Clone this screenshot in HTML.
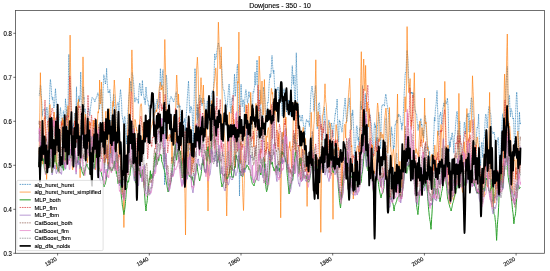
<!DOCTYPE html>
<html><head><meta charset="utf-8"><style>
html,body{margin:0;padding:0;background:#fff;}
svg{display:block;will-change:transform;}
text{font-family:"Liberation Sans", sans-serif;stroke:#000;stroke-width:0.12px;paint-order:stroke;}
</style></head><body>
<svg width="550" height="271" viewBox="0 0 550 271">
<rect x="0" y="0" width="550" height="271" fill="#fff"/>
<defs><clipPath id="ax"><rect x="15.5" y="10.5" width="529.0" height="242.8"/></clipPath></defs>
<g clip-path="url(#ax)"><polyline fill="none" stroke="#1f77b4" stroke-width="0.65" stroke-linejoin="round" stroke-dasharray="1.1,0.55" points="39.0,95.4 39.2,95.5 39.4,94.1 39.6,92.2 39.8,90.7 40.0,89.3 40.2,87.6 40.4,85.1 40.6,85.2 40.8,86.6 41.0,88.7 41.2,92.3 41.4,96.8 41.6,100.0 41.8,102.1 42.0,106.4 42.2,112.0 42.4,116.3 42.6,113.1 42.8,111.3 43.0,110.7 43.2,109.9 43.4,109.6 43.6,109.2 43.8,109.1 44.0,109.4 44.2,109.2 44.4,109.6 44.6,109.6 44.8,108.7 45.0,109.4 45.2,110.9 45.4,112.4 45.6,114.8 45.8,119.0 46.0,115.2 46.2,111.9 46.4,110.0 46.6,108.6 46.8,107.3 47.0,107.2 47.2,109.2 47.4,110.3 47.6,111.6 47.8,115.9 48.0,122.7 48.2,127.1 48.4,124.7 48.6,121.7 48.8,119.0 49.0,114.0 49.2,109.7 49.4,104.4 49.6,97.3 49.8,90.6 50.0,85.0 50.2,81.6 50.4,79.4 50.6,81.1 50.8,83.2 51.0,85.2 51.2,87.0 51.4,90.5 51.6,94.1 51.8,96.5 52.0,98.1 52.2,99.0 52.4,99.7 52.6,99.3 52.8,97.0 53.0,99.6 53.3,102.2 53.5,105.4 53.7,107.4 53.9,108.1 54.1,107.1 54.3,106.7 54.5,105.8 54.7,102.0 54.9,97.5 55.1,94.0 55.3,91.6 55.5,88.6 55.7,92.3 55.9,94.8 56.1,97.5 56.3,101.7 56.5,105.8 56.7,109.5 56.9,114.6 57.1,119.4 57.3,124.6 57.5,132.7 57.7,138.2 57.9,138.9 58.1,133.3 58.3,125.8 58.5,122.5 58.7,122.6 58.9,122.4 59.1,120.1 59.3,118.1 59.5,115.6 59.7,113.8 59.9,113.1 60.1,111.5 60.3,108.6 60.5,107.5 60.7,109.8 60.9,112.3 61.1,116.2 61.3,122.5 61.5,129.1 61.7,133.8 61.9,137.0 62.1,133.8 62.3,132.4 62.5,131.4 62.7,128.6 62.9,121.8 63.1,115.2 63.3,111.6 63.5,110.7 63.7,111.0 63.9,115.2 64.1,122.8 64.3,129.0 64.5,127.3 64.7,126.7 64.9,124.3 65.1,114.1 65.3,105.2 65.5,98.7 65.7,102.4 65.9,103.4 66.1,104.5 66.3,106.9 66.5,106.9 66.7,108.0 66.9,110.1 67.1,113.4 67.3,116.4 67.5,116.4 67.7,115.6 67.9,113.5 68.1,106.5 68.3,87.8 68.5,72.1 68.7,61.4 68.9,54.3 69.1,60.5 69.3,67.5 69.5,74.1 69.7,79.5 69.9,82.5 70.1,86.5 70.3,93.9 70.5,98.9 70.7,101.9 70.9,104.2 71.1,110.0 71.3,120.1 71.5,129.6 71.7,133.6 71.9,132.4 72.1,128.8 72.3,126.1 72.5,128.2 72.7,129.0 72.9,128.3 73.1,126.8 73.3,123.6 73.5,124.2 73.7,126.2 73.9,125.7 74.1,123.7 74.3,118.2 74.5,113.1 74.7,115.9 74.9,124.4 75.1,128.9 75.3,127.7 75.5,121.2 75.7,115.1 75.9,111.3 76.1,107.4 76.3,98.6 76.5,86.8 76.7,97.8 76.9,105.4 77.1,111.5 77.3,114.0 77.5,113.4 77.7,116.6 77.9,120.0 78.1,117.6 78.3,112.5 78.5,106.2 78.7,99.6 78.9,95.9 79.1,101.0 79.3,102.0 79.5,99.5 79.7,98.9 79.9,99.7 80.1,97.7 80.3,90.5 80.5,81.2 80.7,72.0 80.9,81.1 81.1,93.0 81.3,105.0 81.6,112.9 81.8,115.4 82.0,114.3 82.2,113.2 82.4,116.2 82.6,112.5 82.8,101.1 83.0,90.5 83.2,86.7 83.4,87.2 83.6,93.4 83.8,99.2 84.0,97.2 84.2,99.9 84.4,110.3 84.6,111.9 84.8,109.0 85.0,108.5 85.2,109.0 85.4,112.1 85.6,118.4 85.8,123.7 86.0,129.7 86.2,137.0 86.4,145.3 86.6,143.1 86.8,130.4 87.0,122.2 87.2,120.2 87.4,115.9 87.6,112.0 87.8,111.1 88.0,111.6 88.2,110.8 88.4,109.3 88.6,107.9 88.8,109.0 89.0,110.6 89.2,112.7 89.4,113.4 89.6,114.0 89.8,115.7 90.0,114.5 90.2,111.2 90.4,108.9 90.6,107.4 90.8,105.9 91.0,104.9 91.2,103.3 91.4,101.4 91.6,99.9 91.8,98.5 92.0,97.5 92.2,97.3 92.4,97.4 92.6,97.7 92.8,98.1 93.0,98.3 93.2,98.5 93.4,98.8 93.6,98.9 93.8,98.9 94.0,99.6 94.2,100.4 94.4,100.8 94.6,101.8 94.8,101.7 95.0,101.8 95.2,101.2 95.4,99.8 95.6,99.0 95.8,98.9 96.0,98.5 96.2,97.8 96.4,97.1 96.6,96.9 96.8,97.0 97.0,97.2 97.2,95.7 97.4,94.2 97.6,93.5 97.8,92.9 98.0,92.8 98.2,94.2 98.4,94.7 98.6,94.5 98.8,95.4 99.0,98.3 99.2,104.2 99.4,108.9 99.6,109.4 99.8,106.1 100.0,104.0 100.2,101.7 100.4,98.7 100.6,95.0 100.8,91.3 101.0,89.4 101.2,89.1 101.4,91.6 101.6,96.2 101.8,100.0 102.0,107.1 102.2,121.4 102.4,131.4 102.6,115.9 102.8,103.6 103.0,93.8 103.2,86.7 103.4,81.9 103.6,77.7 103.8,74.8 104.0,76.1 104.2,76.5 104.4,77.1 104.6,78.5 104.8,80.1 105.0,81.3 105.2,82.8 105.4,84.1 105.6,83.0 105.8,80.2 106.0,78.4 106.2,77.4 106.4,73.7 106.6,68.3 106.8,73.1 107.0,78.1 107.2,81.9 107.4,84.6 107.6,87.2 107.8,89.3 108.0,91.8 108.2,92.7 108.4,91.5 108.6,91.3 108.8,91.8 109.0,92.2 109.2,93.0 109.4,92.0 109.6,90.9 109.9,89.5 110.1,92.4 110.3,95.5 110.5,97.6 110.7,100.9 110.9,110.8 111.1,126.5 111.3,139.9 111.5,146.0 111.7,143.9 111.9,137.1 112.1,123.4 112.3,115.9 112.5,116.6 112.7,115.4 112.9,110.7 113.1,103.8 113.3,98.1 113.5,94.7 113.7,94.0 113.9,94.8 114.1,96.2 114.3,103.7 114.5,113.2 114.7,112.9 114.9,110.3 115.1,116.7 115.3,127.3 115.5,133.9 115.7,137.6 115.9,136.1 116.1,130.4 116.3,125.9 116.5,116.1 116.7,107.5 116.9,105.2 117.1,105.1 117.3,103.8 117.5,103.2 117.7,102.4 117.9,102.6 118.1,102.8 118.3,102.8 118.5,104.0 118.7,107.3 118.9,111.4 119.1,109.7 119.3,102.7 119.5,99.4 119.7,98.4 119.9,96.8 120.1,94.2 120.3,91.8 120.5,89.5 120.7,91.6 120.9,93.4 121.1,95.7 121.3,98.4 121.5,101.7 121.7,106.2 121.9,112.2 122.1,115.6 122.3,116.1 122.5,118.0 122.7,119.7 122.9,119.7 123.1,120.2 123.3,122.5 123.5,123.3 123.7,123.6 123.9,122.7 124.1,119.6 124.3,117.9 124.5,117.2 124.7,116.4 124.9,116.9 125.1,119.6 125.3,122.3 125.5,125.6 125.7,128.3 125.9,132.7 126.1,134.9 126.3,135.4 126.5,142.0 126.7,144.2 126.9,137.4 127.1,126.7 127.3,122.6 127.5,123.3 127.7,118.9 127.9,113.2 128.1,109.6 128.3,107.0 128.5,103.7 128.7,99.6 128.9,96.3 129.1,94.6 129.3,93.3 129.5,91.6 129.7,91.3 129.9,91.1 130.1,88.7 130.3,85.8 130.5,82.9 130.7,81.1 130.9,82.5 131.1,86.4 131.3,90.3 131.5,91.8 131.7,83.0 131.9,74.7 132.1,72.5 132.3,73.7 132.5,74.8 132.7,75.4 132.9,75.9 133.1,78.2 133.3,80.7 133.5,82.1 133.7,84.0 133.9,87.0 134.1,90.4 134.3,94.1 134.5,97.5 134.7,100.7 134.9,102.1 135.1,101.1 135.3,99.1 135.5,98.4 135.7,98.2 135.9,97.8 136.1,97.7 136.3,98.1 136.5,98.6 136.7,99.3 136.9,100.2 137.1,100.0 137.3,99.6 137.5,100.0 137.7,100.2 137.9,100.4 138.2,102.0 138.4,103.6 138.6,98.7 138.8,92.0 139.0,88.8 139.2,86.8 139.4,85.1 139.6,83.9 139.8,83.0 140.0,84.3 140.2,86.3 140.4,88.9 140.6,91.3 140.8,92.7 141.0,93.6 141.2,94.9 141.4,95.9 141.6,93.0 141.8,90.1 142.0,87.5 142.2,84.1 142.4,80.4 142.6,83.8 142.8,88.3 143.0,91.5 143.2,93.2 143.4,94.1 143.6,94.4 143.8,96.0 144.0,99.1 144.2,99.5 144.4,98.2 144.6,98.0 144.8,100.1 145.0,104.0 145.2,104.5 145.4,102.2 145.6,98.3 145.8,92.9 146.0,87.0 146.2,90.9 146.4,92.8 146.6,94.6 146.8,96.1 147.0,97.8 147.2,99.1 147.4,99.9 147.6,100.6 147.8,100.3 148.0,100.8 148.2,102.7 148.4,105.6 148.6,105.2 148.8,105.1 149.0,108.9 149.2,112.7 149.4,112.7 149.6,113.6 149.8,117.6 150.0,121.3 150.2,118.5 150.4,113.0 150.6,109.6 150.8,107.0 151.0,103.5 151.2,100.6 151.4,98.8 151.6,97.3 151.8,96.3 152.0,95.8 152.2,95.6 152.4,95.7 152.6,96.4 152.8,97.2 153.0,97.5 153.2,98.6 153.4,100.4 153.6,101.7 153.8,102.6 154.0,103.9 154.2,104.1 154.4,103.8 154.6,104.2 154.8,108.5 155.0,112.7 155.2,110.6 155.4,108.3 155.6,107.5 155.8,105.5 156.0,103.7 156.2,103.4 156.4,103.7 156.6,102.8 156.8,100.6 157.0,99.2 157.2,99.1 157.4,100.1 157.6,100.8 157.8,102.5 158.0,106.9 158.2,108.7 158.4,106.5 158.6,105.2 158.8,105.9 159.0,105.0 159.2,100.0 159.4,95.7 159.6,91.8 159.8,86.5 160.0,82.2 160.2,75.0 160.4,68.5 160.6,73.0 160.8,76.3 161.0,78.2 161.2,80.7 161.4,84.2 161.6,86.8 161.8,85.6 162.0,82.8 162.2,78.5 162.4,75.3 162.6,72.9 162.8,71.2 163.0,69.6 163.2,75.1 163.4,88.3 163.6,103.1 163.8,118.8 164.0,134.6 164.2,150.9 164.4,167.7 164.6,185.0 164.8,167.2 165.0,150.0 165.2,134.5 165.4,118.7 165.6,102.8 165.8,89.7 166.0,80.5 166.2,75.0 166.4,76.0 166.7,78.6 166.9,82.1 167.1,85.4 167.3,89.2 167.5,93.8 167.7,98.7 167.9,102.6 168.1,105.9 168.3,107.1 168.5,109.0 168.7,112.4 168.9,113.1 169.1,107.7 169.3,104.7 169.5,104.3 169.7,102.1 169.9,99.8 170.1,99.3 170.3,98.6 170.5,98.0 170.7,97.1 170.9,96.5 171.1,96.3 171.3,96.4 171.5,97.3 171.7,98.1 171.9,98.0 172.1,98.3 172.3,99.4 172.5,99.9 172.7,100.0 172.9,100.1 173.1,100.1 173.3,101.1 173.5,102.0 173.7,101.9 173.9,101.5 174.1,100.6 174.3,99.0 174.5,98.5 174.7,98.4 174.9,98.2 175.1,97.3 175.3,95.5 175.5,94.3 175.7,93.5 175.9,93.5 176.1,92.6 176.3,91.8 176.5,93.5 176.7,98.0 176.9,103.5 177.1,105.4 177.3,106.6 177.5,108.0 177.7,107.7 177.9,107.3 178.1,106.9 178.3,107.1 178.5,106.9 178.7,105.1 178.9,103.9 179.1,103.8 179.3,105.3 179.5,107.5 179.7,107.5 179.9,105.6 180.1,107.2 180.3,112.1 180.5,118.0 180.7,120.2 180.9,123.3 181.1,130.6 181.3,140.1 181.5,142.9 181.7,136.9 181.9,129.8 182.1,127.4 182.3,128.7 182.5,129.3 182.7,131.5 182.9,132.8 183.1,127.0 183.3,122.1 183.5,122.6 183.7,121.1 183.9,121.3 184.1,121.8 184.3,121.3 184.5,119.9 184.7,118.4 184.9,120.7 185.1,124.5 185.3,129.5 185.5,130.9 185.7,124.6 185.9,120.3 186.1,117.6 186.3,115.1 186.5,111.8 186.7,109.3 186.9,106.2 187.1,101.8 187.3,98.5 187.5,95.8 187.7,92.4 187.9,89.2 188.1,86.9 188.3,84.3 188.5,81.0 188.7,85.1 188.9,90.2 189.1,95.7 189.3,101.8 189.5,107.6 189.7,111.4 189.9,113.2 190.1,113.0 190.3,109.3 190.5,107.3 190.7,107.0 190.9,106.1 191.1,106.4 191.3,108.2 191.5,108.9 191.7,108.1 191.9,110.0 192.1,112.3 192.3,115.4 192.5,121.0 192.7,127.3 192.9,135.3 193.1,142.6 193.3,146.1 193.5,133.6 193.7,117.0 193.9,106.0 194.1,101.6 194.3,94.5 194.5,83.3 194.7,74.2 195.0,68.5 195.2,71.8 195.4,74.9 195.6,79.2 195.8,85.6 196.0,95.3 196.2,99.6 196.4,100.9 196.6,109.4 196.8,114.8 197.0,113.5 197.2,117.5 197.4,119.9 197.6,111.1 197.8,107.9 198.0,112.1 198.2,111.4 198.4,104.7 198.6,100.4 198.8,98.3 199.0,98.5 199.2,99.8 199.4,98.2 199.6,95.1 199.8,94.8 200.0,96.7 200.2,97.5 200.4,99.3 200.6,102.3 200.8,102.7 201.0,101.3 201.2,99.1 201.4,98.4 201.6,99.8 201.8,104.6 202.0,105.9 202.2,103.6 202.4,103.0 202.6,103.2 202.8,103.8 203.0,103.3 203.2,101.2 203.4,98.6 203.6,97.9 203.8,98.5 204.0,98.9 204.2,99.3 204.4,100.7 204.6,102.8 204.8,104.2 205.0,107.2 205.2,112.8 205.4,116.1 205.6,115.2 205.8,114.4 206.0,117.3 206.2,115.7 206.4,110.8 206.6,106.5 206.8,104.8 207.0,102.6 207.2,101.0 207.4,101.1 207.6,102.1 207.8,103.0 208.0,104.0 208.2,106.1 208.4,108.3 208.6,110.3 208.8,111.9 209.0,112.4 209.2,110.5 209.4,107.5 209.6,105.5 209.8,105.4 210.0,106.0 210.2,105.9 210.4,105.1 210.6,106.0 210.8,105.3 211.0,100.1 211.2,97.1 211.4,95.5 211.6,94.5 211.8,93.7 212.0,92.8 212.2,91.7 212.4,90.6 212.6,91.8 212.8,92.2 213.0,92.3 213.2,93.3 213.4,90.6 213.6,85.3 213.8,81.6 214.0,78.7 214.2,71.2 214.4,63.3 214.6,57.8 214.8,53.7 215.0,56.7 215.2,58.3 215.4,59.0 215.6,59.5 215.8,59.3 216.0,58.3 216.2,57.6 216.4,56.6 216.6,53.9 216.8,51.7 217.0,50.5 217.2,49.2 217.4,47.9 217.6,47.0 217.8,45.9 218.0,44.6 218.2,43.5 218.4,42.7 218.6,43.7 218.8,44.7 219.0,46.1 219.2,48.1 219.4,49.8 219.6,51.5 219.8,53.2 220.0,54.7 220.2,55.5 220.4,56.1 220.6,56.3 220.8,56.7 221.0,57.4 221.2,58.6 221.4,61.5 221.6,65.3 221.8,69.0 222.0,73.3 222.2,76.9 222.4,79.5 222.6,82.7 222.8,86.8 223.0,89.1 223.3,89.4 223.5,89.7 223.7,89.8 223.9,90.0 224.1,90.8 224.3,92.3 224.5,94.2 224.7,95.3 224.9,96.8 225.1,98.6 225.3,99.6 225.5,100.9 225.7,102.9 225.9,106.0 226.1,111.6 226.3,115.7 226.5,112.6 226.7,110.6 226.9,107.7 227.1,106.1 227.3,105.6 227.5,103.3 227.7,100.1 227.9,97.2 228.1,94.5 228.3,91.7 228.5,89.2 228.7,87.4 228.9,86.0 229.1,84.0 229.3,86.6 229.5,89.2 229.7,92.9 229.9,97.9 230.1,104.0 230.3,107.7 230.5,107.7 230.7,109.7 230.9,112.2 231.1,113.5 231.3,109.5 231.5,105.7 231.7,102.6 231.9,99.7 232.1,97.9 232.3,97.5 232.5,98.9 232.7,99.6 232.9,100.9 233.1,99.4 233.3,94.2 233.5,91.2 233.7,90.1 233.9,86.9 234.1,82.6 234.3,79.0 234.5,74.0 234.7,80.3 234.9,87.5 235.1,96.5 235.3,95.8 235.5,93.6 235.7,92.0 235.9,88.9 236.1,84.0 236.3,79.1 236.5,76.6 236.7,74.4 236.9,71.9 237.1,68.0 237.3,64.7 237.5,64.5 237.7,68.9 237.9,70.7 238.1,81.0 238.3,98.1 238.5,112.4 238.7,123.8 238.9,139.6 239.1,160.3 239.3,178.2 239.5,196.0 239.7,176.6 239.9,157.4 240.1,139.6 240.3,124.0 240.5,110.8 240.7,98.9 240.9,88.4 241.1,84.2 241.3,90.0 241.5,93.8 241.7,97.3 241.9,102.4 242.1,106.1 242.3,106.6 242.5,105.5 242.7,103.5 242.9,100.9 243.1,99.6 243.3,100.9 243.5,101.8 243.7,101.6 243.9,103.2 244.1,107.2 244.3,112.1 244.5,109.6 244.7,102.9 244.9,98.9 245.1,95.8 245.3,93.6 245.5,91.9 245.7,91.0 245.9,89.7 246.1,91.1 246.3,92.0 246.5,93.6 246.7,96.2 246.9,97.7 247.1,99.5 247.3,102.3 247.5,103.3 247.7,102.5 247.9,100.6 248.1,99.0 248.3,98.6 248.5,96.5 248.7,93.5 248.9,91.5 249.1,93.1 249.3,94.8 249.5,96.9 249.7,97.2 249.9,96.2 250.1,96.2 250.3,96.8 250.5,97.0 250.7,99.7 250.9,102.7 251.1,104.1 251.3,105.3 251.6,107.0 251.8,112.1 252.0,124.6 252.2,128.9 252.4,120.8 252.6,108.4 252.8,98.6 253.0,93.7 253.2,91.2 253.4,91.6 253.6,91.8 253.8,92.4 254.0,90.7 254.2,88.3 254.4,87.5 254.6,84.7 254.8,79.2 255.0,72.0 255.2,79.5 255.4,84.6 255.6,85.2 255.8,84.7 256.0,83.5 256.2,78.7 256.4,72.7 256.6,68.7 256.8,64.5 257.0,60.0 257.2,64.4 257.4,70.6 257.6,81.0 257.8,93.6 258.0,100.5 258.2,107.5 258.4,124.7 258.6,136.2 258.8,135.5 259.0,131.2 259.2,127.2 259.4,119.0 259.6,108.2 259.8,98.2 260.0,89.9 260.2,91.7 260.4,97.5 260.6,102.7 260.8,107.7 261.0,111.3 261.2,115.5 261.4,117.5 261.6,119.5 261.8,129.1 262.0,140.4 262.2,146.1 262.4,150.0 262.6,147.7 262.8,131.7 263.0,113.4 263.2,98.6 263.4,89.8 263.6,87.2 263.8,89.6 264.0,90.6 264.2,90.5 264.4,92.6 264.6,95.7 264.8,97.5 265.0,99.4 265.2,105.2 265.4,112.1 265.6,113.6 265.8,113.3 266.0,115.6 266.2,118.2 266.4,115.1 266.6,112.4 266.8,111.3 267.0,112.1 267.2,109.3 267.4,105.2 267.6,102.6 267.8,102.0 268.0,102.9 268.2,101.7 268.4,99.1 268.6,94.8 268.8,90.5 269.0,86.5 269.2,83.4 269.4,80.8 269.6,78.4 269.8,76.0 270.0,74.0 270.2,76.0 270.4,77.6 270.6,77.2 270.8,75.7 271.0,73.1 271.2,70.0 271.4,66.5 271.6,62.8 271.8,59.2 272.0,55.5 272.2,59.1 272.4,62.7 272.6,65.5 272.8,68.1 273.0,70.0 273.2,72.2 273.4,73.4 273.6,72.7 273.8,70.0 274.0,73.8 274.2,78.0 274.4,82.1 274.6,86.5 274.8,91.2 275.0,95.0 275.2,96.4 275.4,97.4 275.6,96.3 275.8,92.1 276.0,88.7 276.2,91.4 276.4,93.0 276.6,91.7 276.8,90.3 277.0,90.0 277.2,90.2 277.4,90.0 277.6,89.5 277.8,88.0 278.0,86.9 278.2,89.1 278.4,92.1 278.6,95.1 278.8,99.4 279.0,105.5 279.2,100.0 279.4,94.2 279.6,92.4 279.9,90.5 280.1,88.6 280.3,87.1 280.5,86.3 280.7,87.8 280.9,89.0 281.1,90.0 281.3,92.9 281.5,97.2 281.7,102.0 281.9,107.9 282.1,114.5 282.3,116.0 282.5,108.8 282.7,102.4 282.9,98.4 283.1,95.5 283.3,93.5 283.5,92.2 283.7,90.5 283.9,89.2 284.1,88.8 284.3,90.0 284.5,91.5 284.7,92.2 284.9,92.4 285.1,93.8 285.3,95.7 285.5,97.6 285.7,100.8 285.9,104.8 286.1,109.2 286.3,112.3 286.5,111.5 286.7,108.8 286.9,107.5 287.1,106.7 287.3,104.4 287.5,103.3 287.7,104.3 287.9,104.2 288.1,103.0 288.3,101.5 288.5,99.8 288.7,99.8 288.9,103.2 289.1,105.9 289.3,107.5 289.5,108.2 289.7,107.7 289.9,110.9 290.1,115.6 290.3,115.0 290.5,112.4 290.7,111.5 290.9,111.0 291.1,105.6 291.3,94.5 291.5,85.2 291.7,79.4 291.9,74.2 292.1,69.6 292.3,65.7 292.5,70.0 292.7,73.7 292.9,76.9 293.1,81.2 293.3,84.6 293.5,84.0 293.7,80.6 293.9,75.0 294.1,82.5 294.3,88.6 294.5,93.8 294.7,101.2 294.9,105.7 295.1,107.0 295.3,105.9 295.5,97.7 295.7,87.0 295.9,74.9 296.1,63.1 296.3,52.8 296.5,62.1 296.7,72.3 296.9,80.3 297.1,83.9 297.3,89.2 297.5,98.7 297.7,105.0 297.9,104.3 298.1,103.4 298.3,108.0 298.5,112.4 298.7,113.8 298.9,115.6 299.1,115.7 299.3,115.2 299.5,117.3 299.7,116.4 299.9,115.4 300.1,118.1 300.3,120.0 300.5,120.5 300.7,120.8 300.9,120.5 301.1,121.2 301.3,120.4 301.5,118.4 301.7,117.3 301.9,116.2 302.1,115.1 302.3,115.0 302.5,116.5 302.7,118.8 302.9,121.2 303.1,122.4 303.3,123.0 303.5,124.5 303.7,126.0 303.9,126.0 304.1,126.5 304.3,129.0 304.5,131.9 304.7,133.7 304.9,135.0 305.1,132.5 305.3,129.9 305.5,127.7 305.7,124.0 305.9,122.5 306.1,121.9 306.3,120.5 306.5,119.3 306.7,119.9 306.9,120.8 307.1,121.2 307.3,121.9 307.5,121.9 307.7,121.4 307.9,120.9 308.2,120.5 308.4,121.6 308.6,122.6 308.8,122.5 309.0,123.0 309.2,124.1 309.4,126.4 309.6,121.5 309.8,117.5 310.0,114.8 310.2,111.5 310.4,106.0 310.6,99.7 310.8,95.7 311.0,92.7 311.2,91.4 311.4,90.2 311.6,88.8 311.8,87.4 312.0,86.0 312.2,87.3 312.4,88.8 312.6,90.6 312.8,92.5 313.0,95.0 313.2,97.5 313.4,98.8 313.6,100.4 313.8,106.9 314.0,111.3 314.2,105.7 314.4,97.6 314.6,93.6 314.8,93.3 315.0,92.9 315.2,90.0 315.4,85.7 315.6,85.5 315.8,92.2 316.0,99.7 316.2,106.7 316.4,114.5 316.6,124.1 316.8,124.6 317.0,125.4 317.2,128.9 317.4,127.2 317.6,124.1 317.8,122.7 318.0,115.9 318.2,109.0 318.4,105.3 318.6,103.7 318.8,103.1 319.0,102.8 319.2,102.6 319.4,102.6 319.6,105.1 319.8,109.3 320.0,115.2 320.2,118.4 320.4,118.6 320.6,118.9 320.8,122.7 321.0,130.9 321.2,135.2 321.4,134.6 321.6,137.7 321.8,143.8 322.0,146.9 322.2,151.0 322.4,151.1 322.6,148.3 322.8,142.9 323.0,137.8 323.2,131.3 323.4,126.7 323.6,126.4 323.8,123.4 324.0,115.8 324.2,109.0 324.4,107.1 324.6,109.4 324.8,114.7 325.0,117.1 325.2,118.1 325.4,120.6 325.6,124.6 325.8,133.6 326.0,142.5 326.2,143.9 326.4,141.0 326.6,136.5 326.8,135.8 327.0,140.0 327.2,141.7 327.4,144.3 327.6,144.0 327.8,135.1 328.0,126.5 328.2,125.0 328.4,124.5 328.6,121.8 328.8,120.0 329.0,120.0 329.2,123.3 329.4,127.5 329.6,126.3 329.8,129.6 330.0,141.4 330.2,146.2 330.4,137.7 330.6,130.3 330.8,128.4 331.0,127.0 331.2,124.7 331.4,123.3 331.6,122.8 331.8,125.4 332.0,125.5 332.2,125.9 332.4,131.0 332.6,137.1 332.8,136.9 333.0,135.8 333.2,136.0 333.4,136.1 333.6,133.6 333.8,127.5 334.0,123.7 334.2,122.4 334.4,122.1 334.6,119.9 334.8,117.6 335.0,115.7 335.2,113.7 335.4,114.4 335.6,112.4 335.8,109.8 336.0,108.1 336.2,108.0 336.5,108.5 336.7,107.5 336.9,104.5 337.1,99.0 337.3,106.3 337.5,114.5 337.7,123.4 337.9,128.5 338.1,132.6 338.3,136.5 338.5,141.6 338.7,142.0 338.9,134.0 339.1,125.5 339.3,120.3 339.5,119.9 339.7,122.3 339.9,122.0 340.1,121.5 340.3,122.1 340.5,123.1 340.7,125.3 340.9,126.7 341.1,127.2 341.3,128.8 341.5,129.4 341.7,129.6 341.9,132.2 342.1,131.4 342.3,128.1 342.5,126.7 342.7,124.7 342.9,121.6 343.1,119.7 343.3,118.3 343.5,115.1 343.7,111.7 343.9,109.2 344.1,108.1 344.3,106.6 344.5,104.4 344.7,102.8 344.9,100.6 345.1,98.0 345.3,100.3 345.5,103.2 345.7,107.4 345.9,112.6 346.1,116.9 346.3,117.6 346.5,119.0 346.7,121.9 346.9,120.9 347.1,117.8 347.3,116.7 347.5,115.2 347.7,113.2 347.9,110.3 348.1,107.7 348.3,106.8 348.5,105.2 348.7,102.6 348.9,99.6 349.1,97.9 349.3,98.8 349.5,102.5 349.7,105.1 349.9,107.9 350.1,111.6 350.3,114.8 350.5,118.3 350.7,123.1 350.9,125.2 351.1,128.8 351.3,130.0 351.5,126.1 351.7,118.9 351.9,113.3 352.1,114.0 352.3,115.6 352.5,112.5 352.7,109.9 352.9,111.3 353.1,117.0 353.3,123.1 353.5,126.4 353.7,129.7 353.9,135.8 354.1,142.2 354.3,149.4 354.5,156.0 354.7,164.2 354.9,165.5 355.1,157.6 355.3,151.4 355.5,145.5 355.7,141.9 355.9,139.8 356.1,135.2 356.3,129.8 356.5,126.3 356.7,125.8 356.9,125.7 357.1,126.0 357.3,127.9 357.5,131.8 357.7,135.5 357.9,138.7 358.1,140.6 358.3,138.1 358.5,137.2 358.7,145.5 358.9,153.7 359.1,149.7 359.3,140.4 359.5,130.8 359.7,127.8 359.9,130.8 360.1,127.2 360.3,113.7 360.5,103.5 360.7,101.2 360.9,104.6 361.1,108.8 361.3,106.2 361.5,105.6 361.7,109.8 361.9,106.1 362.1,97.1 362.3,91.7 362.5,85.5 362.7,95.7 362.9,107.9 363.1,120.6 363.3,130.3 363.5,135.0 363.7,135.1 363.9,131.4 364.1,126.3 364.3,115.1 364.5,105.4 364.8,101.8 365.0,100.1 365.2,95.8 365.4,93.6 365.6,98.9 365.8,107.3 366.0,111.7 366.2,117.1 366.4,124.0 366.6,127.1 366.8,126.4 367.0,126.9 367.2,127.2 367.4,129.2 367.6,129.3 367.8,127.1 368.0,127.5 368.2,127.1 368.4,123.6 368.6,120.8 368.8,119.6 369.0,119.4 369.2,121.1 369.4,118.1 369.6,113.8 369.8,114.1 370.0,114.9 370.2,115.2 370.4,116.7 370.6,119.1 370.8,121.2 371.0,123.3 371.2,123.4 371.4,124.9 371.6,128.1 371.8,131.6 372.0,133.9 372.2,134.9 372.4,138.7 372.6,143.3 372.8,146.3 373.0,149.2 373.2,153.3 373.4,157.0 373.6,151.6 373.8,143.7 374.0,134.8 374.2,127.6 374.4,123.7 374.6,122.7 374.8,123.7 375.0,124.9 375.2,127.6 375.4,127.8 375.6,125.5 375.8,128.0 376.0,137.7 376.2,141.5 376.4,137.4 376.6,139.3 376.8,146.0 377.0,149.7 377.2,139.5 377.4,128.3 377.6,123.9 377.8,122.7 378.0,121.0 378.2,119.8 378.4,117.4 378.6,114.5 378.8,112.4 379.0,113.6 379.2,115.1 379.4,118.4 379.6,123.3 379.8,123.8 380.0,127.1 380.2,139.8 380.4,148.9 380.6,147.0 380.8,142.0 381.0,131.4 381.2,121.0 381.4,114.4 381.6,109.2 381.8,106.6 382.0,105.4 382.2,105.9 382.4,105.7 382.6,105.0 382.8,104.5 383.0,104.3 383.2,104.5 383.4,105.0 383.6,105.1 383.8,104.9 384.0,104.8 384.2,105.1 384.4,106.1 384.6,105.2 384.8,101.7 385.0,99.4 385.2,98.1 385.4,96.7 385.6,95.3 385.8,94.0 386.0,95.3 386.2,96.6 386.4,97.9 386.6,99.6 386.8,101.9 387.0,103.9 387.2,105.0 387.4,106.0 387.6,107.3 387.8,109.3 388.0,110.3 388.2,111.4 388.4,112.7 388.6,114.3 388.8,117.5 389.0,121.8 389.2,123.3 389.4,124.3 389.6,126.9 389.8,131.9 390.0,138.4 390.2,143.9 390.4,146.6 390.6,142.9 390.8,138.8 391.0,135.1 391.2,131.7 391.4,127.8 391.6,126.8 391.8,130.1 392.0,134.4 392.2,135.0 392.4,133.9 392.6,134.5 392.8,138.6 393.1,145.0 393.3,150.0 393.5,150.3 393.7,145.8 393.9,146.1 394.1,147.4 394.3,144.8 394.5,139.2 394.7,132.4 394.9,127.7 395.1,124.8 395.3,124.1 395.5,124.6 395.7,124.2 395.9,123.1 396.1,121.6 396.3,121.0 396.5,121.2 396.7,119.9 396.9,120.5 397.1,123.3 397.3,122.7 397.5,119.5 397.7,116.4 397.9,114.5 398.1,115.7 398.3,117.0 398.5,115.5 398.7,114.1 398.9,114.0 399.1,114.8 399.3,115.2 399.5,115.3 399.7,115.6 399.9,115.6 400.1,116.0 400.3,118.4 400.5,120.6 400.7,121.5 400.9,122.8 401.1,123.7 401.3,123.1 401.5,124.6 401.7,129.2 401.9,130.2 402.1,124.7 402.3,123.6 402.5,124.9 402.7,125.3 402.9,124.2 403.1,120.2 403.3,113.9 403.5,109.1 403.7,104.6 403.9,99.6 404.1,95.6 404.3,91.3 404.5,87.2 404.7,84.1 404.9,79.9 405.1,75.7 405.3,73.2 405.5,72.3 405.7,72.8 405.9,72.8 406.1,71.6 406.3,64.8 406.5,59.3 406.7,54.8 406.9,51.0 407.1,50.4 407.3,52.0 407.5,53.9 407.7,56.6 407.9,59.8 408.1,64.2 408.3,69.8 408.5,74.6 408.7,79.1 408.9,82.9 409.1,83.1 409.3,83.4 409.5,83.9 409.7,86.0 409.9,88.8 410.1,91.4 410.3,93.4 410.5,94.0 410.7,93.0 410.9,92.6 411.1,93.4 411.3,92.9 411.5,92.1 411.7,92.8 411.9,93.5 412.1,92.8 412.3,92.1 412.5,92.5 412.7,94.9 412.9,97.6 413.1,96.6 413.3,94.9 413.5,93.6 413.7,92.4 413.9,93.3 414.1,97.6 414.3,104.1 414.5,106.0 414.7,106.1 414.9,109.3 415.1,111.0 415.3,110.5 415.5,110.9 415.7,112.2 415.9,113.7 416.1,114.2 416.3,114.3 416.5,114.3 416.7,114.7 416.9,117.9 417.1,120.6 417.3,122.5 417.5,124.5 417.7,125.2 417.9,127.6 418.1,130.5 418.3,128.6 418.5,126.4 418.7,125.0 418.9,124.2 419.1,124.5 419.3,125.8 419.5,127.4 419.7,127.6 419.9,126.3 420.1,124.3 420.3,122.0 420.5,119.7 420.7,118.8 420.9,118.5 421.1,120.2 421.3,123.4 421.6,125.3 421.8,124.1 422.0,125.3 422.2,131.8 422.4,135.6 422.6,135.0 422.8,134.1 423.0,130.2 423.2,130.2 423.4,133.4 423.6,138.0 423.8,137.5 424.0,132.6 424.2,129.3 424.4,123.3 424.6,117.5 424.8,115.8 425.0,115.4 425.2,116.1 425.4,117.7 425.6,118.4 425.8,119.9 426.0,123.6 426.2,128.5 426.4,133.1 426.6,136.6 426.8,139.1 427.0,141.5 427.2,146.5 427.4,150.3 427.6,150.9 427.8,148.1 428.0,145.9 428.2,148.1 428.4,153.4 428.6,153.9 428.8,152.5 429.0,154.8 429.2,154.6 429.4,151.2 429.6,152.5 429.8,157.2 430.0,159.3 430.2,163.1 430.4,168.9 430.6,172.9 430.8,174.0 431.0,176.2 431.2,176.1 431.4,173.2 431.6,174.7 431.8,175.3 432.0,173.7 432.2,170.2 432.4,167.1 432.6,164.7 432.8,162.0 433.0,162.1 433.2,159.0 433.4,147.2 433.6,137.7 433.8,134.9 434.0,131.4 434.2,123.2 434.4,117.4 434.6,117.9 434.8,121.4 435.0,120.2 435.2,113.8 435.4,108.8 435.6,107.8 435.8,107.0 436.0,105.1 436.2,102.9 436.4,100.2 436.6,97.1 436.8,94.4 437.0,90.6 437.2,95.9 437.4,101.9 437.6,107.4 437.8,113.4 438.0,123.0 438.2,135.5 438.4,135.6 438.6,134.8 438.8,129.9 439.0,125.1 439.2,119.8 439.4,116.6 439.6,115.1 439.8,114.9 440.0,115.4 440.2,115.4 440.4,114.1 440.6,112.0 440.8,113.6 441.0,115.0 441.2,117.4 441.4,121.3 441.6,124.0 441.8,124.6 442.0,122.4 442.2,118.1 442.4,113.7 442.6,110.5 442.8,108.4 443.0,107.5 443.2,107.1 443.4,106.1 443.6,104.6 443.8,103.2 444.0,102.8 444.2,104.0 444.4,106.2 444.6,106.7 444.8,102.6 445.0,100.4 445.2,100.5 445.4,101.2 445.6,101.7 445.8,102.9 446.0,104.0 446.2,104.0 446.4,103.1 446.6,102.0 446.8,101.7 447.0,101.4 447.2,100.3 447.4,98.0 447.6,100.5 447.8,103.0 448.0,105.9 448.2,111.0 448.4,119.6 448.6,128.5 448.8,135.3 449.0,144.5 449.2,151.7 449.4,150.8 449.6,143.4 449.9,141.5 450.1,145.8 450.3,147.1 450.5,143.1 450.7,138.9 450.9,137.6 451.1,138.5 451.3,139.7 451.5,138.4 451.7,135.1 451.9,133.2 452.1,132.7 452.3,132.8 452.5,133.8 452.7,136.0 452.9,138.4 453.1,140.1 453.3,142.5 453.5,145.3 453.7,148.9 453.9,153.2 454.1,146.0 454.3,138.7 454.5,136.0 454.7,135.1 454.9,134.8 455.1,133.1 455.3,129.6 455.5,125.9 455.7,123.2 455.9,121.4 456.1,119.2 456.3,116.6 456.5,114.6 456.7,112.9 456.9,111.9 457.1,111.3 457.3,113.1 457.5,117.8 457.7,124.2 457.9,128.0 458.1,131.5 458.3,142.9 458.5,157.0 458.7,166.3 458.9,158.0 459.1,150.5 459.3,141.4 459.5,130.6 459.7,121.0 459.9,123.1 460.1,129.6 460.3,136.6 460.5,141.4 460.7,145.9 460.9,149.7 461.1,153.7 461.3,158.2 461.5,162.7 461.7,168.1 461.9,173.3 462.1,171.0 462.3,167.1 462.5,162.2 462.7,159.4 462.9,154.7 463.1,149.2 463.3,144.2 463.5,140.7 463.7,137.7 463.9,131.1 464.1,125.0 464.3,122.1 464.5,122.5 464.7,124.3 464.9,126.4 465.1,127.6 465.3,128.9 465.5,130.9 465.7,134.1 465.9,129.2 466.1,122.1 466.3,118.5 466.5,116.7 466.7,115.4 466.9,114.5 467.1,114.3 467.3,115.6 467.5,117.3 467.7,116.5 467.9,114.1 468.1,113.2 468.3,114.5 468.5,119.3 468.7,124.7 468.9,128.7 469.1,132.2 469.3,126.7 469.5,121.4 469.7,116.2 469.9,113.9 470.1,112.4 470.3,110.1 470.5,107.7 470.7,104.8 470.9,101.8 471.1,99.5 471.3,97.8 471.5,97.7 471.7,99.3 471.9,99.7 472.1,101.3 472.3,105.1 472.5,106.3 472.7,109.3 472.9,115.9 473.1,118.8 473.3,121.3 473.5,127.4 473.7,131.7 473.9,133.4 474.1,135.2 474.3,140.2 474.5,144.5 474.7,143.9 474.9,142.9 475.1,143.9 475.3,144.4 475.5,144.0 475.7,145.4 475.9,145.1 476.1,142.3 476.3,139.8 476.5,136.1 476.7,132.9 476.9,130.0 477.1,127.3 477.3,127.6 477.5,128.0 477.7,126.9 477.9,125.6 478.2,123.0 478.4,119.2 478.6,114.0 478.8,121.0 479.0,127.9 479.2,135.1 479.4,143.6 479.6,155.0 479.8,161.2 480.0,161.4 480.2,160.4 480.4,163.3 480.6,165.9 480.8,159.1 481.0,149.8 481.2,146.4 481.4,146.8 481.6,145.2 481.8,142.1 482.0,143.1 482.2,145.5 482.4,150.8 482.6,156.9 482.8,157.7 483.0,154.3 483.2,149.5 483.4,146.3 483.6,143.9 483.8,139.8 484.0,137.8 484.2,137.9 484.4,136.9 484.6,132.6 484.8,126.9 485.0,122.5 485.2,119.4 485.4,116.9 485.6,115.2 485.8,114.0 486.0,115.1 486.2,116.2 486.4,117.1 486.6,118.7 486.8,121.8 487.0,126.4 487.2,128.0 487.4,126.5 487.6,122.1 487.8,118.6 488.0,116.0 488.2,113.5 488.4,110.9 488.6,108.9 488.8,108.0 489.0,106.8 489.2,106.0 489.4,106.1 489.6,107.4 489.8,109.9 490.0,112.4 490.2,113.1 490.4,113.0 490.6,113.6 490.8,114.9 491.0,117.4 491.2,121.2 491.4,125.7 491.6,128.4 491.8,130.3 492.0,131.4 492.2,132.5 492.4,133.2 492.6,133.5 492.8,133.2 493.0,132.8 493.2,132.4 493.4,133.2 493.6,133.5 493.8,132.8 494.0,132.2 494.2,132.3 494.4,133.7 494.6,135.4 494.8,138.1 495.0,141.2 495.2,143.1 495.4,146.3 495.6,151.2 495.8,152.0 496.0,149.5 496.2,148.5 496.4,147.4 496.6,146.0 496.8,145.7 497.0,144.8 497.2,142.4 497.4,141.2 497.6,139.9 497.8,138.6 498.0,137.8 498.2,137.3 498.4,138.6 498.6,142.4 498.8,146.5 499.0,151.2 499.2,157.0 499.4,163.7 499.6,167.6 499.8,166.1 500.0,161.1 500.2,156.8 500.4,154.3 500.6,155.4 500.8,153.8 501.0,146.3 501.2,137.3 501.4,132.3 501.6,130.5 501.8,128.0 502.0,123.9 502.2,120.2 502.4,116.4 502.6,114.2 502.8,113.6 503.0,115.7 503.2,121.5 503.4,125.4 503.6,127.3 503.8,129.4 504.0,125.1 504.2,115.5 504.4,108.8 504.6,107.4 504.8,106.0 505.0,103.4 505.2,100.5 505.4,98.0 505.6,94.7 505.8,90.0 506.0,85.6 506.2,81.9 506.5,77.1 506.7,74.5 506.9,73.7 507.1,69.9 507.3,66.5 507.5,72.3 507.7,83.8 507.9,91.7 508.1,97.6 508.3,105.9 508.5,107.1 508.7,103.0 508.9,97.5 509.1,95.5 509.3,95.2 509.5,95.3 509.7,101.9 509.9,108.0 510.1,110.9 510.3,113.5 510.5,116.6 510.7,113.5 510.9,110.3 511.1,108.5 511.3,109.7 511.5,110.3 511.7,110.5 511.9,110.9 512.1,112.3 512.3,114.0 512.5,115.2 512.7,117.1 512.9,119.1 513.1,119.2 513.3,118.6 513.5,117.8 513.7,120.4 513.9,128.5 514.1,135.2 514.3,139.2 514.5,144.0 514.7,144.9 514.9,143.6 515.1,142.9 515.3,131.0 515.5,118.5 515.7,111.5 515.9,107.1 516.1,102.9 516.3,98.5 516.5,94.6 516.7,92.0 516.9,94.5 517.1,98.5 517.3,103.6 517.5,110.5 517.7,121.0 517.9,132.1 518.1,139.7 518.3,147.1 518.5,147.2 518.7,139.3 518.9,130.2 519.1,124.5 519.3,119.0 519.5,112.0 519.7,117.2 519.9,120.2 520.1,122.6 520.3,124.2 520.5,122.8"/>
<polyline fill="none" stroke="#ff7f0e" stroke-width="0.65" stroke-linejoin="round" points="39.0,154.3 39.2,150.6 39.4,139.1 39.6,125.6 39.8,112.7 40.0,99.4 40.2,85.5 40.4,72.7 40.6,83.2 40.8,92.3 41.0,96.4 41.2,96.3 41.4,99.1 41.6,105.0 41.8,120.6 42.0,134.8 42.2,137.4 42.4,142.1 42.6,154.7 42.8,164.2 43.0,159.4 43.2,146.8 43.4,137.7 43.6,134.3 43.8,130.1 44.0,125.5 44.2,120.8 44.4,118.0 44.6,118.4 44.8,118.0 45.0,116.3 45.2,122.4 45.4,133.9 45.6,143.1 45.8,149.3 46.0,155.4 46.2,162.7 46.4,171.6 46.6,179.5 46.8,173.6 47.0,166.2 47.2,158.7 47.4,155.7 47.6,151.5 47.8,145.7 48.0,148.4 48.2,146.1 48.4,137.1 48.6,125.7 48.8,121.4 49.0,121.5 49.2,117.2 49.4,110.4 49.6,107.0 49.8,104.8 50.0,104.5 50.2,106.2 50.4,111.9 50.6,118.4 50.8,124.0 51.0,133.5 51.2,140.6 51.4,139.2 51.6,130.2 51.8,129.9 52.0,136.7 52.2,140.5 52.4,138.0 52.6,129.6 52.8,124.9 53.0,123.2 53.3,122.7 53.5,122.3 53.7,119.8 53.9,116.4 54.1,112.0 54.3,112.2 54.5,116.2 54.7,128.5 54.9,141.4 55.1,145.1 55.3,143.2 55.5,142.6 55.7,148.6 55.9,157.6 56.1,162.8 56.3,166.6 56.5,169.3 56.7,167.5 56.9,159.6 57.1,147.4 57.3,136.9 57.5,127.5 57.7,118.7 57.9,116.8 58.1,119.6 58.3,121.4 58.5,122.8 58.7,124.4 58.9,126.1 59.1,135.4 59.3,148.2 59.5,151.6 59.7,149.3 59.9,149.1 60.1,153.0 60.3,150.4 60.5,143.9 60.7,143.0 60.9,141.9 61.1,136.7 61.3,130.2 61.5,123.5 61.7,123.2 61.9,125.8 62.1,121.5 62.3,117.8 62.5,119.6 62.7,124.4 62.9,124.9 63.1,119.9 63.3,122.9 63.5,127.1 63.7,135.9 63.9,146.6 64.1,151.6 64.3,154.2 64.5,159.0 64.7,160.0 64.9,161.8 65.1,161.0 65.3,159.4 65.5,157.4 65.7,152.4 65.9,144.0 66.1,135.0 66.3,125.2 66.5,118.2 66.7,119.9 66.9,119.8 67.1,115.0 67.3,113.5 67.5,115.2 67.7,111.1 67.9,105.7 68.1,107.2 68.3,115.6 68.5,131.8 68.7,139.1 68.9,132.4 69.1,119.2 69.3,104.1 69.5,89.3 69.7,71.9 69.9,52.2 70.1,35.1 70.3,48.3 70.5,62.7 70.7,76.8 70.9,88.5 71.1,101.2 71.3,119.8 71.5,136.2 71.7,149.1 71.9,151.3 72.1,157.8 72.3,166.7 72.5,169.7 72.7,169.9 72.9,168.8 73.1,163.1 73.3,157.0 73.5,151.6 73.7,147.2 73.9,143.3 74.1,139.8 74.3,132.8 74.5,125.7 74.7,121.3 74.9,119.4 75.1,117.1 75.3,113.0 75.5,114.0 75.7,114.5 75.9,113.0 76.1,114.0 76.3,116.3 76.5,116.9 76.7,121.9 76.9,129.8 77.1,127.9 77.3,116.8 77.5,107.1 77.7,103.0 77.9,102.6 78.1,103.2 78.3,101.3 78.5,99.3 78.7,104.2 78.9,111.8 79.1,123.8 79.3,138.9 79.5,147.8 79.7,155.6 79.9,166.6 80.1,177.7 80.3,169.0 80.5,162.0 80.7,157.4 80.9,156.5 81.1,152.9 81.3,138.6 81.6,123.4 81.8,116.3 82.0,111.3 82.2,103.9 82.4,93.8 82.6,79.8 82.8,66.8 83.0,56.9 83.2,64.4 83.4,74.1 83.6,87.0 83.8,102.9 84.0,120.8 84.2,135.9 84.4,140.9 84.6,138.2 84.8,126.8 85.0,119.8 85.2,118.8 85.4,116.8 85.6,114.3 85.8,116.6 86.0,120.4 86.2,126.1 86.4,135.4 86.6,145.3 86.8,148.2 87.0,149.8 87.2,154.8 87.4,159.9 87.6,162.7 87.8,158.6 88.0,151.0 88.2,144.2 88.4,143.7 88.6,144.3 88.8,141.3 89.0,139.7 89.2,135.6 89.4,126.5 89.6,121.4 89.8,123.0 90.0,125.3 90.2,124.2 90.4,122.9 90.6,123.2 90.8,123.2 91.0,129.8 91.2,141.2 91.4,144.3 91.6,141.2 91.8,140.8 92.0,145.8 92.2,153.9 92.4,155.4 92.6,145.7 92.8,135.1 93.0,125.7 93.2,120.2 93.4,122.4 93.6,126.6 93.8,124.6 94.0,120.2 94.2,122.3 94.4,134.7 94.6,137.1 94.8,135.8 95.0,139.6 95.2,154.7 95.4,167.0 95.6,169.8 95.8,167.1 96.0,161.2 96.2,150.6 96.4,143.6 96.6,145.7 96.8,145.5 97.0,139.9 97.2,131.3 97.4,124.6 97.6,120.0 97.8,114.8 98.0,111.6 98.2,111.8 98.4,113.1 98.6,110.3 98.8,107.3 99.0,104.8 99.2,102.4 99.4,93.5 99.6,80.0 99.8,92.1 100.0,99.5 100.2,101.9 100.4,103.1 100.6,103.8 100.8,100.5 101.0,94.1 101.2,88.3 101.4,82.0 101.6,88.1 101.8,92.7 102.0,98.2 102.2,104.7 102.4,110.3 102.6,115.6 102.8,119.0 103.0,123.2 103.2,130.1 103.4,137.8 103.6,145.3 103.8,155.9 104.0,161.7 104.2,163.1 104.4,160.8 104.6,149.8 104.8,136.8 105.0,133.2 105.2,131.8 105.4,123.8 105.6,115.7 105.8,111.2 106.0,111.4 106.2,118.8 106.4,127.3 106.6,140.6 106.8,155.2 107.0,158.7 107.2,152.6 107.4,148.3 107.6,155.8 107.8,164.0 108.0,159.5 108.2,155.1 108.4,150.7 108.6,139.8 108.8,126.1 109.0,112.8 109.2,108.7 109.4,117.0 109.6,125.3 109.9,132.7 110.1,142.7 110.3,148.8 110.5,153.8 110.7,152.9 110.9,148.4 111.1,148.6 111.3,142.8 111.5,132.6 111.7,122.5 111.9,121.2 112.1,121.3 112.3,115.2 112.5,108.1 112.7,104.7 112.9,101.3 113.1,102.9 113.3,106.5 113.5,102.1 113.7,92.0 113.9,87.4 114.1,84.5 114.3,80.0 114.5,83.8 114.7,85.9 114.9,89.5 115.1,93.6 115.3,95.8 115.5,98.6 115.7,106.0 115.9,116.7 116.1,127.2 116.3,136.6 116.5,147.4 116.7,158.0 116.9,162.1 117.1,161.9 117.3,163.4 117.5,165.6 117.7,168.4 117.9,167.7 118.1,158.8 118.3,148.9 118.5,141.4 118.7,135.2 118.9,134.7 119.1,137.6 119.3,138.1 119.5,138.1 119.7,140.2 119.9,147.0 120.1,151.5 120.3,156.8 120.5,159.9 120.7,160.1 120.9,163.0 121.1,170.0 121.3,177.1 121.5,185.3 121.7,190.6 121.9,192.4 122.1,195.0 122.3,194.6 122.5,192.4 122.7,188.2 122.9,185.5 123.1,187.9 123.3,195.3 123.5,205.2 123.7,215.7 123.9,227.5 124.1,215.0 124.3,202.9 124.5,192.4 124.7,182.7 124.9,175.1 125.1,167.9 125.3,161.2 125.5,159.5 125.7,167.7 125.9,178.7 126.1,179.7 126.3,169.3 126.5,159.9 126.7,157.8 126.9,161.5 127.1,161.7 127.3,150.3 127.5,136.2 127.7,130.6 127.9,128.5 128.1,122.5 128.3,118.4 128.5,112.5 128.7,103.3 128.9,97.3 129.1,91.3 129.3,84.8 129.5,78.0 129.7,86.6 129.9,96.6 130.1,108.8 130.3,118.8 130.5,120.1 130.7,110.7 130.9,95.0 131.1,83.7 131.3,75.6 131.5,66.9 131.7,57.3 131.9,49.9 132.1,56.4 132.3,62.5 132.5,69.4 132.7,81.2 132.9,93.3 133.1,107.8 133.3,129.3 133.5,148.5 133.7,151.9 133.9,151.7 134.1,145.5 134.3,142.3 134.5,136.1 134.7,125.0 134.9,119.4 135.1,119.7 135.3,120.9 135.5,120.9 135.7,122.4 135.9,126.6 136.1,127.5 136.3,127.2 136.5,129.0 136.7,130.7 136.9,129.9 137.1,133.4 137.3,140.2 137.5,140.9 137.7,140.0 137.9,146.6 138.2,154.4 138.4,156.8 138.6,158.9 138.8,164.0 139.0,158.2 139.2,143.9 139.4,127.5 139.6,120.6 139.8,118.7 140.0,113.7 140.2,107.9 140.4,105.5 140.6,105.7 140.8,105.3 141.0,104.1 141.2,103.7 141.4,104.7 141.6,106.6 141.8,111.3 142.0,122.4 142.2,136.4 142.4,141.8 142.6,138.8 142.8,138.5 143.0,137.7 143.2,133.6 143.4,127.2 143.6,123.3 143.8,122.6 144.0,123.0 144.2,125.1 144.4,127.3 144.6,125.3 144.8,123.3 145.0,123.9 145.2,125.0 145.4,125.8 145.6,127.2 145.8,128.0 146.0,128.5 146.2,131.0 146.4,131.2 146.6,128.0 146.8,126.2 147.0,126.1 147.2,126.3 147.4,126.7 147.6,127.4 147.8,128.3 148.0,129.2 148.2,129.5 148.4,129.8 148.6,130.1 148.8,130.4 149.0,130.9 149.2,131.8 149.4,132.7 149.6,133.6 149.8,133.9 150.0,134.4 150.2,133.5 150.4,132.5 150.6,130.5 150.8,129.0 151.0,127.9 151.2,127.0 151.4,126.3 151.6,125.7 151.8,125.4 152.0,125.3 152.2,125.0 152.4,123.2 152.6,121.7 152.8,120.5 153.0,119.6 153.2,118.9 153.4,118.2 153.6,117.4 153.8,116.7 154.0,116.1 154.2,115.6 154.4,115.1 154.6,114.5 154.8,113.8 155.0,113.1 155.2,112.5 155.4,112.1 155.6,111.9 155.8,111.4 156.0,110.5 156.2,109.8 156.4,110.0 156.6,111.8 156.8,110.6 157.0,108.8 157.2,107.3 157.4,105.5 157.6,103.8 157.8,102.6 158.0,101.6 158.2,99.9 158.4,97.9 158.6,95.1 158.8,92.7 159.0,91.0 159.2,89.3 159.4,87.1 159.6,85.9 159.8,85.4 160.0,84.2 160.2,82.6 160.4,82.2 160.6,84.4 160.8,87.3 161.0,90.2 161.2,90.0 161.4,88.1 161.6,88.4 161.8,89.3 162.0,87.0 162.2,85.4 162.4,86.5 162.6,87.8 162.8,89.8 163.0,95.1 163.2,102.8 163.4,105.6 163.6,102.6 163.8,92.9 164.0,80.8 164.2,70.1 164.4,60.0 164.6,49.3 164.8,39.5 165.0,47.1 165.2,54.5 165.4,62.9 165.6,72.7 165.8,83.4 166.0,94.1 166.2,105.5 166.4,116.9 166.7,120.4 166.9,121.2 167.1,125.1 167.3,131.2 167.5,137.2 167.7,141.2 167.9,140.4 168.1,137.9 168.3,137.8 168.5,138.2 168.7,137.6 168.9,136.3 169.1,135.4 169.3,134.9 169.5,134.9 169.7,135.2 169.9,134.8 170.1,134.3 170.3,134.9 170.5,136.0 170.7,138.0 170.9,138.0 171.1,137.5 171.3,141.7 171.5,150.4 171.7,157.6 171.9,162.4 172.1,163.6 172.3,160.8 172.5,152.2 172.7,144.4 172.9,136.3 173.1,129.5 173.3,124.6 173.5,120.2 173.7,116.7 173.9,116.3 174.1,119.7 174.3,125.1 174.5,128.7 174.7,130.7 174.9,136.5 175.1,144.1 175.3,136.3 175.5,122.6 175.7,111.1 175.9,100.3 176.1,90.6 176.3,84.2 176.5,79.0 176.7,75.0 176.9,78.3 177.1,82.3 177.3,86.8 177.5,92.7 177.7,99.5 177.9,104.1 178.1,105.0 178.3,101.7 178.5,94.0 178.7,100.4 178.9,103.7 179.1,107.4 179.3,113.9 179.5,122.0 179.7,126.8 179.9,126.9 180.1,126.8 180.3,127.7 180.5,128.8 180.7,126.7 180.9,126.5 181.1,129.2 181.3,131.9 181.5,135.9 181.7,142.8 181.9,149.4 182.1,155.5 182.3,160.4 182.5,159.9 182.7,158.1 182.9,162.0 183.1,168.5 183.3,173.9 183.5,178.6 183.7,180.1 183.9,176.8 184.1,173.3 184.3,172.8 184.5,178.3 184.7,186.3 184.9,193.6 185.1,204.6 185.3,219.4 185.5,235.0 185.7,219.1 185.9,201.9 186.1,184.3 186.3,168.6 186.5,158.6 186.7,153.4 186.9,147.6 187.1,143.7 187.3,152.8 187.5,169.2 187.7,174.7 187.9,171.1 188.1,166.6 188.3,160.9 188.5,150.0 188.7,140.2 188.9,139.3 189.1,144.7 189.3,143.9 189.5,137.1 189.7,130.6 189.9,126.4 190.1,127.6 190.3,136.9 190.5,144.2 190.7,151.4 190.9,162.9 191.1,172.4 191.3,174.6 191.5,171.1 191.7,167.0 191.9,162.6 192.1,156.5 192.3,153.5 192.5,152.7 192.7,153.9 192.9,156.5 193.1,161.2 193.3,163.2 193.5,161.9 193.7,156.5 193.9,149.1 194.1,147.3 194.3,152.5 194.5,150.6 194.7,139.7 195.0,131.1 195.2,122.7 195.4,120.7 195.6,116.3 195.8,103.6 196.0,92.7 196.2,85.0 196.4,76.8 196.6,69.9 196.8,65.7 197.0,63.2 197.2,60.6 197.4,57.2 197.6,61.7 197.8,65.9 198.0,69.3 198.2,75.5 198.4,85.1 198.6,94.0 198.8,105.1 199.0,118.1 199.2,127.3 199.4,124.7 199.6,111.8 199.8,103.9 200.0,99.4 200.2,96.1 200.4,92.2 200.6,86.1 200.8,81.3 201.0,77.7 201.2,81.3 201.4,84.6 201.6,87.1 201.8,90.7 202.0,96.1 202.2,102.3 202.4,103.3 202.6,100.5 202.8,97.4 203.0,94.2 203.2,90.2 203.4,85.0 203.6,92.9 203.8,103.2 204.0,109.9 204.2,110.3 204.4,113.3 204.6,117.3 204.8,118.8 205.0,119.6 205.2,122.0 205.4,125.3 205.6,124.5 205.8,122.3 206.0,121.7 206.2,125.1 206.4,127.0 206.6,129.9 206.8,138.2 207.0,150.4 207.2,163.2 207.4,175.5 207.6,188.3 207.8,200.6 208.0,211.0 208.2,202.4 208.4,192.3 208.6,179.6 208.8,170.4 209.0,166.2 209.2,157.9 209.4,142.4 209.6,130.2 209.8,125.5 210.0,118.1 210.2,114.1 210.4,113.4 210.6,111.6 210.8,109.2 211.0,107.5 211.2,105.5 211.4,103.0 211.6,100.9 211.8,100.5 212.0,101.7 212.2,105.9 212.4,111.7 212.6,113.5 212.8,108.3 213.0,105.8 213.2,99.2 213.4,91.7 213.6,88.8 213.8,88.2 214.0,86.0 214.2,83.1 214.4,81.7 214.6,81.3 214.8,78.2 215.0,76.3 215.2,74.7 215.4,71.2 215.6,68.4 215.8,67.9 216.0,70.4 216.2,75.9 216.4,81.5 216.6,86.0 216.8,91.3 217.0,96.3 217.2,94.0 217.4,85.3 217.6,68.3 217.8,52.7 218.0,39.1 218.2,29.5 218.4,22.2 218.6,28.8 218.8,35.2 219.0,41.4 219.2,48.4 219.4,54.9 219.6,60.7 219.8,65.3 220.0,68.6 220.2,69.0 220.4,66.9 220.6,64.6 220.8,60.6 221.0,54.3 221.2,46.9 221.4,55.6 221.6,66.0 221.8,77.0 222.0,87.2 222.2,100.7 222.4,116.0 222.6,123.7 222.8,127.5 223.0,127.4 223.3,127.3 223.5,127.9 223.7,127.5 223.9,128.7 224.1,131.2 224.3,133.8 224.5,135.7 224.7,137.0 224.9,140.1 225.1,142.4 225.3,147.7 225.5,155.1 225.7,165.2 225.9,176.8 226.1,187.2 226.3,196.8 226.5,206.1 226.7,216.0 226.9,206.1 227.1,197.6 227.3,187.4 227.5,175.5 227.7,162.1 227.9,148.8 228.1,135.8 228.3,126.6 228.5,127.8 228.7,127.4 228.9,119.9 229.1,114.1 229.3,112.1 229.5,112.2 229.7,114.5 229.9,122.7 230.1,136.8 230.3,149.8 230.5,159.6 230.7,164.4 230.9,157.2 231.1,147.9 231.3,133.7 231.5,122.5 231.7,117.2 231.9,111.9 232.1,107.1 232.3,105.6 232.5,106.4 232.7,108.4 232.9,109.8 233.1,112.2 233.3,119.2 233.5,124.1 233.7,122.5 233.9,119.3 234.1,121.5 234.3,134.6 234.5,154.7 234.7,166.1 234.9,167.4 235.1,164.7 235.3,160.8 235.5,156.0 235.7,150.6 235.9,141.8 236.1,133.3 236.3,129.5 236.5,130.1 236.7,135.8 236.9,134.4 237.1,120.3 237.3,106.4 237.5,90.0 237.7,81.3 237.9,82.1 238.1,83.3 238.3,76.8 238.5,65.3 238.7,49.8 238.9,32.1 239.1,51.1 239.3,72.2 239.5,91.8 239.7,107.3 239.9,122.4 240.1,143.4 240.3,160.6 240.5,163.5 240.7,147.4 240.9,142.4 241.1,146.1 241.3,149.1 241.5,150.2 241.7,151.8 241.9,154.1 242.1,163.4 242.3,172.8 242.5,183.3 242.7,191.7 242.9,197.7 243.1,202.1 243.3,206.0 243.5,210.5 243.7,205.0 243.9,197.2 244.1,188.7 244.3,180.6 244.5,169.9 244.7,155.5 244.9,137.3 245.1,124.0 245.3,120.6 245.5,113.7 245.7,107.6 245.9,104.7 246.1,105.6 246.3,106.9 246.5,108.2 246.7,113.8 246.9,123.1 247.1,127.7 247.3,130.0 247.5,121.6 247.7,114.7 247.9,113.6 248.1,109.1 248.3,103.3 248.5,103.3 248.7,111.3 248.9,119.1 249.1,122.1 249.3,126.0 249.5,131.5 249.7,132.8 249.9,126.6 250.1,118.5 250.3,108.5 250.5,99.1 250.7,92.4 250.9,98.2 251.1,102.4 251.3,106.3 251.6,111.7 251.8,114.8 252.0,114.0 252.2,115.5 252.4,118.5 252.6,122.8 252.8,128.0 253.0,131.9 253.2,134.2 253.4,138.1 253.6,143.6 253.8,147.0 254.0,145.2 254.2,141.5 254.4,140.0 254.6,137.0 254.8,132.4 255.0,124.3 255.2,116.9 255.4,111.4 255.6,107.6 255.8,105.1 256.0,103.4 256.2,104.6 256.4,107.7 256.6,109.0 256.8,112.5 257.0,116.8 257.2,116.0 257.4,114.2 257.6,117.9 257.8,124.6 258.0,131.0 258.2,120.9 258.4,105.4 258.6,86.4 258.8,74.1 259.0,65.9 259.2,56.1 259.4,65.4 259.6,70.3 259.8,73.9 260.0,79.0 260.2,84.3 260.4,92.0 260.6,100.3 260.8,104.4 261.0,103.6 261.2,102.9 261.4,99.7 261.6,94.9 261.8,89.8 262.0,81.0 262.2,91.2 262.4,100.4 262.6,108.4 262.8,113.3 263.0,115.2 263.2,114.5 263.4,112.7 263.6,110.0 263.8,102.7 264.0,94.3 264.2,86.7 264.4,79.5 264.6,86.6 264.8,94.0 265.0,104.7 265.2,117.7 265.4,128.5 265.6,136.3 265.8,145.2 266.0,151.6 266.2,151.2 266.4,144.5 266.6,137.6 266.8,136.1 267.0,137.4 267.2,136.2 267.4,133.0 267.6,130.2 267.8,129.7 268.0,129.1 268.2,128.0 268.4,127.6 268.6,129.3 268.8,131.3 269.0,134.9 269.2,146.4 269.4,153.3 269.6,155.1 269.8,153.0 270.0,134.2 270.2,120.8 270.4,109.3 270.6,101.8 270.8,96.9 271.0,93.3 271.2,90.8 271.4,88.4 271.6,88.5 271.8,90.6 272.0,92.7 272.2,94.2 272.4,92.6 272.6,92.3 272.8,97.8 273.0,110.9 273.2,117.4 273.4,112.5 273.6,101.0 273.8,101.9 274.0,108.6 274.2,114.3 274.4,113.1 274.6,107.2 274.8,105.8 275.0,106.4 275.2,107.3 275.4,109.5 275.6,112.4 275.8,115.3 276.0,117.4 276.2,119.0 276.4,122.6 276.6,127.0 276.8,129.3 277.0,130.6 277.2,130.9 277.4,130.4 277.6,130.8 277.8,139.0 278.0,147.0 278.2,142.1 278.4,137.5 278.6,139.4 278.8,135.7 279.0,133.5 279.2,134.0 279.4,137.9 279.6,144.8 279.9,155.9 280.1,170.1 280.3,186.5 280.5,202.6 280.7,217.8 280.9,202.6 281.1,188.1 281.3,177.3 281.5,167.7 281.7,156.9 281.9,155.8 282.1,152.2 282.3,148.1 282.5,143.2 282.7,135.4 282.9,132.0 283.1,133.4 283.3,136.6 283.5,134.3 283.7,122.9 283.9,111.6 284.1,107.6 284.3,106.1 284.5,104.2 284.7,107.6 284.9,110.3 285.1,110.3 285.3,118.5 285.5,124.5 285.7,121.6 285.9,117.1 286.1,119.7 286.3,128.0 286.5,135.6 286.7,141.8 286.9,145.5 287.1,149.6 287.3,157.4 287.5,164.8 287.7,165.2 287.9,162.1 288.1,157.5 288.3,154.0 288.5,151.6 288.7,149.6 288.9,148.3 289.1,146.7 289.3,147.5 289.5,146.1 289.7,142.1 289.9,141.6 290.1,146.1 290.3,149.5 290.5,150.6 290.7,149.7 290.9,152.3 291.1,158.4 291.3,164.1 291.5,167.4 291.7,161.6 291.9,151.5 292.1,146.9 292.3,146.0 292.5,147.3 292.7,147.3 292.9,138.8 293.1,125.1 293.3,116.7 293.5,112.3 293.7,109.2 293.9,106.8 294.1,104.4 294.3,102.8 294.5,102.1 294.7,104.4 294.9,110.7 295.1,115.8 295.3,118.7 295.5,133.5 295.7,149.5 295.9,154.6 296.1,149.9 296.3,139.4 296.5,117.7 296.7,105.4 296.9,105.4 297.1,104.8 297.3,102.5 297.5,103.3 297.7,105.5 297.9,107.6 298.1,110.4 298.3,114.5 298.5,119.1 298.7,123.4 298.9,128.8 299.1,134.9 299.3,137.9 299.5,140.4 299.7,146.9 299.9,155.6 300.1,161.4 300.3,165.8 300.5,165.1 300.7,161.7 300.9,159.7 301.1,161.5 301.3,158.1 301.5,149.2 301.7,145.5 301.9,144.7 302.1,140.4 302.3,135.4 302.5,133.0 302.7,131.1 302.9,129.0 303.1,127.6 303.3,127.3 303.5,128.3 303.7,131.1 303.9,139.4 304.1,151.6 304.3,154.6 304.5,148.6 304.7,146.4 304.9,144.6 305.1,141.9 305.3,139.9 305.5,138.5 305.7,143.5 305.9,149.9 306.1,156.0 306.3,164.4 306.5,173.8 306.7,184.0 306.9,195.1 307.1,206.4 307.3,195.7 307.5,186.5 307.7,178.6 307.9,171.9 308.2,167.5 308.4,166.9 308.6,170.6 308.8,172.9 309.0,167.8 309.2,160.8 309.4,161.8 309.6,161.8 309.8,158.0 310.0,152.5 310.2,145.5 310.4,139.0 310.6,131.9 310.8,123.1 311.0,117.1 311.2,112.3 311.4,114.4 311.6,123.1 311.8,128.4 312.0,128.8 312.2,134.8 312.4,149.1 312.6,161.7 312.8,164.8 313.0,158.5 313.2,152.7 313.4,145.1 313.6,131.6 313.8,124.6 314.0,123.5 314.2,120.7 314.4,111.5 314.6,103.5 314.8,97.1 315.0,94.0 315.2,89.1 315.4,79.9 315.6,70.4 315.8,59.8 316.0,73.6 316.2,84.6 316.4,94.5 316.6,106.8 316.8,116.0 317.0,121.1 317.2,125.5 317.4,126.5 317.6,119.2 317.8,113.9 318.0,112.1 318.2,111.6 318.4,112.3 318.6,115.6 318.8,123.6 319.0,126.1 319.2,125.5 319.4,135.1 319.6,150.1 319.8,165.4 320.0,178.6 320.2,193.3 320.4,208.1 320.6,219.7 320.8,232.3 321.0,217.9 321.2,202.9 321.4,188.5 321.6,173.7 321.8,155.1 322.0,137.7 322.2,124.4 322.4,115.3 322.6,115.0 322.8,115.1 323.0,115.2 323.2,112.7 323.4,111.1 323.6,108.7 323.8,107.1 324.0,106.1 324.2,104.8 324.4,99.5 324.6,93.7 324.8,89.3 325.0,83.8 325.2,89.4 325.4,94.4 325.6,98.5 325.8,102.3 326.0,102.7 326.2,104.3 326.4,107.1 326.6,111.6 326.8,115.1 327.0,118.4 327.2,123.6 327.4,130.3 327.6,139.7 327.8,150.1 328.0,143.7 328.2,135.6 328.4,133.2 328.6,131.5 328.8,128.6 329.0,127.5 329.2,125.6 329.4,123.8 329.6,122.5 329.8,122.6 330.0,122.9 330.2,123.4 330.4,124.0 330.6,126.5 330.8,133.9 331.0,142.0 331.2,145.5 331.4,149.8 331.6,156.1 331.8,164.7 332.0,168.1 332.2,170.1 332.4,178.0 332.6,190.9 332.8,204.8 333.0,219.3 333.2,203.6 333.4,187.1 333.6,170.8 333.8,157.2 334.0,148.9 334.2,150.4 334.4,152.5 334.6,150.1 334.8,151.7 335.0,155.1 335.2,151.2 335.4,142.9 335.6,136.9 335.8,130.4 336.0,125.1 336.2,124.6 336.5,127.1 336.7,128.9 336.9,131.1 337.1,131.4 337.3,134.4 337.5,137.3 337.7,139.2 337.9,146.3 338.1,150.3 338.3,147.8 338.5,147.6 338.7,147.6 338.9,148.5 339.1,153.5 339.3,158.8 339.5,160.4 339.7,159.5 339.9,158.1 340.1,158.1 340.3,159.4 340.5,157.7 340.7,154.7 340.9,155.0 341.1,159.1 341.3,160.9 341.5,163.4 341.7,176.0 341.9,186.3 342.1,180.7 342.3,170.8 342.5,169.8 342.7,166.9 342.9,161.7 343.1,158.3 343.3,155.3 343.5,149.4 343.7,140.0 343.9,132.4 344.1,128.0 344.3,125.5 344.5,124.4 344.7,124.6 344.9,124.6 345.1,124.4 345.3,127.5 345.5,135.0 345.7,138.1 345.9,128.1 346.1,121.9 346.3,123.1 346.5,122.3 346.7,119.2 346.9,116.8 347.1,113.3 347.3,111.2 347.5,109.0 347.7,106.0 347.9,103.2 348.1,100.7 348.3,97.8 348.5,94.9 348.7,92.3 348.9,89.6 349.1,87.1 349.3,84.7 349.5,81.9 349.7,78.3 349.9,83.1 350.1,88.9 350.3,96.1 350.5,105.6 350.7,116.0 350.9,125.1 351.1,136.3 351.3,145.9 351.5,147.0 351.7,145.3 351.9,149.3 352.1,154.8 352.3,161.6 352.5,169.3 352.7,176.4 352.9,183.5 353.1,191.1 353.3,199.0 353.5,191.5 353.7,184.5 353.9,178.2 354.1,172.3 354.3,167.1 354.5,164.3 354.7,164.6 354.9,165.7 355.1,165.8 355.3,164.1 355.5,161.2 355.7,157.4 355.9,157.0 356.1,157.1 356.3,155.4 356.5,153.2 356.7,150.9 356.9,148.8 357.1,147.2 357.3,146.8 357.5,146.8 357.7,146.3 357.9,145.7 358.1,146.2 358.3,148.1 358.5,150.7 358.7,151.5 358.9,149.9 359.1,149.4 359.3,155.9 359.5,164.2 359.7,161.2 359.9,148.1 360.1,129.8 360.3,112.2 360.5,96.8 360.7,83.5 360.9,71.7 361.1,61.4 361.3,51.7 361.5,62.0 361.7,75.5 361.9,90.0 362.1,105.7 362.3,119.2 362.5,127.0 362.7,120.0 362.9,100.2 363.1,82.9 363.3,71.0 363.5,63.7 363.7,59.0 363.9,64.4 364.1,71.2 364.3,77.5 364.5,84.6 364.8,90.9 365.0,90.5 365.2,86.3 365.4,78.4 365.6,65.4 365.8,75.7 366.0,82.8 366.2,86.3 366.4,93.5 366.6,104.4 366.8,111.3 367.0,107.0 367.2,102.0 367.4,104.5 367.6,109.3 367.8,113.0 368.0,117.5 368.2,125.3 368.4,126.9 368.6,123.0 368.8,115.2 369.0,109.9 369.2,108.4 369.4,109.7 369.6,112.9 369.8,122.9 370.0,141.7 370.2,153.3 370.4,152.1 370.6,149.2 370.8,149.1 371.0,149.9 371.2,147.5 371.4,144.0 371.6,144.2 371.8,146.6 372.0,148.8 372.2,147.6 372.4,145.2 372.6,147.2 372.8,152.2 373.0,153.6 373.2,155.3 373.4,157.5 373.6,158.5 373.8,160.7 374.0,168.4 374.2,173.8 374.4,173.5 374.6,171.7 374.8,172.0 375.0,168.3 375.2,156.4 375.4,145.2 375.6,139.8 375.8,137.4 376.0,136.6 376.2,133.6 376.4,129.5 376.6,124.1 376.8,117.8 377.0,112.9 377.2,108.8 377.4,105.5 377.6,103.0 377.8,104.6 378.0,105.7 378.2,108.8 378.4,112.9 378.6,115.9 378.8,121.1 379.0,132.9 379.2,141.8 379.4,140.5 379.6,140.8 379.8,138.7 380.0,140.0 380.2,138.7 380.4,135.2 380.6,133.8 380.8,132.3 381.0,132.0 381.2,133.5 381.4,134.6 381.6,135.1 381.8,136.3 382.0,138.1 382.2,136.4 382.4,134.8 382.6,134.4 382.8,134.6 383.0,134.5 383.2,136.3 383.4,144.1 383.6,145.4 383.8,137.3 384.0,131.3 384.2,126.2 384.4,122.6 384.6,120.5 384.8,117.9 385.0,116.0 385.2,115.2 385.4,112.8 385.6,110.5 385.8,109.2 386.0,108.1 386.2,110.4 386.4,113.2 386.6,117.5 386.8,122.2 387.0,128.0 387.2,137.6 387.4,145.5 387.6,151.2 387.8,153.3 388.0,150.2 388.2,148.9 388.4,144.2 388.6,137.5 388.8,131.3 389.0,123.7 389.2,116.0 389.4,107.5 389.6,115.1 389.8,121.6 390.0,127.5 390.2,132.6 390.4,137.6 390.6,142.9 390.8,147.7 391.0,151.4 391.2,152.2 391.4,156.4 391.6,167.5 391.8,174.9 392.0,171.2 392.2,161.2 392.4,156.8 392.6,156.0 392.8,153.5 393.1,151.0 393.3,149.9 393.5,149.1 393.7,150.7 393.9,152.9 394.1,155.0 394.3,157.5 394.5,164.0 394.7,169.3 394.9,175.4 395.1,179.4 395.3,181.5 395.5,177.1 395.7,169.6 395.9,156.6 396.1,148.4 396.3,142.9 396.5,138.1 396.7,129.2 396.9,120.7 397.1,113.9 397.3,104.9 397.5,94.0 397.7,107.0 397.9,122.5 398.1,138.7 398.3,148.4 398.5,155.8 398.7,165.2 398.9,170.9 399.1,171.8 399.3,168.9 399.5,165.7 399.7,163.0 399.9,161.3 400.1,167.3 400.3,172.0 400.5,172.9 400.7,175.6 400.9,177.3 401.1,177.4 401.3,180.0 401.5,184.9 401.7,187.1 401.9,187.3 402.1,188.2 402.3,188.0 402.5,185.4 402.7,181.6 402.9,172.3 403.1,168.6 403.3,172.0 403.5,168.7 403.7,159.9 403.9,154.9 404.1,153.2 404.3,150.5 404.5,131.0 404.7,109.3 404.9,98.9 405.1,96.7 405.3,98.6 405.5,105.0 405.7,108.8 405.9,112.0 406.1,105.6 406.3,94.9 406.5,80.1 406.7,61.1 406.9,42.6 407.1,26.6 407.3,40.5 407.5,52.9 407.7,61.2 407.9,68.5 408.1,77.6 408.3,82.3 408.5,87.1 408.7,92.7 408.9,92.4 409.1,91.3 409.3,89.5 409.5,86.6 409.7,84.5 409.9,82.9 410.1,78.6 410.3,86.8 410.5,95.2 410.7,100.4 410.9,106.8 411.1,114.8 411.3,123.7 411.5,129.5 411.7,125.6 411.9,122.7 412.1,118.9 412.3,115.8 412.5,115.1 412.7,113.3 412.9,109.9 413.1,106.2 413.3,101.6 413.5,97.1 413.7,92.2 413.9,86.9 414.1,80.5 414.3,72.7 414.5,82.1 414.7,92.5 414.9,103.3 415.1,115.3 415.3,128.4 415.5,138.5 415.7,147.8 415.9,153.4 416.1,149.9 416.3,148.7 416.5,149.3 416.7,150.1 416.9,151.0 417.1,151.7 417.3,153.0 417.5,154.2 417.7,153.8 417.9,153.8 418.1,155.3 418.3,157.6 418.5,155.8 418.7,150.6 418.9,145.4 419.1,140.6 419.3,137.1 419.5,133.2 419.7,127.5 419.9,121.0 420.1,127.8 420.3,134.3 420.5,140.0 420.7,144.6 420.9,146.8 421.1,145.6 421.3,140.6 421.6,134.2 421.8,130.3 422.0,127.5 422.2,128.8 422.4,133.3 422.6,135.3 422.8,136.5 423.0,138.1 423.2,140.4 423.4,142.4 423.6,138.7 423.8,132.5 424.0,128.7 424.2,122.5 424.4,111.8 424.6,98.0 424.8,110.0 425.0,117.0 425.2,119.5 425.4,121.5 425.6,124.0 425.8,123.8 426.0,122.0 426.2,124.7 426.4,126.7 426.6,129.5 426.8,133.6 427.0,136.6 427.2,140.3 427.4,147.3 427.6,149.2 427.8,147.4 428.0,148.0 428.2,149.4 428.4,152.4 428.6,157.6 428.8,159.9 429.0,160.6 429.2,163.0 429.4,166.7 429.6,169.8 429.8,169.1 430.0,166.8 430.2,162.7 430.4,160.1 430.6,159.1 430.8,157.7 431.0,156.3 431.2,155.8 431.4,156.1 431.6,156.1 431.8,154.5 432.0,154.2 432.2,157.7 432.4,163.1 432.6,165.3 432.8,164.1 433.0,165.4 433.2,170.7 433.4,169.7 433.6,161.0 433.8,155.7 434.0,156.8 434.2,155.0 434.4,149.5 434.6,147.5 434.8,145.1 435.0,146.4 435.2,151.3 435.4,153.3 435.6,158.6 435.8,171.8 436.0,177.5 436.2,177.6 436.4,172.1 436.6,160.9 436.8,152.7 437.0,146.2 437.2,142.6 437.4,139.3 437.6,132.0 437.8,130.8 438.0,134.5 438.2,138.5 438.4,144.1 438.6,153.6 438.8,160.5 439.0,161.6 439.2,162.7 439.4,163.3 439.6,163.4 439.8,165.4 440.0,163.1 440.2,158.6 440.4,148.7 440.6,136.5 440.8,128.4 441.0,124.5 441.2,126.2 441.4,128.2 441.6,131.3 441.8,137.4 442.0,144.2 442.2,150.2 442.4,164.4 442.6,175.4 442.8,172.5 443.0,160.4 443.2,150.8 443.4,145.8 443.6,136.8 443.8,125.5 444.0,117.3 444.2,110.5 444.4,100.3 444.6,90.2 444.8,81.4 445.0,88.6 445.2,96.7 445.4,107.9 445.6,120.0 445.8,132.2 446.0,144.2 446.2,153.7 446.4,163.0 446.6,171.4 446.8,176.4 447.0,177.5 447.2,169.4 447.4,160.0 447.6,153.0 447.8,147.7 448.0,145.1 448.2,148.9 448.4,156.6 448.6,165.9 448.8,176.4 449.0,188.4 449.2,197.2 449.4,201.4 449.6,202.9 449.9,202.7 450.1,203.7 450.3,204.1 450.5,203.9 450.7,202.0 450.9,199.6 451.1,197.6 451.3,193.6 451.5,189.5 451.7,189.4 451.9,190.9 452.1,193.5 452.3,195.8 452.5,197.2 452.7,198.5 452.9,199.1 453.1,199.4 453.3,199.9 453.5,200.3 453.7,199.9 453.9,199.1 454.1,198.4 454.3,197.5 454.5,196.5 454.7,195.1 454.9,194.0 455.1,192.3 455.3,187.8 455.5,184.5 455.7,184.4 455.9,183.5 456.1,183.9 456.3,183.5 456.5,180.5 456.7,182.0 456.9,182.5 457.1,182.5 457.3,185.1 457.5,182.1 457.7,173.9 457.9,161.9 458.1,148.4 458.3,134.9 458.5,122.0 458.7,108.0 458.9,93.4 459.1,104.9 459.3,116.3 459.5,128.3 459.7,138.8 459.9,152.1 460.1,164.8 460.3,172.8 460.5,175.9 460.7,172.2 460.9,172.8 461.1,178.6 461.3,182.2 461.5,183.6 461.7,185.8 461.9,188.2 462.1,189.5 462.3,190.4 462.5,192.2 462.7,192.5 462.9,189.3 463.1,181.1 463.3,172.7 463.5,166.5 463.7,159.4 463.9,153.5 464.1,143.3 464.3,141.8 464.5,149.3 464.7,152.4 464.9,153.4 465.1,159.1 465.3,168.1 465.5,169.4 465.7,163.0 465.9,153.9 466.1,148.4 466.3,142.5 466.5,132.5 466.7,120.7 466.9,108.5 467.1,120.6 467.3,131.5 467.5,140.2 467.7,148.2 467.9,157.2 468.1,163.5 468.3,163.8 468.5,160.0 468.7,156.8 468.9,153.7 469.1,147.8 469.3,141.5 469.5,130.7 469.7,125.6 469.9,123.7 470.1,120.3 470.3,124.0 470.5,132.3 470.7,130.7 470.9,128.6 471.1,127.2 471.3,123.1 471.5,118.1 471.7,110.6 471.9,102.7 472.1,94.3 472.3,84.5 472.5,75.8 472.7,81.9 472.9,86.7 473.1,91.4 473.3,95.4 473.5,99.9 473.7,105.4 473.9,112.1 474.1,116.7 474.3,118.0 474.5,121.3 474.7,128.0 474.9,136.2 475.1,143.2 475.3,148.1 475.5,150.6 475.7,153.3 475.9,150.8 476.1,148.9 476.3,148.8 476.5,146.2 476.7,141.8 476.9,139.1 477.1,137.6 477.3,136.9 477.5,137.6 477.7,140.2 477.9,143.0 478.2,144.1 478.4,146.9 478.6,150.2 478.8,151.6 479.0,153.7 479.2,158.3 479.4,165.0 479.6,172.8 479.8,179.9 480.0,184.3 480.2,186.2 480.4,185.2 480.6,179.0 480.8,175.4 481.0,174.5 481.2,174.4 481.4,175.1 481.6,179.5 481.8,182.0 482.0,185.0 482.2,185.4 482.4,184.1 482.6,183.2 482.8,182.6 483.0,186.2 483.2,190.6 483.4,190.3 483.6,190.9 483.8,194.5 484.0,196.8 484.2,195.1 484.4,191.7 484.6,189.2 484.8,183.4 485.0,174.3 485.2,171.1 485.4,168.2 485.6,159.3 485.8,167.2 486.0,175.7 486.2,179.7 486.4,181.2 486.6,181.7 486.8,184.5 487.0,185.7 487.2,185.0 487.4,185.4 487.6,187.2 487.8,186.3 488.0,181.1 488.2,172.7 488.4,167.8 488.6,159.7 488.8,145.5 489.0,130.3 489.2,119.4 489.4,106.7 489.6,92.4 489.8,106.0 490.0,118.6 490.2,131.9 490.4,149.4 490.6,166.0 490.8,181.1 491.0,193.8 491.2,201.4 491.4,203.0 491.6,204.6 491.8,205.6 492.0,207.0 492.2,206.8 492.4,204.3 492.6,202.0 492.8,197.3 493.0,189.2 493.2,180.7 493.4,186.5 493.6,190.3 493.8,192.1 494.0,193.6 494.2,194.1 494.4,197.2 494.6,201.8 494.8,203.1 495.0,198.3 495.2,197.2 495.4,196.6 495.6,191.0 495.8,182.8 496.0,178.5 496.2,177.7 496.4,176.1 496.6,179.8 496.8,184.6 497.0,187.5 497.2,191.1 497.4,193.3 497.6,193.5 497.8,193.0 498.0,188.5 498.2,183.1 498.4,184.6 498.6,187.6 498.8,189.6 499.0,188.2 499.2,185.4 499.4,185.0 499.6,184.4 499.8,184.0 500.0,183.5 500.2,178.1 500.4,171.5 500.6,168.2 500.8,164.8 501.0,161.7 501.2,160.7 501.4,160.7 501.6,161.1 501.8,165.4 502.0,171.2 502.2,175.8 502.4,179.6 502.6,181.7 502.8,183.8 503.0,180.3 503.2,170.8 503.4,157.0 503.6,135.1 503.8,112.7 504.0,99.5 504.2,89.7 504.4,81.1 504.6,74.0 504.8,80.7 505.0,88.9 505.2,101.4 505.4,115.9 505.6,132.7 505.8,125.4 506.0,106.2 506.2,83.5 506.5,66.9 506.7,55.7 506.9,47.7 507.1,42.6 507.3,34.0 507.5,46.4 507.7,61.5 507.9,83.1 508.1,102.8 508.3,112.9 508.5,118.9 508.7,122.8 508.9,124.0 509.1,123.4 509.3,127.5 509.5,127.4 509.7,126.2 509.9,128.0 510.1,131.3 510.3,133.9 510.5,136.4 510.7,140.3 510.9,145.5 511.1,154.5 511.3,164.3 511.5,173.6 511.7,186.0 511.9,193.1 512.1,191.0 512.3,185.0 512.5,170.9 512.7,160.8 512.9,158.7 513.1,160.7 513.3,158.3 513.5,152.9 513.7,151.3 513.9,153.8 514.1,159.7 514.3,160.5 514.5,160.5 514.7,160.2 514.9,160.1 515.1,162.8 515.3,171.3 515.5,177.2 515.7,179.1 515.9,174.2 516.1,166.5 516.3,158.5 516.5,153.1 516.7,150.0 516.9,146.0 517.1,140.1 517.3,135.6 517.5,133.7 517.7,131.9 517.9,131.0 518.1,132.8 518.3,137.1 518.5,141.1 518.7,146.4 518.9,155.1 519.1,161.2 519.3,166.3 519.5,171.9 519.7,165.0 519.9,156.8 520.1,155.4 520.3,154.3 520.5,148.5"/>
<polyline fill="none" stroke="#2ca02c" stroke-width="1.0" stroke-linejoin="round" points="39.0,162.3 39.2,164.0 39.4,165.7 39.6,166.1 39.8,166.5 40.0,167.2 40.2,166.6 40.4,166.5 40.6,167.1 40.8,166.0 41.0,163.8 41.2,161.4 41.4,160.9 41.6,160.5 41.8,159.4 42.0,158.4 42.2,158.4 42.4,158.3 42.6,157.7 42.8,159.0 43.0,160.7 43.2,160.2 43.4,158.7 43.6,159.7 43.8,162.6 44.0,164.8 44.2,166.9 44.4,168.5 44.6,169.1 44.8,169.8 45.0,170.5 45.2,171.0 45.4,172.1 45.6,173.0 45.8,173.6 46.0,174.1 46.2,173.5 46.4,172.7 46.6,171.3 46.8,169.5 47.0,169.5 47.2,170.1 47.4,169.5 47.6,168.4 47.8,167.6 48.0,166.9 48.2,166.1 48.4,164.8 48.6,164.2 48.8,164.5 49.0,164.9 49.2,165.6 49.4,165.3 49.6,162.7 49.8,158.7 50.0,158.0 50.2,158.4 50.4,160.5 50.6,164.6 50.8,166.3 51.0,166.0 51.2,165.9 51.4,167.8 51.6,170.6 51.8,172.3 52.0,173.0 52.2,172.8 52.4,171.8 52.6,169.5 52.8,165.7 53.0,164.3 53.3,166.0 53.5,166.4 53.7,164.6 53.9,162.9 54.1,162.4 54.3,162.1 54.5,161.0 54.7,154.6 54.9,144.7 55.1,141.7 55.3,148.6 55.5,155.0 55.7,157.8 55.9,159.7 56.1,162.2 56.3,164.1 56.5,164.0 56.7,163.5 56.9,164.5 57.1,166.2 57.3,167.2 57.5,167.4 57.7,168.4 57.9,170.2 58.1,171.5 58.3,171.0 58.5,169.3 58.7,167.8 58.9,167.5 59.1,166.7 59.3,163.1 59.5,159.5 59.7,161.6 59.9,164.7 60.1,164.5 60.3,161.5 60.5,159.5 60.7,160.6 60.9,161.9 61.1,164.7 61.3,166.8 61.5,167.0 61.7,167.0 61.9,167.5 62.1,168.0 62.3,168.2 62.5,167.8 62.7,166.0 62.9,164.4 63.1,166.0 63.3,168.8 63.5,170.4 63.7,170.2 63.9,168.3 64.1,165.8 64.3,164.4 64.5,163.8 64.7,162.7 64.9,162.7 65.1,163.1 65.3,162.3 65.5,160.6 65.7,157.5 65.9,154.0 66.1,151.2 66.3,148.3 66.5,145.4 66.7,143.5 66.9,142.2 67.1,141.8 67.3,143.0 67.5,147.4 67.7,151.3 67.9,149.2 68.1,143.9 68.3,141.0 68.5,142.5 68.7,146.1 68.9,148.6 69.1,150.1 69.3,149.8 69.5,149.5 69.7,151.9 69.9,154.5 70.1,156.3 70.3,157.8 70.5,157.5 70.7,157.5 70.9,158.2 71.1,156.9 71.3,156.1 71.5,154.5 71.7,153.0 71.9,152.6 72.1,151.8 72.3,150.5 72.5,148.1 72.7,144.3 72.9,141.8 73.1,141.9 73.3,145.4 73.5,149.4 73.7,150.2 73.9,148.7 74.1,147.1 74.3,149.1 74.5,152.5 74.7,154.0 74.9,153.6 75.1,153.9 75.3,155.8 75.5,158.5 75.7,162.4 75.9,164.0 76.1,163.5 76.3,163.0 76.5,162.0 76.7,161.6 76.9,161.8 77.1,160.9 77.3,160.5 77.5,162.7 77.7,162.9 77.9,161.0 78.1,160.2 78.3,158.9 78.5,157.1 78.7,156.8 78.9,156.4 79.1,156.2 79.3,156.4 79.5,158.6 79.7,161.9 79.9,163.2 80.1,164.8 80.3,166.9 80.5,167.3 80.7,166.6 80.9,166.5 81.1,166.8 81.3,167.3 81.6,168.6 81.8,170.5 82.0,171.5 82.2,172.2 82.4,172.3 82.6,172.1 82.8,173.1 83.0,174.2 83.2,174.3 83.4,174.6 83.6,175.4 83.8,175.3 84.0,173.8 84.2,172.1 84.4,171.3 84.6,170.7 84.8,170.4 85.0,170.0 85.2,168.6 85.4,167.2 85.6,166.2 85.8,166.0 86.0,166.2 86.2,166.2 86.4,165.8 86.6,164.8 86.8,163.8 87.0,163.9 87.2,165.8 87.4,166.6 87.6,166.9 87.8,167.1 88.0,167.5 88.2,168.1 88.4,168.5 88.6,169.0 88.8,169.3 89.0,169.5 89.2,169.6 89.4,169.7 89.6,170.0 89.8,169.5 90.0,168.9 90.2,168.4 90.4,167.9 90.6,167.3 90.8,166.4 91.0,165.3 91.2,164.3 91.4,163.4 91.6,162.0 91.8,161.1 92.0,159.4 92.2,158.0 92.4,158.5 92.6,160.9 92.8,163.7 93.0,164.6 93.2,164.0 93.4,164.6 93.6,166.6 93.8,168.4 94.0,168.7 94.2,167.1 94.4,165.5 94.6,164.9 94.8,163.6 95.0,161.1 95.2,158.3 95.4,154.5 95.6,150.8 95.8,149.1 96.0,150.6 96.2,153.8 96.4,155.3 96.6,155.1 96.8,155.4 97.0,154.1 97.2,154.6 97.4,156.6 97.6,156.2 97.8,157.1 98.0,159.3 98.2,159.7 98.4,160.0 98.6,161.3 98.8,163.4 99.0,165.9 99.2,166.9 99.4,167.7 99.6,169.6 99.8,170.6 100.0,171.0 100.2,171.6 100.4,171.5 100.6,171.3 100.8,172.0 101.0,172.2 101.2,172.1 101.4,172.8 101.6,174.6 101.8,175.7 102.0,176.2 102.2,176.9 102.4,176.8 102.6,176.8 102.8,178.2 103.0,180.7 103.2,182.4 103.4,183.8 103.6,185.2 103.8,186.2 104.0,187.0 104.2,186.2 104.4,185.7 104.6,185.4 104.8,184.9 105.0,184.5 105.2,184.0 105.4,183.1 105.6,182.5 105.8,181.6 106.0,180.6 106.2,179.9 106.4,178.9 106.6,177.0 106.8,175.0 107.0,173.7 107.2,172.1 107.4,171.2 107.6,171.1 107.8,170.5 108.0,168.1 108.2,164.8 108.4,163.5 108.6,162.5 108.8,164.4 109.0,167.1 109.2,167.5 109.4,166.7 109.6,168.0 109.9,169.5 110.1,169.1 110.3,167.4 110.5,166.9 110.7,167.7 110.9,169.3 111.1,170.8 111.3,171.4 111.5,170.7 111.7,169.3 111.9,169.9 112.1,170.7 112.3,170.2 112.5,169.2 112.7,168.2 112.9,167.2 113.1,167.3 113.3,167.4 113.5,167.6 113.7,167.6 113.9,165.5 114.1,162.5 114.3,160.9 114.5,161.8 114.7,164.2 114.9,166.8 115.1,168.1 115.3,168.1 115.5,167.5 115.7,167.9 115.9,169.2 116.1,171.6 116.3,173.5 116.5,172.7 116.7,171.5 116.9,174.3 117.1,176.6 117.3,175.9 117.5,175.8 117.7,179.0 117.9,182.5 118.1,183.7 118.3,182.6 118.5,180.6 118.7,180.6 118.9,181.3 119.1,182.0 119.3,182.3 119.5,182.8 119.7,183.0 119.9,181.0 120.1,179.7 120.3,181.0 120.5,183.1 120.7,184.7 120.9,188.5 121.1,192.8 121.3,196.0 121.5,198.1 121.7,199.1 121.9,200.2 122.1,202.5 122.3,204.8 122.5,206.5 122.7,207.5 122.9,208.6 123.1,209.8 123.3,210.8 123.5,212.1 123.7,213.5 123.9,214.6 124.1,213.6 124.3,212.4 124.5,211.0 124.7,209.6 124.9,208.0 125.1,206.0 125.3,203.8 125.5,201.5 125.7,199.5 125.9,197.4 126.1,194.2 126.3,190.0 126.5,188.0 126.7,188.5 126.9,188.0 127.1,185.8 127.3,183.5 127.5,181.8 127.7,181.0 127.9,180.7 128.1,181.4 128.3,182.2 128.5,182.2 128.7,181.0 128.9,179.2 129.1,177.5 129.3,176.9 129.5,176.2 129.7,175.9 129.9,175.6 130.1,173.7 130.3,171.0 130.5,169.2 130.7,167.8 130.9,166.5 131.1,165.8 131.3,164.0 131.5,161.8 131.7,160.6 131.9,160.8 132.1,162.0 132.3,162.9 132.5,163.3 132.7,164.4 132.9,166.2 133.1,167.9 133.3,168.2 133.5,168.0 133.7,168.7 133.9,169.9 134.1,171.1 134.3,173.6 134.5,176.4 134.7,178.1 134.9,179.6 135.1,180.4 135.3,181.5 135.5,182.7 135.7,183.0 135.9,183.1 136.1,181.4 136.3,179.4 136.5,177.2 136.7,175.1 136.9,173.8 137.1,173.0 137.3,170.4 137.5,166.8 137.7,166.1 137.9,166.2 138.2,167.6 138.4,170.6 138.6,171.0 138.8,169.7 139.0,168.9 139.2,168.3 139.4,168.3 139.6,169.9 139.8,171.0 140.0,170.6 140.2,171.7 140.4,174.1 140.6,176.2 140.8,177.2 141.0,177.8 141.2,177.4 141.4,174.9 141.6,174.4 141.8,176.0 142.0,174.7 142.2,171.5 142.4,169.7 142.6,171.7 142.8,174.7 143.0,176.7 143.2,177.5 143.4,177.8 143.6,180.0 143.8,182.8 144.0,185.3 144.2,188.0 144.4,191.0 144.6,194.0 144.8,197.0 145.0,200.2 145.2,203.2 145.4,205.4 145.6,207.3 145.8,209.1 146.0,211.0 146.2,208.7 146.4,206.2 146.6,204.2 146.8,203.4 147.0,202.2 147.2,200.4 147.4,198.2 147.6,195.4 147.8,193.4 148.0,191.7 148.2,188.8 148.4,185.8 148.6,183.4 148.8,182.7 149.0,182.1 149.2,179.7 149.4,178.2 149.6,179.8 149.8,180.0 150.0,176.7 150.2,171.7 150.4,170.7 150.6,173.0 150.8,176.4 151.0,178.8 151.2,176.7 151.4,174.3 151.6,175.1 151.8,176.6 152.0,176.5 152.2,176.5 152.4,177.8 152.6,178.3 152.8,176.5 153.0,174.7 153.2,172.5 153.4,171.2 153.6,170.6 153.8,168.7 154.0,166.0 154.2,163.9 154.4,161.7 154.6,159.2 154.8,156.8 155.0,156.8 155.2,155.4 155.4,153.1 155.6,155.7 155.8,159.1 156.0,159.1 156.2,160.1 156.4,162.6 156.6,163.3 156.8,163.8 157.0,164.6 157.2,164.4 157.4,163.7 157.6,162.4 157.8,161.7 158.0,160.3 158.2,156.8 158.4,156.9 158.6,160.0 158.8,160.6 159.0,158.0 159.2,155.1 159.4,154.4 159.6,154.5 159.8,155.0 160.0,155.5 160.2,155.4 160.4,154.8 160.6,154.2 160.8,154.6 161.0,155.2 161.2,155.1 161.4,156.6 161.6,159.5 161.8,161.7 162.0,162.1 162.2,162.2 162.4,163.1 162.6,163.6 162.8,164.1 163.0,164.9 163.2,165.8 163.4,167.3 163.6,168.4 163.8,168.8 164.0,168.9 164.2,169.4 164.4,170.4 164.6,171.6 164.8,172.4 165.0,172.9 165.2,174.1 165.4,175.7 165.6,177.5 165.8,179.0 166.0,180.5 166.2,181.9 166.4,183.1 166.7,184.1 166.9,185.3 167.1,186.7 167.3,187.9 167.5,188.9 167.7,189.9 167.9,190.9 168.1,192.0 168.3,191.1 168.5,190.3 168.7,189.3 168.9,188.0 169.1,187.2 169.3,186.8 169.5,186.5 169.7,185.5 169.9,184.3 170.1,183.8 170.3,183.6 170.5,183.0 170.7,182.3 170.9,181.4 171.1,180.9 171.3,179.4 171.5,177.7 171.7,175.6 171.9,173.2 172.1,170.1 172.3,167.4 172.5,166.3 172.7,165.2 172.9,164.0 173.1,163.1 173.3,160.6 173.5,158.2 173.7,157.4 173.9,156.8 174.1,156.0 174.3,155.3 174.5,153.6 174.7,152.2 174.9,149.6 175.1,145.9 175.3,144.6 175.5,146.5 175.7,150.4 175.9,153.7 176.1,156.0 176.3,158.5 176.5,160.2 176.7,159.7 176.9,157.4 177.1,155.4 177.3,154.0 177.5,152.8 177.7,150.4 177.9,149.0 178.1,151.1 178.3,152.2 178.5,149.4 178.7,147.7 178.9,148.7 179.1,150.4 179.3,150.0 179.5,149.5 179.7,150.5 179.9,150.9 180.1,152.9 180.3,154.7 180.5,151.5 180.7,151.0 180.9,155.8 181.1,159.0 181.3,160.9 181.5,162.9 181.7,166.7 181.9,171.9 182.1,174.5 182.3,175.2 182.5,175.3 182.7,176.6 182.9,178.1 183.1,177.1 183.3,174.5 183.5,173.2 183.7,172.2 183.9,170.9 184.1,168.9 184.3,166.5 184.5,164.9 184.7,162.8 184.9,161.7 185.1,161.6 185.3,158.9 185.5,153.7 185.7,152.5 185.9,154.7 186.1,159.4 186.3,163.9 186.5,165.4 186.7,165.7 186.9,166.9 187.1,168.9 187.3,168.9 187.5,169.1 187.7,171.6 187.9,173.5 188.1,173.5 188.3,172.3 188.5,171.9 188.7,173.2 188.9,174.8 189.1,175.8 189.3,176.5 189.5,176.5 189.7,176.2 189.9,175.4 190.1,175.3 190.3,176.0 190.5,176.9 190.7,177.6 190.9,177.4 191.1,176.8 191.3,177.3 191.5,179.0 191.7,179.8 191.9,177.6 192.1,176.5 192.3,178.7 192.5,178.8 192.7,177.2 192.9,180.4 193.1,181.2 193.3,180.8 193.5,183.1 193.7,185.4 193.9,185.3 194.1,183.4 194.3,182.0 194.5,180.7 194.7,179.1 195.0,176.9 195.2,174.7 195.4,172.7 195.6,171.7 195.8,171.6 196.0,170.7 196.2,168.5 196.4,165.6 196.6,163.7 196.8,163.6 197.0,163.8 197.2,164.8 197.4,167.2 197.6,169.8 197.8,171.4 198.0,172.5 198.2,173.1 198.4,174.1 198.6,175.4 198.8,176.6 199.0,177.7 199.2,178.9 199.4,180.0 199.6,181.0 199.8,180.1 200.0,179.2 200.2,178.3 200.4,177.5 200.6,176.7 200.8,175.8 201.0,174.9 201.2,173.7 201.4,171.7 201.6,169.5 201.8,166.8 202.0,163.7 202.2,163.3 202.4,164.7 202.6,164.8 202.8,162.0 203.0,159.4 203.2,160.3 203.4,162.9 203.6,164.9 203.8,166.4 204.0,166.9 204.2,168.2 204.4,170.3 204.6,171.5 204.8,170.8 205.0,170.8 205.2,172.1 205.4,172.7 205.6,173.1 205.8,173.1 206.0,172.4 206.2,171.0 206.4,168.9 206.6,167.0 206.8,163.0 207.0,155.0 207.2,149.6 207.4,150.8 207.6,150.1 207.8,146.9 208.0,146.6 208.2,146.7 208.4,148.4 208.6,151.1 208.8,154.5 209.0,156.5 209.2,155.3 209.4,156.6 209.6,159.7 209.8,160.2 210.0,160.3 210.2,162.1 210.4,162.6 210.6,162.1 210.8,158.4 211.0,152.3 211.2,148.1 211.4,145.7 211.6,142.7 211.8,140.7 212.0,139.9 212.2,139.2 212.4,137.2 212.6,134.7 212.8,134.6 213.0,135.7 213.2,132.7 213.4,128.3 213.6,125.5 213.8,124.4 214.0,124.8 214.2,128.6 214.4,131.8 214.6,135.9 214.8,140.4 215.0,142.4 215.2,139.7 215.4,139.8 215.6,142.8 215.8,145.6 216.0,148.6 216.2,150.2 216.4,151.6 216.6,154.0 216.8,155.4 217.0,157.0 217.2,160.2 217.4,162.1 217.6,162.8 217.8,162.0 218.0,160.4 218.2,159.2 218.4,159.0 218.6,158.5 218.8,156.5 219.0,155.1 219.2,157.4 219.4,161.8 219.6,165.0 219.8,167.2 220.0,169.7 220.2,173.0 220.4,175.4 220.6,176.8 220.8,178.6 221.0,180.2 221.2,181.5 221.4,182.9 221.6,184.5 221.8,185.9 222.0,187.0 222.2,186.1 222.4,185.4 222.6,184.7 222.8,184.2 223.0,184.2 223.3,183.7 223.5,183.0 223.7,182.3 223.9,181.4 224.1,180.5 224.3,178.6 224.5,175.1 224.7,173.9 224.9,174.6 225.1,175.7 225.3,175.6 225.5,174.8 225.7,173.8 225.9,173.8 226.1,175.7 226.3,178.9 226.5,179.6 226.7,178.9 226.9,177.7 227.1,177.4 227.3,178.3 227.5,178.3 227.7,178.6 227.9,177.9 228.1,176.5 228.3,175.7 228.5,174.8 228.7,174.3 228.9,174.9 229.1,174.7 229.3,172.7 229.5,170.0 229.7,168.3 229.9,167.9 230.1,167.6 230.3,167.0 230.5,164.4 230.7,162.5 230.9,164.3 231.1,167.2 231.3,172.0 231.5,175.3 231.7,176.1 231.9,177.0 232.1,177.5 232.3,177.6 232.5,177.1 232.7,177.0 232.9,176.5 233.1,176.5 233.3,177.4 233.5,176.9 233.7,175.0 233.9,173.3 234.1,172.4 234.3,171.3 234.5,169.2 234.7,167.0 234.9,166.2 235.1,167.4 235.3,167.0 235.5,163.5 235.7,158.4 235.9,155.1 236.1,154.9 236.3,156.0 236.5,156.9 236.7,158.7 236.9,159.5 237.1,159.3 237.3,160.1 237.5,160.1 237.7,159.7 237.9,160.9 238.1,162.4 238.3,163.6 238.5,165.0 238.7,167.2 238.9,168.5 239.1,168.7 239.3,168.8 239.5,170.2 239.7,171.5 239.9,172.1 240.1,171.7 240.3,170.9 240.5,171.6 240.7,172.8 240.9,173.6 241.1,174.8 241.3,175.9 241.5,176.1 241.7,176.0 241.9,175.8 242.1,175.8 242.3,176.0 242.5,176.3 242.7,176.5 242.9,175.8 243.1,173.8 243.3,172.0 243.5,170.6 243.7,168.7 243.9,168.0 244.1,168.0 244.3,169.5 244.5,170.6 244.7,170.2 244.9,169.2 245.1,169.1 245.3,169.1 245.5,168.8 245.7,168.1 245.9,167.5 246.1,167.7 246.3,167.6 246.5,166.8 246.7,165.6 246.9,164.8 247.1,165.3 247.3,166.0 247.5,166.0 247.7,166.1 247.9,166.6 248.1,166.7 248.3,166.6 248.5,167.3 248.7,168.7 248.9,169.5 249.1,169.4 249.3,168.9 249.5,168.8 249.7,169.1 249.9,169.8 250.1,170.5 250.3,171.6 250.5,173.6 250.7,175.2 250.9,176.5 251.1,178.0 251.3,179.4 251.6,180.4 251.8,181.5 252.0,182.5 252.2,183.1 252.4,183.5 252.6,184.0 252.8,184.4 253.0,184.7 253.2,184.7 253.4,184.8 253.6,184.9 253.8,185.3 254.0,186.0 254.2,185.1 254.4,184.3 254.6,183.4 254.8,182.7 255.0,182.3 255.2,181.6 255.4,180.8 255.6,180.6 255.8,180.3 256.0,180.1 256.2,179.6 256.4,178.7 256.6,178.6 256.8,178.7 257.0,178.4 257.2,177.9 257.4,177.1 257.6,175.9 257.8,173.9 258.0,172.2 258.2,171.9 258.4,171.3 258.6,170.7 258.8,169.5 259.0,167.3 259.2,164.7 259.4,165.0 259.6,165.7 259.8,167.2 260.0,169.8 260.2,171.3 260.4,172.4 260.6,174.0 260.8,175.0 261.0,174.4 261.2,171.8 261.4,169.0 261.6,168.6 261.8,168.7 262.0,167.7 262.2,166.6 262.4,165.4 262.6,166.1 262.8,166.5 263.0,163.3 263.2,160.6 263.4,158.6 263.6,157.3 263.8,158.4 264.0,159.6 264.2,159.4 264.4,163.1 264.6,168.3 264.8,173.6 265.0,176.4 265.2,179.5 265.4,182.7 265.6,184.4 265.8,186.3 266.0,188.0 266.2,189.2 266.4,190.5 266.6,191.7 266.8,190.8 267.0,190.4 267.2,189.9 267.4,188.9 267.6,187.5 267.8,186.0 268.0,184.3 268.2,182.6 268.4,181.1 268.6,179.1 268.8,177.4 269.0,175.2 269.2,172.7 269.4,170.3 269.6,167.0 269.8,163.3 270.0,160.2 270.2,158.5 270.4,158.8 270.6,162.1 270.8,164.6 271.0,164.4 271.2,164.0 271.4,162.9 271.6,163.0 271.8,164.0 272.0,163.0 272.2,161.9 272.4,162.5 272.6,164.1 272.8,166.0 273.0,167.0 273.2,167.5 273.4,167.1 273.6,168.1 273.8,169.9 274.0,170.7 274.2,171.0 274.4,171.0 274.6,170.1 274.8,168.7 275.0,168.5 275.2,170.6 275.4,171.4 275.6,168.9 275.8,167.0 276.0,167.7 276.2,168.8 276.4,167.8 276.6,165.7 276.8,166.9 277.0,169.8 277.2,171.1 277.4,169.3 277.6,166.9 277.8,167.4 278.0,168.3 278.2,168.7 278.4,169.0 278.6,169.5 278.8,170.4 279.0,170.1 279.2,168.6 279.4,168.1 279.6,170.2 279.9,171.9 280.1,169.6 280.3,164.1 280.5,162.1 280.7,162.4 280.9,163.4 281.1,161.1 281.3,156.2 281.5,152.7 281.7,151.9 281.9,151.0 282.1,151.2 282.3,153.4 282.5,154.3 282.7,153.2 282.9,152.6 283.1,152.9 283.3,152.6 283.5,153.1 283.7,154.9 283.9,156.3 284.1,157.1 284.3,156.8 284.5,155.8 284.7,155.9 284.9,157.2 285.1,157.9 285.3,159.1 285.5,160.9 285.7,161.5 285.9,160.6 286.1,160.7 286.3,163.5 286.5,165.9 286.7,168.2 286.9,170.9 287.1,173.2 287.3,175.7 287.5,177.4 287.7,179.0 287.9,181.4 288.1,183.7 288.3,185.8 288.5,187.9 288.7,190.0 288.9,192.0 289.1,194.0 289.3,192.1 289.5,190.2 289.7,188.8 289.9,188.1 290.1,187.6 290.3,186.5 290.5,185.4 290.7,184.6 290.9,184.1 291.1,183.4 291.3,182.8 291.5,182.1 291.7,180.8 291.9,180.4 292.1,179.9 292.3,179.4 292.5,180.0 292.7,180.3 292.9,179.3 293.1,177.4 293.3,175.0 293.5,173.4 293.7,172.4 293.9,171.4 294.1,170.4 294.3,168.0 294.5,162.8 294.7,158.5 294.9,156.8 295.1,155.2 295.3,152.4 295.5,151.9 295.7,154.1 295.9,155.4 296.1,156.1 296.3,157.4 296.5,158.7 296.7,158.7 296.9,158.5 297.1,159.1 297.3,160.3 297.5,161.2 297.7,162.5 297.9,163.9 298.1,166.5 298.3,170.5 298.5,172.5 298.7,173.7 298.9,174.1 299.1,171.5 299.3,166.3 299.5,160.4 299.7,158.2 299.9,162.3 300.1,164.0 300.3,161.6 300.5,161.5 300.7,159.9 300.9,158.0 301.1,158.8 301.3,163.0 301.5,167.2 301.7,168.6 301.9,168.5 302.1,167.8 302.3,167.8 302.5,169.6 302.7,171.2 302.9,171.1 303.1,171.3 303.3,172.3 303.5,173.6 303.7,175.0 303.9,176.3 304.1,177.5 304.3,177.7 304.5,177.4 304.7,177.2 304.9,176.7 305.1,175.7 305.3,175.5 305.5,176.0 305.7,176.8 305.9,177.6 306.1,178.4 306.3,179.0 306.5,178.6 306.7,176.1 306.9,173.7 307.1,176.3 307.3,178.6 307.5,179.2 307.7,179.7 307.9,181.3 308.2,182.3 308.4,182.1 308.6,181.8 308.8,181.5 309.0,180.9 309.2,180.9 309.4,180.7 309.6,179.9 309.8,178.5 310.0,176.8 310.2,175.6 310.4,175.0 310.6,173.7 310.8,171.8 311.0,170.5 311.2,168.8 311.4,166.7 311.6,164.2 311.8,161.6 312.0,160.1 312.2,160.2 312.4,161.7 312.6,162.8 312.8,164.2 313.0,166.4 313.2,167.6 313.4,167.8 313.6,168.6 313.8,169.3 314.0,170.1 314.2,170.7 314.4,169.7 314.6,168.7 314.8,165.8 315.0,162.1 315.2,161.3 315.4,162.0 315.6,160.8 315.8,157.8 316.0,156.1 316.2,154.9 316.4,156.7 316.6,159.4 316.8,161.8 317.0,161.8 317.2,159.3 317.4,157.7 317.6,161.4 317.8,167.1 318.0,168.5 318.2,166.3 318.4,164.9 318.6,166.9 318.8,169.9 319.0,171.6 319.2,172.5 319.4,172.5 319.6,172.4 319.8,172.2 320.0,170.7 320.2,169.4 320.4,167.8 320.6,165.2 320.8,163.5 321.0,163.0 321.2,162.3 321.4,160.5 321.6,157.0 321.8,153.4 322.0,150.8 322.2,150.3 322.4,148.3 322.6,147.7 322.8,149.1 323.0,148.9 323.2,148.5 323.4,149.5 323.6,148.3 323.8,148.5 324.0,150.8 324.2,151.9 324.4,151.0 324.6,150.1 324.8,148.5 325.0,147.4 325.2,149.6 325.4,150.8 325.6,149.6 325.8,150.9 326.0,154.4 326.2,153.7 326.4,151.4 326.6,152.5 326.8,153.5 327.0,153.2 327.2,153.2 327.4,154.3 327.6,155.0 327.8,155.8 328.0,156.9 328.2,156.3 328.4,157.8 328.6,160.5 328.8,162.8 329.0,164.4 329.2,162.3 329.4,158.7 329.6,158.1 329.8,158.8 330.0,157.9 330.2,156.3 330.4,155.7 330.6,158.3 330.8,162.6 331.0,165.7 331.2,167.4 331.4,167.5 331.6,167.0 331.8,166.7 332.0,165.7 332.2,165.9 332.4,168.2 332.6,170.7 332.8,171.8 333.0,171.9 333.2,172.4 333.4,172.7 333.6,171.9 333.8,170.4 334.0,170.0 334.2,170.2 334.4,169.7 334.6,168.7 334.8,165.1 335.0,161.2 335.2,162.6 335.4,164.6 335.6,164.3 335.8,165.1 336.0,164.4 336.2,163.2 336.5,163.7 336.7,166.5 336.9,169.9 337.1,172.7 337.3,173.8 337.5,175.3 337.7,177.4 337.9,179.2 338.1,182.8 338.3,187.3 338.5,189.9 338.7,191.4 338.9,193.3 339.1,195.8 339.3,198.6 339.5,200.8 339.7,202.3 339.9,203.9 340.1,205.3 340.3,206.6 340.5,208.0 340.7,206.3 340.9,204.3 341.1,202.1 341.3,199.7 341.5,197.2 341.7,194.3 341.9,191.6 342.1,188.6 342.3,186.5 342.5,185.3 342.7,182.2 342.9,179.7 343.1,178.8 343.3,176.1 343.5,175.2 343.7,175.7 343.9,174.7 344.1,172.3 344.3,170.8 344.5,170.3 344.7,169.3 344.9,168.2 345.1,168.3 345.3,169.5 345.5,170.6 345.7,170.8 345.9,169.1 346.1,167.1 346.3,165.4 346.5,161.7 346.7,157.8 346.9,158.2 347.1,159.3 347.3,156.4 347.5,152.5 347.7,152.3 347.9,153.4 348.1,156.5 348.3,159.3 348.5,159.9 348.7,160.3 348.9,161.7 349.1,163.6 349.3,165.8 349.5,168.6 349.7,170.0 349.9,170.3 350.1,170.5 350.3,171.6 350.5,174.0 350.7,175.8 350.9,176.2 351.1,176.3 351.3,176.0 351.5,176.8 351.7,177.6 351.9,177.2 352.1,176.7 352.3,177.2 352.5,178.6 352.7,179.0 352.9,178.8 353.1,179.0 353.3,181.2 353.5,184.1 353.7,185.7 353.9,186.5 354.1,187.4 354.3,187.5 354.5,186.7 354.7,186.5 354.9,188.6 355.1,190.7 355.3,191.8 355.5,191.9 355.7,191.8 355.9,192.0 356.1,190.8 356.3,189.3 356.5,188.1 356.7,186.6 356.9,185.8 357.1,183.5 357.3,179.4 357.5,178.3 357.7,179.9 357.9,180.5 358.1,181.3 358.3,182.3 358.5,182.6 358.7,183.7 358.9,183.3 359.1,181.3 359.3,181.0 359.5,182.2 359.7,183.5 359.9,185.0 360.1,184.5 360.3,182.7 360.5,182.3 360.7,182.7 360.9,182.9 361.1,182.6 361.3,181.3 361.5,178.7 361.7,176.0 361.9,174.4 362.1,173.5 362.3,172.9 362.5,171.4 362.7,169.1 362.9,167.5 363.1,166.5 363.3,164.2 363.5,161.3 363.7,158.7 363.9,156.1 364.1,155.8 364.3,154.4 364.5,152.2 364.8,150.1 365.0,147.7 365.2,146.4 365.4,147.0 365.6,150.2 365.8,154.5 366.0,158.2 366.2,159.9 366.4,161.7 366.6,163.5 366.8,165.6 367.0,167.0 367.2,167.9 367.4,168.9 367.6,169.2 367.8,169.9 368.0,170.9 368.2,170.4 368.4,169.8 368.6,169.9 368.8,170.3 369.0,170.0 369.2,169.3 369.4,169.4 369.6,168.9 369.8,167.0 370.0,163.8 370.2,162.3 370.4,163.6 370.6,165.2 370.8,166.9 371.0,167.2 371.2,168.4 371.4,171.8 371.6,174.3 371.8,175.0 372.0,175.9 372.2,178.6 372.4,181.7 372.6,184.0 372.8,185.7 373.0,186.8 373.2,188.7 373.4,191.5 373.6,194.0 373.8,195.0 374.0,195.0 374.2,192.2 374.4,189.5 374.6,188.2 374.8,187.0 375.0,185.5 375.2,184.8 375.4,184.2 375.6,182.7 375.8,181.2 376.0,180.4 376.2,179.5 376.4,180.3 376.6,180.6 376.8,179.8 377.0,179.3 377.2,179.5 377.4,179.3 377.6,179.3 377.8,179.4 378.0,179.2 378.2,180.9 378.4,182.9 378.6,184.5 378.8,186.3 379.0,187.7 379.2,188.8 379.4,190.0 379.6,191.0 379.8,192.0 380.0,193.1 380.2,194.2 380.4,195.2 380.6,196.2 380.8,197.1 381.0,198.0 381.2,197.1 381.4,196.1 381.6,194.9 381.8,193.8 382.0,193.8 382.2,194.0 382.4,193.7 382.6,193.1 382.8,192.7 383.0,192.2 383.2,191.5 383.4,190.4 383.6,189.2 383.8,188.2 384.0,186.5 384.2,184.3 384.4,182.3 384.6,180.5 384.8,178.0 385.0,176.3 385.2,175.3 385.4,172.1 385.6,168.1 385.8,165.6 386.0,161.3 386.2,156.4 386.4,158.5 386.6,162.8 386.8,166.9 387.0,173.3 387.2,177.8 387.4,178.6 387.6,179.6 387.8,182.5 388.0,186.4 388.2,189.4 388.4,189.8 388.6,189.7 388.8,191.7 389.0,193.7 389.2,194.4 389.4,195.8 389.6,197.1 389.8,197.2 390.0,197.3 390.2,198.5 390.4,199.2 390.6,199.7 390.8,198.7 391.0,197.8 391.2,197.8 391.4,198.2 391.6,199.5 391.8,199.8 392.0,200.3 392.2,201.7 392.4,202.4 392.6,202.6 392.8,203.1 393.1,204.2 393.3,205.1 393.5,206.3 393.7,208.0 393.9,209.5 394.1,211.0 394.3,209.3 394.5,207.6 394.7,206.3 394.9,205.2 395.1,204.9 395.3,204.7 395.5,204.3 395.7,203.8 395.9,203.1 396.1,202.3 396.3,202.0 396.5,201.3 396.7,200.8 396.9,199.8 397.1,198.6 397.3,197.9 397.5,198.0 397.7,198.1 397.9,197.7 398.1,196.8 398.3,196.5 398.5,196.4 398.7,195.9 398.9,195.6 399.1,195.7 399.3,194.7 399.5,193.6 399.7,193.9 399.9,194.8 400.1,195.0 400.3,194.3 400.5,195.9 400.7,198.2 400.9,198.5 401.1,197.4 401.3,196.7 401.5,196.9 401.7,196.9 401.9,196.6 402.1,195.7 402.3,193.6 402.5,191.2 402.7,189.0 402.9,186.8 403.1,184.6 403.3,182.7 403.5,181.3 403.7,180.3 403.9,178.9 404.1,176.0 404.3,170.2 404.5,163.0 404.7,159.7 404.9,163.8 405.1,165.9 405.3,166.7 405.5,167.1 405.7,167.5 405.9,168.3 406.1,169.8 406.3,171.3 406.5,172.5 406.7,173.4 406.9,172.8 407.1,171.5 407.3,170.6 407.5,170.3 407.7,169.5 407.9,167.8 408.1,165.4 408.3,163.1 408.5,162.2 408.7,164.7 408.9,166.7 409.1,165.6 409.3,164.7 409.5,164.6 409.7,164.3 409.9,166.3 410.1,169.0 410.3,170.7 410.5,171.0 410.7,170.9 410.9,170.9 411.1,170.8 411.3,170.5 411.5,170.9 411.7,171.4 411.9,172.2 412.1,173.1 412.3,173.2 412.5,171.8 412.7,168.9 412.9,168.1 413.1,169.4 413.3,169.3 413.5,167.8 413.7,165.8 413.9,167.4 414.1,168.9 414.3,168.6 414.5,170.6 414.7,174.3 414.9,177.3 415.1,179.0 415.3,181.3 415.5,185.9 415.7,190.1 415.9,193.4 416.1,196.8 416.3,200.8 416.5,204.2 416.7,206.0 416.9,207.5 417.1,209.2 417.3,210.3 417.5,211.5 417.7,212.8 417.9,214.6 418.1,212.6 418.3,210.3 418.5,208.0 418.7,205.5 418.9,202.2 419.1,198.9 419.3,196.5 419.5,193.4 419.7,190.5 419.9,190.1 420.1,190.7 420.3,189.5 420.5,189.0 420.7,189.8 420.9,190.2 421.1,190.6 421.3,190.0 421.6,188.3 421.8,185.7 422.0,183.2 422.2,183.8 422.4,186.4 422.6,188.0 422.8,188.0 423.0,187.7 423.2,187.7 423.4,187.4 423.6,187.1 423.8,187.0 424.0,186.0 424.2,184.5 424.4,184.7 424.6,185.8 424.8,186.1 425.0,185.5 425.2,184.2 425.4,182.9 425.6,183.4 425.8,184.1 426.0,182.7 426.2,181.4 426.4,182.3 426.6,184.3 426.8,186.9 427.0,189.5 427.2,191.3 427.4,193.3 427.6,196.2 427.8,198.8 428.0,201.2 428.2,204.0 428.4,206.6 428.6,209.1 428.8,210.9 429.0,212.7 429.2,215.1 429.4,216.5 429.6,217.8 429.8,219.6 430.0,220.9 430.2,221.4 430.4,223.0 430.6,225.1 430.8,227.1 431.0,229.3 431.2,226.4 431.4,223.0 431.6,219.3 431.8,216.1 432.0,213.1 432.2,209.1 432.4,205.1 432.6,201.9 432.8,198.0 433.0,195.1 433.2,194.3 433.4,194.1 433.6,191.2 433.8,187.7 434.0,186.1 434.2,183.7 434.4,180.1 434.6,178.8 434.8,181.2 435.0,187.3 435.2,190.8 435.4,190.8 435.6,192.3 435.8,194.2 436.0,193.1 436.2,190.4 436.4,189.2 436.6,189.4 436.8,189.2 437.0,189.2 437.2,188.6 437.4,188.3 437.6,188.8 437.8,188.5 438.0,189.4 438.2,191.0 438.4,191.8 438.6,192.3 438.8,193.1 439.0,194.0 439.2,195.1 439.4,196.3 439.6,197.7 439.8,199.8 440.0,201.7 440.2,200.1 440.4,199.0 440.6,198.0 440.8,197.2 441.0,196.3 441.2,195.2 441.4,193.6 441.6,192.1 441.8,191.4 442.0,190.6 442.2,190.0 442.4,188.4 442.6,186.4 442.8,184.6 443.0,182.9 443.2,181.2 443.4,178.5 443.6,176.0 443.8,174.6 444.0,174.5 444.2,176.8 444.4,177.6 444.6,177.7 444.8,178.7 445.0,177.3 445.2,174.6 445.4,174.5 445.6,176.9 445.8,178.3 446.0,181.1 446.2,183.8 446.4,184.6 446.6,185.9 446.8,188.4 447.0,191.5 447.2,194.0 447.4,196.1 447.6,198.0 447.8,199.2 448.0,199.6 448.2,200.3 448.4,201.4 448.6,202.5 448.8,203.2 449.0,203.9 449.2,204.5 449.4,205.1 449.6,206.1 449.9,207.3 450.1,207.8 450.3,208.2 450.5,208.8 450.7,209.4 450.9,210.1 451.1,211.0 451.3,210.0 451.5,209.1 451.7,208.3 451.9,207.6 452.1,206.7 452.3,205.6 452.5,204.2 452.7,203.2 452.9,202.8 453.1,202.4 453.3,201.7 453.5,200.7 453.7,199.6 453.9,198.6 454.1,197.7 454.3,197.0 454.5,196.8 454.7,196.1 454.9,194.9 455.1,194.0 455.3,194.1 455.5,193.9 455.7,193.3 455.9,192.2 456.1,190.3 456.3,188.8 456.5,188.3 456.7,188.5 456.9,188.5 457.1,187.0 457.3,185.2 457.5,184.0 457.7,182.3 457.9,180.7 458.1,179.7 458.3,179.6 458.5,179.8 458.7,179.4 458.9,179.6 459.1,180.4 459.3,180.9 459.5,182.5 459.7,184.2 459.9,184.9 460.1,184.4 460.3,184.0 460.5,184.9 460.7,185.8 460.9,186.8 461.1,185.9 461.3,184.3 461.5,184.2 461.7,184.0 461.9,183.0 462.1,179.7 462.3,173.8 462.5,171.9 462.7,173.0 462.9,173.1 463.1,172.5 463.3,172.9 463.5,174.9 463.7,178.5 463.9,181.1 464.1,183.0 464.3,184.9 464.5,185.4 464.7,184.4 464.9,183.2 465.1,181.2 465.3,179.5 465.5,178.6 465.7,177.7 465.9,176.3 466.1,174.1 466.3,171.5 466.5,170.6 466.7,172.4 466.9,173.8 467.1,173.5 467.3,173.6 467.5,174.2 467.7,174.1 467.9,173.2 468.1,173.1 468.3,174.1 468.5,174.2 468.7,175.4 468.9,177.1 469.1,178.3 469.3,179.8 469.5,180.1 469.7,178.7 469.9,178.6 470.1,180.8 470.3,182.6 470.5,183.4 470.7,183.3 470.9,182.9 471.1,182.2 471.3,180.8 471.5,180.8 471.7,181.6 471.9,182.0 472.1,182.6 472.3,183.2 472.5,182.9 472.7,182.5 472.9,183.3 473.1,184.2 473.3,183.4 473.5,180.3 473.7,178.7 473.9,180.5 474.1,182.5 474.3,183.6 474.5,185.0 474.7,186.0 474.9,186.2 475.1,186.6 475.3,186.8 475.5,187.1 475.7,188.1 475.9,189.3 476.1,190.3 476.3,191.0 476.5,191.3 476.7,192.0 476.9,193.0 477.1,193.2 477.3,192.9 477.5,192.0 477.7,191.9 477.9,193.0 478.2,193.7 478.4,193.4 478.6,193.2 478.8,193.6 479.0,193.5 479.2,192.5 479.4,191.9 479.6,191.2 479.8,190.8 480.0,191.0 480.2,189.4 480.4,188.9 480.6,189.6 480.8,189.7 481.0,187.8 481.2,184.3 481.4,184.0 481.6,185.0 481.8,186.0 482.0,187.0 482.2,187.4 482.4,187.5 482.6,187.8 482.8,188.4 483.0,189.5 483.2,189.4 483.4,188.8 483.6,188.8 483.8,188.7 484.0,187.9 484.2,188.6 484.4,190.3 484.6,191.2 484.8,190.6 485.0,188.4 485.2,186.4 485.4,185.2 485.6,183.5 485.8,180.9 486.0,178.4 486.2,178.0 486.4,179.4 486.6,179.9 486.8,179.2 487.0,178.0 487.2,178.4 487.4,178.9 487.6,180.1 487.8,182.4 488.0,184.3 488.2,184.5 488.4,185.3 488.6,187.9 488.8,189.9 489.0,191.1 489.2,191.0 489.4,190.9 489.6,191.5 489.8,192.5 490.0,193.1 490.2,193.0 490.4,192.5 490.6,191.4 490.8,189.3 491.0,188.1 491.2,188.4 491.4,188.0 491.6,186.1 491.8,182.4 492.0,179.5 492.2,179.2 492.4,179.4 492.6,177.2 492.8,183.0 493.0,190.3 493.2,195.9 493.4,202.7 493.6,208.2 493.8,211.6 494.0,213.5 494.2,214.4 494.4,214.6 494.6,214.9 494.8,215.7 495.0,217.7 495.2,219.7 495.4,221.2 495.6,222.6 495.8,224.9 496.0,228.3 496.2,232.1 496.4,236.2 496.6,240.4 496.8,236.5 497.0,232.7 497.2,228.5 497.4,224.8 497.6,221.9 497.8,219.6 498.0,217.6 498.2,215.0 498.4,211.0 498.6,207.3 498.8,203.3 499.0,197.0 499.2,190.3 499.4,186.6 499.6,182.6 499.8,176.6 500.0,172.4 500.2,169.8 500.4,166.4 500.6,161.9 500.8,161.2 501.0,165.3 501.2,169.0 501.4,171.8 501.6,173.2 501.8,176.9 502.0,182.9 502.2,185.9 502.4,186.5 502.6,188.1 502.8,187.8 503.0,184.9 503.2,181.8 503.4,180.5 503.6,178.4 503.8,175.2 504.0,172.5 504.2,171.5 504.4,170.3 504.6,167.6 504.8,164.6 505.0,162.2 505.2,160.9 505.4,161.0 505.6,162.5 505.8,162.4 506.0,159.8 506.2,157.4 506.5,156.9 506.7,156.3 506.9,155.9 507.1,156.3 507.3,158.0 507.5,161.6 507.7,166.5 507.9,172.7 508.1,176.2 508.3,177.5 508.5,179.0 508.7,180.9 508.9,182.2 509.1,183.1 509.3,184.1 509.5,185.1 509.7,186.1 509.9,187.4 510.1,189.2 510.3,191.1 510.5,192.8 510.7,193.8 510.9,194.2 511.1,195.0 511.3,197.5 511.5,199.9 511.7,201.2 511.9,202.9 512.1,205.1 512.3,207.1 512.5,209.3 512.7,211.1 512.9,212.3 513.1,213.5 513.3,216.2 513.5,219.3 513.7,221.8 513.9,223.8 514.1,222.1 514.3,220.3 514.5,218.4 514.7,217.2 514.9,216.6 515.1,216.0 515.3,215.2 515.5,213.8 515.7,211.7 515.9,209.1 516.1,205.8 516.3,202.9 516.5,201.0 516.7,198.9 516.9,196.9 517.1,195.2 517.3,193.4 517.5,191.7 517.7,190.3 517.9,188.9 518.1,187.7 518.3,186.5 518.5,185.4 518.7,185.2 518.9,186.5 519.1,187.4 519.3,188.1 519.5,188.7 519.7,188.2 519.9,187.9 520.1,187.7 520.3,187.3 520.5,187.0"/>
<polyline fill="none" stroke="#d62728" stroke-width="0.65" stroke-linejoin="round" stroke-dasharray="1.1,0.55" points="39.0,133.7 39.2,131.5 39.4,132.3 39.6,133.8 39.8,133.1 40.0,125.9 40.2,121.0 40.4,126.4 40.6,134.7 40.8,139.8 41.0,142.0 41.2,147.5 41.4,155.4 41.6,159.1 41.8,158.7 42.0,158.6 42.2,156.4 42.4,153.5 42.6,151.8 42.8,147.6 43.0,142.0 43.2,142.5 43.4,145.3 43.6,138.8 43.8,127.7 44.0,121.2 44.2,120.1 44.4,118.0 44.6,112.6 44.8,106.5 45.0,100.0 45.2,107.6 45.4,116.5 45.6,126.0 45.8,133.4 46.0,139.3 46.2,141.7 46.4,140.3 46.6,137.6 46.8,133.4 47.0,130.2 47.2,127.4 47.4,124.0 47.6,121.8 47.8,121.0 48.0,120.9 48.2,121.3 48.4,121.8 48.6,121.9 48.8,122.0 49.0,120.6 49.2,118.1 49.4,116.8 49.6,115.8 49.8,115.4 50.0,115.0 50.2,114.6 50.4,117.1 50.6,121.4 50.8,118.8 51.0,115.9 51.2,115.2 51.4,113.6 51.6,111.1 51.8,109.0 52.0,108.1 52.2,108.3 52.4,108.1 52.6,108.6 52.8,109.7 53.0,111.5 53.3,114.0 53.5,115.3 53.7,117.0 53.9,121.6 54.1,128.9 54.3,134.0 54.5,136.3 54.7,132.6 54.9,132.9 55.1,130.0 55.3,125.3 55.5,123.2 55.7,119.8 55.9,117.9 56.1,119.3 56.3,119.9 56.5,117.3 56.7,115.7 56.9,117.2 57.1,119.3 57.3,117.1 57.5,116.9 57.7,119.4 57.9,123.5 58.1,125.6 58.3,123.6 58.5,123.0 58.7,126.9 58.9,133.0 59.1,138.5 59.3,141.3 59.5,141.7 59.7,146.0 59.9,152.8 60.1,147.3 60.3,140.0 60.5,134.6 60.7,129.9 60.9,125.4 61.1,121.9 61.3,121.1 61.5,122.4 61.7,123.8 61.9,124.9 62.1,124.2 62.3,123.5 62.5,125.0 62.7,128.5 62.9,135.5 63.1,141.2 63.3,142.6 63.5,145.6 63.7,149.9 63.9,145.5 64.1,137.4 64.3,131.5 64.5,129.3 64.7,126.7 64.9,123.9 65.1,122.5 65.3,119.9 65.5,117.6 65.7,118.0 65.9,116.8 66.1,117.2 66.3,120.0 66.5,118.3 66.7,115.5 66.9,119.0 67.1,124.2 67.3,126.0 67.5,124.3 67.7,120.8 67.9,116.3 68.1,115.3 68.3,115.6 68.5,117.3 68.7,114.9 68.9,110.8 69.1,101.7 69.3,90.8 69.5,82.2 69.7,77.9 69.9,76.1 70.1,78.2 70.3,84.1 70.5,87.5 70.7,90.3 70.9,98.0 71.1,107.8 71.3,113.9 71.5,119.1 71.7,126.6 71.9,132.8 72.1,139.2 72.3,142.1 72.5,142.1 72.7,136.9 72.9,130.3 73.1,128.5 73.3,130.2 73.5,135.6 73.7,139.0 73.9,134.5 74.1,127.6 74.3,123.8 74.5,121.0 74.7,120.8 74.9,124.7 75.1,129.3 75.3,132.1 75.5,133.0 75.7,134.2 75.9,136.7 76.1,138.2 76.3,140.1 76.5,141.0 76.7,142.7 76.9,140.9 77.1,138.3 77.3,136.0 77.5,129.2 77.7,122.0 77.9,117.8 78.1,114.8 78.3,112.1 78.5,108.5 78.7,105.9 78.9,105.4 79.1,105.8 79.3,106.5 79.5,107.0 79.7,108.0 79.9,107.6 80.1,106.5 80.3,107.4 80.5,110.1 80.7,113.2 80.9,117.5 81.1,121.3 81.3,122.0 81.6,122.3 81.8,120.9 82.0,118.1 82.2,115.0 82.4,112.7 82.6,110.4 82.8,108.3 83.0,108.1 83.2,111.8 83.4,115.3 83.6,120.9 83.8,129.2 84.0,137.1 84.2,138.9 84.4,137.0 84.6,132.1 84.8,127.9 85.0,123.9 85.2,118.7 85.4,117.3 85.6,119.1 85.8,125.2 86.0,134.0 86.2,140.2 86.4,146.2 86.6,146.3 86.8,142.9 87.0,137.1 87.2,126.1 87.4,116.7 87.6,109.2 87.8,102.1 88.0,95.0 88.2,99.9 88.4,105.2 88.6,110.8 88.8,115.5 89.0,121.0 89.2,126.9 89.4,133.7 89.6,136.8 89.8,135.3 90.0,134.1 90.2,132.3 90.4,129.4 90.6,125.2 90.8,123.0 91.0,121.7 91.2,118.8 91.4,115.1 91.6,115.2 91.8,118.2 92.0,123.9 92.2,128.2 92.4,129.7 92.6,130.3 92.8,133.4 93.0,137.6 93.2,137.1 93.4,129.9 93.6,127.6 93.8,129.4 94.0,127.9 94.2,124.3 94.4,123.6 94.6,124.3 94.8,121.3 95.0,117.8 95.2,117.8 95.4,122.9 95.6,128.2 95.8,126.7 96.0,124.7 96.2,125.8 96.4,126.6 96.6,128.7 96.8,135.5 97.0,140.7 97.2,141.0 97.4,141.0 97.6,139.7 97.8,138.3 98.0,136.6 98.2,136.8 98.4,137.2 98.6,134.3 98.8,128.4 99.0,126.7 99.2,130.0 99.4,133.0 99.6,134.4 99.8,136.1 100.0,139.2 100.2,142.9 100.4,148.7 100.6,151.7 100.8,153.3 101.0,157.2 101.2,159.2 101.4,159.0 101.6,158.1 101.8,156.9 102.0,151.6 102.2,147.8 102.4,147.1 102.6,143.9 102.8,142.6 103.0,142.6 103.2,140.4 103.4,135.4 103.6,131.4 103.8,129.1 104.0,123.4 104.2,121.8 104.4,123.4 104.6,132.0 104.8,147.6 105.0,160.3 105.2,162.2 105.4,157.6 105.6,153.4 105.8,150.9 106.0,149.5 106.2,152.0 106.4,156.4 106.6,158.0 106.8,154.3 107.0,147.9 107.2,144.6 107.4,144.9 107.6,147.0 107.8,151.3 108.0,153.0 108.2,154.4 108.4,155.9 108.6,158.4 108.8,160.8 109.0,161.7 109.2,164.6 109.4,164.8 109.6,159.2 109.9,152.5 110.1,147.9 110.3,145.2 110.5,141.2 110.7,137.1 110.9,134.1 111.1,140.8 111.3,147.9 111.5,151.2 111.7,152.8 111.9,155.8 112.1,162.0 112.3,163.8 112.5,161.0 112.7,155.8 112.9,153.3 113.1,148.9 113.3,141.9 113.5,137.6 113.7,134.7 113.9,128.6 114.1,122.5 114.3,122.2 114.5,126.3 114.7,130.3 114.9,136.1 115.1,142.1 115.3,144.4 115.5,148.4 115.7,154.2 115.9,157.7 116.1,160.9 116.3,164.9 116.5,168.0 116.7,169.0 116.9,169.2 117.1,170.7 117.3,170.7 117.5,168.4 117.7,165.3 117.9,162.5 118.1,160.5 118.3,158.2 118.5,155.5 118.7,155.6 118.9,157.0 119.1,157.2 119.3,154.3 119.5,150.4 119.7,152.7 119.9,157.8 120.1,160.0 120.3,160.4 120.5,163.3 120.7,168.8 120.9,172.9 121.1,177.5 121.3,181.2 121.5,183.2 121.7,183.2 121.9,180.0 122.1,178.0 122.3,176.9 122.5,173.6 122.7,169.8 122.9,170.2 123.1,171.5 123.3,170.9 123.5,169.0 123.7,164.9 123.9,159.8 124.1,156.5 124.3,159.2 124.5,164.8 124.7,167.4 124.9,168.4 125.1,169.4 125.3,172.0 125.5,175.8 125.7,178.1 125.9,177.8 126.1,176.0 126.3,171.8 126.5,166.2 126.7,164.1 126.9,160.5 127.1,156.0 127.3,154.0 127.5,153.4 127.7,149.5 127.9,142.7 128.1,136.6 128.3,131.2 128.5,129.4 128.7,131.2 128.9,130.7 129.1,126.8 129.3,122.3 129.5,120.0 129.7,123.2 129.9,130.5 130.1,135.7 130.3,130.8 130.5,118.4 130.7,108.7 130.9,103.8 131.1,97.9 131.3,91.5 131.5,91.8 131.7,92.5 131.9,93.8 132.1,100.4 132.3,110.9 132.5,119.1 132.7,126.9 132.9,138.5 133.1,144.4 133.3,138.8 133.5,136.7 133.7,135.8 133.9,131.0 134.1,128.3 134.3,133.0 134.5,140.8 134.7,150.4 134.9,158.4 135.1,158.8 135.3,158.2 135.5,160.7 135.7,165.1 135.9,166.0 136.1,159.9 136.3,150.9 136.5,144.5 136.7,140.6 136.9,138.1 137.1,138.9 137.3,138.8 137.5,139.8 137.7,144.2 137.9,149.1 138.2,151.5 138.4,149.6 138.6,147.9 138.8,149.9 139.0,154.7 139.2,161.1 139.4,165.7 139.6,165.4 139.8,150.7 140.0,133.0 140.2,122.4 140.4,118.9 140.6,117.6 140.8,116.1 141.0,116.6 141.2,117.3 141.4,118.3 141.6,120.1 141.8,123.8 142.0,126.5 142.2,126.5 142.4,127.2 142.6,128.4 142.8,130.7 143.0,131.4 143.2,131.4 143.4,132.5 143.6,131.9 143.8,130.1 144.0,130.3 144.2,130.5 144.4,130.2 144.6,130.3 144.8,131.2 145.0,131.8 145.2,130.1 145.4,128.3 145.6,128.0 145.8,128.1 146.0,128.6 146.2,130.7 146.4,134.7 146.6,138.7 146.8,141.6 147.0,143.9 147.2,147.0 147.4,152.6 147.6,158.8 147.8,158.8 148.0,155.7 148.2,151.9 148.4,147.1 148.6,144.3 148.8,144.0 149.0,141.9 149.2,138.9 149.4,138.8 149.6,139.5 149.8,139.3 150.0,139.7 150.2,140.3 150.4,142.2 150.6,143.0 150.8,141.4 151.0,142.2 151.2,144.7 151.4,145.9 151.6,147.1 151.8,146.7 152.0,144.2 152.2,140.0 152.4,138.0 152.6,137.1 152.8,137.6 153.0,138.0 153.2,137.8 153.4,135.3 153.6,130.0 153.8,126.4 154.0,125.3 154.2,124.1 154.4,121.5 154.6,121.9 154.8,125.5 155.0,128.8 155.2,133.8 155.4,142.3 155.6,147.5 155.8,149.2 156.0,143.3 156.2,134.7 156.4,127.6 156.6,126.4 156.8,127.5 157.0,124.5 157.2,119.3 157.4,115.5 157.6,112.9 157.8,114.4 158.0,116.8 158.2,120.1 158.4,125.7 158.6,127.7 158.8,127.1 159.0,126.2 159.2,121.9 159.4,113.0 159.6,103.6 159.8,97.2 160.0,92.0 160.2,96.8 160.4,102.3 160.6,104.2 160.8,105.2 161.0,107.2 161.2,108.6 161.4,110.6 161.6,108.0 161.8,103.7 162.0,105.2 162.2,109.1 162.4,109.0 162.6,107.2 162.8,107.8 163.0,110.2 163.2,112.0 163.4,114.2 163.6,114.2 163.8,110.8 164.0,106.7 164.2,103.7 164.4,104.2 164.6,102.1 164.8,96.0 165.0,94.3 165.2,95.5 165.4,96.4 165.6,98.5 165.8,103.3 166.0,110.8 166.2,117.0 166.4,122.4 166.7,125.5 166.9,128.3 167.1,135.8 167.3,143.8 167.5,149.2 167.7,152.9 167.9,151.4 168.1,148.4 168.3,147.1 168.5,146.0 168.7,144.1 168.9,142.2 169.1,141.6 169.3,140.7 169.5,139.0 169.7,137.6 169.9,137.0 170.1,136.3 170.3,135.9 170.5,136.1 170.7,137.1 170.9,136.6 171.1,136.0 171.3,136.4 171.5,135.3 171.7,133.6 171.9,132.6 172.1,132.4 172.3,132.7 172.5,132.7 172.7,132.4 172.9,132.4 173.1,134.2 173.3,133.7 173.5,130.3 173.7,128.5 173.9,128.1 174.1,125.2 174.3,121.6 174.5,120.0 174.7,118.8 174.9,117.0 175.1,114.6 175.3,110.0 175.5,108.1 175.7,109.1 175.9,112.3 176.1,113.6 176.3,113.7 176.5,114.9 176.7,118.2 176.9,122.9 177.1,133.0 177.3,138.8 177.5,136.4 177.7,133.1 177.9,131.7 178.1,130.8 178.3,127.0 178.5,121.6 178.7,119.2 178.9,118.6 179.1,117.7 179.3,117.0 179.5,119.0 179.7,123.4 179.9,129.3 180.1,131.7 180.3,132.5 180.5,135.5 180.7,140.1 180.9,143.5 181.1,144.1 181.3,145.4 181.5,148.7 181.7,151.4 181.9,156.0 182.1,161.2 182.3,163.4 182.5,163.4 182.7,162.8 182.9,161.5 183.1,157.8 183.3,151.8 183.5,149.1 183.7,147.9 183.9,146.5 184.1,145.1 184.3,141.2 184.5,136.0 184.7,132.3 184.9,132.0 185.1,131.4 185.3,130.9 185.5,132.2 185.7,138.1 185.9,149.1 186.1,157.1 186.3,159.5 186.5,154.7 186.7,147.5 186.9,143.2 187.1,142.4 187.3,141.4 187.5,134.9 187.7,126.3 187.9,122.6 188.1,125.6 188.3,131.1 188.5,135.8 188.7,139.1 188.9,140.0 189.1,141.4 189.3,143.0 189.5,141.2 189.7,141.0 189.9,147.3 190.1,149.2 190.3,149.0 190.5,149.1 190.7,148.8 190.9,149.1 191.1,151.4 191.3,153.3 191.5,153.5 191.7,153.5 191.9,153.0 192.1,152.9 192.3,157.0 192.5,163.9 192.7,168.5 192.9,171.3 193.1,172.5 193.3,172.1 193.5,171.4 193.7,172.0 193.9,170.9 194.1,167.8 194.3,160.6 194.5,154.4 194.7,149.4 195.0,148.0 195.2,146.8 195.4,139.4 195.6,132.3 195.8,127.8 196.0,124.4 196.2,124.0 196.4,126.8 196.6,131.3 196.8,136.2 197.0,137.4 197.2,134.0 197.4,128.7 197.6,128.1 197.8,133.4 198.0,138.8 198.2,139.2 198.4,137.3 198.6,135.5 198.8,128.0 199.0,114.1 199.2,107.8 199.4,108.3 199.6,105.1 199.8,100.8 200.0,100.4 200.2,103.8 200.4,109.3 200.6,112.9 200.8,117.5 201.0,123.5 201.2,126.7 201.4,124.2 201.6,125.5 201.8,124.1 202.0,120.6 202.2,118.2 202.4,115.3 202.6,113.0 202.8,112.8 203.0,113.9 203.2,115.0 203.4,115.3 203.6,116.1 203.8,118.4 204.0,122.0 204.2,123.2 204.4,124.2 204.6,126.0 204.8,128.2 205.0,130.3 205.2,130.7 205.4,130.6 205.6,131.8 205.8,136.7 206.0,144.8 206.2,150.1 206.4,149.5 206.6,146.9 206.8,144.7 207.0,142.7 207.2,141.7 207.4,141.9 207.6,140.9 207.8,138.7 208.0,136.6 208.2,137.9 208.4,141.0 208.6,142.3 208.8,143.9 209.0,147.2 209.2,151.1 209.4,153.9 209.6,155.1 209.8,156.6 210.0,153.2 210.2,146.9 210.4,139.1 210.6,136.8 210.8,138.2 211.0,134.0 211.2,126.1 211.4,121.4 211.6,118.4 211.8,117.6 212.0,116.1 212.2,111.7 212.4,107.9 212.6,106.7 212.8,106.3 213.0,105.9 213.2,108.1 213.4,112.4 213.6,114.2 213.8,115.5 214.0,124.6 214.2,139.1 214.4,146.5 214.6,149.4 214.8,147.1 215.0,140.2 215.2,134.2 215.4,129.8 215.6,125.3 215.8,115.5 216.0,106.3 216.2,106.9 216.4,110.2 216.6,105.2 216.8,97.5 217.0,98.4 217.2,108.0 217.4,121.4 217.6,131.5 217.8,137.4 218.0,143.1 218.2,144.6 218.4,141.2 218.6,135.9 218.8,131.9 219.0,128.9 219.2,119.3 219.4,110.7 219.6,107.9 219.8,107.4 220.0,105.4 220.2,99.4 220.4,103.7 220.6,111.2 220.8,123.8 221.0,138.5 221.2,147.2 221.4,148.2 221.6,143.8 221.8,142.6 222.0,148.3 222.2,153.8 222.4,156.2 222.6,152.4 222.8,148.8 223.0,146.8 223.3,145.9 223.5,145.7 223.7,143.8 223.9,147.0 224.1,153.2 224.3,158.8 224.5,161.9 224.7,162.7 224.9,163.2 225.1,166.3 225.3,172.3 225.5,174.9 225.7,171.9 225.9,174.2 226.1,179.5 226.3,180.7 226.5,173.1 226.7,162.4 226.9,153.4 227.1,146.7 227.3,142.5 227.5,140.5 227.7,143.1 227.9,144.0 228.1,146.8 228.3,151.5 228.5,154.6 228.7,160.7 228.9,165.9 229.1,165.8 229.3,165.3 229.5,168.7 229.7,172.3 229.9,173.5 230.1,171.8 230.3,168.9 230.5,165.8 230.7,163.9 230.9,162.7 231.1,161.1 231.3,158.0 231.5,154.2 231.7,145.4 231.9,136.0 232.1,129.8 232.3,123.5 232.5,115.4 232.7,109.2 232.9,103.3 233.1,95.0 233.3,104.7 233.5,115.3 233.7,125.6 233.9,134.4 234.1,141.5 234.3,145.7 234.5,147.6 234.7,147.4 234.9,144.8 235.1,143.4 235.3,141.2 235.5,136.5 235.7,128.7 235.9,123.4 236.1,120.0 236.3,117.1 236.5,123.0 236.7,132.3 236.9,134.9 237.1,139.4 237.3,147.3 237.5,151.6 237.7,144.4 237.9,137.8 238.1,136.6 238.3,133.6 238.5,128.6 238.7,124.2 238.9,120.5 239.1,114.5 239.3,110.0 239.5,109.5 239.7,106.8 239.9,105.1 240.1,108.2 240.3,113.1 240.5,119.7 240.7,125.6 240.9,126.6 241.1,127.2 241.3,131.2 241.5,138.1 241.7,144.3 241.9,148.0 242.1,149.7 242.3,147.2 242.5,144.4 242.7,145.2 242.9,147.6 243.1,146.0 243.3,140.1 243.5,134.9 243.7,131.9 243.9,132.7 244.1,133.9 244.3,132.9 244.5,130.8 244.7,131.3 244.9,133.2 245.1,133.5 245.3,134.9 245.5,135.7 245.7,133.6 245.9,132.9 246.1,127.5 246.3,119.4 246.5,111.2 246.7,106.8 246.9,105.1 247.1,107.6 247.3,114.8 247.5,120.5 247.7,125.1 247.9,132.9 248.1,141.8 248.3,145.7 248.5,145.8 248.7,141.0 248.9,134.8 249.1,133.0 249.3,131.4 249.5,129.6 249.7,130.6 249.9,129.1 250.1,126.3 250.3,123.6 250.5,125.5 250.7,130.6 250.9,137.2 251.1,141.1 251.3,141.1 251.6,141.2 251.8,139.5 252.0,137.8 252.2,136.6 252.4,138.1 252.6,138.5 252.8,135.6 253.0,132.9 253.2,132.5 253.4,131.0 253.6,132.9 253.8,139.1 254.0,145.9 254.2,148.8 254.4,151.4 254.6,157.1 254.8,155.6 255.0,153.7 255.2,152.3 255.4,152.0 255.6,152.5 255.8,149.3 256.0,145.5 256.2,147.3 256.4,147.9 256.6,137.3 256.8,124.2 257.0,117.9 257.2,114.3 257.4,110.3 257.6,103.6 257.8,95.3 258.0,85.0 258.2,96.6 258.4,107.1 258.6,111.2 258.8,110.9 259.0,108.2 259.2,103.0 259.4,99.7 259.6,103.6 259.8,112.2 260.0,125.8 260.2,143.7 260.4,156.9 260.6,158.7 260.8,150.3 261.0,149.0 261.2,153.3 261.4,149.3 261.6,141.6 261.8,140.1 262.0,141.3 262.2,136.1 262.4,128.9 262.6,122.1 262.8,118.0 263.0,118.6 263.2,120.4 263.4,122.9 263.6,125.1 263.8,131.4 264.0,137.7 264.2,138.5 264.4,144.0 264.6,154.7 264.8,161.7 265.0,157.4 265.2,152.1 265.4,149.8 265.6,149.9 265.8,152.6 266.0,154.8 266.2,153.9 266.4,151.7 266.6,148.5 266.8,147.2 267.0,148.9 267.2,147.8 267.4,143.8 267.6,142.4 267.8,142.1 268.0,143.6 268.2,147.0 268.4,149.8 268.6,151.4 268.8,152.1 269.0,152.2 269.2,152.9 269.4,155.2 269.6,159.1 269.8,160.4 270.0,159.0 270.2,159.2 270.4,154.0 270.6,148.1 270.8,138.7 271.0,126.2 271.2,114.3 271.4,105.1 271.6,104.5 271.8,108.9 272.0,119.9 272.2,134.8 272.4,138.8 272.6,133.2 272.8,121.1 273.0,112.1 273.2,107.5 273.4,105.5 273.6,103.8 273.8,102.4 274.0,107.6 274.2,113.1 274.4,118.5 274.6,128.0 274.8,137.4 275.0,143.3 275.2,149.1 275.4,146.8 275.6,145.6 275.8,144.6 276.0,142.3 276.2,137.4 276.4,132.2 276.6,130.1 276.8,132.6 277.0,137.1 277.2,138.6 277.4,138.8 277.6,139.8 277.8,143.2 278.0,149.1 278.2,150.2 278.4,142.7 278.6,134.0 278.8,132.2 279.0,132.7 279.2,129.1 279.4,124.1 279.6,125.0 279.9,127.0 280.1,127.3 280.3,129.6 280.5,132.2 280.7,132.4 280.9,133.3 281.1,140.0 281.3,147.7 281.5,150.7 281.7,156.9 281.9,161.9 282.1,160.4 282.3,156.6 282.5,152.9 282.7,147.5 282.9,143.2 283.1,139.6 283.3,136.0 283.5,134.2 283.7,134.2 283.9,132.8 284.1,128.5 284.3,123.8 284.5,123.1 284.7,124.7 284.9,121.9 285.1,119.0 285.3,121.3 285.5,125.1 285.7,126.6 285.9,129.0 286.1,131.6 286.3,134.8 286.5,142.6 286.7,151.6 286.9,157.3 287.1,159.4 287.3,160.9 287.5,163.1 287.7,165.3 287.9,167.8 288.1,168.2 288.3,168.1 288.5,169.3 288.7,168.9 288.9,167.0 289.1,167.0 289.3,167.7 289.5,168.9 289.7,169.3 289.9,169.1 290.1,170.8 290.3,171.0 290.5,172.6 290.7,173.4 290.9,173.2 291.1,170.1 291.3,167.2 291.5,167.6 291.7,167.2 291.9,166.4 292.1,167.3 292.3,168.7 292.5,165.3 292.7,158.3 292.9,149.4 293.1,139.8 293.3,134.5 293.5,131.8 293.7,130.1 293.9,132.4 294.1,133.6 294.3,135.9 294.5,141.2 294.7,146.0 294.9,150.1 295.1,146.1 295.3,142.1 295.5,132.7 295.7,121.6 295.9,115.7 296.1,112.6 296.3,108.8 296.5,104.8 296.7,106.6 296.9,114.2 297.1,121.8 297.3,129.6 297.5,138.1 297.7,146.7 297.9,146.9 298.1,146.4 298.3,146.2 298.5,144.8 298.7,145.7 298.9,148.9 299.1,150.1 299.3,150.3 299.5,152.2 299.7,155.7 299.9,157.3 300.1,162.1 300.3,169.5 300.5,173.9 300.7,175.6 300.9,176.8 301.1,178.8 301.3,177.3 301.5,174.1 301.7,170.5 301.9,165.0 302.1,158.3 302.3,154.0 302.5,151.4 302.7,148.9 302.9,151.1 303.1,153.6 303.3,155.6 303.5,156.3 303.7,157.0 303.9,160.3 304.1,163.3 304.3,165.1 304.5,166.7 304.7,164.8 304.9,165.4 305.1,168.7 305.3,171.5 305.5,171.5 305.7,169.3 305.9,168.9 306.1,170.0 306.3,169.3 306.5,168.5 306.7,166.9 306.9,163.9 307.1,164.4 307.3,168.6 307.5,174.2 307.7,176.7 307.9,177.0 308.2,177.7 308.4,179.3 308.6,180.2 308.8,177.8 309.0,174.4 309.2,171.2 309.4,165.6 309.6,158.8 309.8,157.6 310.0,157.1 310.2,153.6 310.4,148.5 310.6,142.8 310.8,140.6 311.0,143.5 311.2,146.0 311.4,148.7 311.6,150.1 311.8,150.6 312.0,154.6 312.2,157.6 312.4,155.2 312.6,151.7 312.8,154.4 313.0,158.2 313.2,158.2 313.4,157.2 313.6,154.9 313.8,156.2 314.0,159.6 314.2,159.7 314.4,156.0 314.6,153.0 314.8,150.3 315.0,149.4 315.2,149.0 315.4,146.3 315.6,143.9 315.8,144.4 316.0,145.8 316.2,149.4 316.4,155.1 316.6,159.9 316.8,160.8 317.0,158.7 317.2,157.4 317.4,161.2 317.6,166.4 317.8,163.3 318.0,156.3 318.2,149.6 318.4,141.3 318.6,131.9 318.8,127.2 319.0,122.5 319.2,117.9 319.4,115.4 319.6,115.7 319.8,115.3 320.0,116.9 320.2,120.9 320.4,124.7 320.6,127.5 320.8,129.5 321.0,128.1 321.2,124.1 321.4,124.2 321.6,132.2 321.8,139.4 322.0,140.3 322.2,138.2 322.4,135.7 322.6,133.6 322.8,130.9 323.0,127.8 323.2,128.7 323.4,132.1 323.6,132.7 323.8,128.2 324.0,124.5 324.2,122.8 324.4,122.1 324.6,120.9 324.8,121.0 325.0,122.9 325.2,129.4 325.4,137.0 325.6,141.6 325.8,142.4 326.0,146.3 326.2,151.8 326.4,152.9 326.6,152.8 326.8,151.7 327.0,149.8 327.2,147.1 327.4,143.4 327.6,141.8 327.8,142.5 328.0,139.5 328.2,134.5 328.4,139.4 328.6,149.4 328.8,158.3 329.0,165.0 329.2,170.8 329.4,172.9 329.6,170.2 329.8,167.1 330.0,163.0 330.2,162.0 330.4,163.5 330.6,162.9 330.8,159.4 331.0,152.9 331.2,144.1 331.4,139.9 331.6,139.7 331.8,137.3 332.0,132.7 332.2,129.7 332.4,130.9 332.6,133.7 332.8,136.4 333.0,139.1 333.2,139.7 333.4,139.6 333.6,139.1 333.8,140.2 334.0,142.8 334.2,144.1 334.4,145.3 334.6,146.4 334.8,142.8 335.0,140.9 335.2,143.1 335.4,144.1 335.6,141.4 335.8,139.6 336.0,141.6 336.2,144.4 336.5,143.3 336.7,141.7 336.9,140.7 337.1,139.7 337.3,139.6 337.5,140.6 337.7,142.3 337.9,144.4 338.1,145.9 338.3,150.8 338.5,158.0 338.7,164.5 338.9,168.6 339.1,168.2 339.3,165.1 339.5,163.7 339.7,162.4 339.9,162.9 340.1,168.6 340.3,174.3 340.5,178.9 340.7,183.4 340.9,189.4 341.1,193.6 341.3,194.8 341.5,193.8 341.7,190.9 341.9,183.7 342.1,177.2 342.3,174.4 342.5,171.7 342.7,169.7 342.9,168.3 343.1,164.4 343.3,157.4 343.5,152.3 343.7,154.9 343.9,156.7 344.1,157.0 344.3,160.1 344.5,163.2 344.7,163.8 344.9,164.6 345.1,168.1 345.3,169.7 345.5,164.7 345.7,158.4 345.9,152.6 346.1,149.3 346.3,146.3 346.5,138.0 346.7,138.2 346.9,142.2 347.1,146.3 347.3,149.5 347.5,154.0 347.7,157.6 347.9,159.9 348.1,161.9 348.3,163.1 348.5,160.0 348.7,156.5 348.9,152.8 349.1,148.2 349.3,144.3 349.5,142.4 349.7,137.8 349.9,133.8 350.1,131.4 350.3,129.6 350.5,135.0 350.7,142.3 350.9,149.7 351.1,154.8 351.3,157.2 351.5,158.8 351.7,159.7 351.9,160.3 352.1,160.3 352.3,161.7 352.5,163.0 352.7,160.4 352.9,156.1 353.1,154.7 353.3,156.5 353.5,157.5 353.7,156.1 353.9,156.2 354.1,156.7 354.3,157.8 354.5,160.1 354.7,161.4 354.9,161.3 355.1,161.7 355.3,163.6 355.5,165.5 355.7,166.4 355.9,168.0 356.1,168.2 356.3,167.4 356.5,169.0 356.7,171.4 356.9,170.9 357.1,170.7 357.3,172.6 357.5,172.0 357.7,167.6 357.9,162.8 358.1,157.4 358.3,154.4 358.5,153.7 358.7,152.4 358.9,150.4 359.1,148.1 359.3,145.0 359.5,143.3 359.7,141.9 359.9,143.6 360.1,146.7 360.3,148.3 360.5,149.8 360.7,152.0 360.9,147.4 361.1,142.4 361.3,137.6 361.5,132.7 361.7,126.7 361.9,121.0 362.1,117.7 362.3,115.8 362.5,110.7 362.7,105.5 362.9,102.2 363.1,99.4 363.3,95.2 363.5,89.4 363.7,88.7 363.9,94.9 364.1,101.7 364.3,110.1 364.5,121.4 364.8,134.8 365.0,143.5 365.2,136.5 365.4,125.7 365.6,118.5 365.8,115.0 366.0,110.8 366.2,106.9 366.4,102.5 366.6,98.1 366.8,95.8 367.0,95.5 367.2,94.1 367.4,91.6 367.6,88.6 367.8,85.0 368.0,90.1 368.2,94.6 368.4,99.7 368.6,106.3 368.8,112.2 369.0,114.6 369.2,117.0 369.4,117.8 369.6,115.4 369.8,115.5 370.0,116.6 370.2,118.2 370.4,120.6 370.6,124.1 370.8,128.3 371.0,132.4 371.2,135.4 371.4,138.4 371.6,141.8 371.8,145.9 372.0,151.1 372.2,152.9 372.4,153.9 372.6,154.9 372.8,154.6 373.0,154.4 373.2,154.6 373.4,154.0 373.6,154.6 373.8,155.7 374.0,155.7 374.2,154.0 374.4,151.5 374.6,149.6 374.8,147.8 375.0,146.1 375.2,146.1 375.4,146.4 375.6,144.9 375.8,142.6 376.0,141.2 376.2,143.1 376.4,148.9 376.6,152.0 376.8,149.1 377.0,146.9 377.2,151.1 377.4,149.3 377.6,145.6 377.8,144.7 378.0,143.3 378.2,141.0 378.4,139.1 378.6,143.6 378.8,146.8 379.0,149.3 379.2,149.9 379.4,150.5 379.6,155.7 379.8,165.2 380.0,172.3 380.2,175.4 380.4,178.9 380.6,182.9 380.8,185.3 381.0,186.4 381.2,187.8 381.4,186.8 381.6,184.8 381.8,182.5 382.0,179.8 382.2,174.3 382.4,169.5 382.6,167.1 382.8,166.6 383.0,169.1 383.2,170.1 383.4,171.3 383.6,173.5 383.8,175.8 384.0,174.9 384.2,173.0 384.4,174.9 384.6,175.6 384.8,173.6 385.0,173.0 385.2,170.7 385.4,167.7 385.6,167.7 385.8,167.3 386.0,164.7 386.2,161.7 386.4,157.9 386.6,155.3 386.8,156.2 387.0,159.5 387.2,163.1 387.4,167.5 387.6,175.7 387.8,182.9 388.0,182.2 388.2,179.5 388.4,176.4 388.6,176.4 388.8,176.4 389.0,177.1 389.2,177.9 389.4,182.5 389.6,187.2 389.8,190.3 390.0,194.3 390.2,198.2 390.4,197.6 390.6,195.6 390.8,192.2 391.0,189.1 391.2,188.9 391.4,187.7 391.6,187.2 391.8,190.2 392.0,191.5 392.2,186.9 392.4,181.6 392.6,182.9 392.8,183.9 393.1,182.5 393.3,182.6 393.5,183.4 393.7,184.8 393.9,186.0 394.1,186.6 394.3,188.1 394.5,189.6 394.7,188.6 394.9,187.2 395.1,185.7 395.3,185.4 395.5,183.8 395.7,180.5 395.9,176.7 396.1,171.3 396.3,167.1 396.5,166.7 396.7,166.3 396.9,167.0 397.1,169.2 397.3,176.3 397.5,184.0 397.7,188.7 397.9,190.5 398.1,192.7 398.3,193.0 398.5,192.2 398.7,191.6 398.9,191.9 399.1,191.4 399.3,189.1 399.5,187.6 399.7,187.3 399.9,186.0 400.1,181.9 400.3,185.9 400.5,191.8 400.7,195.7 400.9,197.6 401.1,198.4 401.3,198.5 401.5,197.8 401.7,196.6 401.9,194.9 402.1,192.7 402.3,189.6 402.5,184.6 402.7,178.6 402.9,176.0 403.1,174.3 403.3,169.3 403.5,166.2 403.7,165.5 403.9,160.8 404.1,158.1 404.3,161.5 404.5,162.2 404.7,157.2 404.9,153.3 405.1,155.5 405.3,158.4 405.5,158.0 405.7,158.8 405.9,156.4 406.1,148.4 406.3,142.6 406.5,142.1 406.7,142.2 406.9,139.6 407.1,134.5 407.3,127.7 407.5,117.0 407.7,113.4 407.9,120.7 408.1,126.3 408.3,126.4 408.5,123.4 408.7,120.7 408.9,115.9 409.1,113.5 409.3,111.2 409.5,104.6 409.7,96.3 409.9,88.0 410.1,98.2 410.3,110.4 410.5,119.1 410.7,124.8 410.9,126.8 411.1,126.1 411.3,124.6 411.5,120.0 411.7,121.9 411.9,120.7 412.1,118.3 412.3,115.6 412.5,111.4 412.7,104.5 412.9,95.0 413.1,106.5 413.3,119.3 413.5,131.4 413.7,140.8 413.9,149.7 414.1,154.8 414.3,157.0 414.5,162.6 414.7,162.5 414.9,158.4 415.1,157.9 415.3,159.2 415.5,158.1 415.7,155.6 415.9,154.9 416.1,157.4 416.3,161.5 416.5,164.2 416.7,168.3 416.9,174.6 417.1,178.9 417.3,181.7 417.5,183.6 417.7,186.6 417.9,185.4 418.1,181.3 418.3,177.6 418.5,175.6 418.7,174.4 418.9,170.9 419.1,165.9 419.3,164.9 419.5,162.2 419.7,156.4 419.9,151.8 420.1,147.3 420.3,143.5 420.5,142.2 420.7,142.3 420.9,141.6 421.1,139.9 421.3,139.7 421.6,140.8 421.8,140.5 422.0,140.6 422.2,144.5 422.4,146.9 422.6,148.3 422.8,150.2 423.0,151.9 423.2,153.4 423.4,152.3 423.6,154.7 423.8,159.0 424.0,158.2 424.2,151.9 424.4,148.3 424.6,148.9 424.8,147.8 425.0,144.4 425.2,143.3 425.4,143.7 425.6,141.5 425.8,142.2 426.0,145.4 426.2,152.8 426.4,159.0 426.6,160.3 426.8,161.3 427.0,165.1 427.2,171.1 427.4,178.6 427.6,186.3 427.8,189.4 428.0,189.1 428.2,190.7 428.4,190.5 428.6,188.9 428.8,188.5 429.0,187.6 429.2,184.7 429.4,183.4 429.6,182.1 429.8,181.0 430.0,181.1 430.2,178.3 430.4,174.5 430.6,173.4 430.8,172.1 431.0,169.5 431.2,171.1 431.4,176.0 431.6,181.1 431.8,187.3 432.0,192.5 432.2,194.3 432.4,190.4 432.6,187.3 432.8,185.5 433.0,179.7 433.2,172.2 433.4,169.0 433.6,169.2 433.8,167.8 434.0,161.7 434.2,157.1 434.4,156.1 434.6,159.7 434.8,163.3 435.0,169.1 435.2,172.3 435.4,173.2 435.6,169.9 435.8,169.7 436.0,165.7 436.2,160.0 436.4,158.7 436.6,157.9 436.8,157.7 437.0,159.9 437.2,158.9 437.4,156.9 437.6,153.8 437.8,152.2 438.0,154.9 438.2,158.3 438.4,160.1 438.6,161.8 438.8,163.1 439.0,160.0 439.2,147.6 439.4,143.1 439.6,141.3 439.8,137.1 440.0,131.6 440.2,130.1 440.4,131.3 440.6,132.2 440.8,132.3 441.0,131.4 441.2,130.9 441.4,131.9 441.6,131.7 441.8,130.3 442.0,131.0 442.2,130.5 442.4,129.1 442.6,126.6 442.8,122.9 443.0,120.5 443.2,118.0 443.4,115.3 443.6,114.9 443.8,115.0 444.0,114.0 444.2,113.3 444.4,111.3 444.6,109.6 444.8,110.0 445.0,114.2 445.2,118.4 445.4,122.3 445.6,128.3 445.8,136.7 446.0,145.4 446.2,152.6 446.4,155.9 446.6,158.9 446.8,163.7 447.0,170.2 447.2,175.3 447.4,171.8 447.6,167.5 447.8,160.6 448.0,154.8 448.2,152.3 448.4,153.4 448.6,159.5 448.8,163.2 449.0,166.9 449.2,172.9 449.4,179.7 449.6,184.1 449.9,184.1 450.1,184.9 450.3,186.5 450.5,185.3 450.7,183.9 450.9,180.4 451.1,176.4 451.3,174.2 451.5,173.4 451.7,171.1 451.9,169.3 452.1,169.7 452.3,167.6 452.5,161.7 452.7,160.4 452.9,161.1 453.1,160.2 453.3,161.6 453.5,164.5 453.7,164.5 453.9,164.4 454.1,165.1 454.3,165.6 454.5,167.3 454.7,164.4 454.9,159.7 455.1,155.3 455.3,150.4 455.5,146.4 455.7,144.8 455.9,142.8 456.1,143.0 456.3,143.6 456.5,142.6 456.7,142.0 456.9,142.3 457.1,140.5 457.3,136.3 457.5,135.6 457.7,142.2 457.9,148.4 458.1,146.4 458.3,143.5 458.5,140.8 458.7,141.4 458.9,141.1 459.1,140.2 459.3,141.8 459.5,142.8 459.7,139.6 459.9,135.7 460.1,135.0 460.3,138.5 460.5,140.4 460.7,141.2 460.9,144.2 461.1,144.1 461.3,143.3 461.5,144.2 461.7,146.8 461.9,153.2 462.1,156.0 462.3,155.4 462.5,152.3 462.7,149.0 462.9,148.2 463.1,148.3 463.3,146.6 463.5,143.3 463.7,140.1 463.9,138.3 464.1,138.0 464.3,136.9 464.5,134.7 464.7,132.6 464.9,131.0 465.1,132.6 465.3,134.4 465.5,135.7 465.7,137.1 465.9,138.6 466.1,140.0 466.3,142.4 466.5,146.0 466.7,146.9 466.9,149.6 467.1,156.6 467.3,159.3 467.5,155.2 467.7,148.1 467.9,144.2 468.1,144.9 468.3,142.7 468.5,138.7 468.7,139.3 468.9,142.1 469.1,140.9 469.3,137.8 469.5,138.2 469.7,138.5 469.9,135.0 470.1,134.7 470.3,136.2 470.5,137.7 470.7,145.5 470.9,157.3 471.1,165.5 471.3,167.6 471.5,160.9 471.7,154.1 471.9,145.2 472.1,138.1 472.3,131.9 472.5,125.4 472.7,122.6 472.9,119.7 473.1,125.1 473.3,134.2 473.5,141.2 473.7,144.2 473.9,150.7 474.1,161.4 474.3,162.0 474.5,159.9 474.7,158.1 474.9,155.6 475.1,152.7 475.3,149.6 475.5,147.3 475.7,146.3 475.9,145.5 476.1,145.1 476.3,146.9 476.5,152.7 476.7,157.1 476.9,160.6 477.1,163.8 477.3,166.6 477.5,171.1 477.7,169.4 477.9,168.2 478.2,168.7 478.4,170.4 478.6,171.2 478.8,168.1 479.0,166.3 479.2,168.1 479.4,168.3 479.6,166.6 479.8,166.9 480.0,165.4 480.2,166.4 480.4,169.6 480.6,174.2 480.8,178.7 481.0,182.5 481.2,186.3 481.4,191.5 481.6,197.8 481.8,201.1 482.0,202.6 482.2,199.6 482.4,195.3 482.6,188.5 482.8,180.8 483.0,174.0 483.2,169.4 483.4,172.0 483.6,176.7 483.8,179.2 484.0,180.2 484.2,180.4 484.4,182.9 484.6,183.0 484.8,181.3 485.0,174.1 485.2,166.2 485.4,164.3 485.6,166.3 485.8,167.4 486.0,165.1 486.2,161.2 486.4,159.1 486.6,157.2 486.8,153.6 487.0,150.3 487.2,150.3 487.4,150.1 487.6,150.8 487.8,152.2 488.0,156.1 488.2,159.6 488.4,162.5 488.6,167.8 488.8,173.2 489.0,178.1 489.2,179.2 489.4,173.3 489.6,163.2 489.8,154.1 490.0,151.8 490.2,152.9 490.4,152.8 490.6,152.6 490.8,153.7 491.0,159.8 491.2,164.8 491.4,166.3 491.6,166.1 491.8,169.1 492.0,176.1 492.2,181.4 492.4,184.0 492.6,184.0 492.8,185.4 493.0,185.3 493.2,182.3 493.4,179.9 493.6,177.8 493.8,176.4 494.0,175.4 494.2,173.7 494.4,171.7 494.6,172.6 494.8,174.0 495.0,175.4 495.2,178.4 495.4,183.4 495.6,188.4 495.8,189.4 496.0,187.6 496.2,187.8 496.4,186.4 496.6,182.4 496.8,178.4 497.0,175.2 497.2,173.4 497.4,171.3 497.6,170.0 497.8,170.5 498.0,170.9 498.2,172.5 498.4,173.0 498.6,176.3 498.8,178.7 499.0,180.1 499.2,183.4 499.4,184.2 499.6,183.4 499.8,184.5 500.0,182.7 500.2,180.1 500.4,178.5 500.6,177.1 500.8,174.0 501.0,167.7 501.2,161.1 501.4,158.7 501.6,161.5 501.8,163.3 502.0,164.3 502.2,165.3 502.4,166.9 502.6,169.8 502.8,177.2 503.0,183.1 503.2,179.2 503.4,174.8 503.6,162.2 503.8,146.4 504.0,134.4 504.2,123.6 504.4,114.5 504.6,107.8 504.8,103.9 505.0,100.0 505.2,104.2 505.4,108.1 505.6,112.7 505.8,117.1 506.0,121.6 506.2,128.8 506.5,135.1 506.7,133.2 506.9,126.9 507.1,128.3 507.3,131.9 507.5,133.0 507.7,136.3 507.9,142.4 508.1,142.1 508.3,133.7 508.5,130.4 508.7,129.1 508.9,129.0 509.1,132.5 509.3,134.4 509.5,134.1 509.7,137.6 509.9,146.5 510.1,154.1 510.3,159.4 510.5,166.2 510.7,173.6 510.9,178.9 511.1,177.5 511.3,174.4 511.5,172.4 511.7,171.7 511.9,171.7 512.1,170.1 512.3,167.9 512.5,165.6 512.7,161.7 512.9,159.1 513.1,159.6 513.3,163.5 513.5,169.6 513.7,177.0 513.9,184.2 514.1,191.3 514.3,194.8 514.5,194.1 514.7,193.5 514.9,190.4 515.1,183.1 515.3,176.3 515.5,173.2 515.7,171.6 515.9,168.1 516.1,167.4 516.3,171.7 516.5,174.1 516.7,172.4 516.9,174.9 517.1,181.3 517.3,179.5 517.5,172.8 517.7,166.9 517.9,163.3 518.1,160.2 518.3,155.7 518.5,150.0 518.7,153.0 518.9,157.2 519.1,160.0 519.3,164.5 519.5,171.3 519.7,173.5 519.9,169.2 520.1,166.3 520.3,165.2 520.5,164.4"/>
<polyline fill="none" stroke="#9467bd" stroke-width="0.65" stroke-linejoin="round" points="39.0,141.6 39.2,136.0 39.4,130.3 39.6,131.3 39.8,136.6 40.0,139.9 40.2,142.6 40.4,146.1 40.6,147.3 40.8,143.4 41.0,142.3 41.2,146.6 41.4,150.9 41.6,154.0 41.8,157.1 42.0,157.2 42.2,154.2 42.4,150.8 42.6,147.3 42.8,144.7 43.0,143.0 43.2,141.3 43.4,139.2 43.6,138.2 43.8,140.2 44.0,142.6 44.2,141.9 44.4,143.5 44.6,147.3 44.8,149.8 45.0,151.5 45.2,154.6 45.4,159.2 45.6,161.0 45.8,162.1 46.0,163.8 46.2,163.4 46.4,162.1 46.6,162.1 46.8,160.5 47.0,156.1 47.2,148.4 47.4,143.3 47.6,142.2 47.8,142.4 48.0,140.9 48.2,137.7 48.4,133.4 48.6,132.2 48.8,133.4 49.0,133.2 49.2,131.9 49.4,134.6 49.6,140.0 49.8,142.0 50.0,142.1 50.2,145.5 50.4,151.2 50.6,157.1 50.8,162.6 51.0,165.8 51.2,166.7 51.4,166.3 51.6,167.6 51.8,171.5 52.0,174.5 52.2,175.0 52.4,174.2 52.6,173.1 52.8,171.2 53.0,170.2 53.3,169.1 53.5,167.2 53.7,166.3 53.9,167.4 54.1,168.8 54.3,169.0 54.5,168.1 54.7,166.3 54.9,165.1 55.1,164.9 55.3,168.1 55.5,169.0 55.7,169.6 55.9,171.3 56.1,172.6 56.3,173.2 56.5,173.7 56.7,173.2 56.9,172.5 57.1,171.9 57.3,171.6 57.5,171.0 57.7,169.3 57.9,168.1 58.1,167.6 58.3,166.1 58.5,164.3 58.7,162.7 58.9,161.8 59.1,163.8 59.3,162.6 59.5,161.7 59.7,166.6 59.9,171.5 60.1,172.7 60.3,172.2 60.5,172.4 60.7,173.5 60.9,173.6 61.1,173.8 61.3,174.3 61.5,174.3 61.7,173.0 61.9,169.6 62.1,165.3 62.3,163.9 62.5,164.4 62.7,162.8 62.9,157.6 63.1,153.0 63.3,150.2 63.5,152.4 63.7,155.3 63.9,159.7 64.1,163.8 64.3,164.0 64.5,163.4 64.7,165.1 64.9,167.0 65.1,167.4 65.3,167.9 65.5,169.3 65.7,168.9 65.9,168.0 66.1,166.2 66.3,164.7 66.5,162.7 66.7,160.2 66.9,160.3 67.1,159.3 67.3,153.6 67.5,147.3 67.7,146.3 67.9,147.2 68.1,149.7 68.3,153.7 68.5,155.5 68.7,155.6 68.9,157.1 69.1,159.6 69.3,160.7 69.5,157.8 69.7,155.1 69.9,154.1 70.1,153.3 70.3,150.6 70.5,148.9 70.7,151.0 70.9,153.6 71.1,153.5 71.3,152.0 71.5,152.6 71.7,154.5 71.9,154.7 72.1,157.5 72.3,163.5 72.5,165.7 72.7,165.5 72.9,165.4 73.1,166.2 73.3,166.0 73.5,164.1 73.7,162.9 73.9,162.8 74.1,161.3 74.3,158.3 74.5,156.0 74.7,153.7 74.9,151.6 75.1,151.4 75.3,156.5 75.5,162.6 75.7,168.8 75.9,172.6 76.1,174.2 76.3,172.5 76.5,169.4 76.7,163.8 76.9,158.8 77.1,156.9 77.3,159.9 77.5,160.4 77.7,161.7 77.9,164.4 78.1,164.8 78.3,163.0 78.5,161.2 78.7,160.5 78.9,162.8 79.1,164.6 79.3,163.2 79.5,162.9 79.7,165.9 79.9,168.8 80.1,168.9 80.3,168.0 80.5,165.6 80.7,162.4 80.9,161.5 81.1,157.7 81.3,147.8 81.6,139.3 81.8,137.8 82.0,138.6 82.2,138.7 82.4,139.8 82.6,136.3 82.8,128.9 83.0,124.7 83.2,128.8 83.4,132.7 83.6,133.7 83.8,134.2 84.0,136.4 84.2,140.2 84.4,142.7 84.6,144.5 84.8,145.6 85.0,146.1 85.2,150.1 85.4,155.0 85.6,154.8 85.8,153.7 86.0,153.2 86.2,152.7 86.4,152.9 86.6,150.6 86.8,144.4 87.0,138.1 87.2,134.3 87.4,132.2 87.6,131.4 87.8,128.5 88.0,123.6 88.2,123.7 88.4,128.3 88.6,131.9 88.8,136.2 89.0,143.0 89.2,150.9 89.4,156.5 89.6,153.8 89.8,152.6 90.0,152.5 90.2,149.1 90.4,144.6 90.6,144.2 90.8,145.7 91.0,148.7 91.2,149.9 91.4,146.2 91.6,142.2 91.8,142.0 92.0,139.5 92.2,136.2 92.4,144.8 92.6,153.4 92.8,156.5 93.0,158.6 93.2,160.3 93.4,163.4 93.6,166.3 93.8,168.0 94.0,168.8 94.2,169.6 94.4,168.9 94.6,168.2 94.8,168.1 95.0,167.8 95.2,167.6 95.4,167.7 95.6,166.7 95.8,165.0 96.0,162.4 96.2,160.4 96.4,159.2 96.6,156.8 96.8,162.5 97.0,168.6 97.2,172.3 97.4,174.2 97.6,175.7 97.8,175.4 98.0,174.4 98.2,174.0 98.4,173.8 98.6,171.7 98.8,170.1 99.0,172.0 99.2,174.1 99.4,175.4 99.6,176.8 99.8,177.9 100.0,179.6 100.2,180.5 100.4,180.9 100.6,182.1 100.8,183.0 101.0,183.2 101.2,183.4 101.4,183.6 101.6,183.8 101.8,183.6 102.0,182.6 102.2,181.3 102.4,180.6 102.6,179.3 102.8,177.3 103.0,175.6 103.2,173.9 103.4,171.8 103.6,170.6 103.8,170.4 104.0,167.0 104.2,163.8 104.4,167.7 104.6,172.2 104.8,172.7 105.0,171.8 105.2,173.0 105.4,176.0 105.6,179.0 105.8,179.1 106.0,178.8 106.2,177.1 106.4,175.0 106.6,172.9 106.8,170.0 107.0,169.0 107.2,170.7 107.4,170.9 107.6,170.4 107.8,169.0 108.0,166.5 108.2,165.2 108.4,167.0 108.6,168.5 108.8,168.1 109.0,166.7 109.2,162.8 109.4,156.7 109.6,148.8 109.9,142.0 110.1,139.5 110.3,139.3 110.5,137.6 110.7,133.6 110.9,133.8 111.1,134.3 111.3,134.3 111.5,139.9 111.7,151.4 111.9,159.5 112.1,162.9 112.3,159.6 112.5,156.5 112.7,153.0 112.9,146.5 113.1,137.2 113.3,130.9 113.5,135.6 113.7,138.0 113.9,136.5 114.1,133.7 114.3,134.2 114.5,141.6 114.7,150.7 114.9,155.5 115.1,161.2 115.3,166.9 115.5,167.5 115.7,164.1 115.9,158.6 116.1,155.8 116.3,154.0 116.5,151.6 116.7,151.9 116.9,153.7 117.1,155.6 117.3,156.4 117.5,156.2 117.7,156.8 117.9,158.8 118.1,162.5 118.3,167.2 118.5,169.7 118.7,171.1 118.9,171.6 119.1,173.5 119.3,178.2 119.5,183.8 119.7,186.0 119.9,184.7 120.1,183.8 120.3,183.8 120.5,184.7 120.7,184.9 120.9,182.5 121.1,181.1 121.3,181.9 121.5,182.6 121.7,181.6 121.9,181.0 122.1,181.6 122.3,182.3 122.5,184.0 122.7,186.6 122.9,188.4 123.1,189.9 123.3,192.0 123.5,194.9 123.7,197.5 123.9,199.1 124.1,197.5 124.3,196.1 124.5,195.1 124.7,193.2 124.9,190.6 125.1,185.6 125.3,179.5 125.5,174.3 125.7,170.3 125.9,166.8 126.1,166.4 126.3,167.3 126.5,167.0 126.7,164.7 126.9,162.9 127.1,164.8 127.3,168.4 127.5,169.0 127.7,167.3 127.9,168.4 128.1,169.7 128.3,163.7 128.5,160.3 128.7,163.6 128.9,163.8 129.1,160.2 129.3,157.9 129.5,153.2 129.7,145.6 129.9,136.9 130.1,132.8 130.3,134.0 130.5,132.5 130.7,127.8 130.9,124.5 131.1,125.1 131.3,129.6 131.5,133.9 131.7,138.2 131.9,142.5 132.1,147.5 132.3,154.3 132.5,160.3 132.7,165.1 132.9,168.5 133.1,171.3 133.3,173.8 133.5,175.8 133.7,178.6 133.9,179.4 134.1,179.8 134.3,180.8 134.5,180.9 134.7,180.5 134.9,181.0 135.1,179.1 135.3,173.7 135.5,171.7 135.7,173.4 135.9,174.2 136.1,175.4 136.3,176.5 136.5,176.8 136.7,175.6 136.9,176.4 137.1,179.3 137.3,181.2 137.5,182.7 137.7,184.2 137.9,184.7 138.2,185.2 138.4,185.7 138.6,185.3 138.8,182.2 139.0,180.0 139.2,178.9 139.4,176.3 139.6,173.9 139.8,171.3 140.0,170.7 140.2,168.4 140.4,163.3 140.6,159.4 140.8,158.0 141.0,165.5 141.2,172.4 141.4,175.8 141.6,178.3 141.8,179.6 142.0,181.9 142.2,181.0 142.4,178.4 142.6,178.5 142.8,178.3 143.0,177.9 143.2,178.2 143.4,178.1 143.6,174.9 143.8,172.1 144.0,172.4 144.2,169.9 144.4,165.6 144.6,164.7 144.8,169.0 145.0,176.1 145.2,184.0 145.4,188.4 145.6,190.3 145.8,192.6 146.0,194.0 146.2,193.9 146.4,194.0 146.6,194.0 146.8,193.6 147.0,192.6 147.2,192.0 147.4,191.0 147.6,189.9 147.8,189.5 148.0,187.8 148.2,186.2 148.4,187.4 148.6,188.8 148.8,189.9 149.0,191.5 149.2,193.1 149.4,193.6 149.6,193.7 149.8,194.1 150.0,194.4 150.2,194.0 150.4,193.7 150.6,193.3 150.8,192.0 151.0,189.8 151.2,187.6 151.4,186.2 151.6,185.0 151.8,183.0 152.0,181.6 152.2,180.8 152.4,180.4 152.6,178.4 152.8,175.1 153.0,173.5 153.2,175.7 153.4,177.3 153.6,175.5 153.8,172.2 154.0,170.2 154.2,169.7 154.4,170.5 154.6,171.1 154.8,172.1 155.0,171.6 155.2,169.1 155.4,166.9 155.6,166.8 155.8,165.5 156.0,162.5 156.2,159.9 156.4,158.6 156.6,153.8 156.8,147.8 157.0,143.1 157.2,138.9 157.4,136.6 157.6,134.0 157.8,134.0 158.0,133.5 158.2,131.8 158.4,130.3 158.6,131.3 158.8,135.9 159.0,139.3 159.2,140.6 159.4,141.2 159.6,142.5 159.8,142.5 160.0,140.8 160.2,139.5 160.4,137.0 160.6,134.0 160.8,133.7 161.0,136.1 161.2,137.1 161.4,132.2 161.6,123.3 161.8,118.4 162.0,118.7 162.2,119.6 162.4,119.6 162.6,119.4 162.8,118.7 163.0,123.5 163.2,129.5 163.4,141.1 163.6,154.9 163.8,161.5 164.0,163.2 164.2,166.5 164.4,167.7 164.6,165.7 164.8,161.3 165.0,157.0 165.2,156.3 165.4,155.9 165.6,156.4 165.8,156.8 166.0,155.4 166.2,153.5 166.4,157.2 166.7,164.6 166.9,172.6 167.1,176.3 167.3,178.6 167.5,180.9 167.7,183.1 167.9,185.2 168.1,186.4 168.3,187.6 168.5,189.0 168.7,190.2 168.9,191.3 169.1,191.4 169.3,190.3 169.5,189.7 169.7,189.4 169.9,188.5 170.1,187.1 170.3,186.0 170.5,185.0 170.7,184.2 170.9,182.8 171.1,180.7 171.3,178.5 171.5,176.0 171.7,172.8 171.9,170.7 172.1,172.3 172.3,175.0 172.5,176.7 172.7,176.6 172.9,175.8 173.1,175.4 173.3,175.6 173.5,175.0 173.7,173.8 173.9,172.6 174.1,171.2 174.3,169.1 174.5,166.8 174.7,164.7 174.9,162.8 175.1,159.9 175.3,156.6 175.5,154.3 175.7,151.6 175.9,149.3 176.1,146.7 176.3,142.1 176.5,143.1 176.7,146.7 176.9,149.2 177.1,151.4 177.3,151.8 177.5,151.0 177.7,151.1 177.9,150.1 178.1,149.9 178.3,153.6 178.5,157.5 178.7,159.3 178.9,158.1 179.1,156.4 179.3,157.6 179.5,161.0 179.7,162.0 179.9,160.1 180.1,159.1 180.3,161.4 180.5,164.2 180.7,169.9 180.9,174.7 181.1,178.4 181.3,181.0 181.5,183.4 181.7,184.8 181.9,185.6 182.1,185.6 182.3,185.0 182.5,183.7 182.7,181.4 182.9,179.6 183.1,180.5 183.3,182.4 183.5,182.4 183.7,182.5 183.9,183.4 184.1,184.1 184.3,183.0 184.5,180.8 184.7,178.0 184.9,176.4 185.1,174.5 185.3,170.5 185.5,171.0 185.7,173.3 185.9,176.2 186.1,177.0 186.3,176.7 186.5,176.0 186.7,174.7 186.9,176.7 187.1,179.4 187.3,179.0 187.5,176.3 187.7,172.4 187.9,169.7 188.1,169.4 188.3,167.6 188.5,163.6 188.7,160.4 188.9,159.7 189.1,157.7 189.3,155.7 189.5,153.7 189.7,154.3 189.9,157.8 190.1,159.2 190.3,157.5 190.5,157.5 190.7,162.8 190.9,169.4 191.1,173.5 191.3,177.3 191.5,181.8 191.7,185.5 191.9,187.9 192.1,188.7 192.3,189.7 192.5,190.8 192.7,191.9 192.9,192.9 193.1,192.5 193.3,191.0 193.5,188.6 193.7,186.7 193.9,185.8 194.1,182.9 194.3,179.4 194.5,176.6 194.7,174.3 195.0,174.2 195.2,174.8 195.4,175.1 195.6,175.5 195.8,175.3 196.0,174.0 196.2,171.4 196.4,169.6 196.6,168.2 196.8,166.0 197.0,163.9 197.2,163.0 197.4,161.5 197.6,160.1 197.8,159.4 198.0,159.8 198.2,159.7 198.4,158.9 198.6,160.7 198.8,163.9 199.0,165.5 199.2,165.5 199.4,164.6 199.6,164.4 199.8,165.6 200.0,166.8 200.2,167.3 200.4,168.2 200.6,169.1 200.8,169.5 201.0,170.0 201.2,169.7 201.4,168.3 201.6,166.2 201.8,164.8 202.0,164.6 202.2,164.1 202.4,160.8 202.6,158.1 202.8,158.3 203.0,156.5 203.2,154.8 203.4,159.9 203.6,163.3 203.8,163.5 204.0,162.8 204.2,166.0 204.4,170.1 204.6,172.0 204.8,172.3 205.0,170.6 205.2,169.2 205.4,169.3 205.6,171.5 205.8,173.1 206.0,171.9 206.2,170.8 206.4,169.4 206.6,166.8 206.8,165.3 207.0,164.9 207.2,164.9 207.4,165.7 207.6,164.7 207.8,165.2 208.0,166.2 208.2,167.5 208.4,169.5 208.6,171.4 208.8,172.6 209.0,173.2 209.2,174.3 209.4,175.4 209.6,175.6 209.8,175.2 210.0,174.7 210.2,174.0 210.4,172.0 210.6,170.3 210.8,168.7 211.0,165.5 211.2,161.0 211.4,155.1 211.6,149.7 211.8,149.8 212.0,153.7 212.2,154.2 212.4,153.2 212.6,151.9 212.8,151.8 213.0,154.3 213.2,157.1 213.4,158.9 213.6,159.7 213.8,159.0 214.0,157.9 214.2,158.1 214.4,161.8 214.6,161.8 214.8,158.1 215.0,155.1 215.2,155.9 215.4,156.7 215.6,155.9 215.8,153.8 216.0,150.7 216.2,154.7 216.4,160.0 216.6,163.8 216.8,165.4 217.0,166.7 217.2,165.8 217.4,162.8 217.6,160.9 217.8,161.0 218.0,160.1 218.2,157.4 218.4,155.3 218.6,152.4 218.8,145.0 219.0,144.9 219.2,146.2 219.4,149.8 219.6,157.9 219.8,164.0 220.0,167.3 220.2,170.3 220.4,172.8 220.6,173.9 220.8,173.9 221.0,173.6 221.2,173.6 221.4,173.4 221.6,171.6 221.8,168.5 222.0,166.5 222.2,169.6 222.4,172.6 222.6,176.3 222.8,179.7 223.0,182.2 223.3,183.8 223.5,184.9 223.7,186.3 223.9,187.9 224.1,188.6 224.3,189.4 224.5,190.2 224.7,190.0 224.9,190.0 225.1,190.8 225.3,190.3 225.5,188.6 225.7,186.3 225.9,183.7 226.1,181.7 226.3,180.0 226.5,179.6 226.7,179.0 226.9,179.1 227.1,181.4 227.3,182.5 227.5,182.2 227.7,183.0 227.9,184.1 228.1,185.0 228.3,185.1 228.5,184.2 228.7,183.8 228.9,183.2 229.1,182.1 229.3,180.4 229.5,179.5 229.7,178.6 229.9,177.4 230.1,176.4 230.3,176.0 230.5,176.2 230.7,177.4 230.9,178.6 231.1,179.2 231.3,179.5 231.5,179.7 231.7,179.3 231.9,179.0 232.1,179.4 232.3,180.0 232.5,179.8 232.7,178.8 232.9,177.5 233.1,176.2 233.3,174.5 233.5,173.3 233.7,171.8 233.9,169.1 234.1,170.0 234.3,171.2 234.5,170.8 234.7,169.7 234.9,170.3 235.1,172.2 235.3,173.7 235.5,174.2 235.7,175.2 235.9,175.8 236.1,175.0 236.3,173.4 236.5,172.8 236.7,173.0 236.9,172.9 237.1,172.2 237.3,169.9 237.5,166.7 237.7,162.4 237.9,157.6 238.1,156.0 238.3,156.8 238.5,155.9 238.7,155.4 238.9,155.8 239.1,155.8 239.3,157.7 239.5,161.2 239.7,164.8 239.9,167.9 240.1,170.7 240.3,173.3 240.5,174.6 240.7,175.8 240.9,175.0 241.1,173.7 241.3,173.2 241.5,172.8 241.7,170.6 241.9,168.8 242.1,169.1 242.3,169.0 242.5,168.6 242.7,169.0 242.9,170.9 243.1,172.3 243.3,171.4 243.5,168.9 243.7,168.7 243.9,171.7 244.1,172.8 244.3,171.2 244.5,170.2 244.7,171.1 244.9,172.2 245.1,171.6 245.3,168.9 245.5,165.3 245.7,164.1 245.9,161.4 246.1,157.2 246.3,153.8 246.5,150.1 246.7,144.3 246.9,136.0 247.1,130.0 247.3,125.8 247.5,136.7 247.7,146.3 247.9,152.4 248.1,157.5 248.3,162.3 248.5,164.9 248.7,164.1 248.9,164.3 249.1,164.5 249.3,163.9 249.5,162.8 249.7,161.8 249.9,160.6 250.1,159.8 250.3,157.5 250.5,155.0 250.7,158.7 250.9,164.4 251.1,166.6 251.3,167.7 251.6,168.1 251.8,168.6 252.0,171.2 252.2,174.4 252.4,176.9 252.6,178.9 252.8,179.9 253.0,179.4 253.2,180.1 253.4,182.4 253.6,183.1 253.8,182.1 254.0,180.7 254.2,179.8 254.4,179.7 254.6,179.7 254.8,179.4 255.0,177.9 255.2,177.1 255.4,176.9 255.6,175.8 255.8,174.5 256.0,173.7 256.2,172.3 256.4,171.6 256.6,171.0 256.8,172.5 257.0,175.5 257.2,177.7 257.4,179.3 257.6,180.0 257.8,180.1 258.0,180.3 258.2,180.7 258.4,181.0 258.6,181.0 258.8,180.6 259.0,179.1 259.2,176.6 259.4,174.1 259.6,173.3 259.8,171.6 260.0,168.8 260.2,167.0 260.4,165.3 260.6,165.2 260.8,168.2 261.0,170.3 261.2,170.4 261.4,169.5 261.6,168.0 261.8,167.3 262.0,168.1 262.2,170.4 262.4,173.9 262.6,176.4 262.8,177.5 263.0,177.5 263.2,176.2 263.4,175.2 263.6,174.1 263.8,173.7 264.0,172.2 264.2,169.9 264.4,169.5 264.6,169.7 264.8,170.4 265.0,171.2 265.2,170.8 265.4,167.9 265.6,163.7 265.8,164.2 266.0,167.8 266.2,171.2 266.4,173.8 266.6,176.4 266.8,180.3 267.0,183.3 267.2,181.6 267.4,178.1 267.6,173.3 267.8,169.4 268.0,167.1 268.2,163.4 268.4,158.4 268.6,155.2 268.8,152.2 269.0,151.0 269.2,151.8 269.4,155.0 269.6,156.6 269.8,156.1 270.0,155.8 270.2,154.8 270.4,154.9 270.6,157.5 270.8,158.9 271.0,158.2 271.2,154.6 271.4,151.5 271.6,150.8 271.8,148.7 272.0,142.8 272.2,135.0 272.4,130.6 272.6,128.7 272.8,123.2 273.0,117.2 273.2,113.9 273.4,113.7 273.6,114.9 273.8,119.1 274.0,123.2 274.2,128.7 274.4,137.0 274.6,145.4 274.8,147.7 275.0,149.3 275.2,154.3 275.4,158.4 275.6,161.8 275.8,165.3 276.0,170.5 276.2,175.2 276.4,178.7 276.6,180.0 276.8,181.0 277.0,181.6 277.2,177.7 277.4,170.8 277.6,166.7 277.8,165.7 278.0,163.8 278.2,164.9 278.4,167.9 278.6,171.4 278.8,174.1 279.0,175.5 279.2,175.6 279.4,175.8 279.6,176.8 279.9,178.0 280.1,177.6 280.3,174.8 280.5,172.6 280.7,173.0 280.9,173.6 281.1,172.2 281.3,170.2 281.5,166.2 281.7,160.4 281.9,157.5 282.1,158.2 282.3,161.0 282.5,163.9 282.7,162.5 282.9,159.9 283.1,160.2 283.3,161.6 283.5,161.0 283.7,160.8 283.9,162.4 284.1,160.8 284.3,156.5 284.5,149.6 284.7,143.0 284.9,138.8 285.1,136.5 285.3,135.0 285.5,137.1 285.7,142.1 285.9,151.4 286.1,156.9 286.3,159.4 286.5,163.4 286.7,166.5 286.9,167.2 287.1,167.8 287.3,169.2 287.5,169.7 287.7,168.1 287.9,165.6 288.1,164.2 288.3,167.5 288.5,172.7 288.7,177.5 288.9,181.0 289.1,183.4 289.3,185.3 289.5,187.4 289.7,190.0 289.9,191.7 290.1,192.2 290.3,191.6 290.5,190.9 290.7,190.2 290.9,189.5 291.1,188.2 291.3,186.6 291.5,185.2 291.7,184.3 291.9,183.1 292.1,181.5 292.3,179.9 292.5,178.3 292.7,175.7 292.9,172.2 293.1,168.6 293.3,165.1 293.5,164.9 293.7,167.2 293.9,171.1 294.1,172.3 294.3,172.7 294.5,174.0 294.7,173.7 294.9,173.1 295.1,173.2 295.3,171.3 295.5,168.0 295.7,164.4 295.9,161.5 296.1,158.9 296.3,157.6 296.5,156.8 296.7,156.2 296.9,161.9 297.1,167.1 297.3,170.9 297.5,173.5 297.7,176.0 297.9,178.6 298.1,180.2 298.3,181.5 298.5,182.9 298.7,184.1 298.9,183.9 299.1,183.6 299.3,184.5 299.5,186.2 299.7,186.5 299.9,184.7 300.1,182.0 300.3,179.1 300.5,177.9 300.7,178.6 300.9,178.0 301.1,177.4 301.3,179.6 301.5,181.5 301.7,181.0 301.9,180.0 302.1,180.6 302.3,180.5 302.5,179.3 302.7,176.7 302.9,173.4 303.1,172.3 303.3,172.8 303.5,172.1 303.7,171.1 303.9,171.2 304.1,172.0 304.3,173.6 304.5,174.5 304.7,175.3 304.9,176.4 305.1,177.9 305.3,179.4 305.5,180.9 305.7,181.0 305.9,180.7 306.1,181.0 306.3,181.7 306.5,181.5 306.7,180.1 306.9,179.3 307.1,179.0 307.3,179.3 307.5,179.2 307.7,177.0 307.9,175.5 308.2,175.1 308.4,177.8 308.6,179.6 308.8,179.1 309.0,178.4 309.2,178.0 309.4,176.8 309.6,176.3 309.8,177.2 310.0,177.2 310.2,175.6 310.4,174.1 310.6,174.2 310.8,172.7 311.0,169.0 311.2,164.3 311.4,160.6 311.6,157.7 311.8,153.6 312.0,149.4 312.2,151.3 312.4,153.1 312.6,153.2 312.8,153.5 313.0,155.2 313.2,158.0 313.4,160.6 313.6,163.4 313.8,166.7 314.0,168.1 314.2,168.3 314.4,170.1 314.6,171.4 314.8,171.5 315.0,172.1 315.2,173.5 315.4,173.9 315.6,173.5 315.8,174.0 316.0,175.4 316.2,175.3 316.4,174.4 316.6,174.2 316.8,174.5 317.0,174.5 317.2,173.6 317.4,174.2 317.6,175.3 317.8,176.2 318.0,178.0 318.2,178.5 318.4,177.4 318.6,176.5 318.8,177.1 319.0,176.6 319.2,175.4 319.4,174.1 319.6,172.9 319.8,171.5 320.0,171.3 320.2,171.4 320.4,170.6 320.6,169.5 320.8,169.0 321.0,168.2 321.2,167.9 321.4,167.9 321.6,166.7 321.8,165.7 322.0,165.2 322.2,164.7 322.4,161.9 322.6,158.1 322.8,155.6 323.0,152.8 323.2,148.1 323.4,151.0 323.6,155.9 323.8,160.9 324.0,165.1 324.2,168.8 324.4,171.1 324.6,172.2 324.8,173.5 325.0,175.1 325.2,174.6 325.4,173.2 325.6,172.2 325.8,171.8 326.0,170.4 326.2,164.3 326.4,161.2 326.6,165.0 326.8,168.7 327.0,170.6 327.2,172.8 327.4,175.1 327.6,176.6 327.8,177.2 328.0,177.8 328.2,178.0 328.4,178.4 328.6,179.5 328.8,180.7 329.0,181.5 329.2,180.5 329.4,179.2 329.6,178.6 329.8,178.2 330.0,176.9 330.2,175.6 330.4,174.7 330.6,173.4 330.8,170.2 331.0,167.4 331.2,165.7 331.4,165.0 331.6,164.0 331.8,159.7 332.0,154.0 332.2,153.5 332.4,153.8 332.6,156.0 332.8,158.5 333.0,161.7 333.2,164.5 333.4,165.9 333.6,165.7 333.8,165.9 334.0,168.5 334.2,170.5 334.4,170.0 334.6,171.1 334.8,174.2 335.0,174.9 335.2,174.6 335.4,174.2 335.6,172.8 335.8,169.9 336.0,167.9 336.2,168.2 336.5,167.6 336.7,166.1 336.9,166.7 337.1,167.8 337.3,166.7 337.5,166.7 337.7,170.1 337.9,174.8 338.1,178.1 338.3,180.7 338.5,183.1 338.7,185.5 338.9,188.1 339.1,189.7 339.3,191.0 339.5,192.4 339.7,193.0 339.9,192.4 340.1,192.3 340.3,191.8 340.5,194.2 340.7,196.8 340.9,198.9 341.1,199.8 341.3,198.8 341.5,197.9 341.7,197.3 341.9,197.0 342.1,196.2 342.3,195.4 342.5,195.1 342.7,194.4 342.9,192.3 343.1,188.3 343.3,184.2 343.5,182.6 343.7,181.0 343.9,178.2 344.1,176.5 344.3,173.5 344.5,166.2 344.7,157.5 344.9,158.3 345.1,162.1 345.3,165.2 345.5,166.9 345.7,168.4 345.9,166.4 346.1,168.0 346.3,170.1 346.5,168.5 346.7,165.9 346.9,163.2 347.1,158.4 347.3,154.7 347.5,151.7 347.7,151.0 347.9,155.9 348.1,158.7 348.3,160.3 348.5,164.7 348.7,167.6 348.9,168.4 349.1,169.8 349.3,172.5 349.5,174.3 349.7,175.3 349.9,177.1 350.1,178.6 350.3,179.2 350.5,179.9 350.7,181.3 350.9,182.8 351.1,183.9 351.3,185.0 351.5,186.2 351.7,188.7 351.9,191.7 352.1,193.4 352.3,193.9 352.5,194.2 352.7,194.4 352.9,194.5 353.1,194.5 353.3,194.6 353.5,194.9 353.7,195.3 353.9,195.4 354.1,195.1 354.3,194.9 354.5,195.1 354.7,194.8 354.9,193.7 355.1,192.3 355.3,191.6 355.5,191.4 355.7,190.6 355.9,190.0 356.1,189.5 356.3,190.6 356.5,192.3 356.7,193.5 356.9,194.2 357.1,194.9 357.3,194.8 357.5,194.1 357.7,193.2 357.9,192.2 358.1,191.1 358.3,190.2 358.5,188.7 358.7,186.5 358.9,184.5 359.1,183.7 359.3,184.2 359.5,183.9 359.7,182.7 359.9,182.7 360.1,182.8 360.3,181.4 360.5,179.1 360.7,176.9 360.9,174.2 361.1,172.9 361.3,173.3 361.5,173.5 361.7,173.0 361.9,172.2 362.1,171.2 362.3,170.2 362.5,166.6 362.7,161.6 362.9,159.5 363.1,158.9 363.3,153.8 363.5,147.4 363.7,144.5 363.9,145.6 364.1,148.5 364.3,150.3 364.5,149.6 364.8,148.2 365.0,149.4 365.2,150.2 365.4,151.9 365.6,156.3 365.8,160.5 366.0,163.3 366.2,166.1 366.4,166.6 366.6,164.1 366.8,160.4 367.0,160.3 367.2,160.9 367.4,159.1 367.6,156.2 367.8,153.5 368.0,151.2 368.2,148.3 368.4,144.4 368.6,143.5 368.8,149.9 369.0,153.3 369.2,153.7 369.4,154.7 369.6,158.8 369.8,163.1 370.0,164.4 370.2,162.9 370.4,163.1 370.6,165.9 370.8,168.5 371.0,169.6 371.2,171.4 371.4,172.5 371.6,171.7 371.8,171.8 372.0,172.9 372.2,175.2 372.4,180.0 372.6,183.3 372.8,185.2 373.0,187.2 373.2,189.1 373.4,189.4 373.6,190.3 373.8,191.9 374.0,194.2 374.2,194.6 374.4,193.6 374.6,192.2 374.8,191.0 375.0,190.0 375.2,188.4 375.4,185.1 375.6,182.2 375.8,179.8 376.0,176.0 376.2,169.0 376.4,163.3 376.6,162.1 376.8,160.1 377.0,159.4 377.2,160.1 377.4,162.0 377.6,161.6 377.8,161.3 378.0,162.3 378.2,161.5 378.4,161.0 378.6,160.2 378.8,157.2 379.0,154.2 379.2,154.5 379.4,158.1 379.6,163.5 379.8,169.6 380.0,174.9 380.2,180.2 380.4,184.2 380.6,186.0 380.8,184.4 381.0,182.1 381.2,180.7 381.4,179.5 381.6,179.1 381.8,179.5 382.0,179.6 382.2,178.7 382.4,178.1 382.6,177.2 382.8,177.6 383.0,179.5 383.2,182.6 383.4,185.8 383.6,183.3 383.8,180.0 384.0,176.0 384.2,173.9 384.4,174.1 384.6,171.9 384.8,169.8 385.0,168.3 385.2,168.9 385.4,170.5 385.6,171.6 385.8,172.2 386.0,173.4 386.2,176.8 386.4,182.7 386.6,188.7 386.8,191.7 387.0,193.1 387.2,193.3 387.4,193.9 387.6,195.2 387.8,196.2 388.0,196.1 388.2,195.8 388.4,196.4 388.6,201.5 388.8,205.2 389.0,206.8 389.2,206.6 389.4,206.8 389.6,207.4 389.8,207.4 390.0,207.0 390.2,206.3 390.4,204.6 390.6,202.6 390.8,201.6 391.0,200.8 391.2,198.9 391.4,196.9 391.6,197.2 391.8,196.7 392.0,198.4 392.2,200.6 392.4,201.7 392.6,200.8 392.8,199.7 393.1,199.2 393.3,199.0 393.5,198.2 393.7,196.4 393.9,194.9 394.1,193.4 394.3,190.5 394.5,186.2 394.7,184.9 394.9,187.2 395.1,188.2 395.3,185.8 395.5,183.4 395.7,184.5 395.9,184.1 396.1,182.2 396.3,181.2 396.5,181.9 396.7,183.5 396.9,185.0 397.1,186.1 397.3,187.3 397.5,185.2 397.7,182.9 397.9,183.5 398.1,184.8 398.3,184.5 398.5,184.5 398.7,184.5 398.9,184.2 399.1,186.4 399.3,189.4 399.5,193.0 399.7,196.9 399.9,198.9 400.1,199.4 400.3,200.0 400.5,201.5 400.7,202.9 400.9,202.3 401.1,200.7 401.3,199.6 401.5,198.5 401.7,196.2 401.9,194.6 402.1,194.6 402.3,193.3 402.5,190.8 402.7,189.1 402.9,188.9 403.1,188.4 403.3,186.1 403.5,184.0 403.7,183.8 403.9,182.2 404.1,179.4 404.3,176.5 404.5,171.9 404.7,165.6 404.9,158.4 405.1,151.3 405.3,140.8 405.5,134.3 405.7,136.1 405.9,142.7 406.1,145.5 406.3,145.9 406.5,150.4 406.7,155.6 406.9,159.4 407.1,162.4 407.3,164.8 407.5,165.9 407.7,165.5 407.9,163.8 408.1,164.2 408.3,164.9 408.5,162.8 408.7,158.0 408.9,153.9 409.1,154.4 409.3,158.5 409.5,159.1 409.7,155.6 409.9,151.9 410.1,149.5 410.3,150.7 410.5,156.2 410.7,161.4 410.9,164.6 411.1,165.5 411.3,165.8 411.5,170.0 411.7,174.1 411.9,176.0 412.1,177.1 412.3,178.4 412.5,179.3 412.7,180.1 412.9,179.7 413.1,178.4 413.3,176.6 413.5,173.2 413.7,175.3 413.9,177.5 414.1,179.9 414.3,182.3 414.5,185.0 414.7,188.4 414.9,191.8 415.1,193.9 415.3,195.0 415.5,195.8 415.7,197.2 415.9,199.6 416.1,202.0 416.3,203.1 416.5,203.1 416.7,203.4 416.9,204.6 417.1,204.6 417.3,203.5 417.5,201.9 417.7,200.0 417.9,198.6 418.1,197.4 418.3,195.6 418.5,194.4 418.7,193.4 418.9,194.9 419.1,194.8 419.3,194.3 419.5,194.4 419.7,194.5 419.9,193.1 420.1,190.7 420.3,189.8 420.5,188.0 420.7,184.4 420.9,179.9 421.1,175.1 421.3,170.9 421.6,167.0 421.8,168.2 422.0,168.4 422.2,170.3 422.4,175.9 422.6,180.4 422.8,181.7 423.0,182.0 423.2,181.9 423.4,181.7 423.6,182.6 423.8,184.7 424.0,186.7 424.2,189.3 424.4,190.9 424.6,190.8 424.8,190.0 425.0,189.0 425.2,187.6 425.4,185.6 425.6,181.2 425.8,175.9 426.0,173.2 426.2,173.6 426.4,174.9 426.6,177.2 426.8,180.8 427.0,182.6 427.2,184.6 427.4,188.1 427.6,191.4 427.8,195.3 428.0,198.8 428.2,199.9 428.4,200.4 428.6,201.0 428.8,201.5 429.0,201.5 429.2,202.0 429.4,203.3 429.6,205.1 429.8,206.0 430.0,206.1 430.2,204.5 430.4,203.4 430.6,203.9 430.8,204.2 431.0,203.7 431.2,203.1 431.4,204.0 431.6,204.9 431.8,205.2 432.0,205.3 432.2,205.2 432.4,203.3 432.6,202.1 432.8,201.5 433.0,199.6 433.2,196.3 433.4,192.4 433.6,189.2 433.8,188.1 434.0,188.4 434.2,188.2 434.4,191.7 434.6,196.4 434.8,198.4 435.0,199.5 435.2,199.9 435.4,199.4 435.6,199.3 435.8,199.9 436.0,200.5 436.2,200.9 436.4,201.0 436.6,200.4 436.8,198.9 437.0,196.2 437.2,194.8 437.4,194.9 437.6,193.4 437.8,189.5 438.0,182.6 438.2,176.2 438.4,179.3 438.6,183.0 438.8,183.3 439.0,183.2 439.2,183.4 439.4,183.3 439.6,184.2 439.8,184.9 440.0,183.0 440.2,180.2 440.4,179.7 440.6,181.7 440.8,183.6 441.0,184.0 441.2,180.0 441.4,174.1 441.6,170.8 441.8,171.9 442.0,171.7 442.2,168.0 442.4,163.0 442.6,159.8 442.8,152.2 443.0,143.3 443.2,139.8 443.4,138.6 443.6,138.9 443.8,150.1 444.0,159.2 444.2,162.4 444.4,166.6 444.6,173.8 444.8,178.6 445.0,178.1 445.2,176.5 445.4,173.0 445.6,166.0 445.8,163.3 446.0,166.4 446.2,167.9 446.4,166.1 446.6,167.7 446.8,172.9 447.0,177.2 447.2,177.4 447.4,179.0 447.6,184.8 447.8,189.6 448.0,192.5 448.2,192.9 448.4,193.1 448.6,192.9 448.8,193.0 449.0,191.5 449.2,189.0 449.4,189.6 449.6,194.1 449.9,197.5 450.1,200.6 450.3,202.0 450.5,202.8 450.7,202.6 450.9,200.7 451.1,199.3 451.3,199.4 451.5,199.1 451.7,197.1 451.9,193.1 452.1,188.9 452.3,186.5 452.5,186.4 452.7,186.4 452.9,185.9 453.1,186.1 453.3,185.2 453.5,182.9 453.7,179.9 453.9,179.4 454.1,182.3 454.3,184.3 454.5,185.2 454.7,187.5 454.9,188.6 455.1,189.0 455.3,188.0 455.5,187.7 455.7,187.3 455.9,185.7 456.1,181.3 456.3,174.1 456.5,170.0 456.7,170.2 456.9,168.3 457.1,163.4 457.3,159.1 457.5,158.5 457.7,159.3 457.9,164.5 458.1,169.9 458.3,173.3 458.5,176.9 458.7,178.7 458.9,178.8 459.1,178.4 459.3,178.5 459.5,180.3 459.7,182.0 459.9,182.6 460.1,182.4 460.3,181.9 460.5,179.0 460.7,172.3 460.9,164.0 461.1,170.1 461.3,178.4 461.5,180.3 461.7,180.6 461.9,182.3 462.1,182.8 462.3,183.9 462.5,186.4 462.7,185.6 462.9,182.3 463.1,178.8 463.3,177.4 463.5,174.4 463.7,169.1 463.9,166.7 464.1,166.6 464.3,164.6 464.5,162.2 464.7,161.8 464.9,162.7 465.1,165.1 465.3,165.8 465.5,168.4 465.7,172.4 465.9,174.2 466.1,174.3 466.3,174.7 466.5,177.8 466.7,181.5 466.9,182.9 467.1,183.3 467.3,182.2 467.5,181.0 467.7,177.2 467.9,169.0 468.1,161.1 468.3,159.5 468.5,163.1 468.7,162.5 468.9,154.9 469.1,147.4 469.3,144.5 469.5,143.2 469.7,149.7 469.9,158.0 470.1,161.6 470.3,162.1 470.5,164.6 470.7,167.0 470.9,170.9 471.1,174.9 471.3,177.4 471.5,180.7 471.7,182.7 471.9,184.2 472.1,186.2 472.3,186.6 472.5,186.5 472.7,185.5 472.9,184.9 473.1,185.6 473.3,185.8 473.5,184.8 473.7,183.3 473.9,181.8 474.1,180.0 474.3,179.2 474.5,179.2 474.7,179.3 474.9,180.2 475.1,183.8 475.3,186.4 475.5,187.2 475.7,187.3 475.9,188.0 476.1,189.4 476.3,191.4 476.5,192.8 476.7,193.3 476.9,192.5 477.1,192.0 477.3,191.9 477.5,191.1 477.7,189.8 477.9,189.0 478.2,188.7 478.4,190.5 478.6,192.5 478.8,193.8 479.0,196.0 479.2,198.4 479.4,199.4 479.6,200.1 479.8,200.8 480.0,201.4 480.2,201.9 480.4,202.3 480.6,201.7 480.8,201.2 481.0,201.2 481.2,201.6 481.4,200.8 481.6,199.2 481.8,198.8 482.0,201.4 482.2,201.2 482.4,199.6 482.6,198.4 482.8,196.2 483.0,194.2 483.2,194.0 483.4,193.4 483.6,192.0 483.8,190.1 484.0,189.7 484.2,190.8 484.4,190.0 484.6,189.1 484.8,187.1 485.0,183.5 485.2,179.0 485.4,176.5 485.6,175.1 485.8,171.8 486.0,167.7 486.2,163.8 486.4,161.3 486.6,162.2 486.8,167.4 487.0,169.9 487.2,171.3 487.4,172.9 487.6,175.9 487.8,178.2 488.0,180.3 488.2,183.9 488.4,186.8 488.6,188.1 488.8,189.3 489.0,190.7 489.2,192.2 489.4,193.4 489.6,195.4 489.8,196.4 490.0,196.4 490.2,196.2 490.4,197.4 490.6,199.6 490.8,201.0 491.0,201.8 491.2,202.8 491.4,204.3 491.6,205.5 491.8,206.5 492.0,207.8 492.2,209.5 492.4,211.0 492.6,212.2 492.8,213.3 493.0,213.8 493.2,213.4 493.4,213.1 493.6,212.4 493.8,210.8 494.0,209.1 494.2,208.4 494.4,207.6 494.6,207.2 494.8,207.6 495.0,208.3 495.2,208.4 495.4,208.5 495.6,208.1 495.8,206.6 496.0,205.2 496.2,205.0 496.4,204.6 496.6,203.2 496.8,201.7 497.0,200.2 497.2,197.5 497.4,192.4 497.6,190.1 497.8,190.8 498.0,192.9 498.2,194.2 498.4,195.3 498.6,196.3 498.8,196.1 499.0,195.7 499.2,195.2 499.4,194.9 499.6,195.9 499.8,196.5 500.0,196.6 500.2,194.7 500.4,191.8 500.6,188.2 500.8,184.2 501.0,180.6 501.2,182.3 501.4,185.3 501.6,187.3 501.8,187.2 502.0,187.0 502.2,187.8 502.4,189.5 502.6,189.5 502.8,188.9 503.0,189.1 503.2,188.7 503.4,187.0 503.6,183.5 503.8,179.3 504.0,175.4 504.2,173.5 504.4,172.7 504.6,169.7 504.8,163.1 505.0,157.2 505.2,152.7 505.4,153.8 505.6,157.0 505.8,156.3 506.0,154.7 506.2,157.2 506.5,160.5 506.7,162.0 506.9,163.0 507.1,163.4 507.3,165.2 507.5,165.1 507.7,164.7 507.9,160.6 508.1,157.6 508.3,160.0 508.5,159.1 508.7,157.4 508.9,164.8 509.1,168.1 509.3,168.9 509.5,172.1 509.7,179.5 509.9,184.9 510.1,185.7 510.3,186.6 510.5,188.3 510.7,189.0 510.9,189.9 511.1,191.9 511.3,193.7 511.5,193.4 511.7,191.8 511.9,190.2 512.1,191.2 512.3,192.5 512.5,194.1 512.7,196.0 512.9,197.3 513.1,197.2 513.3,196.8 513.5,197.4 513.7,198.8 513.9,200.0 514.1,201.6 514.3,203.7 514.5,204.8 514.7,204.1 514.9,203.0 515.1,201.5 515.3,199.5 515.5,198.3 515.7,197.5 515.9,195.3 516.1,192.4 516.3,190.8 516.5,189.0 516.7,185.4 516.9,183.3 517.1,182.2 517.3,182.3 517.5,183.3 517.7,185.7 517.9,187.6 518.1,188.6 518.3,187.6 518.5,185.5 518.7,179.1 518.9,171.0 519.1,166.5 519.3,163.4 519.5,157.3 519.7,153.4 519.9,153.0 520.1,148.7 520.3,146.8 520.5,151.7"/>
<polyline fill="none" stroke="#8c564b" stroke-width="0.65" stroke-linejoin="round" stroke-dasharray="1.1,0.55" points="39.0,124.2 39.2,120.8 39.4,123.6 39.6,130.9 39.8,134.4 40.0,136.2 40.2,139.8 40.4,142.2 40.6,145.6 40.8,150.9 41.0,155.9 41.2,159.0 41.4,160.6 41.6,161.1 41.8,159.2 42.0,156.6 42.2,153.2 42.4,149.8 42.6,151.1 42.8,154.8 43.0,154.1 43.2,148.8 43.4,145.5 43.6,147.4 43.8,149.0 44.0,151.1 44.2,152.2 44.4,154.3 44.6,157.3 44.8,161.7 45.0,166.3 45.2,169.5 45.4,167.1 45.6,162.9 45.8,159.2 46.0,153.7 46.2,143.9 46.4,138.3 46.6,141.0 46.8,142.6 47.0,143.3 47.2,146.9 47.4,153.6 47.6,160.4 47.8,164.2 48.0,165.1 48.2,167.1 48.4,168.7 48.6,165.3 48.8,159.8 49.0,153.3 49.2,146.5 49.4,139.3 49.6,132.5 49.8,129.6 50.0,137.2 50.2,146.1 50.4,148.6 50.6,147.4 50.8,151.2 51.0,159.2 51.2,165.4 51.4,168.4 51.6,170.7 51.8,172.2 52.0,171.5 52.2,165.8 52.4,158.8 52.6,152.8 52.8,147.7 53.0,140.7 53.3,141.8 53.5,142.6 53.7,144.4 53.9,147.6 54.1,151.4 54.3,154.6 54.5,158.4 54.7,160.9 54.9,161.2 55.1,161.6 55.3,162.1 55.5,161.0 55.7,160.9 55.9,158.1 56.1,155.6 56.3,153.1 56.5,152.8 56.7,152.2 56.9,150.4 57.1,149.7 57.3,145.9 57.5,142.6 57.7,148.6 57.9,151.9 58.1,154.6 58.3,160.1 58.5,165.0 58.7,168.0 58.9,170.9 59.1,173.3 59.3,172.6 59.5,171.1 59.7,169.7 59.9,168.3 60.1,166.4 60.3,162.6 60.5,158.5 60.7,158.2 60.9,158.8 61.1,153.4 61.3,146.9 61.5,147.7 61.7,151.1 61.9,150.7 62.1,152.8 62.3,155.3 62.5,154.2 62.7,152.7 62.9,155.4 63.1,158.6 63.3,159.3 63.5,159.5 63.7,159.4 63.9,158.3 64.1,159.2 64.3,160.7 64.5,159.5 64.7,157.1 64.9,150.2 65.1,138.8 65.3,130.7 65.5,126.9 65.7,124.7 65.9,124.5 66.1,124.7 66.3,129.5 66.5,135.3 66.7,135.6 66.9,134.3 67.1,137.8 67.3,141.5 67.5,142.3 67.7,142.9 67.9,141.2 68.1,141.7 68.3,144.3 68.5,144.3 68.7,141.5 68.9,138.7 69.1,137.2 69.3,137.6 69.5,137.5 69.7,136.1 69.9,135.3 70.1,134.4 70.3,134.4 70.5,134.3 70.7,137.5 70.9,144.4 71.1,149.9 71.3,151.3 71.5,152.1 71.7,154.4 71.9,157.0 72.1,161.2 72.3,160.6 72.5,157.8 72.7,151.1 72.9,141.3 73.1,134.8 73.3,131.7 73.5,132.0 73.7,135.4 73.9,139.5 74.1,144.2 74.3,146.9 74.5,146.0 74.7,146.1 74.9,149.7 75.1,154.3 75.3,151.3 75.5,148.1 75.7,143.2 75.9,137.5 76.1,134.1 76.3,132.6 76.5,131.0 76.7,132.7 76.9,130.6 77.1,128.2 77.3,129.0 77.5,128.6 77.7,130.2 77.9,135.4 78.1,142.0 78.3,147.9 78.5,150.4 78.7,152.3 78.9,152.7 79.1,146.5 79.3,139.7 79.5,135.1 79.7,131.7 79.9,129.0 80.1,127.6 80.3,128.9 80.5,128.2 80.7,122.6 80.9,120.4 81.1,123.0 81.3,130.1 81.6,135.5 81.8,138.2 82.0,139.9 82.2,143.6 82.4,147.4 82.6,149.2 82.8,152.4 83.0,156.2 83.2,157.4 83.4,154.6 83.6,154.2 83.8,158.1 84.0,159.2 84.2,152.9 84.4,146.0 84.6,143.1 84.8,140.3 85.0,138.3 85.2,134.4 85.4,128.3 85.6,124.8 85.8,126.3 86.0,132.3 86.2,135.0 86.4,137.0 86.6,137.9 86.8,140.0 87.0,145.2 87.2,151.3 87.4,153.8 87.6,148.5 87.8,146.6 88.0,148.7 88.2,147.9 88.4,146.3 88.6,146.4 88.8,146.5 89.0,145.0 89.2,144.9 89.4,147.1 89.6,147.3 89.8,143.8 90.0,141.2 90.2,139.9 90.4,138.7 90.6,138.6 90.8,140.8 91.0,144.8 91.2,147.1 91.4,148.1 91.6,151.0 91.8,153.6 92.0,155.3 92.2,158.9 92.4,163.0 92.6,164.3 92.8,163.1 93.0,159.9 93.2,157.9 93.4,154.8 93.6,153.6 93.8,152.9 94.0,149.0 94.2,143.0 94.4,137.0 94.6,132.8 94.8,128.7 95.0,129.5 95.2,133.0 95.4,140.6 95.6,148.1 95.8,150.1 96.0,152.4 96.2,156.3 96.4,158.1 96.6,157.2 96.8,152.9 97.0,146.0 97.2,141.9 97.4,140.9 97.6,140.7 97.8,138.2 98.0,134.1 98.2,131.6 98.4,129.4 98.6,126.0 98.8,124.3 99.0,125.7 99.2,130.2 99.4,135.1 99.6,138.7 99.8,139.5 100.0,141.1 100.2,142.5 100.4,144.4 100.6,148.1 100.8,152.8 101.0,154.2 101.2,149.2 101.4,147.6 101.6,147.1 101.8,144.6 102.0,142.0 102.2,140.5 102.4,138.7 102.6,136.5 102.8,134.7 103.0,132.3 103.2,131.3 103.4,137.1 103.6,146.9 103.8,153.9 104.0,155.3 104.2,155.8 104.4,161.6 104.6,164.4 104.8,163.9 105.0,160.9 105.2,158.7 105.4,159.3 105.6,159.5 105.8,156.6 106.0,151.0 106.2,148.4 106.4,148.8 106.6,149.5 106.8,147.9 107.0,145.1 107.2,148.7 107.4,155.5 107.6,160.6 107.8,164.0 108.0,165.7 108.2,165.0 108.4,162.6 108.6,162.0 108.8,164.7 109.0,167.0 109.2,169.2 109.4,167.6 109.6,163.2 109.9,158.4 110.1,152.5 110.3,147.8 110.5,148.1 110.7,149.6 110.9,146.8 111.1,142.1 111.3,137.3 111.5,134.8 111.7,134.0 111.9,129.0 112.1,121.4 112.3,119.8 112.5,120.8 112.7,121.0 112.9,124.4 113.1,131.2 113.3,136.7 113.5,136.6 113.7,133.6 113.9,135.6 114.1,142.8 114.3,148.7 114.5,149.5 114.7,147.1 114.9,148.9 115.1,150.3 115.3,148.4 115.5,146.9 115.7,146.7 115.9,144.2 116.1,139.8 116.3,135.9 116.5,139.9 116.7,146.6 116.9,151.5 117.1,154.2 117.3,155.4 117.5,157.6 117.7,160.2 117.9,163.1 118.1,167.6 118.3,172.8 118.5,176.8 118.7,179.5 118.9,181.2 119.1,182.4 119.3,183.0 119.5,180.7 119.7,176.1 119.9,172.2 120.1,169.8 120.3,168.2 120.5,167.1 120.7,169.4 120.9,171.2 121.1,173.8 121.3,179.4 121.5,183.5 121.7,184.5 121.9,184.9 122.1,187.5 122.3,191.3 122.5,194.2 122.7,196.0 122.9,197.2 123.1,197.9 123.3,198.1 123.5,197.8 123.7,196.2 123.9,193.9 124.1,191.6 124.3,189.9 124.5,189.8 124.7,189.6 124.9,188.2 125.1,184.6 125.3,177.9 125.5,174.3 125.7,177.0 125.9,179.9 126.1,179.0 126.3,179.7 126.5,181.7 126.7,181.9 126.9,179.6 127.1,177.9 127.3,177.0 127.5,175.2 127.7,173.5 127.9,171.9 128.1,171.4 128.3,173.5 128.5,175.4 128.7,173.3 128.9,167.4 129.1,163.8 129.3,161.7 129.5,159.7 129.7,160.6 129.9,160.9 130.1,160.3 130.3,159.3 130.5,160.8 130.7,163.2 130.9,164.3 131.1,165.9 131.3,167.2 131.5,167.1 131.7,166.6 131.9,165.6 132.1,164.1 132.3,159.2 132.5,157.5 132.7,158.3 132.9,158.0 133.1,153.2 133.3,143.3 133.5,140.2 133.7,153.6 133.9,161.0 134.1,164.0 134.3,169.2 134.5,175.9 134.7,176.3 134.9,171.9 135.1,171.1 135.3,173.4 135.5,175.2 135.7,174.8 135.9,172.9 136.1,168.9 136.3,164.9 136.5,161.8 136.7,157.6 136.9,153.5 137.1,149.2 137.3,147.0 137.5,150.3 137.7,151.8 137.9,153.4 138.2,158.3 138.4,161.7 138.6,164.0 138.8,166.7 139.0,170.0 139.2,173.3 139.4,175.1 139.6,171.6 139.8,167.2 140.0,162.4 140.2,159.7 140.4,159.8 140.6,160.3 140.8,160.5 141.0,159.7 141.2,159.2 141.4,157.3 141.6,154.6 141.8,155.3 142.0,157.0 142.2,156.8 142.4,155.9 142.6,158.3 142.8,163.6 143.0,169.6 143.2,174.6 143.4,179.1 143.6,183.1 143.8,186.0 144.0,187.5 144.2,184.5 144.4,180.4 144.6,181.4 144.8,185.1 145.0,185.4 145.2,180.6 145.4,172.8 145.6,166.5 145.8,165.8 146.0,165.6 146.2,164.5 146.4,163.2 146.6,163.6 146.8,163.1 147.0,165.2 147.2,169.7 147.4,176.1 147.6,181.5 147.8,183.3 148.0,184.7 148.2,186.7 148.4,189.4 148.6,191.0 148.8,191.5 149.0,189.4 149.2,187.0 149.4,183.0 149.6,178.9 149.8,176.7 150.0,176.3 150.2,177.3 150.4,179.1 150.6,181.8 150.8,182.7 151.0,180.9 151.2,179.9 151.4,181.0 151.6,182.3 151.8,182.5 152.0,180.8 152.2,178.8 152.4,177.5 152.6,177.3 152.8,176.1 153.0,174.0 153.2,170.1 153.4,164.2 153.6,158.2 153.8,154.8 154.0,154.1 154.2,152.5 154.4,149.0 154.6,148.5 154.8,152.8 155.0,152.6 155.2,151.7 155.4,155.4 155.6,159.3 155.8,160.0 156.0,160.2 156.2,158.6 156.4,156.9 156.6,154.1 156.8,152.0 157.0,151.3 157.2,150.1 157.4,145.3 157.6,137.1 157.8,128.7 158.0,124.1 158.2,122.5 158.4,123.9 158.6,126.5 158.8,129.3 159.0,132.6 159.2,133.6 159.4,132.1 159.6,131.0 159.8,134.2 160.0,140.9 160.2,146.0 160.4,148.2 160.6,149.3 160.8,149.1 161.0,145.7 161.2,137.4 161.4,128.1 161.6,125.5 161.8,124.2 162.0,126.2 162.2,130.7 162.4,135.5 162.6,140.4 162.8,144.9 163.0,147.4 163.2,147.9 163.4,148.8 163.6,152.1 163.8,154.1 164.0,152.2 164.2,149.3 164.4,148.1 164.6,147.3 164.8,146.9 165.0,148.7 165.2,151.0 165.4,152.3 165.6,154.3 165.8,157.2 166.0,161.1 166.2,163.5 166.4,165.8 166.7,169.8 166.9,170.5 167.1,168.1 167.3,165.9 167.5,165.3 167.7,165.6 167.9,166.7 168.1,166.3 168.3,168.5 168.5,171.8 168.7,176.0 168.9,179.4 169.1,180.5 169.3,179.6 169.5,180.0 169.7,181.5 169.9,183.0 170.1,184.3 170.3,184.9 170.5,184.1 170.7,180.6 170.9,175.3 171.1,168.8 171.3,162.3 171.5,157.1 171.7,158.1 171.9,160.3 172.1,161.2 172.3,160.2 172.5,159.6 172.7,158.3 172.9,156.6 173.1,156.9 173.3,159.5 173.5,161.7 173.7,162.1 173.9,163.0 174.1,165.4 174.3,166.5 174.5,163.8 174.7,157.8 174.9,155.7 175.1,155.8 175.3,152.7 175.5,144.4 175.7,135.7 175.9,130.2 176.1,130.2 176.3,135.1 176.5,139.8 176.7,141.9 176.9,140.6 177.1,137.9 177.3,137.8 177.5,141.7 177.7,145.1 177.9,146.3 178.1,147.6 178.3,151.0 178.5,154.5 178.7,158.9 178.9,162.8 179.1,160.6 179.3,155.9 179.5,153.3 179.7,153.2 179.9,152.1 180.1,150.9 180.3,154.2 180.5,160.0 180.7,164.1 180.9,167.9 181.1,170.6 181.3,173.2 181.5,176.5 181.7,178.1 181.9,177.1 182.1,174.2 182.3,170.6 182.5,166.3 182.7,160.9 182.9,159.4 183.1,160.9 183.3,164.0 183.5,168.2 183.7,170.8 183.9,172.0 184.1,174.4 184.3,174.2 184.5,171.7 184.7,167.7 184.9,163.8 185.1,161.3 185.3,159.6 185.5,158.2 185.7,158.4 185.9,160.8 186.1,162.2 186.3,163.1 186.5,165.5 186.7,166.8 186.9,165.2 187.1,163.6 187.3,159.7 187.5,156.0 187.7,151.7 187.9,147.9 188.1,145.0 188.3,143.4 188.5,139.4 188.7,131.8 188.9,129.4 189.1,130.4 189.3,129.8 189.5,128.8 189.7,129.6 189.9,129.5 190.1,131.4 190.3,137.8 190.5,146.1 190.7,151.5 190.9,153.4 191.1,154.3 191.3,156.7 191.5,162.4 191.7,166.9 191.9,169.8 192.1,170.3 192.3,168.3 192.5,166.5 192.7,166.1 192.9,165.9 193.1,164.4 193.3,163.3 193.5,162.0 193.7,160.3 193.9,158.1 194.1,152.7 194.3,148.4 194.5,144.9 194.7,142.8 195.0,142.5 195.2,143.0 195.4,142.5 195.6,140.7 195.8,139.2 196.0,136.9 196.2,131.2 196.4,130.1 196.6,128.4 196.8,125.7 197.0,123.7 197.2,116.2 197.4,106.6 197.6,104.1 197.8,107.6 198.0,108.6 198.2,107.9 198.4,114.1 198.6,124.2 198.8,133.4 199.0,142.9 199.2,150.5 199.4,155.7 199.6,154.1 199.8,150.3 200.0,145.2 200.2,140.8 200.4,140.0 200.6,140.0 200.8,138.9 201.0,137.9 201.2,133.7 201.4,130.3 201.6,130.0 201.8,128.8 202.0,128.0 202.2,127.2 202.4,132.7 202.6,141.7 202.8,150.4 203.0,155.5 203.2,159.5 203.4,163.5 203.6,163.1 203.8,164.7 204.0,165.3 204.2,162.4 204.4,159.9 204.6,159.4 204.8,158.3 205.0,158.7 205.2,158.0 205.4,155.0 205.6,152.2 205.8,151.5 206.0,156.0 206.2,160.4 206.4,159.7 206.6,156.9 206.8,157.2 207.0,158.8 207.2,160.7 207.4,161.6 207.6,159.7 207.8,156.3 208.0,154.5 208.2,153.2 208.4,151.3 208.6,144.5 208.8,138.5 209.0,137.0 209.2,137.0 209.4,135.3 209.6,134.0 209.8,133.6 210.0,130.2 210.2,127.8 210.4,127.4 210.6,128.4 210.8,130.4 211.0,133.4 211.2,138.0 211.4,142.3 211.6,144.2 211.8,147.0 212.0,141.3 212.2,133.9 212.4,129.1 212.6,124.9 212.8,119.8 213.0,116.3 213.2,119.8 213.4,123.9 213.6,132.8 213.8,141.8 214.0,145.6 214.2,143.5 214.4,138.2 214.6,136.5 214.8,133.7 215.0,127.7 215.2,118.0 215.4,110.6 215.6,111.6 215.8,114.9 216.0,121.1 216.2,129.8 216.4,133.3 216.6,135.8 216.8,142.3 217.0,147.0 217.2,150.2 217.4,152.5 217.6,154.4 217.8,156.4 218.0,156.9 218.2,157.7 218.4,159.5 218.6,160.0 218.8,159.7 219.0,158.4 219.2,158.7 219.4,158.9 219.6,158.2 219.8,157.2 220.0,157.7 220.2,159.6 220.4,161.1 220.6,161.5 220.8,161.1 221.0,158.8 221.2,160.0 221.4,163.4 221.6,166.6 221.8,170.1 222.0,172.8 222.2,173.4 222.4,173.6 222.6,174.3 222.8,174.7 223.0,174.9 223.3,174.5 223.5,174.6 223.7,175.9 223.9,176.1 224.1,174.9 224.3,174.0 224.5,174.7 224.7,175.0 224.9,178.3 225.1,181.2 225.3,183.5 225.5,186.2 225.7,187.9 225.9,188.3 226.1,186.9 226.3,185.0 226.5,182.4 226.7,178.3 226.9,174.1 227.1,170.7 227.3,167.1 227.5,166.2 227.7,166.6 227.9,168.3 228.1,170.0 228.3,172.1 228.5,174.1 228.7,175.8 228.9,177.1 229.1,177.2 229.3,175.7 229.5,172.2 229.7,167.7 229.9,165.6 230.1,164.5 230.3,160.6 230.5,159.9 230.7,159.8 230.9,160.8 231.1,162.0 231.3,163.1 231.5,166.5 231.7,169.0 231.9,167.7 232.1,168.7 232.3,170.6 232.5,168.0 232.7,164.5 232.9,162.7 233.1,162.2 233.3,161.5 233.5,160.4 233.7,160.0 233.9,157.3 234.1,155.9 234.3,156.9 234.5,158.5 234.7,163.0 234.9,166.6 235.1,168.0 235.3,166.4 235.5,163.4 235.7,160.8 235.9,157.1 236.1,152.3 236.3,152.9 236.5,151.9 236.7,144.4 236.9,135.6 237.1,126.8 237.3,120.7 237.5,121.9 237.7,125.3 237.9,129.8 238.1,131.8 238.3,133.4 238.5,138.2 238.7,144.0 238.9,150.5 239.1,157.8 239.3,161.6 239.5,160.3 239.7,162.5 239.9,161.8 240.1,155.7 240.3,148.3 240.5,144.1 240.7,141.6 240.9,146.8 241.1,157.5 241.3,165.9 241.5,170.1 241.7,172.3 241.9,172.9 242.1,173.0 242.3,171.3 242.5,169.5 242.7,170.4 242.9,172.4 243.1,172.2 243.3,167.8 243.5,161.4 243.7,156.8 243.9,155.5 244.1,156.2 244.3,155.3 244.5,150.7 244.7,150.7 244.9,152.1 245.1,155.1 245.3,158.9 245.5,162.0 245.7,163.1 245.9,160.7 246.1,159.1 246.3,157.3 246.5,154.3 246.7,151.6 246.9,148.4 247.1,146.7 247.3,145.3 247.5,141.6 247.7,136.9 247.9,139.0 248.1,140.8 248.3,142.2 248.5,146.5 248.7,150.9 248.9,154.1 249.1,156.6 249.3,154.7 249.5,152.7 249.7,148.3 249.9,144.2 250.1,142.2 250.3,140.5 250.5,137.6 250.7,133.5 250.9,133.6 251.1,136.2 251.3,139.9 251.6,144.8 251.8,147.2 252.0,146.0 252.2,146.7 252.4,152.6 252.6,158.3 252.8,160.2 253.0,161.5 253.2,162.0 253.4,163.2 253.6,165.2 253.8,165.1 254.0,163.7 254.2,162.9 254.4,163.0 254.6,161.9 254.8,160.6 255.0,160.3 255.2,158.9 255.4,154.9 255.6,149.2 255.8,148.1 256.0,149.2 256.2,151.9 256.4,155.4 256.6,160.1 256.8,162.2 257.0,163.6 257.2,167.8 257.4,171.7 257.6,172.2 257.8,167.6 258.0,159.6 258.2,151.1 258.4,146.4 258.6,142.7 258.8,136.8 259.0,130.7 259.2,128.0 259.4,128.7 259.6,126.4 259.8,121.4 260.0,118.1 260.2,114.9 260.4,110.8 260.6,108.5 260.8,111.6 261.0,116.4 261.2,123.7 261.4,131.6 261.6,135.9 261.8,136.8 262.0,137.3 262.2,138.1 262.4,138.8 262.6,135.9 262.8,129.6 263.0,127.9 263.2,130.1 263.4,132.2 263.6,137.1 263.8,142.0 264.0,142.0 264.2,140.5 264.4,143.4 264.6,150.7 264.8,156.2 265.0,159.2 265.2,163.5 265.4,168.7 265.6,174.5 265.8,179.4 266.0,178.9 266.2,176.4 266.4,175.3 266.6,176.4 266.8,177.1 267.0,176.6 267.2,174.2 267.4,171.8 267.6,168.6 267.8,164.2 268.0,157.9 268.2,153.0 268.4,150.6 268.6,149.2 268.8,151.7 269.0,152.3 269.2,152.1 269.4,153.1 269.6,153.9 269.8,152.7 270.0,152.1 270.2,153.5 270.4,158.0 270.6,162.2 270.8,164.0 271.0,158.3 271.2,147.6 271.4,134.3 271.6,124.6 271.8,117.2 272.0,110.1 272.2,105.9 272.4,103.3 272.6,102.2 272.8,103.9 273.0,108.0 273.2,115.1 273.4,120.1 273.6,123.0 273.8,126.2 274.0,128.3 274.2,132.5 274.4,139.1 274.6,144.4 274.8,145.5 275.0,143.8 275.2,143.0 275.4,143.4 275.6,144.1 275.8,146.3 276.0,149.8 276.2,151.9 276.4,150.4 276.6,150.0 276.8,152.6 277.0,155.2 277.2,155.4 277.4,156.6 277.6,158.0 277.8,160.2 278.0,163.0 278.2,164.8 278.4,164.8 278.6,162.5 278.8,160.8 279.0,163.5 279.2,165.5 279.4,164.9 279.6,165.0 279.9,164.4 280.1,161.0 280.3,156.7 280.5,153.5 280.7,151.9 280.9,150.4 281.1,147.0 281.3,145.1 281.5,141.6 281.7,135.4 281.9,132.4 282.1,136.0 282.3,141.9 282.5,144.0 282.7,142.7 282.9,139.3 283.1,138.3 283.3,143.5 283.5,149.5 283.7,151.7 283.9,153.0 284.1,154.8 284.3,156.2 284.5,155.3 284.7,151.2 284.9,147.1 285.1,143.0 285.3,140.1 285.5,136.4 285.7,129.4 285.9,128.1 286.1,130.1 286.3,134.8 286.5,142.0 286.7,150.9 286.9,157.0 287.1,158.1 287.3,158.8 287.5,163.7 287.7,170.0 287.9,172.2 288.1,172.1 288.3,171.3 288.5,171.1 288.7,171.1 288.9,169.9 289.1,169.8 289.3,172.4 289.5,173.0 289.7,171.3 289.9,169.5 290.1,171.3 290.3,170.8 290.5,169.5 290.7,169.9 290.9,172.6 291.1,175.1 291.3,174.7 291.5,172.6 291.7,171.1 291.9,171.6 292.1,173.5 292.3,175.3 292.5,176.6 292.7,174.4 292.9,168.7 293.1,160.3 293.3,152.5 293.5,143.7 293.7,135.3 293.9,136.4 294.1,141.0 294.3,143.3 294.5,138.2 294.7,133.3 294.9,137.9 295.1,143.8 295.3,143.1 295.5,142.0 295.7,145.4 295.9,149.9 296.1,152.9 296.3,150.5 296.5,149.9 296.7,153.8 296.9,157.1 297.1,158.0 297.3,154.9 297.5,151.8 297.7,151.3 297.9,150.5 298.1,149.4 298.3,147.1 298.5,146.9 298.7,152.3 298.9,159.5 299.1,165.5 299.3,168.8 299.5,171.3 299.7,174.1 299.9,177.3 300.1,179.2 300.3,179.7 300.5,178.2 300.7,176.3 300.9,175.3 301.1,173.3 301.3,169.7 301.5,166.6 301.7,164.4 301.9,162.8 302.1,162.9 302.3,160.0 302.5,153.4 302.7,149.9 302.9,151.5 303.1,156.7 303.3,160.0 303.5,161.6 303.7,161.5 303.9,161.2 304.1,161.8 304.3,163.7 304.5,168.3 304.7,172.0 304.9,171.5 305.1,170.4 305.3,167.5 305.5,163.5 305.7,161.7 305.9,160.4 306.1,159.6 306.3,160.4 306.5,163.0 306.7,163.4 306.9,159.8 307.1,158.8 307.3,161.1 307.5,162.8 307.7,163.6 307.9,165.9 308.2,169.4 308.4,170.5 308.6,167.8 308.8,165.2 309.0,164.8 309.2,165.5 309.4,164.9 309.6,163.5 309.8,164.3 310.0,166.1 310.2,165.2 310.4,162.4 310.6,158.1 310.8,153.8 311.0,149.0 311.2,144.5 311.4,142.9 311.6,142.5 311.8,138.8 312.0,134.2 312.2,131.3 312.4,132.7 312.6,135.6 312.8,140.8 313.0,147.4 313.2,151.1 313.4,152.0 313.6,155.0 313.8,160.3 314.0,163.4 314.2,162.9 314.4,161.2 314.6,161.9 314.8,164.5 315.0,167.6 315.2,168.3 315.4,167.3 315.6,166.6 315.8,167.6 316.0,168.9 316.2,168.1 316.4,165.2 316.6,161.4 316.8,160.5 317.0,161.7 317.2,160.7 317.4,159.2 317.6,158.7 317.8,157.7 318.0,158.9 318.2,159.2 318.4,159.6 318.6,163.3 318.8,165.6 319.0,165.4 319.2,165.3 319.4,165.7 319.6,166.6 319.8,166.6 320.0,163.0 320.2,159.9 320.4,157.5 320.6,154.7 320.8,152.2 321.0,148.4 321.2,144.4 321.4,142.1 321.6,146.0 321.8,148.3 322.0,149.7 322.2,153.4 322.4,158.5 322.6,162.3 322.8,160.8 323.0,159.7 323.2,160.3 323.4,157.9 323.6,151.9 323.8,148.7 324.0,149.5 324.2,149.4 324.4,146.7 324.6,145.5 324.8,147.2 325.0,147.6 325.2,145.5 325.4,145.1 325.6,146.3 325.8,145.3 326.0,148.8 326.2,154.8 326.4,158.5 326.6,161.5 326.8,165.6 327.0,169.1 327.2,167.8 327.4,165.0 327.6,162.2 327.8,158.7 328.0,158.0 328.2,159.7 328.4,159.7 328.6,158.5 328.8,158.0 329.0,157.2 329.2,156.7 329.4,156.6 329.6,159.1 329.8,164.5 330.0,168.6 330.2,169.9 330.4,171.8 330.6,173.4 330.8,173.3 331.0,173.7 331.2,175.3 331.4,174.9 331.6,172.7 331.8,171.2 332.0,170.4 332.2,169.0 332.4,167.6 332.6,167.0 332.8,166.4 333.0,163.7 333.2,158.9 333.4,155.1 333.6,153.8 333.8,152.9 334.0,149.7 334.2,149.7 334.4,151.2 334.6,151.0 334.8,153.3 335.0,158.4 335.2,164.0 335.4,167.0 335.6,166.9 335.8,167.5 336.0,169.9 336.2,171.9 336.5,173.1 336.7,171.3 336.9,170.9 337.1,172.5 337.3,173.1 337.5,170.9 337.7,168.4 337.9,167.5 338.1,167.3 338.3,168.5 338.5,169.7 338.7,171.0 338.9,174.6 339.1,180.6 339.3,184.9 339.5,188.4 339.7,192.2 339.9,195.8 340.1,197.4 340.3,198.3 340.5,199.2 340.7,200.1 340.9,199.8 341.1,197.6 341.3,194.1 341.5,195.2 341.7,196.7 341.9,197.6 342.1,197.7 342.3,196.8 342.5,195.5 342.7,194.2 342.9,192.6 343.1,190.2 343.3,187.8 343.5,186.1 343.7,185.1 343.9,183.7 344.1,181.6 344.3,179.4 344.5,176.4 344.7,173.4 344.9,171.8 345.1,171.4 345.3,171.2 345.5,172.3 345.7,173.9 345.9,174.6 346.1,175.1 346.3,175.7 346.5,176.2 346.7,176.4 346.9,176.1 347.1,175.7 347.3,175.0 347.5,174.0 347.7,172.9 347.9,172.4 348.1,172.2 348.3,171.3 348.5,169.2 348.7,167.0 348.9,168.3 349.1,170.4 349.3,172.5 349.5,174.1 349.7,175.9 349.9,177.5 350.1,179.3 350.3,181.5 350.5,183.3 350.7,184.7 350.9,186.1 351.1,186.9 351.3,187.5 351.5,187.0 351.7,185.7 351.9,184.8 352.1,183.9 352.3,184.6 352.5,186.3 352.7,186.8 352.9,187.4 353.1,188.8 353.3,190.7 353.5,191.9 353.7,192.5 353.9,192.9 354.1,192.3 354.3,190.4 354.5,189.0 354.7,189.2 354.9,188.6 355.1,186.1 355.3,184.2 355.5,185.3 355.7,186.3 355.9,187.4 356.1,188.1 356.3,188.3 356.5,187.8 356.7,186.4 356.9,185.2 357.1,183.9 357.3,182.0 357.5,181.1 357.7,181.2 357.9,180.6 358.1,179.2 358.3,176.9 358.5,173.6 358.7,170.0 358.9,170.7 359.1,173.0 359.3,174.3 359.5,175.5 359.7,177.0 359.9,174.9 360.1,170.3 360.3,167.4 360.5,167.2 360.7,168.8 360.9,167.2 361.1,161.6 361.3,156.3 361.5,151.9 361.7,150.1 361.9,151.7 362.1,151.8 362.3,148.1 362.5,141.5 362.7,137.2 362.9,134.4 363.1,136.1 363.3,140.8 363.5,141.7 363.7,140.2 363.9,138.6 364.1,137.4 364.3,137.7 364.5,142.5 364.8,146.5 365.0,146.1 365.2,146.5 365.4,143.0 365.6,140.2 365.8,142.0 366.0,141.4 366.2,138.7 366.4,135.3 366.6,130.7 366.8,128.8 367.0,128.3 367.2,129.2 367.4,130.8 367.6,131.7 367.8,134.6 368.0,139.0 368.2,144.7 368.4,148.9 368.6,150.4 368.8,152.7 369.0,152.1 369.2,151.9 369.4,150.0 369.6,145.7 369.8,141.5 370.0,138.0 370.2,138.1 370.4,139.7 370.6,143.5 370.8,146.8 371.0,153.3 371.2,159.5 371.4,163.0 371.6,164.9 371.8,166.2 372.0,164.5 372.2,164.9 372.4,166.8 372.6,167.5 372.8,167.7 373.0,168.6 373.2,171.6 373.4,174.1 373.6,177.0 373.8,179.4 374.0,181.0 374.2,180.7 374.4,181.0 374.6,182.4 374.8,183.8 375.0,183.5 375.2,182.6 375.4,181.9 375.6,179.9 375.8,178.7 376.0,179.9 376.2,177.8 376.4,175.2 376.6,173.0 376.8,169.4 377.0,164.4 377.2,160.1 377.4,154.5 377.6,144.9 377.8,137.2 378.0,139.2 378.2,146.3 378.4,149.1 378.6,147.2 378.8,149.7 379.0,159.4 379.2,165.7 379.4,167.5 379.6,172.4 379.8,177.8 380.0,179.2 380.2,179.1 380.4,178.7 380.6,177.0 380.8,174.4 381.0,173.9 381.2,174.4 381.4,173.4 381.6,172.6 381.8,175.5 382.0,177.6 382.2,176.5 382.4,176.6 382.6,177.3 382.8,176.5 383.0,174.8 383.2,174.6 383.4,175.7 383.6,177.6 383.8,177.2 384.0,172.3 384.2,167.3 384.4,163.9 384.6,161.3 384.8,159.7 385.0,158.0 385.2,155.8 385.4,155.1 385.6,154.5 385.8,150.5 386.0,145.3 386.2,145.5 386.4,148.5 386.6,156.4 386.8,164.0 387.0,169.3 387.2,174.4 387.4,179.7 387.6,185.4 387.8,190.0 388.0,193.3 388.2,191.6 388.4,188.7 388.6,186.6 388.8,187.3 389.0,186.7 389.2,183.4 389.4,183.0 389.6,184.4 389.8,186.7 390.0,189.1 390.2,192.0 390.4,194.2 390.6,194.4 390.8,195.5 391.0,197.4 391.2,196.6 391.4,194.4 391.6,192.3 391.8,190.4 392.0,189.5 392.2,188.9 392.4,188.7 392.6,189.7 392.8,192.5 393.1,194.1 393.3,193.5 393.5,192.5 393.7,192.5 393.9,193.3 394.1,194.5 394.3,194.6 394.5,195.0 394.7,194.8 394.9,192.7 395.1,191.9 395.3,191.2 395.5,188.1 395.7,184.4 395.9,182.5 396.1,183.2 396.3,183.9 396.5,181.6 396.7,179.9 396.9,177.9 397.1,174.6 397.3,173.1 397.5,171.7 397.7,174.6 397.9,182.6 398.1,187.5 398.3,191.4 398.5,193.8 398.7,195.1 398.9,197.0 399.1,196.1 399.3,196.0 399.5,196.2 399.7,196.0 399.9,195.5 400.1,194.4 400.3,192.8 400.5,189.0 400.7,186.3 400.9,188.1 401.1,191.4 401.3,192.7 401.5,193.0 401.7,192.8 401.9,192.5 402.1,192.3 402.3,192.3 402.5,192.0 402.7,190.9 402.9,188.6 403.1,184.9 403.3,181.7 403.5,178.2 403.7,173.1 403.9,167.3 404.1,162.6 404.3,159.7 404.5,155.7 404.7,148.6 404.9,139.8 405.1,131.5 405.3,126.4 405.5,131.0 405.7,138.3 405.9,139.8 406.1,138.9 406.3,144.1 406.5,152.4 406.7,155.8 406.9,156.6 407.1,158.4 407.3,156.7 407.5,152.4 407.7,143.9 407.9,134.9 408.1,130.3 408.3,128.6 408.5,127.8 408.7,129.4 408.9,134.0 409.1,139.7 409.3,146.4 409.5,153.1 409.7,158.7 409.9,161.8 410.1,164.2 410.3,160.4 410.5,153.0 410.7,146.9 410.9,144.5 411.1,143.5 411.3,142.8 411.5,139.0 411.7,134.3 411.9,133.7 412.1,135.0 412.3,137.2 412.5,143.3 412.7,148.2 412.9,152.1 413.1,154.4 413.3,156.7 413.5,162.4 413.7,169.4 413.9,177.2 414.1,182.6 414.3,184.8 414.5,186.5 414.7,189.6 414.9,192.8 415.1,194.6 415.3,195.0 415.5,195.8 415.7,196.3 415.9,196.3 416.1,195.6 416.3,195.6 416.5,196.7 416.7,195.8 416.9,193.1 417.1,193.0 417.3,193.6 417.5,194.7 417.7,195.5 417.9,196.0 418.1,195.1 418.3,193.7 418.5,193.2 418.7,192.8 418.9,192.1 419.1,191.0 419.3,190.5 419.5,190.4 419.7,188.1 419.9,183.8 420.1,179.3 420.3,176.3 420.5,174.8 420.7,174.4 420.9,172.3 421.1,168.0 421.3,163.4 421.6,159.4 421.8,156.6 422.0,155.6 422.2,157.5 422.4,158.1 422.6,158.4 422.8,159.4 423.0,162.4 423.2,166.1 423.4,168.2 423.6,169.5 423.8,171.8 424.0,169.2 424.2,165.7 424.4,164.0 424.6,163.2 424.8,158.5 425.0,151.6 425.2,147.9 425.4,144.9 425.6,143.3 425.8,147.2 426.0,156.5 426.2,163.7 426.4,164.9 426.6,164.6 426.8,167.5 427.0,172.9 427.2,179.0 427.4,185.6 427.6,189.8 427.8,191.1 428.0,187.7 428.2,185.3 428.4,187.0 428.6,190.9 428.8,192.7 429.0,192.6 429.2,193.2 429.4,193.4 429.6,193.0 429.8,194.1 430.0,195.3 430.2,193.8 430.4,193.8 430.6,196.6 430.8,199.4 431.0,200.8 431.2,200.9 431.4,199.6 431.6,199.2 431.8,199.7 432.0,199.1 432.2,195.7 432.4,194.6 432.6,193.9 432.8,191.2 433.0,186.6 433.2,181.3 433.4,174.6 433.6,171.8 433.8,176.1 434.0,180.4 434.2,182.2 434.4,183.6 434.6,184.6 434.8,185.2 435.0,185.9 435.2,187.2 435.4,191.1 435.6,195.0 435.8,195.9 436.0,195.8 436.2,197.1 436.4,198.6 436.6,198.6 436.8,197.4 437.0,195.4 437.2,193.5 437.4,191.6 437.6,188.9 437.8,187.3 438.0,186.0 438.2,182.2 438.4,176.7 438.6,171.6 438.8,174.1 439.0,180.0 439.2,184.7 439.4,187.2 439.6,187.6 439.8,187.1 440.0,187.7 440.2,188.0 440.4,185.8 440.6,184.3 440.8,182.7 441.0,182.0 441.2,180.9 441.4,175.0 441.6,165.2 441.8,158.6 442.0,153.9 442.2,148.0 442.4,151.9 442.6,157.3 442.8,162.8 443.0,168.2 443.2,174.9 443.4,179.7 443.6,180.4 443.8,177.8 444.0,173.0 444.2,167.8 444.4,160.4 444.6,152.5 444.8,146.9 445.0,145.8 445.2,146.5 445.4,151.1 445.6,156.5 445.8,160.4 446.0,165.2 446.2,169.8 446.4,171.2 446.6,171.8 446.8,175.8 447.0,181.3 447.2,184.8 447.4,185.1 447.6,184.5 447.8,183.8 448.0,182.5 448.2,182.4 448.4,185.0 448.6,185.2 448.8,182.0 449.0,181.4 449.2,185.6 449.4,190.6 449.6,191.3 449.9,190.0 450.1,189.3 450.3,188.6 450.5,189.3 450.7,189.1 450.9,187.9 451.1,188.3 451.3,190.3 451.5,193.1 451.7,194.3 451.9,194.2 452.1,193.8 452.3,191.2 452.5,188.9 452.7,187.2 452.9,185.4 453.1,183.1 453.3,179.5 453.5,176.8 453.7,175.8 453.9,173.0 454.1,169.3 454.3,166.8 454.5,162.9 454.7,156.7 454.9,154.7 455.1,156.6 455.3,158.2 455.5,156.3 455.7,155.1 455.9,154.0 456.1,152.4 456.3,155.5 456.5,158.3 456.7,157.3 456.9,155.2 457.1,152.3 457.3,146.8 457.5,138.8 457.7,131.6 457.9,130.3 458.1,133.3 458.3,135.1 458.5,135.3 458.7,139.1 458.9,145.6 459.1,149.2 459.3,150.8 459.5,155.4 459.7,161.7 459.9,165.8 460.1,171.1 460.3,171.5 460.5,167.7 460.7,160.7 460.9,157.3 461.1,153.9 461.3,152.9 461.5,156.8 461.7,157.7 461.9,160.4 462.1,169.6 462.3,178.9 462.5,181.0 462.7,179.4 462.9,178.2 463.1,178.3 463.3,178.4 463.5,176.3 463.7,174.1 463.9,173.8 464.1,174.1 464.3,173.5 464.5,172.3 464.7,170.1 464.9,169.3 465.1,170.3 465.3,174.4 465.5,176.5 465.7,178.9 465.9,181.7 466.1,185.0 466.3,185.5 466.5,182.6 466.7,177.2 466.9,172.6 467.1,164.8 467.3,151.9 467.5,147.8 467.7,149.2 467.9,152.7 468.1,154.9 468.3,154.4 468.5,155.5 468.7,159.8 468.9,163.2 469.1,166.9 469.3,170.5 469.5,171.0 469.7,170.4 469.9,167.9 470.1,164.7 470.3,166.3 470.5,169.3 470.7,170.3 470.9,168.8 471.1,166.4 471.3,163.7 471.5,164.6 471.7,165.1 471.9,163.0 472.1,164.7 472.3,169.3 472.5,172.9 472.7,177.4 472.9,181.1 473.1,181.6 473.3,179.6 473.5,178.7 473.7,180.5 473.9,182.9 474.1,183.5 474.3,182.5 474.5,181.8 474.7,180.2 474.9,179.4 475.1,182.1 475.3,183.3 475.5,180.9 475.7,179.1 475.9,180.5 476.1,183.0 476.3,185.5 476.5,187.5 476.7,189.1 476.9,190.8 477.1,191.5 477.3,191.0 477.5,191.6 477.7,193.1 477.9,192.9 478.2,190.2 478.4,186.1 478.6,183.6 478.8,183.1 479.0,182.2 479.2,180.4 479.4,181.3 479.6,182.6 479.8,180.2 480.0,180.9 480.2,183.8 480.4,188.5 480.6,191.7 480.8,193.9 481.0,197.6 481.2,201.3 481.4,203.3 481.6,202.9 481.8,199.9 482.0,197.3 482.2,193.8 482.4,189.0 482.6,182.6 482.8,177.1 483.0,175.1 483.2,175.1 483.4,173.7 483.6,171.2 483.8,168.9 484.0,167.2 484.2,168.0 484.4,169.1 484.6,166.6 484.8,162.6 485.0,158.6 485.2,156.3 485.4,155.9 485.6,152.6 485.8,147.6 486.0,143.4 486.2,139.9 486.4,137.8 486.6,138.8 486.8,141.5 487.0,145.1 487.2,149.3 487.4,152.6 487.6,157.6 487.8,162.3 488.0,165.4 488.2,167.7 488.4,168.7 488.6,168.0 488.8,168.5 489.0,167.5 489.2,165.7 489.4,164.5 489.6,162.2 489.8,165.7 490.0,172.1 490.2,177.4 490.4,183.8 490.6,189.4 490.8,193.8 491.0,198.5 491.2,201.1 491.4,201.5 491.6,201.5 491.8,202.0 492.0,202.0 492.2,200.5 492.4,199.7 492.6,200.3 492.8,201.2 493.0,201.4 493.2,199.1 493.4,196.1 493.6,194.6 493.8,194.8 494.0,194.2 494.2,194.5 494.4,196.7 494.6,198.3 494.8,197.6 495.0,196.6 495.2,196.7 495.4,196.7 495.6,196.6 495.8,196.5 496.0,195.7 496.2,195.5 496.4,195.3 496.6,192.8 496.8,189.9 497.0,187.2 497.2,186.1 497.4,185.1 497.6,183.6 497.8,182.4 498.0,180.7 498.2,179.6 498.4,177.9 498.6,175.4 498.8,175.7 499.0,175.5 499.2,176.6 499.4,179.8 499.6,182.8 499.8,184.0 500.0,184.6 500.2,187.4 500.4,190.9 500.6,192.7 500.8,190.1 501.0,185.8 501.2,183.3 501.4,181.3 501.6,177.8 501.8,175.0 502.0,173.4 502.2,171.3 502.4,169.8 502.6,166.7 502.8,165.7 503.0,166.4 503.2,166.2 503.4,164.1 503.6,163.4 503.8,167.2 504.0,173.0 504.2,175.9 504.4,174.8 504.6,169.2 504.8,163.5 505.0,156.7 505.2,147.5 505.4,139.6 505.6,135.4 505.8,131.7 506.0,125.9 506.2,125.8 506.5,128.5 506.7,137.3 506.9,146.7 507.1,151.6 507.3,158.6 507.5,161.9 507.7,161.2 507.9,159.5 508.1,158.0 508.3,154.9 508.5,148.7 508.7,147.7 508.9,149.6 509.1,155.9 509.3,161.4 509.5,165.4 509.7,170.6 509.9,175.7 510.1,181.2 510.3,186.5 510.5,189.8 510.7,191.7 510.9,194.0 511.1,196.2 511.3,198.1 511.5,199.8 511.7,200.5 511.9,200.3 512.1,200.1 512.3,200.5 512.5,200.6 512.7,200.4 512.9,199.2 513.1,197.5 513.3,197.4 513.5,198.1 513.7,200.1 513.9,201.6 514.1,202.2 514.3,202.4 514.5,203.2 514.7,205.3 514.9,207.3 515.1,207.6 515.3,205.7 515.5,203.5 515.7,201.9 515.9,200.4 516.1,197.8 516.3,195.0 516.5,192.0 516.7,188.9 516.9,186.7 517.1,185.2 517.3,180.3 517.5,171.9 517.7,168.2 517.9,173.1 518.1,177.2 518.3,178.6 518.5,178.8 518.7,179.3 518.9,178.2 519.1,173.5 519.3,169.8 519.5,164.3 519.7,153.7 519.9,143.6 520.1,139.2 520.3,136.7 520.5,139.5"/>
<polyline fill="none" stroke="#e377c2" stroke-width="0.65" stroke-linejoin="round" points="39.0,127.7 39.2,130.9 39.4,129.4 39.6,128.9 39.8,134.0 40.0,141.8 40.2,149.7 40.4,156.9 40.6,160.8 40.8,159.6 41.0,156.4 41.2,157.4 41.4,156.4 41.6,154.6 41.8,154.5 42.0,152.7 42.2,149.9 42.4,147.7 42.6,144.2 42.8,139.5 43.0,138.2 43.2,138.1 43.4,137.0 43.6,141.5 43.8,145.9 44.0,147.5 44.2,152.5 44.4,160.4 44.6,164.6 44.8,168.3 45.0,172.0 45.2,173.6 45.4,174.6 45.6,175.0 45.8,174.3 46.0,172.7 46.2,172.1 46.4,171.4 46.6,169.0 46.8,165.8 47.0,164.4 47.2,161.1 47.4,154.7 47.6,154.9 47.8,156.5 48.0,158.1 48.2,161.1 48.4,161.2 48.6,157.4 48.8,156.1 49.0,158.0 49.2,160.5 49.4,158.0 49.6,154.0 49.8,149.6 50.0,142.4 50.2,134.9 50.4,130.6 50.6,135.9 50.8,142.6 51.0,144.7 51.2,148.2 51.4,154.7 51.6,157.3 51.8,155.5 52.0,151.2 52.2,140.0 52.4,135.6 52.6,133.3 52.8,126.9 53.0,120.4 53.3,120.9 53.5,125.5 53.7,127.0 53.9,124.3 54.1,120.2 54.3,120.9 54.5,127.8 54.7,134.4 54.9,136.3 55.1,136.5 55.3,138.5 55.5,142.6 55.7,145.7 55.9,146.0 56.1,146.1 56.3,146.2 56.5,140.6 56.7,131.7 56.9,129.4 57.1,130.0 57.3,128.1 57.5,125.1 57.7,125.3 57.9,126.2 58.1,123.7 58.3,121.0 58.5,121.8 58.7,125.3 58.9,128.6 59.1,133.4 59.3,139.5 59.5,146.3 59.7,149.4 59.9,151.7 60.1,156.2 60.3,161.4 60.5,162.5 60.7,162.7 60.9,161.2 61.1,161.0 61.3,160.0 61.5,156.3 61.7,157.2 61.9,160.0 62.1,161.0 62.3,162.3 62.5,162.4 62.7,161.6 62.9,161.0 63.1,156.8 63.3,151.1 63.5,151.6 63.7,156.5 63.9,162.0 64.1,163.6 64.3,164.2 64.5,167.0 64.7,168.0 64.9,167.4 65.1,166.6 65.3,165.7 65.5,162.7 65.7,160.6 65.9,162.6 66.1,165.1 66.3,162.7 66.5,157.8 66.7,157.8 66.9,160.7 67.1,160.7 67.3,157.9 67.5,156.1 67.7,157.9 67.9,162.2 68.1,163.6 68.3,162.0 68.5,160.0 68.7,159.1 68.9,162.6 69.1,167.0 69.3,169.4 69.5,169.8 69.7,169.6 69.9,168.4 70.1,165.9 70.3,163.0 70.5,161.1 70.7,157.3 70.9,149.6 71.1,143.1 71.3,144.6 71.5,150.4 71.7,151.8 71.9,147.8 72.1,142.4 72.3,143.8 72.5,151.5 72.7,155.6 72.9,158.8 73.1,162.1 73.3,157.8 73.5,147.9 73.7,141.0 73.9,144.0 74.1,147.9 74.3,145.0 74.5,142.9 74.7,147.5 74.9,147.3 75.1,147.8 75.3,151.0 75.5,154.6 75.7,155.9 75.9,161.1 76.1,170.0 76.3,171.9 76.5,165.1 76.7,158.6 76.9,157.5 77.1,156.7 77.3,151.4 77.5,144.5 77.7,137.4 77.9,129.1 78.1,124.5 78.3,130.4 78.5,136.7 78.7,142.7 78.9,149.3 79.1,153.7 79.3,155.6 79.5,160.7 79.7,162.4 79.9,159.5 80.1,156.8 80.3,157.3 80.5,158.4 80.7,158.8 80.9,157.9 81.1,158.7 81.3,158.6 81.6,157.9 81.8,158.6 82.0,157.7 82.2,155.7 82.4,158.2 82.6,164.1 82.8,167.6 83.0,168.6 83.2,168.4 83.4,168.1 83.6,170.0 83.8,172.7 84.0,173.5 84.2,172.6 84.4,172.9 84.6,174.9 84.8,175.7 85.0,175.1 85.2,174.5 85.4,172.7 85.6,169.1 85.8,161.4 86.0,152.2 86.2,145.6 86.4,146.6 86.6,148.1 86.8,148.9 87.0,148.6 87.2,148.2 87.4,149.6 87.6,152.7 87.8,153.7 88.0,153.3 88.2,152.8 88.4,151.8 88.6,154.6 88.8,156.0 89.0,153.5 89.2,153.5 89.4,152.7 89.6,149.9 89.8,143.9 90.0,138.0 90.2,133.4 90.4,131.6 90.6,129.5 90.8,129.4 91.0,131.3 91.2,133.6 91.4,139.2 91.6,144.2 91.8,143.1 92.0,142.3 92.2,147.8 92.4,154.2 92.6,155.7 92.8,151.1 93.0,151.7 93.2,156.3 93.4,156.4 93.6,152.5 93.8,148.7 94.0,146.2 94.2,142.2 94.4,138.8 94.6,139.2 94.8,140.3 95.0,139.4 95.2,140.3 95.4,146.1 95.6,151.9 95.8,153.4 96.0,152.6 96.2,153.7 96.4,155.1 96.6,154.7 96.8,157.1 97.0,162.7 97.2,163.2 97.4,158.4 97.6,149.0 97.8,140.8 98.0,133.7 98.2,129.5 98.4,133.6 98.6,136.8 98.8,136.9 99.0,140.2 99.2,147.1 99.4,153.0 99.6,159.9 99.8,167.4 100.0,170.1 100.2,170.6 100.4,172.1 100.6,171.3 100.8,170.1 101.0,170.2 101.2,168.9 101.4,169.7 101.6,171.0 101.8,168.9 102.0,163.5 102.2,160.9 102.4,160.8 102.6,157.7 102.8,163.5 103.0,170.5 103.2,173.1 103.4,176.5 103.6,181.0 103.8,183.0 104.0,184.0 104.2,184.4 104.4,183.1 104.6,181.0 104.8,180.6 105.0,180.9 105.2,179.7 105.4,177.2 105.6,172.6 105.8,169.5 106.0,172.5 106.2,173.1 106.4,172.2 106.6,173.4 106.8,174.3 107.0,173.9 107.2,175.3 107.4,176.9 107.6,176.6 107.8,175.4 108.0,175.3 108.2,176.7 108.4,177.7 108.6,178.0 108.8,177.0 109.0,174.5 109.2,172.0 109.4,167.5 109.6,160.5 109.9,157.5 110.1,156.9 110.3,158.4 110.5,161.6 110.7,166.4 110.9,169.6 111.1,171.5 111.3,172.8 111.5,173.0 111.7,171.9 111.9,170.3 112.1,167.7 112.3,161.7 112.5,155.9 112.7,152.3 112.9,144.7 113.1,142.6 113.3,148.3 113.5,150.6 113.7,156.8 113.9,164.2 114.1,168.4 114.3,170.6 114.5,169.3 114.7,167.5 114.9,166.9 115.1,168.0 115.3,166.6 115.5,164.0 115.7,164.9 115.9,167.7 116.1,169.7 116.3,170.3 116.5,167.8 116.7,162.7 116.9,162.9 117.1,165.2 117.3,166.2 117.5,172.7 117.7,178.3 117.9,179.0 118.1,178.7 118.3,179.7 118.5,181.3 118.7,182.9 118.9,184.2 119.1,186.6 119.3,189.7 119.5,191.4 119.7,191.4 119.9,190.5 120.1,190.3 120.3,191.0 120.5,191.0 120.7,190.6 120.9,192.2 121.1,193.7 121.3,194.0 121.5,194.0 121.7,193.8 121.9,193.3 122.1,192.7 122.3,193.6 122.5,195.0 122.7,195.7 122.9,195.9 123.1,196.8 123.3,197.9 123.5,198.6 123.7,199.8 123.9,200.8 124.1,200.7 124.3,199.5 124.5,198.4 124.7,197.9 124.9,197.3 125.1,195.2 125.3,191.6 125.5,188.5 125.7,185.2 125.9,180.8 126.1,174.6 126.3,165.3 126.5,163.7 126.7,164.5 126.9,164.5 127.1,165.5 127.3,168.3 127.5,171.6 127.7,173.7 127.9,173.2 128.1,167.3 128.3,164.9 128.5,164.3 128.7,159.3 128.9,152.1 129.1,146.7 129.3,140.3 129.5,138.8 129.7,141.6 129.9,144.6 130.1,144.5 130.3,147.4 130.5,155.6 130.7,160.1 130.9,159.3 131.1,160.5 131.3,163.4 131.5,164.5 131.7,163.9 131.9,161.7 132.1,154.6 132.3,149.0 132.5,143.1 132.7,134.7 132.9,131.0 133.1,133.5 133.3,131.7 133.5,128.9 133.7,144.4 133.9,157.4 134.1,165.3 134.3,170.4 134.5,172.3 134.7,175.7 134.9,176.3 135.1,176.3 135.3,176.3 135.5,174.7 135.7,172.0 135.9,174.5 136.1,179.6 136.3,180.6 136.5,180.2 136.7,181.3 136.9,183.3 137.1,184.0 137.3,184.3 137.5,183.9 137.7,183.4 137.9,181.2 138.2,176.9 138.4,172.9 138.6,170.5 138.8,169.7 139.0,169.9 139.2,166.5 139.4,156.5 139.6,148.1 139.8,148.9 140.0,156.4 140.2,163.3 140.4,164.8 140.6,167.1 140.8,170.2 141.0,172.4 141.2,173.5 141.4,172.8 141.6,173.3 141.8,174.8 142.0,177.2 142.2,179.5 142.4,181.3 142.6,180.2 142.8,176.1 143.0,170.5 143.2,166.4 143.4,167.3 143.6,172.0 143.8,176.9 144.0,180.0 144.2,184.4 144.4,188.5 144.6,191.6 144.8,193.7 145.0,194.0 145.2,194.0 145.4,194.4 145.6,194.7 145.8,194.9 146.0,195.7 146.2,196.5 146.4,196.4 146.6,196.3 146.8,195.9 147.0,195.5 147.2,195.0 147.4,194.2 147.6,193.5 147.8,192.9 148.0,192.1 148.2,192.1 148.4,192.5 148.6,191.9 148.8,190.6 149.0,189.1 149.2,190.4 149.4,191.8 149.6,191.4 149.8,191.0 150.0,191.3 150.2,191.5 150.4,192.3 150.6,192.8 150.8,193.3 151.0,193.1 151.2,192.3 151.4,191.6 151.6,190.7 151.8,189.1 152.0,187.8 152.2,186.7 152.4,185.2 152.6,183.7 152.8,181.5 153.0,179.1 153.2,178.2 153.4,177.7 153.6,175.9 153.8,174.9 154.0,175.6 154.2,175.6 154.4,173.5 154.6,171.8 154.8,171.9 155.0,173.3 155.2,174.0 155.4,173.4 155.6,172.9 155.8,171.9 156.0,168.4 156.2,165.5 156.4,166.0 156.6,164.7 156.8,162.5 157.0,163.5 157.2,162.1 157.4,159.0 157.6,157.2 157.8,157.4 158.0,158.8 158.2,158.0 158.4,156.7 158.6,156.3 158.8,157.1 159.0,156.6 159.2,153.1 159.4,152.6 159.6,155.4 159.8,154.9 160.0,149.4 160.2,142.1 160.4,134.4 160.6,128.5 160.8,124.4 161.0,120.6 161.2,118.6 161.4,120.5 161.6,123.0 161.8,129.6 162.0,135.9 162.2,134.7 162.4,130.6 162.6,130.6 162.8,135.0 163.0,137.4 163.2,140.3 163.4,146.3 163.6,148.1 163.8,143.9 164.0,138.7 164.2,138.4 164.4,137.1 164.6,133.8 164.8,133.8 165.0,136.9 165.2,141.7 165.4,149.6 165.6,156.5 165.8,160.1 166.0,163.0 166.2,164.7 166.4,168.1 166.7,173.5 166.9,174.7 167.1,173.0 167.3,171.9 167.5,172.0 167.7,172.0 167.9,173.6 168.1,177.4 168.3,179.8 168.5,182.3 168.7,186.0 168.9,188.7 169.1,190.1 169.3,190.1 169.5,189.1 169.7,188.6 169.9,187.6 170.1,185.6 170.3,183.2 170.5,181.3 170.7,179.3 170.9,176.4 171.1,174.3 171.3,173.3 171.5,173.3 171.7,174.0 171.9,174.5 172.1,175.5 172.3,176.4 172.5,176.9 172.7,176.8 172.9,176.8 173.1,176.6 173.3,176.0 173.5,174.7 173.7,173.9 173.9,172.8 174.1,170.8 174.3,168.4 174.5,168.3 174.7,169.0 174.9,169.1 175.1,168.7 175.3,169.1 175.5,169.8 175.7,170.0 175.9,169.9 176.1,169.1 176.3,167.6 176.5,166.8 176.7,166.8 176.9,167.1 177.1,166.8 177.3,165.7 177.5,164.6 177.7,163.3 177.9,161.9 178.1,161.5 178.3,161.1 178.5,159.8 178.7,158.1 178.9,157.3 179.1,162.8 179.3,166.3 179.5,168.9 179.7,171.7 179.9,173.5 180.1,174.9 180.3,176.7 180.5,178.1 180.7,179.3 180.9,180.6 181.1,181.8 181.3,183.1 181.5,184.6 181.7,185.8 181.9,186.7 182.1,186.7 182.3,186.1 182.5,185.5 182.7,185.1 182.9,184.7 183.1,183.7 183.3,182.3 183.5,179.8 183.7,176.5 183.9,173.6 184.1,175.1 184.3,176.3 184.5,178.0 184.7,179.6 184.9,180.2 185.1,181.3 185.3,182.7 185.5,183.4 185.7,182.6 185.9,181.4 186.1,180.3 186.3,179.2 186.5,178.2 186.7,176.6 186.9,174.5 187.1,171.9 187.3,169.3 187.5,165.7 187.7,162.1 187.9,158.3 188.1,157.1 188.3,161.0 188.5,165.7 188.7,172.2 188.9,175.3 189.1,174.0 189.3,171.3 189.5,169.7 189.7,164.2 189.9,156.3 190.1,152.4 190.3,158.1 190.5,167.0 190.7,173.3 190.9,177.5 191.1,179.9 191.3,182.9 191.5,185.5 191.7,186.5 191.9,187.0 192.1,186.5 192.3,186.0 192.5,186.6 192.7,187.7 192.9,188.3 193.1,188.6 193.3,188.5 193.5,188.1 193.7,187.5 193.9,186.8 194.1,185.2 194.3,183.7 194.5,182.1 194.7,180.6 195.0,179.7 195.2,178.9 195.4,176.7 195.6,174.1 195.8,169.0 196.0,162.2 196.2,159.0 196.4,155.0 196.6,144.7 196.8,129.1 197.0,123.3 197.2,128.1 197.4,135.8 197.6,140.1 197.8,143.0 198.0,142.8 198.2,142.9 198.4,146.2 198.6,148.6 198.8,149.8 199.0,152.1 199.2,155.2 199.4,152.2 199.6,144.9 199.8,132.5 200.0,121.4 200.2,113.4 200.4,120.2 200.6,129.9 200.8,134.8 201.0,135.8 201.2,138.9 201.4,148.8 201.6,157.1 201.8,154.9 202.0,153.8 202.2,153.4 202.4,152.2 202.6,150.3 202.8,146.3 203.0,144.8 203.2,145.9 203.4,146.6 203.6,144.8 203.8,143.9 204.0,145.2 204.2,152.6 204.4,159.8 204.6,162.9 204.8,166.0 205.0,168.7 205.2,171.1 205.4,172.3 205.6,174.2 205.8,176.3 206.0,176.8 206.2,175.4 206.4,174.1 206.6,171.1 206.8,169.8 207.0,167.0 207.2,161.3 207.4,166.7 207.6,173.9 207.8,178.3 208.0,181.1 208.2,181.1 208.4,180.1 208.6,179.0 208.8,178.4 209.0,177.6 209.2,175.1 209.4,171.9 209.6,167.9 209.8,162.8 210.0,156.2 210.2,148.7 210.4,150.4 210.6,152.6 210.8,153.8 211.0,153.9 211.2,155.4 211.4,157.5 211.6,159.0 211.8,160.5 212.0,162.0 212.2,162.5 212.4,161.9 212.6,157.3 212.8,151.6 213.0,143.5 213.2,135.0 213.4,133.0 213.6,129.0 213.8,119.3 214.0,111.4 214.2,109.5 214.4,120.5 214.6,128.6 214.8,135.3 215.0,145.0 215.2,153.0 215.4,153.0 215.6,151.9 215.8,150.2 216.0,148.9 216.2,143.5 216.4,137.9 216.6,139.8 216.8,139.0 217.0,135.1 217.2,133.8 217.4,130.8 217.6,126.1 217.8,126.6 218.0,132.9 218.2,141.0 218.4,144.3 218.6,146.8 218.8,151.5 219.0,155.6 219.2,157.8 219.4,159.0 219.6,159.3 219.8,160.6 220.0,160.6 220.2,155.7 220.4,151.1 220.6,145.7 220.8,143.7 221.0,141.0 221.2,135.9 221.4,132.2 221.6,132.6 221.8,141.4 222.0,148.4 222.2,149.5 222.4,150.9 222.6,156.5 222.8,162.1 223.0,164.9 223.3,167.9 223.5,171.1 223.7,173.1 223.9,176.0 224.1,179.9 224.3,182.0 224.5,180.5 224.7,177.7 224.9,176.8 225.1,176.6 225.3,176.0 225.5,174.8 225.7,171.7 225.9,168.7 226.1,167.1 226.3,166.4 226.5,166.1 226.7,165.7 226.9,166.0 227.1,167.3 227.3,166.8 227.5,166.5 227.7,165.8 227.9,159.0 228.1,152.4 228.3,148.5 228.5,145.8 228.7,141.9 228.9,139.2 229.1,135.9 229.3,133.7 229.5,138.7 229.7,146.5 229.9,153.8 230.1,160.7 230.3,165.5 230.5,163.8 230.7,161.0 230.9,154.3 231.1,146.8 231.3,143.8 231.5,141.8 231.7,138.9 231.9,133.7 232.1,127.4 232.3,123.8 232.5,124.4 232.7,125.9 232.9,129.1 233.1,132.8 233.3,137.6 233.5,140.7 233.7,139.5 233.9,136.9 234.1,137.5 234.3,141.8 234.5,148.6 234.7,150.6 234.9,143.4 235.1,134.1 235.3,130.4 235.5,126.7 235.7,119.2 235.9,113.5 236.1,113.5 236.3,115.7 236.5,113.6 236.7,111.5 236.9,117.0 237.1,126.9 237.3,127.5 237.5,123.9 237.7,130.4 237.9,140.2 238.1,147.2 238.3,149.4 238.5,148.2 238.7,144.4 238.9,142.8 239.1,143.7 239.3,146.1 239.5,148.5 239.7,148.1 239.9,146.7 240.1,145.6 240.3,145.7 240.5,147.1 240.7,148.0 240.9,149.9 241.1,152.8 241.3,158.3 241.5,159.9 241.7,160.9 241.9,163.6 242.1,167.2 242.3,171.0 242.5,174.5 242.7,176.1 242.9,175.9 243.1,171.5 243.3,166.4 243.5,163.3 243.7,160.3 243.9,155.5 244.1,148.5 244.3,146.2 244.5,148.6 244.7,154.6 244.9,158.5 245.1,159.1 245.3,157.2 245.5,158.1 245.7,160.7 245.9,157.9 246.1,154.2 246.3,155.2 246.5,153.6 246.7,146.9 246.9,140.1 247.1,138.7 247.3,139.7 247.5,140.6 247.7,138.4 247.9,140.0 248.1,142.4 248.3,144.5 248.5,146.5 248.7,147.4 248.9,148.7 249.1,155.5 249.3,160.4 249.5,161.0 249.7,161.9 249.9,165.6 250.1,169.8 250.3,171.9 250.5,173.7 250.7,175.2 250.9,174.8 251.1,175.3 251.3,176.0 251.6,175.8 251.8,175.3 252.0,173.5 252.2,170.5 252.4,167.2 252.6,165.0 252.8,169.8 253.0,176.9 253.2,180.3 253.4,181.0 253.6,181.1 253.8,182.0 254.0,183.0 254.2,182.7 254.4,181.4 254.6,179.4 254.8,176.8 255.0,175.5 255.2,174.4 255.4,171.2 255.6,166.2 255.8,159.9 256.0,160.5 256.2,167.5 256.4,173.2 256.6,176.6 256.8,179.0 257.0,180.1 257.2,179.6 257.4,177.2 257.6,176.2 257.8,175.0 258.0,173.6 258.2,169.1 258.4,158.8 258.6,153.7 258.8,158.9 259.0,160.7 259.2,153.6 259.4,149.7 259.6,155.7 259.8,163.4 260.0,167.6 260.2,169.1 260.4,171.4 260.6,173.0 260.8,172.7 261.0,170.8 261.2,169.5 261.4,167.0 261.6,162.3 261.8,159.1 262.0,155.6 262.2,152.7 262.4,148.0 262.6,139.7 262.8,145.9 263.0,152.8 263.2,158.7 263.4,168.1 263.6,173.9 263.8,177.4 264.0,181.2 264.2,183.2 264.4,181.0 264.6,178.8 264.8,178.8 265.0,179.3 265.2,178.0 265.4,174.3 265.6,171.1 265.8,171.8 266.0,175.6 266.2,179.8 266.4,181.4 266.6,181.8 266.8,182.5 267.0,184.6 267.2,184.0 267.4,183.3 267.6,183.4 267.8,184.2 268.0,184.2 268.2,183.6 268.4,183.7 268.6,184.4 268.8,184.6 269.0,182.9 269.2,181.0 269.4,179.7 269.6,177.6 269.8,175.3 270.0,173.1 270.2,169.4 270.4,165.7 270.6,163.4 270.8,160.6 271.0,157.9 271.2,159.3 271.4,159.1 271.6,159.4 271.8,160.6 272.0,161.4 272.2,160.3 272.4,158.5 272.6,156.2 272.8,154.7 273.0,153.4 273.2,150.0 273.4,146.0 273.6,144.1 273.8,147.0 274.0,153.4 274.2,154.6 274.4,152.0 274.6,152.6 274.8,157.0 275.0,162.0 275.2,168.5 275.4,173.2 275.6,172.8 275.8,171.4 276.0,169.6 276.2,168.4 276.4,169.9 276.6,170.7 276.8,171.5 277.0,174.0 277.2,174.7 277.4,175.8 277.6,177.2 277.8,177.7 278.0,177.1 278.2,177.5 278.4,177.4 278.6,178.4 278.8,180.0 279.0,180.1 279.2,179.6 279.4,178.4 279.6,176.2 279.9,174.4 280.1,172.0 280.3,170.1 280.5,170.2 280.7,170.1 280.9,167.9 281.1,164.4 281.3,163.4 281.5,166.8 281.7,169.1 281.9,169.9 282.1,170.5 282.3,170.4 282.5,169.8 282.7,168.8 282.9,168.3 283.1,169.2 283.3,169.3 283.5,167.3 283.7,164.4 283.9,161.0 284.1,156.6 284.3,148.8 284.5,138.3 284.7,132.2 284.9,129.7 285.1,134.2 285.3,139.1 285.5,139.5 285.7,139.2 285.9,142.1 286.1,143.9 286.3,143.0 286.5,137.5 286.7,136.4 286.9,137.5 287.1,141.1 287.3,146.1 287.5,147.6 287.7,145.9 287.9,147.1 288.1,150.1 288.3,151.0 288.5,153.3 288.7,157.9 288.9,162.4 289.1,165.7 289.3,169.4 289.5,171.0 289.7,173.8 289.9,176.7 290.1,177.7 290.3,177.0 290.5,177.7 290.7,180.7 290.9,183.6 291.1,183.3 291.3,180.4 291.5,175.7 291.7,169.9 291.9,164.9 292.1,162.3 292.3,161.1 292.5,158.7 292.7,154.5 292.9,150.7 293.1,149.7 293.3,154.7 293.5,159.6 293.7,161.4 293.9,164.3 294.1,164.5 294.3,162.2 294.5,164.1 294.7,168.0 294.9,171.0 295.1,173.2 295.3,172.3 295.5,169.2 295.7,165.3 295.9,161.9 296.1,160.5 296.3,158.5 296.5,157.8 296.7,158.8 296.9,158.9 297.1,156.9 297.3,150.8 297.5,153.0 297.7,160.5 297.9,165.3 298.1,167.3 298.3,172.1 298.5,176.6 298.7,175.8 298.9,175.0 299.1,175.1 299.3,174.4 299.5,173.7 299.7,174.1 299.9,173.8 300.1,172.2 300.3,171.8 300.5,172.6 300.7,174.6 300.9,176.6 301.1,178.3 301.3,180.5 301.5,181.7 301.7,178.6 301.9,174.7 302.1,173.1 302.3,171.1 302.5,168.5 302.7,164.0 302.9,162.2 303.1,167.4 303.3,173.0 303.5,175.3 303.7,176.8 303.9,178.6 304.1,179.0 304.3,177.5 304.5,176.2 304.7,177.3 304.9,178.2 305.1,178.3 305.3,178.0 305.5,176.6 305.7,175.1 305.9,174.9 306.1,176.1 306.3,175.5 306.5,172.6 306.7,171.1 306.9,174.3 307.1,179.6 307.3,182.7 307.5,183.9 307.7,184.8 307.9,186.6 308.2,187.3 308.4,186.4 308.6,185.3 308.8,184.1 309.0,182.5 309.2,181.4 309.4,179.9 309.6,176.3 309.8,173.5 310.0,173.3 310.2,171.9 310.4,168.3 310.6,165.5 310.8,163.3 311.0,161.8 311.2,163.2 311.4,161.8 311.6,161.7 311.8,163.1 312.0,163.3 312.2,164.0 312.4,163.9 312.6,165.5 312.8,167.2 313.0,167.5 313.2,167.2 313.4,167.2 313.6,168.6 313.8,169.8 314.0,168.2 314.2,165.5 314.4,164.6 314.6,164.8 314.8,165.1 315.0,166.0 315.2,165.2 315.4,165.7 315.6,169.2 315.8,171.0 316.0,171.5 316.2,172.8 316.4,174.0 316.6,174.0 316.8,174.8 317.0,177.2 317.2,178.4 317.4,178.9 317.6,178.2 317.8,177.3 318.0,175.9 318.2,175.9 318.4,175.7 318.6,173.9 318.8,170.8 319.0,170.9 319.2,172.3 319.4,172.8 319.6,172.9 319.8,173.5 320.0,173.9 320.2,173.9 320.4,173.2 320.6,170.8 320.8,169.3 321.0,169.4 321.2,169.1 321.4,167.5 321.6,164.5 321.8,162.5 322.0,160.7 322.2,158.5 322.4,155.7 322.6,154.2 322.8,150.1 323.0,147.9 323.2,148.5 323.4,148.5 323.6,147.9 323.8,147.6 324.0,146.7 324.2,147.0 324.4,150.0 324.6,154.5 324.8,156.2 325.0,156.0 325.2,158.6 325.4,159.9 325.6,156.7 325.8,155.2 326.0,154.0 326.2,152.5 326.4,151.2 326.6,151.9 326.8,155.3 327.0,158.1 327.2,157.8 327.4,157.3 327.6,157.3 327.8,157.3 328.0,159.1 328.2,165.2 328.4,168.5 328.6,168.6 328.8,168.8 329.0,170.9 329.2,173.6 329.4,175.8 329.6,177.3 329.8,178.2 330.0,178.7 330.2,176.7 330.4,174.4 330.6,172.1 330.8,167.3 331.0,160.3 331.2,152.3 331.4,149.8 331.6,154.5 331.8,161.4 332.0,165.0 332.2,163.9 332.4,163.3 332.6,163.8 332.8,162.5 333.0,163.1 333.2,165.9 333.4,168.5 333.6,170.4 333.8,170.4 334.0,168.9 334.2,169.0 334.4,168.8 334.6,168.0 334.8,167.4 335.0,164.8 335.2,161.4 335.4,162.7 335.6,165.4 335.8,164.4 336.0,161.4 336.2,160.4 336.5,163.8 336.7,169.1 336.9,174.1 337.1,176.8 337.3,178.1 337.5,179.4 337.7,179.0 337.9,177.9 338.1,178.8 338.3,181.1 338.5,182.5 338.7,184.5 338.9,186.2 339.1,186.8 339.3,187.6 339.5,189.9 339.7,192.1 339.9,193.6 340.1,195.2 340.3,196.9 340.5,199.2 340.7,201.3 340.9,203.1 341.1,203.7 341.3,202.5 341.5,201.2 341.7,200.1 341.9,199.4 342.1,198.7 342.3,197.7 342.5,196.7 342.7,195.2 342.9,193.0 343.1,189.4 343.3,186.2 343.5,182.8 343.7,178.4 343.9,173.5 344.1,167.2 344.3,165.0 344.5,166.8 344.7,166.6 344.9,166.0 345.1,164.7 345.3,165.3 345.5,168.9 345.7,172.0 345.9,172.8 346.1,173.0 346.3,173.6 346.5,172.5 346.7,169.7 346.9,168.3 347.1,165.7 347.3,160.6 347.5,156.9 347.7,156.1 347.9,152.7 348.1,149.8 348.3,149.2 348.5,146.7 348.7,141.9 348.9,139.2 349.1,144.6 349.3,151.0 349.5,157.7 349.7,165.8 349.9,170.9 350.1,173.7 350.3,177.1 350.5,179.1 350.7,178.8 350.9,179.2 351.1,181.5 351.3,184.2 351.5,185.7 351.7,186.5 351.9,187.4 352.1,188.1 352.3,189.2 352.5,189.7 352.7,188.8 352.9,187.1 353.1,185.0 353.3,185.2 353.5,186.7 353.7,188.8 353.9,190.4 354.1,191.2 354.3,191.2 354.5,191.1 354.7,192.0 354.9,193.3 355.1,194.3 355.3,194.9 355.5,195.3 355.7,195.2 355.9,194.9 356.1,193.5 356.3,191.3 356.5,188.2 356.7,186.5 356.9,185.8 357.1,187.3 357.3,190.0 357.5,191.4 357.7,191.9 357.9,192.3 358.1,192.3 358.3,192.0 358.5,192.0 358.7,191.4 358.9,190.7 359.1,190.8 359.3,190.8 359.5,189.4 359.7,187.6 359.9,186.7 360.1,185.5 360.3,182.6 360.5,177.8 360.7,173.2 360.9,172.4 361.1,170.8 361.3,163.7 361.5,155.3 361.7,150.3 361.9,143.9 362.1,139.1 362.3,138.4 362.5,141.1 362.7,145.6 362.9,150.2 363.1,152.3 363.3,150.8 363.5,149.0 363.7,150.5 363.9,151.7 364.1,152.9 364.3,153.4 364.5,150.4 364.8,146.2 365.0,139.0 365.2,130.8 365.4,122.6 365.6,115.9 365.8,114.5 366.0,118.3 366.2,122.5 366.4,120.6 366.6,119.1 366.8,124.4 367.0,133.8 367.2,141.3 367.4,151.2 367.6,157.8 367.8,159.6 368.0,162.0 368.2,165.0 368.4,167.7 368.6,170.0 368.8,171.5 369.0,170.8 369.2,168.3 369.4,164.7 369.6,157.2 369.8,147.5 370.0,142.5 370.2,140.7 370.4,144.6 370.6,151.1 370.8,159.1 371.0,165.6 371.2,168.8 371.4,172.2 371.6,176.2 371.8,178.3 372.0,180.1 372.2,182.3 372.4,184.8 372.6,186.9 372.8,188.3 373.0,189.3 373.2,190.4 373.4,191.0 373.6,191.4 373.8,193.1 374.0,195.5 374.2,195.6 374.4,195.7 374.6,195.5 374.8,194.3 375.0,192.2 375.2,189.1 375.4,184.8 375.6,181.2 375.8,177.3 376.0,171.9 376.2,170.9 376.4,171.1 376.6,169.2 376.8,165.1 377.0,165.1 377.2,167.8 377.4,170.4 377.6,173.8 377.8,175.5 378.0,175.6 378.2,177.1 378.4,178.1 378.6,179.1 378.8,180.8 379.0,181.5 379.2,180.6 379.4,179.1 379.6,178.5 379.8,178.5 380.0,179.3 380.2,180.7 380.4,180.3 380.6,178.8 380.8,180.8 381.0,184.4 381.2,184.8 381.4,184.1 381.6,185.0 381.8,187.9 382.0,190.8 382.2,191.6 382.4,193.6 382.6,193.5 382.8,190.7 383.0,187.9 383.2,188.5 383.4,189.0 383.6,186.6 383.8,183.6 384.0,181.6 384.2,179.4 384.4,178.0 384.6,177.0 384.8,174.6 385.0,172.6 385.2,170.4 385.4,167.2 385.6,164.2 385.8,159.7 386.0,162.8 386.2,171.1 386.4,175.7 386.6,181.9 386.8,187.9 387.0,191.7 387.2,194.5 387.4,196.0 387.6,197.1 387.8,196.6 388.0,197.1 388.2,199.6 388.4,201.2 388.6,201.5 388.8,202.2 389.0,203.2 389.2,202.0 389.4,200.6 389.6,200.3 389.8,199.3 390.0,196.9 390.2,197.3 390.4,198.9 390.6,199.6 390.8,199.6 391.0,199.6 391.2,200.8 391.4,202.0 391.6,201.9 391.8,201.5 392.0,201.8 392.2,202.5 392.4,203.1 392.6,202.8 392.8,201.4 393.1,199.0 393.3,197.4 393.5,195.2 393.7,190.8 393.9,186.9 394.1,187.1 394.3,191.0 394.5,193.7 394.7,195.1 394.9,196.2 395.1,197.2 395.3,197.9 395.5,198.1 395.7,198.1 395.9,197.4 396.1,196.6 396.3,195.4 396.5,193.9 396.7,192.0 396.9,188.1 397.1,186.0 397.3,187.8 397.5,188.5 397.7,189.6 397.9,191.7 398.1,194.2 398.3,196.3 398.5,197.8 398.7,199.0 398.9,200.4 399.1,201.5 399.3,201.5 399.5,201.8 399.7,201.7 399.9,201.0 400.1,200.2 400.3,200.0 400.5,198.9 400.7,196.8 400.9,195.6 401.1,197.8 401.3,198.0 401.5,197.5 401.7,198.0 401.9,198.7 402.1,197.7 402.3,194.9 402.5,191.8 402.7,189.4 402.9,186.6 403.1,182.2 403.3,176.2 403.5,172.3 403.7,172.8 403.9,170.7 404.1,166.9 404.3,164.5 404.5,162.7 404.7,163.7 404.9,163.4 405.1,160.8 405.3,160.4 405.5,163.1 405.7,166.4 405.9,166.4 406.1,164.9 406.3,158.0 406.5,146.2 406.7,130.3 406.9,116.3 407.1,109.3 407.3,109.4 407.5,113.9 407.7,117.6 407.9,122.9 408.1,128.4 408.3,133.4 408.5,138.0 408.7,147.5 408.9,154.4 409.1,153.3 409.3,150.0 409.5,151.7 409.7,154.5 409.9,149.7 410.1,138.9 410.3,133.1 410.5,131.6 410.7,130.5 410.9,126.1 411.1,126.1 411.3,133.1 411.5,146.3 411.7,154.5 411.9,154.9 412.1,157.5 412.3,158.5 412.5,156.7 412.7,152.6 412.9,149.5 413.1,144.2 413.3,140.6 413.5,144.0 413.7,152.0 413.9,157.3 414.1,161.8 414.3,167.9 414.5,173.0 414.7,177.2 414.9,183.9 415.1,190.4 415.3,193.8 415.5,195.5 415.7,197.9 415.9,200.3 416.1,201.6 416.3,201.3 416.5,201.5 416.7,201.8 416.9,202.1 417.1,202.4 417.3,202.2 417.5,199.5 417.7,195.2 417.9,193.0 418.1,192.8 418.3,192.6 418.5,193.7 418.7,193.2 418.9,191.7 419.1,190.4 419.3,191.4 419.5,193.3 419.7,194.0 419.9,195.2 420.1,196.1 420.3,195.2 420.5,192.6 420.7,189.2 420.9,183.4 421.1,178.0 421.3,176.1 421.6,175.4 421.8,172.1 422.0,166.0 422.2,161.8 422.4,160.0 422.6,156.4 422.8,152.3 423.0,153.1 423.2,159.2 423.4,159.6 423.6,156.2 423.8,154.9 424.0,157.8 424.2,163.5 424.4,166.9 424.6,168.1 424.8,171.4 425.0,175.4 425.2,178.9 425.4,180.2 425.6,177.5 425.8,174.2 426.0,175.4 426.2,176.1 426.4,178.7 426.6,179.8 426.8,176.3 427.0,174.5 427.2,175.5 427.4,175.1 427.6,176.5 427.8,179.5 428.0,184.9 428.2,187.5 428.4,187.9 428.6,191.0 428.8,195.6 429.0,198.1 429.2,199.9 429.4,202.7 429.6,205.0 429.8,207.3 430.0,208.5 430.2,206.8 430.4,205.1 430.6,204.0 430.8,203.2 431.0,202.7 431.2,202.5 431.4,201.5 431.6,199.0 431.8,196.2 432.0,195.5 432.2,195.7 432.4,196.5 432.6,197.7 432.8,197.8 433.0,197.0 433.2,196.4 433.4,197.1 433.6,197.6 433.8,196.2 434.0,194.1 434.2,195.0 434.4,197.5 434.6,198.9 434.8,198.8 435.0,196.6 435.2,194.8 435.4,194.5 435.6,194.1 435.8,191.0 436.0,186.5 436.2,182.3 436.4,177.0 436.6,173.3 436.8,179.8 437.0,184.8 437.2,188.8 437.4,192.6 437.6,194.9 437.8,196.6 438.0,197.8 438.2,198.4 438.4,198.9 438.6,198.6 438.8,198.1 439.0,197.1 439.2,195.9 439.4,195.1 439.6,193.7 439.8,192.2 440.0,191.5 440.2,189.0 440.4,183.7 440.6,180.3 440.8,180.0 441.0,178.9 441.2,176.2 441.4,174.8 441.6,173.4 441.8,174.1 442.0,175.0 442.2,175.2 442.4,175.4 442.6,174.6 442.8,174.0 443.0,176.0 443.2,180.0 443.4,182.4 443.6,183.0 443.8,182.5 444.0,181.2 444.2,179.6 444.4,179.6 444.6,179.2 444.8,180.8 445.0,181.4 445.2,177.0 445.4,172.0 445.6,171.7 445.8,173.9 446.0,176.3 446.2,178.3 446.4,175.5 446.6,169.3 446.8,168.4 447.0,174.8 447.2,179.7 447.4,183.5 447.6,186.9 447.8,189.6 448.0,192.1 448.2,194.7 448.4,197.9 448.6,199.2 448.8,199.4 449.0,198.1 449.2,196.8 449.4,197.1 449.6,197.6 449.9,197.1 450.1,196.1 450.3,195.2 450.5,193.9 450.7,191.4 450.9,187.2 451.1,183.2 451.3,181.4 451.5,183.3 451.7,184.4 451.9,183.2 452.1,183.7 452.3,186.8 452.5,188.2 452.7,189.1 452.9,191.5 453.1,194.3 453.3,196.3 453.5,194.7 453.7,192.3 453.9,189.8 454.1,186.8 454.3,181.4 454.5,175.4 454.7,171.6 454.9,172.3 455.1,171.8 455.3,169.7 455.5,173.8 455.7,178.8 455.9,180.4 456.1,182.3 456.3,184.9 456.5,185.7 456.7,184.3 456.9,184.2 457.1,185.0 457.3,184.2 457.5,181.8 457.7,180.2 457.9,178.6 458.1,175.4 458.3,171.2 458.5,164.2 458.7,158.3 458.9,155.2 459.1,157.9 459.3,162.6 459.5,166.0 459.7,171.3 459.9,177.7 460.1,180.6 460.3,181.2 460.5,182.1 460.7,183.6 460.9,186.2 461.1,187.8 461.3,187.0 461.5,186.3 461.7,185.8 461.9,184.3 462.1,181.4 462.3,178.5 462.5,178.7 462.7,178.0 462.9,171.2 463.1,163.2 463.3,160.1 463.5,156.9 463.7,152.0 463.9,151.6 464.1,156.2 464.3,159.4 464.5,157.8 464.7,154.9 464.9,153.5 465.1,157.3 465.3,166.0 465.5,173.5 465.7,175.9 465.9,176.9 466.1,178.0 466.3,176.1 466.5,169.7 466.7,166.5 466.9,163.6 467.1,156.9 467.3,149.5 467.5,142.4 467.7,140.8 467.9,151.2 468.1,157.4 468.3,158.3 468.5,163.1 468.7,171.0 468.9,172.3 469.1,167.7 469.3,163.3 469.5,160.9 469.7,159.3 469.9,158.0 470.1,156.8 470.3,154.4 470.5,158.6 470.7,161.4 470.9,166.5 471.1,172.8 471.3,176.9 471.5,180.3 471.7,183.5 471.9,185.2 472.1,186.5 472.3,186.8 472.5,185.6 472.7,184.8 472.9,182.9 473.1,181.1 473.3,181.9 473.5,182.7 473.7,180.8 473.9,177.2 474.1,174.8 474.3,173.6 474.5,171.7 474.7,168.3 474.9,165.3 475.1,167.6 475.3,171.8 475.5,175.0 475.7,177.6 475.9,176.8 476.1,177.9 476.3,183.8 476.5,188.2 476.7,188.9 476.9,188.7 477.1,190.3 477.3,191.8 477.5,191.1 477.7,189.5 477.9,189.4 478.2,191.0 478.4,191.6 478.6,191.2 478.8,191.7 479.0,192.9 479.2,193.7 479.4,194.0 479.6,192.9 479.8,190.4 480.0,191.7 480.2,194.6 480.4,195.6 480.6,195.3 480.8,197.1 481.0,200.3 481.2,203.3 481.4,205.6 481.6,206.7 481.8,207.1 482.0,207.1 482.2,206.3 482.4,205.6 482.6,205.0 482.8,204.1 483.0,203.1 483.2,202.2 483.4,200.5 483.6,199.1 483.8,198.7 484.0,197.9 484.2,196.6 484.4,195.7 484.6,195.3 484.8,195.3 485.0,194.6 485.2,194.1 485.4,194.5 485.6,194.4 485.8,193.9 486.0,193.0 486.2,191.6 486.4,190.2 486.6,189.0 486.8,187.8 487.0,185.6 487.2,183.3 487.4,179.4 487.6,173.6 487.8,175.2 488.0,181.0 488.2,185.2 488.4,186.8 488.6,186.4 488.8,187.0 489.0,189.8 489.2,193.0 489.4,195.5 489.6,197.0 489.8,198.2 490.0,199.6 490.2,199.1 490.4,196.6 490.6,192.9 490.8,191.2 491.0,190.7 491.2,190.5 491.4,193.9 491.6,197.7 491.8,201.0 492.0,203.8 492.2,206.7 492.4,208.3 492.6,209.0 492.8,209.1 493.0,209.1 493.2,208.2 493.4,206.3 493.6,203.0 493.8,201.2 494.0,201.2 494.2,201.4 494.4,200.9 494.6,199.4 494.8,198.4 495.0,197.6 495.2,197.1 495.4,196.3 495.6,196.1 495.8,197.0 496.0,198.1 496.2,198.4 496.4,196.6 496.6,194.8 496.8,193.1 497.0,190.1 497.2,188.4 497.4,187.0 497.6,186.2 497.8,186.7 498.0,185.3 498.2,183.3 498.4,182.6 498.6,183.2 498.8,183.6 499.0,183.5 499.2,183.8 499.4,185.1 499.6,187.2 499.8,189.2 500.0,190.3 500.2,190.4 500.4,190.4 500.6,190.8 500.8,191.0 501.0,190.5 501.2,190.3 501.4,191.3 501.6,192.2 501.8,192.0 502.0,190.4 502.2,186.6 502.4,182.8 502.6,180.7 502.8,179.7 503.0,176.8 503.2,173.0 503.4,170.7 503.6,165.9 503.8,160.1 504.0,158.4 504.2,159.3 504.4,161.6 504.6,164.1 504.8,164.9 505.0,165.9 505.2,166.2 505.4,165.7 505.6,163.6 505.8,159.7 506.0,154.4 506.2,147.5 506.5,139.9 506.7,135.2 506.9,138.5 507.1,137.3 507.3,137.9 507.5,146.9 507.7,156.3 507.9,160.5 508.1,162.6 508.3,166.8 508.5,170.1 508.7,170.7 508.9,173.2 509.1,174.9 509.3,173.9 509.5,172.3 509.7,171.9 509.9,172.6 510.1,173.9 510.3,176.1 510.5,178.2 510.7,180.0 510.9,183.5 511.1,187.1 511.3,190.3 511.5,191.2 511.7,193.1 511.9,196.1 512.1,198.2 512.3,199.3 512.5,200.3 512.7,200.1 512.9,199.5 513.1,200.2 513.3,202.1 513.5,202.7 513.7,203.3 513.9,202.9 514.1,201.3 514.3,199.0 514.5,199.4 514.7,200.9 514.9,199.1 515.1,195.6 515.3,193.1 515.5,192.2 515.7,192.3 515.9,193.5 516.1,195.4 516.3,197.6 516.5,198.5 516.7,198.1 516.9,197.6 517.1,197.8 517.3,196.0 517.5,192.8 517.7,189.9 517.9,188.3 518.1,186.5 518.3,182.0 518.5,177.4 518.7,173.1 518.9,174.3 519.1,177.0 519.3,178.0 519.5,176.8 519.7,177.3 519.9,181.3 520.1,184.5 520.3,184.5 520.5,181.8"/>
<polyline fill="none" stroke="#7f7f7f" stroke-width="0.65" stroke-linejoin="round" stroke-dasharray="1.1,0.55" points="39.0,151.9 39.2,151.2 39.4,150.0 39.6,147.6 39.8,145.3 40.0,148.8 40.2,152.0 40.4,151.5 40.6,150.0 40.8,151.1 41.0,151.8 41.2,150.2 41.4,149.9 41.6,152.6 41.8,157.2 42.0,159.6 42.2,160.2 42.4,159.6 42.6,157.0 42.8,157.5 43.0,156.8 43.2,152.9 43.4,150.1 43.6,148.9 43.8,145.3 44.0,138.6 44.2,137.5 44.4,139.2 44.6,140.3 44.8,143.8 45.0,149.1 45.2,152.7 45.4,153.2 45.6,151.4 45.8,153.4 46.0,158.7 46.2,159.4 46.4,158.9 46.6,163.2 46.8,166.1 47.0,165.3 47.2,162.6 47.4,157.5 47.6,150.7 47.8,148.7 48.0,151.4 48.2,152.4 48.4,151.3 48.6,147.6 48.8,142.9 49.0,140.2 49.2,139.8 49.4,139.8 49.6,138.8 49.8,138.2 50.0,139.1 50.2,143.8 50.4,151.0 50.6,158.4 50.8,164.1 51.0,167.5 51.2,166.4 51.4,164.4 51.6,162.7 51.8,158.3 52.0,152.8 52.2,151.0 52.4,151.3 52.6,148.5 52.8,143.9 53.0,140.0 53.3,135.5 53.5,130.8 53.7,128.4 53.9,126.3 54.1,127.3 54.3,128.3 54.5,130.9 54.7,134.8 54.9,138.9 55.1,141.8 55.3,143.1 55.5,147.8 55.7,154.2 55.9,153.4 56.1,150.5 56.3,146.4 56.5,143.9 56.7,146.9 56.9,150.8 57.1,148.4 57.3,144.4 57.5,142.7 57.7,139.8 57.9,136.6 58.1,140.6 58.3,149.9 58.5,157.0 58.7,159.8 58.9,162.7 59.1,166.9 59.3,168.3 59.5,164.1 59.7,160.3 59.9,161.2 60.1,161.1 60.3,158.5 60.5,154.9 60.7,150.5 60.9,147.9 61.1,143.6 61.3,137.4 61.5,138.4 61.7,140.3 61.9,134.4 62.1,133.7 62.3,135.2 62.5,135.9 62.7,139.5 62.9,145.1 63.1,147.3 63.3,144.9 63.5,144.3 63.7,147.1 63.9,148.5 64.1,153.1 64.3,157.7 64.5,159.0 64.7,159.3 64.9,154.9 65.1,148.3 65.3,142.6 65.5,138.2 65.7,133.1 65.9,126.3 66.1,120.0 66.3,116.7 66.5,112.4 66.7,109.0 66.9,111.3 67.1,116.5 67.3,117.8 67.5,117.9 67.7,117.5 67.9,119.5 68.1,128.4 68.3,136.2 68.5,138.6 68.7,138.5 68.9,132.8 69.1,130.8 69.3,129.4 69.5,127.5 69.7,124.0 69.9,120.9 70.1,122.2 70.3,130.7 70.5,135.2 70.7,138.0 70.9,142.0 71.1,143.5 71.3,145.4 71.5,150.5 71.7,157.0 71.9,162.8 72.1,165.8 72.3,165.7 72.5,164.6 72.7,164.6 72.9,162.1 73.1,157.9 73.3,153.3 73.5,151.8 73.7,151.7 73.9,150.6 74.1,150.5 74.3,153.3 74.5,156.7 74.7,159.2 74.9,158.0 75.1,155.1 75.3,155.9 75.5,159.5 75.7,162.0 75.9,163.2 76.1,165.6 76.3,167.1 76.5,167.6 76.7,166.9 76.9,163.0 77.1,159.8 77.3,157.4 77.5,153.9 77.7,149.8 77.9,145.0 78.1,142.3 78.3,140.8 78.5,137.3 78.7,140.2 78.9,146.1 79.1,148.8 79.3,152.1 79.5,155.4 79.7,156.4 79.9,158.7 80.1,161.0 80.3,160.9 80.5,156.8 80.7,153.9 80.9,149.1 81.1,143.1 81.3,139.1 81.6,138.9 81.8,137.6 82.0,136.7 82.2,137.8 82.4,141.6 82.6,148.4 82.8,153.9 83.0,157.2 83.2,160.9 83.4,164.1 83.6,164.9 83.8,165.8 84.0,169.6 84.2,172.7 84.4,173.8 84.6,172.6 84.8,171.1 85.0,170.9 85.2,170.6 85.4,169.6 85.6,169.5 85.8,168.7 86.0,166.7 86.2,165.2 86.4,162.7 86.6,157.9 86.8,152.9 87.0,152.0 87.2,156.1 87.4,157.8 87.6,156.7 87.8,153.1 88.0,149.1 88.2,147.8 88.4,151.5 88.6,153.2 88.8,150.2 89.0,147.1 89.2,145.9 89.4,146.3 89.6,145.6 89.8,144.5 90.0,143.3 90.2,140.6 90.4,138.6 90.6,136.2 90.8,135.7 91.0,139.2 91.2,139.4 91.4,137.2 91.6,138.3 91.8,141.9 92.0,143.9 92.2,144.7 92.4,146.0 92.6,149.3 92.8,151.9 93.0,151.4 93.2,147.9 93.4,144.3 93.6,142.1 93.8,139.3 94.0,135.4 94.2,130.6 94.4,128.0 94.6,130.5 94.8,131.9 95.0,127.8 95.2,123.5 95.4,127.8 95.6,137.3 95.8,146.0 96.0,148.7 96.2,146.7 96.4,144.5 96.6,144.5 96.8,143.8 97.0,143.6 97.2,146.3 97.4,151.9 97.6,155.5 97.8,153.6 98.0,151.2 98.2,152.0 98.4,148.6 98.6,141.7 98.8,138.3 99.0,137.9 99.2,139.2 99.4,145.2 99.6,151.7 99.8,156.0 100.0,160.4 100.2,161.8 100.4,158.0 100.6,152.3 100.8,149.1 101.0,146.6 101.2,145.5 101.4,144.6 101.6,141.6 101.8,139.2 102.0,139.5 102.2,138.2 102.4,135.3 102.6,136.0 102.8,136.6 103.0,141.6 103.2,150.3 103.4,158.2 103.6,161.6 103.8,163.2 104.0,163.7 104.2,163.2 104.4,165.4 104.6,168.2 104.8,169.2 105.0,166.5 105.2,161.7 105.4,159.1 105.6,160.1 105.8,159.8 106.0,157.9 106.2,157.0 106.4,155.5 106.6,153.7 106.8,150.9 107.0,144.3 107.2,139.5 107.4,138.2 107.6,139.6 107.8,140.7 108.0,142.6 108.2,151.1 108.4,158.3 108.6,159.1 108.8,161.6 109.0,164.2 109.2,163.6 109.4,162.4 109.6,161.0 109.9,159.0 110.1,158.3 110.3,157.1 110.5,153.6 110.7,153.1 110.9,156.0 111.1,157.3 111.3,156.0 111.5,154.0 111.7,151.5 111.9,149.4 112.1,152.0 112.3,157.5 112.5,159.0 112.7,159.1 112.9,160.9 113.1,164.4 113.3,165.5 113.5,166.1 113.7,168.4 113.9,169.0 114.1,168.0 114.3,166.4 114.5,165.6 114.7,164.8 114.9,165.8 115.1,168.5 115.3,167.3 115.5,162.8 115.7,157.9 115.9,155.5 116.1,155.9 116.3,154.6 116.5,153.4 116.7,156.7 116.9,161.9 117.1,162.3 117.3,157.5 117.5,154.2 117.7,157.2 117.9,160.9 118.1,162.9 118.3,164.3 118.5,167.0 118.7,170.0 118.9,171.1 119.1,172.5 119.3,170.5 119.5,167.5 119.7,166.2 119.9,165.9 120.1,167.3 120.3,168.7 120.5,169.0 120.7,171.6 120.9,175.0 121.1,177.9 121.3,179.9 121.5,181.3 121.7,182.7 121.9,185.8 122.1,189.2 122.3,189.7 122.5,187.2 122.7,185.1 122.9,183.7 123.1,181.0 123.3,178.9 123.5,178.6 123.7,179.4 123.9,180.2 124.1,179.0 124.3,177.3 124.5,177.3 124.7,179.4 124.9,181.0 125.1,179.1 125.3,177.3 125.5,176.3 125.7,176.8 125.9,179.1 126.1,180.9 126.3,181.1 126.5,177.8 126.7,171.8 126.9,165.4 127.1,161.9 127.3,159.2 127.5,153.9 127.7,148.2 127.9,144.6 128.1,144.5 128.3,142.1 128.5,142.0 128.7,144.0 128.9,145.4 129.1,147.8 129.3,152.8 129.5,155.4 129.7,158.4 129.9,159.5 130.1,157.9 130.3,160.1 130.5,166.5 130.7,169.5 130.9,167.6 131.1,163.3 131.3,159.9 131.5,159.3 131.7,155.0 131.9,145.8 132.1,141.2 132.3,143.1 132.5,143.3 132.7,139.5 132.9,134.9 133.1,129.6 133.3,124.8 133.5,125.1 133.7,128.7 133.9,136.7 134.1,144.4 134.3,149.6 134.5,151.8 134.7,154.9 134.9,161.1 135.1,169.5 135.3,175.9 135.5,179.2 135.7,182.0 135.9,183.9 136.1,184.3 136.3,184.7 136.5,182.8 136.7,178.8 136.9,174.9 137.1,173.4 137.3,174.0 137.5,171.5 137.7,166.5 137.9,164.9 138.2,165.4 138.4,161.9 138.6,157.1 138.8,155.1 139.0,156.9 139.2,156.3 139.4,156.9 139.6,160.2 139.8,161.1 140.0,161.6 140.2,165.9 140.4,166.5 140.6,164.7 140.8,162.8 141.0,158.0 141.2,156.2 141.4,155.4 141.6,151.3 141.8,145.8 142.0,143.9 142.2,146.0 142.4,147.8 142.6,147.7 142.8,147.7 143.0,145.5 143.2,143.2 143.4,145.4 143.6,149.1 143.8,156.3 144.0,165.7 144.2,172.9 144.4,176.9 144.6,180.2 144.8,182.8 145.0,182.9 145.2,183.9 145.4,187.6 145.6,190.9 145.8,188.6 146.0,183.6 146.2,181.2 146.4,179.6 146.6,177.0 146.8,174.3 147.0,175.2 147.2,176.9 147.4,178.9 147.6,180.8 147.8,184.0 148.0,188.9 148.2,192.1 148.4,193.1 148.6,193.8 148.8,195.0 149.0,195.6 149.2,195.2 149.4,194.2 149.6,192.5 149.8,190.5 150.0,188.9 150.2,187.8 150.4,188.0 150.6,187.8 150.8,187.9 151.0,187.6 151.2,187.8 151.4,188.4 151.6,187.8 151.8,187.4 152.0,187.7 152.2,187.3 152.4,186.4 152.6,185.5 152.8,184.3 153.0,181.8 153.2,178.0 153.4,173.6 153.6,170.3 153.8,166.7 154.0,165.5 154.2,166.3 154.4,165.9 154.6,166.8 154.8,165.5 155.0,161.3 155.2,159.5 155.4,161.6 155.6,164.5 155.8,165.9 156.0,166.4 156.2,163.6 156.4,160.3 156.6,159.9 156.8,159.5 157.0,158.4 157.2,157.0 157.4,154.0 157.6,152.3 157.8,152.2 158.0,149.5 158.2,146.0 158.4,144.6 158.6,143.4 158.8,144.0 159.0,146.9 159.2,149.9 159.4,152.3 159.6,150.8 159.8,147.3 160.0,144.7 160.2,145.8 160.4,144.7 160.6,142.4 160.8,141.8 161.0,139.7 161.2,135.6 161.4,134.5 161.6,138.6 161.8,142.3 162.0,142.0 162.2,142.7 162.4,145.6 162.6,145.9 162.8,146.6 163.0,153.1 163.2,158.3 163.4,159.7 163.6,161.0 163.8,161.4 164.0,158.8 164.2,155.0 164.4,152.8 164.6,155.3 164.8,157.7 165.0,158.2 165.2,157.5 165.4,157.0 165.6,158.1 165.8,162.9 166.0,167.5 166.2,168.6 166.4,168.4 166.7,169.9 166.9,172.3 167.1,174.4 167.3,176.9 167.5,179.1 167.7,181.2 167.9,182.6 168.1,183.5 168.3,184.6 168.5,185.4 168.7,185.4 168.9,184.8 169.1,183.9 169.3,182.6 169.5,181.8 169.7,180.7 169.9,179.5 170.1,177.8 170.3,176.2 170.5,175.8 170.7,175.4 170.9,173.7 171.1,174.3 171.3,175.0 171.5,174.1 171.7,174.2 171.9,175.2 172.1,175.5 172.3,174.2 172.5,172.7 172.7,171.8 172.9,170.2 173.1,167.2 173.3,163.3 173.5,158.3 173.7,153.9 173.9,152.5 174.1,153.3 174.3,150.5 174.5,147.7 174.7,151.5 174.9,155.7 175.1,155.5 175.3,152.3 175.5,149.9 175.7,153.4 175.9,157.2 176.1,157.8 176.3,157.2 176.5,156.9 176.7,156.8 176.9,156.4 177.1,154.5 177.3,151.8 177.5,147.2 177.7,145.2 177.9,144.3 178.1,142.8 178.3,142.4 178.5,145.7 178.7,149.6 178.9,153.1 179.1,158.7 179.3,164.4 179.5,167.4 179.7,168.3 179.9,168.4 180.1,167.8 180.3,166.9 180.5,166.0 180.7,163.2 180.9,160.9 181.1,163.5 181.3,167.8 181.5,171.6 181.7,172.7 181.9,172.3 182.1,173.3 182.3,175.6 182.5,176.6 182.7,172.6 182.9,167.6 183.1,164.4 183.3,161.3 183.5,156.9 183.7,155.3 183.9,158.2 184.1,159.9 184.3,160.2 184.5,160.1 184.7,158.5 184.9,159.6 185.1,164.5 185.3,169.0 185.5,172.3 185.7,174.2 185.9,173.0 186.1,169.6 186.3,166.4 186.5,162.7 186.7,159.3 186.9,155.4 187.1,148.4 187.3,143.6 187.5,145.1 187.7,149.6 187.9,151.4 188.1,146.4 188.3,138.6 188.5,135.1 188.7,137.6 188.9,142.3 189.1,148.0 189.3,149.7 189.5,148.3 189.7,151.1 189.9,157.6 190.1,164.7 190.3,168.7 190.5,169.9 190.7,171.2 190.9,174.1 191.1,175.2 191.3,176.9 191.5,177.4 191.7,177.0 191.9,177.5 192.1,178.5 192.3,179.1 192.5,178.6 192.7,178.4 192.9,178.1 193.1,174.4 193.3,172.7 193.5,174.0 193.7,175.9 193.9,174.5 194.1,171.5 194.3,171.0 194.5,169.6 194.7,166.9 195.0,165.6 195.2,163.5 195.4,156.4 195.6,151.7 195.8,155.0 196.0,157.1 196.2,155.2 196.4,151.7 196.6,147.5 196.8,141.8 197.0,136.2 197.2,130.4 197.4,126.4 197.6,124.8 197.8,118.4 198.0,110.9 198.2,112.8 198.4,117.8 198.6,115.5 198.8,112.8 199.0,115.0 199.2,115.0 199.4,114.6 199.6,118.9 199.8,126.7 200.0,133.0 200.2,135.5 200.4,139.4 200.6,145.8 200.8,150.5 201.0,152.5 201.2,151.1 201.4,148.8 201.6,150.0 201.8,148.6 202.0,144.5 202.2,142.6 202.4,139.7 202.6,137.3 202.8,138.3 203.0,142.5 203.2,142.0 203.4,139.5 203.6,140.7 203.8,145.2 204.0,149.1 204.2,152.1 204.4,153.1 204.6,151.1 204.8,149.6 205.0,151.0 205.2,153.1 205.4,155.7 205.6,155.3 205.8,152.0 206.0,150.9 206.2,152.7 206.4,155.8 206.6,157.2 206.8,155.0 207.0,153.8 207.2,153.0 207.4,151.4 207.6,152.8 207.8,155.3 208.0,156.7 208.2,156.1 208.4,156.9 208.6,158.7 208.8,158.9 209.0,159.2 209.2,162.0 209.4,164.2 209.6,163.7 209.8,163.0 210.0,161.3 210.2,159.5 210.4,156.6 210.6,150.9 210.8,143.1 211.0,138.7 211.2,135.5 211.4,134.4 211.6,136.8 211.8,138.6 212.0,143.4 212.2,149.4 212.4,153.3 212.6,157.3 212.8,159.6 213.0,160.7 213.2,162.0 213.4,162.8 213.6,164.2 213.8,163.4 214.0,162.0 214.2,159.8 214.4,157.6 214.6,154.1 214.8,150.6 215.0,151.8 215.2,154.2 215.4,156.6 215.6,158.9 215.8,160.9 216.0,161.0 216.2,160.1 216.4,160.6 216.6,162.3 216.8,165.0 217.0,167.0 217.2,166.9 217.4,164.8 217.6,163.3 217.8,162.7 218.0,161.4 218.2,159.5 218.4,156.6 218.6,151.2 218.8,148.5 219.0,151.3 219.2,154.1 219.4,156.7 219.6,157.0 219.8,153.3 220.0,152.2 220.2,155.0 220.4,155.4 220.6,155.4 220.8,156.7 221.0,159.4 221.2,162.6 221.4,161.5 221.6,157.9 221.8,155.5 222.0,155.9 222.2,155.5 222.4,151.8 222.6,151.6 222.8,156.2 223.0,156.4 223.3,154.4 223.5,154.9 223.7,158.9 223.9,163.3 224.1,166.4 224.3,169.3 224.5,171.9 224.7,173.7 224.9,175.2 225.1,175.7 225.3,174.3 225.5,173.8 225.7,171.4 225.9,168.6 226.1,167.4 226.3,166.2 226.5,162.5 226.7,159.0 226.9,159.2 227.1,158.8 227.3,155.7 227.5,153.5 227.7,153.6 227.9,152.3 228.1,151.2 228.3,151.4 228.5,153.5 228.7,157.0 228.9,163.5 229.1,168.9 229.3,168.0 229.5,159.9 229.7,153.6 229.9,151.5 230.1,150.9 230.3,150.2 230.5,146.4 230.7,140.8 230.9,138.1 231.1,137.4 231.3,137.7 231.5,144.7 231.7,147.7 231.9,152.4 232.1,158.2 232.3,162.6 232.5,167.2 232.7,170.7 232.9,168.2 233.1,165.9 233.3,162.8 233.5,159.1 233.7,154.6 233.9,150.2 234.1,145.2 234.3,137.9 234.5,139.6 234.7,145.1 234.9,150.5 235.1,155.9 235.3,160.8 235.5,159.4 235.7,152.7 235.9,146.9 236.1,143.9 236.3,143.7 236.5,141.0 236.7,132.8 236.9,131.9 237.1,135.5 237.3,137.4 237.5,134.9 237.7,136.7 237.9,144.9 238.1,150.6 238.3,153.8 238.5,157.9 238.7,162.4 238.9,164.4 239.1,165.3 239.3,163.7 239.5,161.7 239.7,160.1 239.9,161.0 240.1,163.1 240.3,163.6 240.5,163.8 240.7,164.1 240.9,162.3 241.1,160.1 241.3,160.4 241.5,162.3 241.7,162.9 241.9,163.9 242.1,165.1 242.3,166.2 242.5,167.0 242.7,169.7 242.9,173.7 243.1,175.1 243.3,174.7 243.5,173.0 243.7,170.1 243.9,168.6 244.1,168.0 244.3,167.3 244.5,165.4 244.7,162.3 244.9,157.3 245.1,152.1 245.3,150.8 245.5,151.1 245.7,148.1 245.9,142.3 246.1,136.3 246.3,130.7 246.5,133.2 246.7,141.1 246.9,141.4 247.1,141.5 247.3,145.6 247.5,147.4 247.7,149.5 247.9,152.4 248.1,155.0 248.3,159.2 248.5,164.0 248.7,160.8 248.9,154.4 249.1,148.0 249.3,140.8 249.5,134.7 249.7,129.3 249.9,128.7 250.1,130.9 250.3,135.7 250.5,144.1 250.7,151.7 250.9,153.9 251.1,154.5 251.3,156.8 251.6,158.3 251.8,156.8 252.0,153.6 252.2,151.9 252.4,153.6 252.6,154.0 252.8,155.8 253.0,159.9 253.2,160.5 253.4,159.0 253.6,157.6 253.8,156.8 254.0,158.5 254.2,160.0 254.4,158.7 254.6,155.6 254.8,150.0 255.0,146.1 255.2,148.5 255.4,152.1 255.6,153.4 255.8,153.2 256.0,155.3 256.2,153.0 256.4,145.8 256.6,142.1 256.8,140.2 257.0,136.6 257.2,135.4 257.4,137.5 257.6,136.8 257.8,134.6 258.0,130.7 258.2,126.0 258.4,125.9 258.6,129.4 258.8,134.0 259.0,139.9 259.2,146.4 259.4,151.1 259.6,154.1 259.8,156.4 260.0,159.0 260.2,161.1 260.4,163.5 260.6,161.8 260.8,158.3 261.0,159.2 261.2,162.0 261.4,164.0 261.6,164.7 261.8,162.0 262.0,159.2 262.2,159.3 262.4,164.3 262.6,167.9 262.8,170.6 263.0,173.2 263.2,175.9 263.4,178.7 263.6,181.7 263.8,182.5 264.0,182.6 264.2,182.3 264.4,182.2 264.6,182.0 264.8,181.0 265.0,180.2 265.2,180.2 265.4,179.0 265.6,176.5 265.8,174.5 266.0,172.6 266.2,172.9 266.4,179.2 266.6,183.5 266.8,186.7 267.0,188.8 267.2,189.1 267.4,188.4 267.6,187.4 267.8,185.7 268.0,183.3 268.2,180.1 268.4,177.3 268.6,176.3 268.8,176.4 269.0,174.6 269.2,170.6 269.4,168.3 269.6,167.9 269.8,164.8 270.0,161.6 270.2,160.4 270.4,159.1 270.6,158.8 270.8,161.6 271.0,163.7 271.2,162.6 271.4,158.5 271.6,155.0 271.8,156.3 272.0,158.1 272.2,159.5 272.4,159.2 272.6,155.9 272.8,152.6 273.0,149.0 273.2,150.3 273.4,155.0 273.6,154.4 273.8,152.3 274.0,151.5 274.2,154.0 274.4,156.6 274.6,157.5 274.8,160.2 275.0,163.5 275.2,163.7 275.4,164.5 275.6,167.6 275.8,171.2 276.0,174.0 276.2,175.2 276.4,174.5 276.6,173.2 276.8,171.6 277.0,170.7 277.2,168.4 277.4,166.0 277.6,163.5 277.8,160.3 278.0,155.7 278.2,151.3 278.4,148.1 278.6,148.0 278.8,149.3 279.0,149.7 279.2,150.9 279.4,152.1 279.6,155.8 279.9,161.4 280.1,163.0 280.3,159.8 280.5,157.8 280.7,156.8 280.9,154.3 281.1,150.9 281.3,149.5 281.5,147.7 281.7,145.3 281.9,143.6 282.1,141.3 282.3,139.7 282.5,140.3 282.7,142.0 282.9,141.9 283.1,140.2 283.3,143.3 283.5,147.5 283.7,150.5 283.9,153.2 284.1,154.9 284.3,155.2 284.5,155.2 284.7,157.2 284.9,159.1 285.1,160.5 285.3,161.5 285.5,160.4 285.7,158.6 285.9,158.2 286.1,158.8 286.3,159.4 286.5,159.6 286.7,161.0 286.9,162.8 287.1,164.4 287.3,165.6 287.5,165.3 287.7,163.8 287.9,164.7 288.1,167.9 288.3,171.5 288.5,174.3 288.7,176.2 288.9,177.2 289.1,179.1 289.3,183.3 289.5,186.5 289.7,188.5 289.9,189.4 290.1,189.0 290.3,187.0 290.5,184.9 290.7,184.1 290.9,183.1 291.1,181.9 291.3,179.8 291.5,175.4 291.7,172.4 291.9,172.4 292.1,172.8 292.3,171.7 292.5,171.6 292.7,172.0 292.9,169.6 293.1,166.9 293.3,166.2 293.5,167.1 293.7,168.6 293.9,170.6 294.1,168.9 294.3,163.7 294.5,159.9 294.7,162.0 294.9,162.5 295.1,155.5 295.3,145.2 295.5,139.4 295.7,139.8 295.9,141.4 296.1,143.0 296.3,144.0 296.5,142.7 296.7,146.2 296.9,148.8 297.1,153.4 297.3,160.0 297.5,164.7 297.7,166.3 297.9,165.8 298.1,166.1 298.3,168.2 298.5,169.2 298.7,169.1 298.9,168.5 299.1,166.3 299.3,167.2 299.5,168.5 299.7,167.0 299.9,165.7 300.1,164.7 300.3,163.7 300.5,160.8 300.7,157.0 300.9,157.4 301.1,158.7 301.3,162.6 301.5,167.8 301.7,168.7 301.9,169.0 302.1,171.5 302.3,173.4 302.5,175.2 302.7,178.2 302.9,180.1 303.1,177.7 303.3,173.2 303.5,167.7 303.7,161.9 303.9,155.6 304.1,151.4 304.3,154.1 304.5,159.8 304.7,163.9 304.9,164.3 305.1,165.4 305.3,167.4 305.5,165.4 305.7,161.2 305.9,157.9 306.1,157.2 306.3,158.8 306.5,159.6 306.7,158.1 306.9,154.9 307.1,153.5 307.3,153.6 307.5,154.7 307.7,156.0 307.9,156.6 308.2,157.5 308.4,161.2 308.6,164.3 308.8,163.7 309.0,159.6 309.2,156.5 309.4,157.7 309.6,162.6 309.8,165.0 310.0,165.2 310.2,166.7 310.4,168.2 310.6,166.0 310.8,160.3 311.0,155.1 311.2,152.9 311.4,149.0 311.6,144.4 311.8,140.2 312.0,135.9 312.2,142.2 312.4,153.1 312.6,160.4 312.8,163.8 313.0,165.8 313.2,168.5 313.4,168.8 313.6,167.0 313.8,163.7 314.0,161.7 314.2,161.5 314.4,159.5 314.6,155.5 314.8,151.3 315.0,147.7 315.2,155.3 315.4,161.9 315.6,167.3 315.8,171.4 316.0,173.9 316.2,176.1 316.4,176.9 316.6,178.5 316.8,178.6 317.0,176.7 317.2,173.6 317.4,172.2 317.6,170.0 317.8,166.0 318.0,162.0 318.2,159.8 318.4,159.6 318.6,162.6 318.8,167.0 319.0,168.4 319.2,167.2 319.4,166.1 319.6,167.3 319.8,169.4 320.0,170.4 320.2,168.7 320.4,166.6 320.6,167.6 320.8,169.3 321.0,169.7 321.2,168.5 321.4,166.8 321.6,165.1 321.8,163.7 322.0,162.9 322.2,161.8 322.4,159.5 322.6,157.3 322.8,156.1 323.0,157.6 323.2,158.2 323.4,161.0 323.6,164.2 323.8,163.7 324.0,161.9 324.2,162.7 324.4,165.7 324.6,168.0 324.8,167.6 325.0,167.7 325.2,170.2 325.4,172.0 325.6,172.5 325.8,170.7 326.0,166.8 326.2,162.1 326.4,158.0 326.6,152.1 326.8,147.5 327.0,152.5 327.2,153.5 327.4,155.4 327.6,159.8 327.8,163.2 328.0,168.3 328.2,172.3 328.4,172.4 328.6,170.9 328.8,172.3 329.0,171.1 329.2,167.0 329.4,165.1 329.6,165.3 329.8,165.3 330.0,162.6 330.2,158.2 330.4,155.8 330.6,157.2 330.8,155.9 331.0,154.5 331.2,158.0 331.4,163.0 331.6,163.4 331.8,163.0 332.0,165.7 332.2,168.2 332.4,168.6 332.6,166.8 332.8,165.3 333.0,164.0 333.2,163.1 333.4,160.0 333.6,156.0 333.8,152.1 334.0,151.4 334.2,151.7 334.4,150.3 334.6,148.5 334.8,149.0 335.0,151.4 335.2,152.6 335.4,151.7 335.6,150.8 335.8,149.9 336.0,154.1 336.2,160.2 336.5,165.0 336.7,168.9 336.9,171.0 337.1,172.2 337.3,173.9 337.5,175.6 337.7,176.5 337.9,177.1 338.1,179.0 338.3,182.1 338.5,183.6 338.7,184.7 338.9,186.1 339.1,187.2 339.3,188.2 339.5,189.2 339.7,190.7 339.9,192.3 340.1,193.8 340.3,195.3 340.5,195.5 340.7,195.0 340.9,196.3 341.1,198.7 341.3,198.5 341.5,197.8 341.7,197.3 341.9,196.3 342.1,195.5 342.3,194.6 342.5,193.2 342.7,192.4 342.9,191.4 343.1,188.2 343.3,183.2 343.5,178.5 343.7,175.5 343.9,174.2 344.1,170.6 344.3,166.4 344.5,162.3 344.7,160.8 344.9,162.0 345.1,163.1 345.3,159.9 345.5,157.9 345.7,156.2 345.9,152.5 346.1,147.4 346.3,142.5 346.5,141.0 346.7,141.4 346.9,142.7 347.1,142.8 347.3,141.8 347.5,142.7 347.7,146.6 347.9,149.9 348.1,148.9 348.3,145.4 348.5,142.1 348.7,139.6 348.9,138.2 349.1,137.9 349.3,140.1 349.5,140.4 349.7,140.0 349.9,141.3 350.1,146.7 350.3,154.2 350.5,161.6 350.7,168.5 350.9,174.5 351.1,179.1 351.3,182.8 351.5,185.4 351.7,187.2 351.9,187.4 352.1,187.9 352.3,188.5 352.5,188.8 352.7,187.8 352.9,186.6 353.1,187.5 353.3,188.9 353.5,189.3 353.7,189.7 353.9,190.2 354.1,190.7 354.3,190.7 354.5,190.4 354.7,190.5 354.9,190.4 355.1,189.7 355.3,190.3 355.5,191.5 355.7,192.2 355.9,192.8 356.1,191.4 356.3,188.8 356.5,184.9 356.7,181.4 356.9,180.3 357.1,181.9 357.3,183.8 357.5,185.0 357.7,185.2 357.9,184.6 358.1,183.0 358.3,182.2 358.5,182.5 358.7,183.7 358.9,185.5 359.1,186.7 359.3,186.8 359.5,185.2 359.7,183.9 359.9,182.7 360.1,179.0 360.3,174.2 360.5,169.8 360.7,165.9 360.9,163.5 361.1,161.6 361.3,159.8 361.5,159.4 361.7,160.5 361.9,160.0 362.1,159.4 362.3,159.1 362.5,159.9 362.7,160.4 362.9,161.4 363.1,161.5 363.3,160.9 363.5,160.6 363.7,157.1 363.9,150.2 364.1,140.6 364.3,130.6 364.5,123.6 364.8,120.5 365.0,119.4 365.2,120.4 365.4,122.8 365.6,125.7 365.8,129.2 366.0,133.8 366.2,138.6 366.4,140.2 366.6,140.9 366.8,140.6 367.0,143.0 367.2,149.1 367.4,152.8 367.6,153.5 367.8,153.5 368.0,152.6 368.2,150.2 368.4,147.2 368.6,144.5 368.8,143.5 369.0,143.6 369.2,143.4 369.4,144.0 369.6,146.1 369.8,149.0 370.0,149.1 370.2,152.8 370.4,160.8 370.6,163.9 370.8,165.0 371.0,169.8 371.2,173.7 371.4,172.1 371.6,169.4 371.8,169.3 372.0,170.6 372.2,171.3 372.4,170.9 372.6,170.3 372.8,172.3 373.0,174.3 373.2,176.0 373.4,176.5 373.6,176.1 373.8,177.5 374.0,179.7 374.2,180.1 374.4,180.9 374.6,181.6 374.8,182.2 375.0,180.6 375.2,178.7 375.4,178.3 375.6,177.8 375.8,176.5 376.0,175.5 376.2,172.8 376.4,170.9 376.6,171.8 376.8,170.6 377.0,166.5 377.2,163.3 377.4,162.5 377.6,162.5 377.8,161.0 378.0,156.7 378.2,156.5 378.4,158.2 378.6,159.8 378.8,164.1 379.0,169.6 379.2,173.8 379.4,175.0 379.6,175.1 379.8,178.4 380.0,182.5 380.2,184.4 380.4,185.9 380.6,186.8 380.8,187.0 381.0,186.4 381.2,185.2 381.4,182.1 381.6,178.4 381.8,176.3 382.0,174.7 382.2,170.6 382.4,166.3 382.6,164.1 382.8,164.5 383.0,165.0 383.2,162.2 383.4,158.1 383.6,155.4 383.8,153.3 384.0,153.2 384.2,155.7 384.4,155.2 384.6,152.6 384.8,153.0 385.0,151.5 385.2,142.5 385.4,132.5 385.6,125.2 385.8,120.4 386.0,117.8 386.2,122.3 386.4,128.7 386.6,132.9 386.8,135.4 387.0,137.7 387.2,140.8 387.4,145.4 387.6,151.0 387.8,155.2 388.0,159.4 388.2,164.7 388.4,170.6 388.6,176.7 388.8,181.1 389.0,184.6 389.2,184.4 389.4,182.5 389.6,181.4 389.8,178.8 390.0,176.3 390.2,177.0 390.4,178.7 390.6,180.8 390.8,183.9 391.0,188.1 391.2,192.6 391.4,196.1 391.6,192.6 391.8,186.3 392.0,180.8 392.2,177.4 392.4,176.3 392.6,178.9 392.8,180.7 393.1,180.9 393.3,180.7 393.5,181.2 393.7,183.6 393.9,184.6 394.1,183.2 394.3,181.7 394.5,183.5 394.7,185.6 394.9,182.8 395.1,175.2 395.3,173.0 395.5,171.8 395.7,167.2 395.9,161.9 396.1,159.2 396.3,157.1 396.5,153.9 396.7,153.0 396.9,154.8 397.1,158.8 397.3,166.4 397.5,171.4 397.7,172.5 397.9,175.7 398.1,182.9 398.3,185.2 398.5,183.9 398.7,183.3 398.9,183.0 399.1,183.0 399.3,182.1 399.5,181.6 399.7,182.3 399.9,183.8 400.1,185.3 400.3,187.4 400.5,188.3 400.7,189.3 400.9,191.5 401.1,191.7 401.3,189.8 401.5,189.1 401.7,189.2 401.9,188.9 402.1,187.0 402.3,184.8 402.5,182.8 402.7,179.2 402.9,174.9 403.1,170.9 403.3,168.7 403.5,166.7 403.7,164.1 403.9,162.4 404.1,163.1 404.3,164.8 404.5,168.2 404.7,170.9 404.9,168.4 405.1,163.1 405.3,161.1 405.5,163.6 405.7,164.6 405.9,161.4 406.1,159.1 406.3,157.4 406.5,154.4 406.7,150.1 406.9,143.1 407.1,144.6 407.3,152.8 407.5,158.0 407.7,160.9 407.9,163.5 408.1,164.7 408.3,165.1 408.5,166.3 408.7,166.9 408.9,163.7 409.1,164.1 409.3,165.4 409.5,162.4 409.7,156.6 409.9,152.2 410.1,154.4 410.3,154.3 410.5,154.4 410.7,157.4 410.9,161.1 411.1,165.4 411.3,168.8 411.5,170.3 411.7,170.5 411.9,170.9 412.1,172.6 412.3,174.4 412.5,176.7 412.7,178.6 412.9,176.6 413.1,173.9 413.3,171.4 413.5,169.0 413.7,166.0 413.9,165.4 414.1,171.8 414.3,178.1 414.5,182.6 414.7,185.9 414.9,188.9 415.1,192.2 415.3,195.5 415.5,196.7 415.7,197.3 415.9,198.0 416.1,198.8 416.3,199.4 416.5,199.5 416.7,198.6 416.9,198.2 417.1,197.8 417.3,196.6 417.5,193.6 417.7,191.7 417.9,192.4 418.1,194.2 418.3,195.0 418.5,195.0 418.7,193.9 418.9,192.8 419.1,192.8 419.3,192.6 419.5,191.0 419.7,187.6 419.9,182.3 420.1,174.1 420.3,167.8 420.5,164.4 420.7,165.4 420.9,166.1 421.1,170.6 421.3,176.0 421.6,178.9 421.8,179.5 422.0,180.0 422.2,182.3 422.4,180.9 422.6,176.6 422.8,172.3 423.0,168.7 423.2,165.5 423.4,162.6 423.6,159.1 423.8,157.5 424.0,156.0 424.2,153.3 424.4,150.3 424.6,146.4 424.8,147.9 425.0,151.4 425.2,155.1 425.4,158.9 425.6,164.3 425.8,166.0 426.0,165.5 426.2,168.9 426.4,169.6 426.6,168.6 426.8,168.6 427.0,169.3 427.2,168.6 427.4,169.2 427.6,171.5 427.8,173.5 428.0,174.8 428.2,176.7 428.4,178.0 428.6,178.4 428.8,182.7 429.0,188.7 429.2,191.8 429.4,193.0 429.6,194.4 429.8,195.7 430.0,198.6 430.2,200.1 430.4,200.5 430.6,200.6 430.8,199.7 431.0,198.4 431.2,198.2 431.4,196.6 431.6,194.9 431.8,194.6 432.0,193.8 432.2,190.5 432.4,187.8 432.6,186.8 432.8,185.8 433.0,185.6 433.2,184.1 433.4,180.5 433.6,176.3 433.8,172.9 434.0,172.6 434.2,176.6 434.4,179.5 434.6,182.8 434.8,184.8 435.0,184.5 435.2,185.3 435.4,183.5 435.6,179.6 435.8,176.5 436.0,175.9 436.2,175.3 436.4,175.0 436.6,172.6 436.8,170.7 437.0,168.2 437.2,164.7 437.4,165.6 437.6,168.3 437.8,171.3 438.0,174.7 438.2,176.9 438.4,177.8 438.6,178.0 438.8,179.0 439.0,179.7 439.2,180.2 439.4,182.0 439.6,184.5 439.8,184.2 440.0,181.8 440.2,175.7 440.4,169.0 440.6,165.4 440.8,165.0 441.0,164.0 441.2,160.0 441.4,156.8 441.6,154.6 441.8,153.9 442.0,151.1 442.2,148.0 442.4,148.8 442.6,150.7 442.8,151.2 443.0,156.3 443.2,163.9 443.4,165.6 443.6,162.6 443.8,162.9 444.0,167.7 444.2,172.4 444.4,174.1 444.6,173.9 444.8,172.6 445.0,171.9 445.2,172.2 445.4,172.3 445.6,171.0 445.8,170.3 446.0,172.9 446.2,179.6 446.4,184.3 446.6,186.6 446.8,186.6 447.0,186.6 447.2,187.9 447.4,188.6 447.6,189.8 447.8,191.5 448.0,191.9 448.2,191.7 448.4,191.8 448.6,193.3 448.8,195.1 449.0,194.5 449.2,192.2 449.4,190.2 449.6,191.5 449.9,194.2 450.1,194.0 450.3,193.0 450.5,193.8 450.7,194.6 450.9,194.6 451.1,193.7 451.3,191.5 451.5,192.5 451.7,196.1 451.9,196.5 452.1,195.2 452.3,195.1 452.5,196.6 452.7,196.9 452.9,195.4 453.1,192.7 453.3,188.6 453.5,183.3 453.7,181.0 453.9,182.9 454.1,181.4 454.3,177.3 454.5,173.9 454.7,170.8 454.9,167.4 455.1,165.5 455.3,168.8 455.5,171.4 455.7,171.8 455.9,171.7 456.1,170.4 456.3,172.3 456.5,176.9 456.7,178.2 456.9,177.2 457.1,178.8 457.3,179.4 457.5,177.0 457.7,170.7 457.9,165.8 458.1,166.9 458.3,168.3 458.5,166.8 458.7,164.3 458.9,161.8 459.1,164.1 459.3,165.7 459.5,160.8 459.7,155.5 459.9,156.5 460.1,160.6 460.3,164.8 460.5,166.4 460.7,167.0 460.9,168.8 461.1,171.5 461.3,175.2 461.5,176.0 461.7,173.6 461.9,172.4 462.1,169.7 462.3,170.7 462.5,171.2 462.7,168.5 462.9,166.5 463.1,166.2 463.3,168.8 463.5,172.8 463.7,172.4 463.9,171.4 464.1,174.3 464.3,177.7 464.5,178.2 464.7,178.8 464.9,182.1 465.1,184.5 465.3,184.6 465.5,182.2 465.7,180.4 465.9,178.6 466.1,177.7 466.3,176.8 466.5,174.4 466.7,172.2 466.9,170.1 467.1,164.9 467.3,158.4 467.5,153.7 467.7,151.6 467.9,154.7 468.1,160.6 468.3,166.8 468.5,171.0 468.7,173.0 468.9,174.2 469.1,174.6 469.3,176.3 469.5,179.5 469.7,181.3 469.9,180.7 470.1,178.1 470.3,176.4 470.5,175.8 470.7,173.9 470.9,168.3 471.1,163.2 471.3,162.1 471.5,159.3 471.7,157.8 471.9,158.0 472.1,162.5 472.3,167.5 472.5,170.6 472.7,170.7 472.9,171.7 473.1,174.3 473.3,177.4 473.5,179.7 473.7,177.5 473.9,174.1 474.1,171.7 474.3,170.5 474.5,168.7 474.7,166.4 474.9,166.5 475.1,167.2 475.3,165.3 475.5,161.0 475.7,156.2 475.9,154.0 476.1,156.5 476.3,160.8 476.5,166.3 476.7,169.5 476.9,171.8 477.1,174.0 477.3,174.3 477.5,175.1 477.7,177.4 477.9,181.4 478.2,184.7 478.4,187.3 478.6,189.1 478.8,190.0 479.0,188.9 479.2,186.8 479.4,185.4 479.6,185.1 479.8,185.9 480.0,187.2 480.2,187.4 480.4,186.5 480.6,185.6 480.8,186.4 481.0,189.5 481.2,192.9 481.4,197.8 481.6,200.3 481.8,201.4 482.0,203.3 482.2,204.1 482.4,204.0 482.6,202.7 482.8,200.9 483.0,198.5 483.2,196.2 483.4,194.1 483.6,192.0 483.8,188.5 484.0,184.0 484.2,182.1 484.4,180.0 484.6,177.8 484.8,177.9 485.0,179.6 485.2,180.4 485.4,179.7 485.6,177.2 485.8,175.9 486.0,176.1 486.2,175.7 486.4,175.7 486.6,176.8 486.8,175.7 487.0,171.1 487.2,165.2 487.4,160.9 487.6,162.0 487.8,164.7 488.0,162.5 488.2,157.1 488.4,155.5 488.6,156.9 488.8,155.9 489.0,153.0 489.2,150.8 489.4,156.7 489.6,162.9 489.8,168.1 490.0,175.9 490.2,183.6 490.4,182.8 490.6,181.5 490.8,180.7 491.0,179.7 491.2,179.2 491.4,179.5 491.6,181.5 491.8,182.9 492.0,183.2 492.2,186.5 492.4,189.6 492.6,193.0 492.8,196.9 493.0,200.9 493.2,203.7 493.4,203.9 493.6,202.5 493.8,202.5 494.0,201.7 494.2,200.1 494.4,197.4 494.6,192.7 494.8,188.0 495.0,186.3 495.2,185.9 495.4,185.5 495.6,186.1 495.8,189.3 496.0,193.7 496.2,196.5 496.4,198.3 496.6,199.9 496.8,200.6 497.0,198.7 497.2,196.9 497.4,196.7 497.6,195.4 497.8,192.9 498.0,192.0 498.2,192.5 498.4,191.5 498.6,187.7 498.8,183.1 499.0,182.8 499.2,185.2 499.4,187.2 499.6,189.8 499.8,191.8 500.0,192.8 500.2,193.6 500.4,194.7 500.6,195.8 500.8,197.1 501.0,197.9 501.2,197.6 501.4,196.3 501.6,194.9 501.8,192.7 502.0,190.4 502.2,189.3 502.4,189.5 502.6,188.5 502.8,186.3 503.0,184.8 503.2,183.2 503.4,180.1 503.6,176.6 503.8,172.8 504.0,167.7 504.2,165.6 504.4,166.9 504.6,167.3 504.8,166.7 505.0,166.8 505.2,168.1 505.4,168.2 505.6,168.0 505.8,168.7 506.0,169.6 506.2,169.5 506.5,168.3 506.7,163.3 506.9,155.6 507.1,151.5 507.3,149.3 507.5,143.4 507.7,140.7 507.9,143.4 508.1,148.7 508.3,153.7 508.5,153.8 508.7,150.3 508.9,156.3 509.1,163.8 509.3,171.6 509.5,178.2 509.7,183.1 509.9,187.3 510.1,188.0 510.3,188.1 510.5,188.9 510.7,189.7 510.9,188.9 511.1,189.6 511.3,191.4 511.5,190.5 511.7,188.6 511.9,187.6 512.1,187.4 512.3,186.4 512.5,186.6 512.7,186.5 512.9,187.6 513.1,190.0 513.3,192.6 513.5,195.0 513.7,196.6 513.9,196.3 514.1,195.0 514.3,194.4 514.5,195.1 514.7,196.2 514.9,195.5 515.1,192.5 515.3,190.0 515.5,189.2 515.7,186.2 515.9,184.2 516.1,185.6 516.3,187.9 516.5,189.1 516.7,189.7 516.9,189.8 517.1,189.1 517.3,187.3 517.5,182.8 517.7,177.4 517.9,170.0 518.1,164.1 518.3,160.7 518.5,157.2 518.7,152.3 518.9,154.2 519.1,158.2 519.3,158.6 519.5,160.7 519.7,163.1 519.9,166.4 520.1,170.4 520.3,173.1 520.5,176.2"/>
<polyline fill="none" stroke="#000000" stroke-width="1.8" stroke-linejoin="round" points="39.0,167.3 39.2,157.4 39.4,148.0 39.6,158.4 39.8,171.5 40.0,181.5 40.2,174.4 40.4,167.7 40.6,160.9 40.8,153.5 41.0,148.9 41.2,146.1 41.4,149.2 41.6,158.3 41.8,160.2 42.0,146.9 42.2,135.7 42.4,120.8 42.6,126.0 42.8,134.0 43.0,136.3 43.2,140.0 43.4,150.0 43.6,154.0 43.8,151.8 44.0,148.3 44.2,142.8 44.4,141.3 44.6,136.3 44.8,138.8 45.0,149.3 45.2,159.8 45.4,163.4 45.6,163.2 45.8,158.9 46.0,152.5 46.2,147.0 46.4,145.3 46.6,153.9 46.8,160.5 47.0,167.1 47.2,172.3 47.4,172.1 47.6,165.4 47.8,158.7 48.0,151.2 48.2,151.6 48.4,155.7 48.6,162.9 48.8,167.2 49.0,157.8 49.2,145.8 49.4,138.7 49.6,126.8 49.8,118.5 50.0,119.6 50.2,127.9 50.4,129.2 50.6,139.6 50.8,146.6 51.0,148.4 51.2,140.4 51.4,131.9 51.6,117.9 51.8,120.3 52.0,128.5 52.2,133.3 52.4,145.0 52.6,154.4 52.8,166.2 53.0,167.0 53.3,162.8 53.5,155.2 53.7,145.7 53.9,140.0 54.1,140.1 54.3,142.3 54.5,148.6 54.7,150.9 54.9,153.3 55.1,154.2 55.3,152.2 55.5,145.7 55.7,136.5 55.9,121.5 56.1,130.4 56.3,135.1 56.5,140.8 56.7,143.9 56.9,144.8 57.1,139.5 57.3,127.5 57.5,114.1 57.7,104.7 57.9,114.0 58.1,130.0 58.3,139.2 58.5,151.1 58.7,144.6 58.9,136.5 59.1,132.7 59.3,129.6 59.5,131.3 59.7,139.9 59.9,155.1 60.1,162.4 60.3,165.3 60.5,160.0 60.7,159.1 60.9,157.4 61.1,157.1 61.3,162.4 61.5,164.4 61.7,164.0 61.9,161.6 62.1,163.8 62.3,163.9 62.5,164.0 62.7,156.6 62.9,144.0 63.1,127.3 63.3,134.0 63.5,140.3 63.7,140.6 63.9,147.4 64.1,144.7 64.3,132.9 64.5,123.6 64.7,115.2 64.9,131.0 65.1,142.8 65.3,151.5 65.5,148.6 65.7,142.6 65.9,136.4 66.1,130.0 66.3,129.7 66.5,126.8 66.7,132.8 66.9,143.8 67.1,153.7 67.3,163.9 67.5,154.2 67.7,141.2 67.9,131.0 68.1,133.5 68.3,134.8 68.5,139.5 68.7,144.9 68.9,154.3 69.1,147.5 69.3,134.5 69.5,126.0 69.7,121.1 69.9,122.8 70.1,127.9 70.3,133.9 70.5,133.1 70.7,132.6 70.9,131.6 71.1,118.9 71.3,115.3 71.5,112.1 71.7,129.8 71.9,147.4 72.1,154.8 72.3,146.2 72.5,135.8 72.7,138.2 72.9,152.3 73.1,154.9 73.3,160.9 73.5,166.6 73.7,159.1 73.9,147.9 74.1,138.7 74.3,128.0 74.5,128.5 74.7,131.3 74.9,137.8 75.1,141.4 75.3,142.2 75.5,147.1 75.7,138.9 75.9,123.2 76.1,113.9 76.3,106.9 76.5,107.6 76.7,111.4 76.9,120.5 77.1,131.4 77.3,138.2 77.5,131.1 77.7,124.2 77.9,124.4 78.1,136.5 78.3,145.6 78.5,155.4 78.7,151.7 78.9,146.4 79.1,146.1 79.3,146.0 79.5,143.0 79.7,136.4 79.9,145.4 80.1,145.1 80.3,150.2 80.5,154.8 80.7,157.5 80.9,148.7 81.1,136.5 81.3,134.0 81.6,123.0 81.8,113.5 82.0,121.9 82.2,128.4 82.4,133.8 82.6,120.1 82.8,104.8 83.0,106.1 83.2,113.0 83.4,124.7 83.6,134.2 83.8,141.4 84.0,147.6 84.2,147.7 84.4,145.2 84.6,140.5 84.8,139.1 85.0,135.4 85.2,141.8 85.4,151.0 85.6,159.5 85.8,160.5 86.0,153.3 86.2,145.9 86.4,137.3 86.6,134.6 86.8,143.0 87.0,148.4 87.2,140.4 87.4,128.3 87.6,121.5 87.8,118.4 88.0,128.7 88.2,140.9 88.4,140.8 88.6,138.7 88.8,139.8 89.0,139.6 89.2,137.3 89.4,130.3 89.6,139.3 89.8,148.1 90.0,159.6 90.2,174.0 90.4,167.3 90.6,157.9 90.8,153.0 91.0,157.4 91.2,167.2 91.4,175.9 91.6,178.2 91.8,183.3 92.0,185.8 92.2,174.3 92.4,161.4 92.6,147.7 92.8,154.5 93.0,160.7 93.2,161.7 93.4,154.4 93.6,151.4 93.8,143.7 94.0,137.1 94.2,134.5 94.4,137.0 94.6,134.7 94.8,138.0 95.0,143.7 95.2,148.9 95.4,145.3 95.6,132.8 95.8,120.0 96.0,126.4 96.2,132.5 96.4,136.8 96.6,145.7 96.8,152.3 97.0,157.2 97.2,151.8 97.4,144.5 97.6,134.5 97.8,148.6 98.0,163.3 98.2,177.3 98.4,160.8 98.6,145.9 98.8,141.3 99.0,148.5 99.2,153.6 99.4,156.3 99.6,152.3 99.8,148.0 100.0,140.7 100.2,132.7 100.4,123.0 100.6,124.1 100.8,123.9 101.0,129.5 101.2,134.6 101.4,141.6 101.6,137.3 101.8,132.2 102.0,132.4 102.2,128.0 102.4,125.4 102.6,122.7 102.8,128.0 103.0,136.1 103.2,146.8 103.4,144.4 103.6,143.1 103.8,138.7 104.0,132.2 104.2,137.7 104.4,146.7 104.6,153.8 104.8,153.1 105.0,145.8 105.2,141.9 105.4,136.6 105.6,132.7 105.8,127.6 106.0,119.0 106.2,123.6 106.4,126.9 106.6,132.2 106.8,135.6 107.0,134.6 107.2,139.1 107.4,134.7 107.6,125.9 107.8,117.7 108.0,109.4 108.2,113.8 108.4,119.8 108.6,125.5 108.8,133.2 109.0,133.7 109.2,129.4 109.4,121.9 109.6,120.6 109.9,126.3 110.1,129.1 110.3,134.2 110.5,140.0 110.7,143.3 110.9,140.3 111.1,134.6 111.3,126.7 111.5,132.0 111.7,141.3 111.9,145.2 112.1,139.6 112.3,132.1 112.5,120.9 112.7,115.2 112.9,123.5 113.1,132.6 113.3,140.5 113.5,140.6 113.7,132.5 113.9,126.5 114.1,122.4 114.3,118.3 114.5,110.0 114.7,112.8 114.9,119.4 115.1,127.5 115.3,138.6 115.5,146.3 115.7,151.5 115.9,150.0 116.1,143.9 116.3,139.4 116.5,132.4 116.7,134.5 116.9,136.5 117.1,136.2 117.3,137.1 117.5,142.6 117.7,140.1 117.9,127.8 118.1,119.8 118.3,113.9 118.5,111.7 118.7,113.9 118.9,125.2 119.1,130.1 119.3,133.1 119.5,142.5 119.7,147.8 119.9,153.7 120.1,149.2 120.3,148.5 120.5,144.6 120.7,142.1 120.9,144.8 121.1,150.6 121.3,165.2 121.5,177.7 121.7,183.2 121.9,185.6 122.1,187.0 122.3,185.9 122.5,181.2 122.7,172.1 122.9,171.0 123.1,175.6 123.3,174.8 123.5,159.0 123.7,149.8 123.9,138.8 124.1,124.1 124.3,130.5 124.5,140.2 124.7,150.8 124.9,165.2 125.1,182.5 125.3,189.2 125.5,182.9 125.7,180.3 125.9,172.8 126.1,166.5 126.3,159.6 126.5,155.3 126.7,159.7 126.9,161.8 127.1,160.7 127.3,164.8 127.5,172.1 127.7,162.9 127.9,149.0 128.1,136.2 128.3,138.9 128.5,146.3 128.7,152.5 128.9,149.6 129.1,137.5 129.3,127.5 129.5,114.7 129.7,119.8 129.9,118.8 130.1,124.0 130.3,130.2 130.5,135.4 130.7,143.2 130.9,141.5 131.1,133.5 131.3,121.4 131.5,121.4 131.7,133.4 131.9,139.0 132.1,148.7 132.3,142.6 132.5,135.5 132.7,134.0 132.9,133.9 133.1,148.9 133.3,163.0 133.5,163.1 133.7,163.3 133.9,160.6 134.1,154.4 134.3,144.7 134.5,133.7 134.7,133.9 134.9,138.6 135.1,143.2 135.3,153.3 135.5,161.3 135.7,163.0 135.9,158.4 136.1,157.9 136.3,170.0 136.5,186.2 136.7,196.9 136.9,200.0 137.1,197.7 137.3,188.5 137.5,170.4 137.7,152.3 137.9,142.2 138.2,133.8 138.4,135.6 138.6,142.1 138.8,150.3 139.0,140.4 139.2,128.7 139.4,125.3 139.6,138.1 139.8,149.8 140.0,165.2 140.2,151.5 140.4,139.8 140.6,136.2 140.8,146.3 141.0,152.9 141.2,153.0 141.4,160.3 141.6,161.2 141.8,156.3 142.0,151.6 142.2,147.1 142.4,140.7 142.6,140.9 142.8,144.3 143.0,148.9 143.2,153.5 143.4,151.7 143.6,144.6 143.8,140.4 144.0,133.1 144.2,122.6 144.4,123.0 144.6,128.7 144.8,133.9 145.0,141.6 145.2,134.5 145.4,125.7 145.6,115.4 145.8,115.5 146.0,124.7 146.2,131.2 146.4,136.6 146.6,131.2 146.8,127.3 147.0,123.8 147.2,120.8 147.4,124.0 147.6,125.4 147.8,127.9 148.0,131.8 148.2,137.0 148.4,142.2 148.6,137.7 148.8,129.3 149.0,120.0 149.2,126.4 149.4,137.9 149.6,143.2 149.8,133.1 150.0,123.0 150.2,115.9 150.4,108.8 150.6,105.5 150.8,106.2 151.0,107.8 151.2,105.5 151.4,102.4 151.6,98.4 151.8,94.5 152.0,93.0 152.2,93.9 152.4,95.1 152.6,95.3 152.8,94.5 153.0,93.7 153.2,99.3 153.4,106.8 153.6,116.5 153.8,124.8 154.0,134.6 154.2,136.1 154.4,133.6 154.6,125.0 154.8,130.3 155.0,135.1 155.2,132.8 155.4,136.6 155.6,140.1 155.8,143.4 156.0,140.6 156.2,133.6 156.4,127.5 156.6,119.3 156.8,115.8 157.0,119.6 157.2,122.6 157.4,127.5 157.6,128.6 157.8,121.3 158.0,117.4 158.2,113.4 158.4,113.8 158.6,117.2 158.8,125.5 159.0,126.9 159.2,124.8 159.4,120.1 159.6,120.1 159.8,115.6 160.0,114.3 160.2,122.2 160.4,128.6 160.6,133.2 160.8,138.0 161.0,141.0 161.2,138.7 161.4,135.1 161.6,132.8 161.8,131.7 162.0,128.8 162.2,127.2 162.4,129.5 162.6,128.6 162.8,131.6 163.0,133.2 163.2,133.5 163.4,130.0 163.6,119.5 163.8,112.5 164.0,105.1 164.2,104.9 164.4,102.6 164.6,108.4 164.8,115.3 165.0,120.8 165.2,121.4 165.4,118.0 165.6,118.1 165.8,112.0 166.0,117.7 166.2,128.2 166.4,138.3 166.7,132.3 166.9,122.8 167.1,115.7 167.3,110.1 167.5,114.5 167.7,115.1 167.9,120.1 168.1,123.1 168.3,121.6 168.5,115.1 168.7,110.9 168.9,105.5 169.1,105.2 169.3,109.9 169.5,115.3 169.7,121.5 169.9,128.6 170.1,129.3 170.3,126.6 170.5,122.7 170.7,114.7 170.9,114.7 171.1,121.7 171.3,128.7 171.5,139.8 171.7,141.0 171.9,139.4 172.1,132.4 172.3,129.4 172.5,130.0 172.7,129.1 172.9,132.1 173.1,138.2 173.3,144.9 173.5,144.0 173.7,135.4 173.9,127.1 174.1,122.0 174.3,117.7 174.5,114.8 174.7,120.1 174.9,125.2 175.1,130.7 175.3,131.2 175.5,123.7 175.7,120.3 175.9,115.6 176.1,114.2 176.3,110.3 176.5,118.6 176.7,127.4 176.9,133.2 177.1,140.5 177.3,142.1 177.5,140.7 177.7,140.9 177.9,136.9 178.1,136.6 178.3,142.5 178.5,144.1 178.7,143.3 178.9,147.5 179.1,149.9 179.3,147.3 179.5,138.9 179.7,130.6 179.9,127.7 180.1,123.0 180.3,130.5 180.5,138.2 180.7,145.1 180.9,143.8 181.1,135.2 181.3,126.8 181.5,122.6 181.7,119.1 181.9,112.9 182.1,110.7 182.3,123.1 182.5,135.2 182.7,136.4 182.9,133.7 183.1,129.4 183.3,125.9 183.5,129.5 183.7,139.3 183.9,152.5 184.1,164.3 184.3,174.3 184.5,179.1 184.7,184.3 184.9,187.0 185.1,184.7 185.3,180.9 185.5,175.0 185.7,166.4 185.9,157.2 186.1,145.9 186.3,135.6 186.5,128.3 186.7,130.4 186.9,132.6 187.1,135.9 187.3,134.9 187.5,137.3 187.7,142.4 187.9,136.5 188.1,132.2 188.3,127.2 188.5,121.0 188.7,116.5 188.9,118.8 189.1,125.4 189.3,129.7 189.5,130.3 189.7,136.1 189.9,142.3 190.1,141.8 190.3,138.5 190.5,136.5 190.7,134.3 190.9,129.9 191.1,131.6 191.3,139.5 191.5,146.7 191.7,155.1 191.9,155.8 192.1,153.8 192.3,148.1 192.5,148.2 192.7,144.4 192.9,143.9 193.1,148.9 193.3,153.6 193.5,156.9 193.7,155.7 193.9,148.2 194.1,144.9 194.3,142.7 194.5,135.3 194.7,133.7 195.0,138.0 195.2,141.2 195.4,146.3 195.6,146.8 195.8,140.2 196.0,131.8 196.2,126.1 196.4,128.0 196.6,131.4 196.8,137.4 197.0,139.4 197.2,140.2 197.4,140.5 197.6,135.7 197.8,132.7 198.0,130.7 198.2,127.8 198.4,127.3 198.6,131.5 198.8,135.7 199.0,141.9 199.2,146.4 199.4,147.6 199.6,148.8 199.8,145.4 200.0,143.7 200.2,138.0 200.4,129.6 200.6,127.7 200.8,130.3 201.0,133.8 201.2,134.6 201.4,132.2 201.6,133.7 201.8,126.0 202.0,121.6 202.2,120.3 202.4,116.8 202.6,119.0 202.8,124.6 203.0,129.1 203.2,134.9 203.4,140.7 203.6,136.8 203.8,131.0 204.0,129.5 204.2,131.7 204.4,133.1 204.6,135.8 204.8,136.5 205.0,131.8 205.2,125.9 205.4,119.3 205.6,117.2 205.8,111.7 206.0,109.9 206.2,110.3 206.4,117.3 206.6,122.9 206.8,124.3 207.0,127.7 207.2,128.0 207.4,128.6 207.6,124.6 207.8,123.1 208.0,116.3 208.2,112.5 208.4,108.0 208.6,103.0 208.8,98.2 209.0,96.0 209.2,98.7 209.4,106.1 209.6,113.2 209.8,118.0 210.0,120.4 210.2,118.7 210.4,122.6 210.6,130.8 210.8,140.3 211.0,138.8 211.2,134.8 211.4,126.6 211.6,121.8 211.8,112.7 212.0,104.8 212.2,104.4 212.4,111.9 212.6,113.5 212.8,119.1 213.0,118.8 213.2,103.5 213.4,91.7 213.6,96.1 213.8,106.7 214.0,108.8 214.2,118.1 214.4,125.0 214.6,124.6 214.8,122.2 215.0,122.8 215.2,120.8 215.4,120.3 215.6,127.7 215.8,131.3 216.0,133.0 216.2,135.7 216.4,131.3 216.6,127.0 216.8,125.0 217.0,121.7 217.2,117.4 217.4,116.8 217.6,121.7 217.8,124.9 218.0,127.5 218.2,123.9 218.4,122.1 218.6,118.3 218.8,111.4 219.0,110.3 219.2,112.3 219.4,116.2 219.6,119.5 219.8,122.1 220.0,119.9 220.2,118.1 220.4,114.7 220.6,115.8 220.8,118.5 221.0,125.0 221.2,130.6 221.4,135.4 221.6,139.3 221.8,135.5 222.0,128.3 222.2,124.1 222.4,129.3 222.6,134.8 222.8,138.7 223.0,141.0 223.3,135.6 223.5,131.9 223.7,127.7 223.9,124.0 224.1,117.5 224.3,113.3 224.5,114.4 224.7,119.7 224.9,121.1 225.1,120.5 225.3,112.7 225.5,105.1 225.7,110.3 225.9,118.6 226.1,124.5 226.3,121.3 226.5,119.6 226.7,118.1 226.9,115.3 227.1,122.0 227.3,124.7 227.5,126.5 227.7,131.2 227.9,136.7 228.1,140.7 228.3,140.4 228.5,133.5 228.7,125.5 228.9,125.5 229.1,129.5 229.3,131.0 229.5,131.2 229.7,133.5 229.9,136.8 230.1,136.5 230.3,133.1 230.5,130.4 230.7,128.4 230.9,124.8 231.1,127.8 231.3,133.0 231.5,136.6 231.7,134.2 231.9,131.6 232.1,129.4 232.3,125.3 232.5,126.7 232.7,130.9 232.9,133.9 233.1,134.3 233.3,132.2 233.5,130.5 233.7,128.5 233.9,126.8 234.1,124.9 234.3,127.7 234.5,130.9 234.7,133.9 234.9,135.6 235.1,137.4 235.3,135.3 235.5,132.1 235.7,127.9 235.9,129.2 236.1,132.7 236.3,138.0 236.5,141.4 236.7,141.2 236.9,141.0 237.1,138.4 237.3,135.3 237.5,131.7 237.7,129.8 237.9,130.4 238.1,129.8 238.3,132.2 238.5,136.0 238.7,136.6 238.9,133.5 239.1,124.8 239.3,121.1 239.5,116.9 239.7,116.7 239.9,120.9 240.1,125.4 240.3,130.8 240.5,132.9 240.7,133.0 240.9,129.5 241.1,125.2 241.3,122.0 241.5,120.0 241.7,124.9 241.9,128.5 242.1,130.0 242.3,132.1 242.5,139.0 242.7,140.5 242.9,138.0 243.1,133.1 243.3,126.9 243.5,130.0 243.7,133.3 243.9,136.2 244.1,133.3 244.3,128.2 244.5,123.2 244.7,114.7 244.9,114.9 245.1,118.3 245.3,122.0 245.5,122.8 245.7,123.3 245.9,119.4 246.1,114.6 246.3,115.9 246.5,122.0 246.7,127.9 246.9,124.8 247.1,122.8 247.3,120.6 247.5,121.4 247.7,123.0 247.9,126.1 248.1,131.2 248.3,134.4 248.5,132.9 248.7,132.0 248.9,129.3 249.1,127.9 249.3,124.2 249.5,125.4 249.7,127.7 249.9,130.3 250.1,131.5 250.3,135.7 250.5,126.9 250.7,118.0 250.9,117.0 251.1,121.0 251.3,123.2 251.6,123.8 251.8,118.5 252.0,111.7 252.2,106.4 252.4,105.2 252.6,108.7 252.8,108.3 253.0,109.0 253.2,113.6 253.4,118.1 253.6,120.3 253.8,120.9 254.0,120.3 254.2,118.9 254.4,117.3 254.6,119.2 254.8,120.6 255.0,124.5 255.2,123.7 255.4,126.8 255.6,126.7 255.8,121.0 256.0,116.6 256.2,113.9 256.4,107.5 256.6,106.1 256.8,106.7 257.0,110.0 257.2,114.6 257.4,118.6 257.6,121.8 257.8,126.3 258.0,129.3 258.2,126.3 258.4,123.4 258.6,120.5 258.8,119.9 259.0,123.6 259.2,127.4 259.4,131.4 259.6,134.7 259.8,137.5 260.0,137.1 260.2,135.2 260.4,130.8 260.6,128.2 260.8,129.3 261.0,133.3 261.2,134.8 261.4,134.3 261.6,129.9 261.8,126.1 262.0,120.1 262.2,116.5 262.4,119.1 262.6,122.5 262.8,128.0 263.0,128.0 263.2,128.4 263.4,127.6 263.6,125.1 263.8,123.3 264.0,124.7 264.2,126.6 264.4,129.5 264.6,130.3 264.8,133.4 265.0,134.6 265.2,128.5 265.4,125.1 265.6,122.8 265.8,121.7 266.0,118.3 266.2,115.8 266.4,116.7 266.6,117.0 266.8,118.8 267.0,121.0 267.2,121.3 267.4,115.8 267.6,110.2 267.8,109.3 268.0,110.6 268.2,111.1 268.4,113.4 268.6,116.7 268.8,119.9 269.0,119.0 269.2,117.8 269.4,114.3 269.6,113.1 269.8,111.4 270.0,110.3 270.2,110.8 270.4,113.2 270.6,116.3 270.8,119.8 271.0,120.1 271.2,122.1 271.4,123.6 271.6,123.2 271.8,122.6 272.0,121.2 272.2,118.4 272.4,116.0 272.6,117.1 272.8,117.4 273.0,117.9 273.2,118.8 273.4,120.5 273.6,114.1 273.8,108.0 274.0,102.9 274.2,99.1 274.4,104.9 274.6,107.5 274.8,109.9 275.0,103.8 275.2,96.6 275.4,92.2 275.6,89.6 275.8,92.5 276.0,97.8 276.2,102.9 276.4,107.5 276.6,110.9 276.8,109.9 277.0,106.9 277.2,104.5 277.4,102.8 277.6,107.9 277.8,109.8 278.0,115.6 278.2,120.4 278.4,121.7 278.6,118.0 278.8,113.1 279.0,106.8 279.2,100.3 279.4,99.7 279.6,102.5 279.9,102.0 280.1,100.6 280.3,97.1 280.5,90.9 280.7,85.9 280.9,82.8 281.1,82.0 281.3,82.3 281.5,82.1 281.7,83.4 281.9,87.9 282.1,96.2 282.3,101.0 282.5,99.2 282.7,97.3 282.9,96.6 283.1,96.8 283.3,101.8 283.5,111.1 283.7,117.0 283.9,114.2 284.1,110.3 284.3,109.2 284.5,105.2 284.7,99.0 284.9,94.9 285.1,93.2 285.3,94.4 285.5,97.9 285.7,100.1 285.9,97.2 286.1,90.0 286.3,90.4 286.5,88.2 286.7,91.9 286.9,97.9 287.1,105.7 287.3,109.5 287.5,109.2 287.7,105.6 287.9,105.4 288.1,104.7 288.3,106.7 288.5,112.4 288.7,114.1 288.9,114.3 289.1,112.5 289.3,107.3 289.5,101.4 289.7,102.2 289.9,105.8 290.1,111.2 290.3,107.0 290.5,102.5 290.7,95.7 290.9,90.3 291.1,94.5 291.3,101.5 291.5,108.0 291.7,112.6 291.9,116.3 292.1,110.7 292.3,105.8 292.5,103.8 292.7,102.8 292.9,103.1 293.1,106.6 293.3,109.3 293.5,114.3 293.7,117.2 293.9,119.8 294.1,119.6 294.3,116.4 294.5,113.6 294.7,107.8 294.9,104.8 295.1,102.6 295.3,100.9 295.5,102.6 295.7,102.3 295.9,103.5 296.1,105.7 296.3,107.9 296.5,109.9 296.7,109.1 296.9,105.7 297.1,104.0 297.3,104.5 297.5,104.2 297.7,106.1 297.9,111.8 298.1,118.0 298.3,122.5 298.5,128.0 298.7,127.7 298.9,126.6 299.1,126.1 299.3,126.9 299.5,129.1 299.7,134.5 299.9,139.3 300.1,145.5 300.3,145.2 300.5,141.4 300.7,137.4 300.9,135.5 301.1,131.3 301.3,137.3 301.5,145.4 301.7,144.8 301.9,142.0 302.1,138.7 302.3,137.6 302.5,135.7 302.7,133.1 302.9,136.8 303.1,140.1 303.3,141.7 303.5,140.1 303.7,135.7 303.9,132.1 304.1,135.9 304.3,139.4 304.5,141.8 304.7,148.0 304.9,149.7 305.1,148.0 305.3,147.2 305.5,147.8 305.7,145.8 305.9,145.8 306.1,151.1 306.3,158.0 306.5,161.2 306.7,165.9 306.9,163.3 307.1,161.4 307.3,161.1 307.5,156.6 307.7,160.4 307.9,162.9 308.2,165.8 308.4,170.9 308.6,171.3 308.8,165.6 309.0,157.7 309.2,152.5 309.4,155.0 309.6,159.7 309.8,163.2 310.0,158.4 310.2,155.0 310.4,148.2 310.6,140.7 310.8,138.5 311.0,144.3 311.2,151.2 311.4,158.8 311.6,164.7 311.8,165.1 312.0,163.1 312.2,161.6 312.4,160.7 312.6,159.2 312.8,159.3 313.0,167.8 313.2,177.5 313.4,184.1 313.6,189.8 313.8,191.0 314.0,190.1 314.2,193.1 314.4,196.8 314.6,199.0 314.8,195.9 315.0,188.7 315.2,183.9 315.4,177.9 315.6,166.4 315.8,155.0 316.0,157.4 316.2,164.9 316.4,174.6 316.6,181.0 316.8,193.7 317.0,187.1 317.2,178.7 317.4,169.6 317.6,178.6 317.8,189.5 318.0,198.4 318.2,184.0 318.4,172.1 318.6,160.2 318.8,165.4 319.0,175.2 319.2,181.9 319.4,182.3 319.6,176.2 319.8,168.5 320.0,163.6 320.2,157.4 320.4,161.2 320.6,163.2 320.8,162.0 321.0,162.4 321.2,162.3 321.4,159.2 321.6,155.6 321.8,156.8 322.0,153.2 322.2,148.8 322.4,146.8 322.6,154.5 322.8,161.8 323.0,168.9 323.2,172.2 323.4,161.3 323.6,153.1 323.8,148.1 324.0,152.1 324.2,155.0 324.4,158.3 324.6,162.2 324.8,161.8 325.0,151.3 325.2,139.5 325.4,144.1 325.6,145.6 325.8,148.3 326.0,154.7 326.2,145.8 326.4,143.5 326.6,137.5 326.8,134.7 327.0,145.3 327.2,153.8 327.4,161.6 327.6,167.0 327.8,160.8 328.0,155.9 328.2,154.4 328.4,158.1 328.6,158.8 328.8,160.3 329.0,166.1 329.2,161.4 329.4,155.0 329.6,149.3 329.8,143.6 330.0,140.2 330.2,143.3 330.4,145.8 330.6,150.6 330.8,152.1 331.0,158.2 331.2,160.0 331.4,152.9 331.6,147.6 331.8,145.3 332.0,144.7 332.2,143.5 332.4,141.4 332.6,146.3 332.8,150.0 333.0,157.1 333.2,166.5 333.4,164.9 333.6,162.2 333.8,162.1 334.0,159.8 334.2,157.2 334.4,161.2 334.6,167.5 334.8,168.8 335.0,168.0 335.2,164.6 335.4,156.3 335.6,147.6 335.8,143.6 336.0,144.2 336.2,146.9 336.5,150.4 336.7,156.3 336.9,160.9 337.1,164.5 337.3,161.4 337.5,159.1 337.7,160.6 337.9,159.7 338.1,158.6 338.3,161.3 338.5,163.7 338.7,164.6 338.9,164.9 339.1,166.2 339.3,167.0 339.5,165.2 339.7,161.4 339.9,157.4 340.1,155.4 340.3,152.6 340.5,150.6 340.7,149.8 340.9,151.7 341.1,153.1 341.3,156.6 341.5,159.1 341.7,161.9 341.9,161.6 342.1,158.0 342.3,153.0 342.5,152.3 342.7,156.7 342.9,160.1 343.1,155.2 343.3,149.3 343.5,141.9 343.7,142.5 343.9,143.6 344.1,145.5 344.3,144.9 344.5,144.5 344.7,146.6 344.9,147.5 345.1,147.8 345.3,148.6 345.5,149.7 345.7,158.4 345.9,165.5 346.1,175.1 346.3,178.8 346.5,173.9 346.7,169.5 346.9,167.7 347.1,163.4 347.3,163.7 347.5,168.5 347.7,175.3 347.9,177.6 348.1,184.2 348.3,189.3 348.5,189.4 348.7,192.7 348.9,197.6 349.1,199.8 349.3,198.1 349.5,193.6 349.7,189.0 349.9,184.8 350.1,174.5 350.3,164.6 350.5,158.9 350.7,160.5 350.9,165.7 351.1,171.3 351.3,169.3 351.5,170.6 351.7,169.0 351.9,166.7 352.1,164.2 352.3,167.6 352.5,172.3 352.7,179.5 352.9,185.3 353.1,189.4 353.3,190.9 353.5,184.3 353.7,179.5 353.9,174.8 354.1,172.6 354.3,177.8 354.5,184.7 354.7,189.5 354.9,185.5 355.1,177.8 355.3,169.0 355.5,162.3 355.7,158.5 355.9,152.1 356.1,157.2 356.3,166.6 356.5,176.1 356.7,180.4 356.9,170.8 357.1,161.3 357.3,164.0 357.5,173.4 357.7,182.1 357.9,186.5 358.1,179.5 358.3,172.2 358.5,174.7 358.7,178.6 358.9,180.7 359.1,184.1 359.3,182.7 359.5,181.1 359.7,170.5 359.9,160.5 360.1,152.9 360.3,152.8 360.5,153.9 360.7,153.9 360.9,152.1 361.1,152.8 361.3,151.9 361.5,148.9 361.7,140.3 361.9,136.1 362.1,134.6 362.3,142.2 362.5,144.0 362.7,145.4 362.9,143.4 363.1,134.0 363.3,125.5 363.5,117.7 363.7,111.8 363.9,110.0 364.1,112.2 364.3,118.6 364.5,128.6 364.8,133.4 365.0,134.5 365.2,130.3 365.4,126.5 365.6,136.6 365.8,141.3 366.0,150.0 366.2,143.3 366.4,134.5 366.6,128.7 366.8,125.0 367.0,139.3 367.2,150.2 367.4,155.6 367.6,150.0 367.8,144.6 368.0,147.9 368.2,155.0 368.4,160.8 368.6,167.1 368.8,168.9 369.0,177.5 369.2,185.4 369.4,179.6 369.6,173.6 369.8,170.4 370.0,167.7 370.2,171.9 370.4,174.1 370.6,178.3 370.8,170.9 371.0,165.3 371.2,160.0 371.4,153.8 371.6,148.3 371.8,152.9 372.0,158.6 372.2,163.0 372.4,168.2 372.6,173.4 372.8,180.6 373.0,180.7 373.2,174.5 373.4,171.5 373.6,176.2 373.8,193.1 374.0,210.0 374.2,225.1 374.4,235.3 374.6,238.6 374.8,235.1 375.0,225.0 375.2,210.6 375.4,195.5 375.6,184.0 375.8,179.0 376.0,177.5 376.2,176.6 376.4,177.7 376.6,178.8 376.8,172.3 377.0,166.7 377.2,162.3 377.4,156.2 377.6,151.4 377.8,156.5 378.0,158.4 378.2,161.7 378.4,159.8 378.6,153.7 378.8,146.5 379.0,147.9 379.2,153.9 379.4,159.9 379.6,162.8 379.8,168.8 380.0,174.6 380.2,170.4 380.4,167.5 380.6,165.7 380.8,161.0 381.0,157.1 381.2,159.0 381.4,157.1 381.6,158.7 381.8,160.9 382.0,164.9 382.2,165.3 382.4,162.8 382.6,160.5 382.8,155.2 383.0,148.6 383.2,146.1 383.4,140.3 383.6,145.5 383.8,148.2 384.0,151.3 384.2,159.4 384.4,155.6 384.6,149.2 384.8,142.5 385.0,148.7 385.2,150.2 385.4,158.1 385.6,168.3 385.8,172.3 386.0,179.0 386.2,178.8 386.4,176.1 386.6,177.1 386.8,178.3 387.0,179.9 387.2,190.6 387.4,200.2 387.6,208.3 387.8,211.9 388.0,212.7 388.2,211.9 388.4,209.7 388.6,203.4 388.8,191.8 389.0,181.2 389.2,170.5 389.4,170.4 389.6,170.8 389.8,172.7 390.0,168.8 390.2,168.4 390.4,162.9 390.6,155.7 390.8,158.4 391.0,165.3 391.2,173.2 391.4,179.8 391.6,188.6 391.8,183.7 392.0,180.7 392.2,172.1 392.4,167.7 392.6,168.2 392.8,173.7 393.1,179.4 393.3,185.5 393.5,194.0 393.7,198.4 393.9,192.7 394.1,187.7 394.3,181.8 394.5,177.2 394.7,176.0 394.9,172.3 395.1,174.4 395.3,177.4 395.5,180.9 395.7,184.2 395.9,189.5 396.1,191.9 396.3,182.0 396.5,178.9 396.7,169.9 396.9,164.6 397.1,166.0 397.3,171.6 397.5,177.3 397.7,183.3 397.9,179.5 398.1,175.0 398.3,173.4 398.5,171.9 398.7,169.1 398.9,166.5 399.1,168.9 399.3,176.0 399.5,185.4 399.7,192.1 399.9,191.5 400.1,189.9 400.3,187.0 400.5,182.4 400.7,176.2 400.9,169.9 401.1,172.9 401.3,177.6 401.5,178.7 401.7,168.0 401.9,160.5 402.1,150.9 402.3,144.1 402.5,150.1 402.7,156.4 402.9,160.3 403.1,165.3 403.3,171.7 403.5,167.6 403.7,160.0 403.9,156.7 404.1,154.4 404.3,150.8 404.5,153.6 404.7,155.3 404.9,162.1 405.1,165.2 405.3,167.2 405.5,172.3 405.7,169.3 405.9,162.9 406.1,152.6 406.3,148.9 406.5,151.2 406.7,155.7 406.9,161.0 407.1,161.0 407.3,158.2 407.5,155.9 407.7,148.8 407.9,141.1 408.1,136.8 408.3,140.5 408.5,148.1 408.7,154.5 408.9,158.4 409.1,157.6 409.3,154.4 409.5,151.9 409.7,151.8 409.9,148.3 410.1,154.1 410.3,160.0 410.5,166.4 410.7,173.8 410.9,180.4 411.1,176.3 411.3,174.4 411.5,170.6 411.7,167.7 411.9,165.0 412.1,160.6 412.3,164.1 412.5,170.2 412.7,177.9 412.9,178.8 413.1,170.7 413.3,165.5 413.5,159.4 413.7,150.7 413.9,154.9 414.1,159.1 414.3,164.3 414.5,167.4 414.7,160.8 414.9,162.1 415.1,163.2 415.3,164.6 415.5,167.5 415.7,175.8 415.9,183.0 416.1,188.1 416.3,191.4 416.5,195.1 416.7,186.1 416.9,178.2 417.1,169.3 417.3,163.2 417.5,164.4 417.7,170.1 417.9,174.2 418.1,177.6 418.3,172.1 418.5,167.8 418.7,164.8 418.9,159.5 419.1,157.5 419.3,165.2 419.5,171.7 419.7,178.5 419.9,180.7 420.1,178.3 420.3,179.1 420.5,175.5 420.7,173.3 420.9,167.8 421.1,169.2 421.3,175.0 421.6,183.5 421.8,189.3 422.0,194.9 422.2,191.2 422.4,184.7 422.6,181.9 422.8,178.0 423.0,174.9 423.2,177.4 423.4,181.0 423.6,183.9 423.8,174.3 424.0,168.3 424.2,161.4 424.4,158.5 424.6,158.2 424.8,164.4 425.0,169.5 425.2,173.2 425.4,177.4 425.6,182.8 425.8,179.4 426.0,175.9 426.2,172.3 426.4,173.1 426.6,172.7 426.8,172.6 427.0,174.3 427.2,175.6 427.4,179.2 427.6,176.9 427.8,171.0 428.0,163.7 428.2,159.6 428.4,156.2 428.6,156.6 428.8,159.5 429.0,164.6 429.2,170.2 429.4,175.1 429.6,176.8 429.8,179.6 430.0,175.9 430.2,170.4 430.4,167.1 430.6,170.8 430.8,176.0 431.0,179.5 431.2,182.8 431.4,186.2 431.6,189.0 431.8,185.0 432.0,179.3 432.2,170.4 432.4,162.9 432.6,156.8 432.8,155.5 433.0,159.7 433.2,161.2 433.4,160.0 433.6,163.4 433.8,163.2 434.0,161.7 434.2,162.5 434.4,160.6 434.6,161.3 434.8,160.6 435.0,165.1 435.2,170.3 435.4,171.4 435.6,173.9 435.8,177.3 436.0,176.7 436.2,173.8 436.4,171.3 436.6,168.5 436.8,169.4 437.0,172.3 437.2,173.5 437.4,175.7 437.6,179.0 437.8,178.0 438.0,173.5 438.2,168.7 438.4,163.8 438.6,168.9 438.8,173.0 439.0,173.6 439.2,173.3 439.4,170.1 439.6,165.1 439.8,161.5 440.0,162.7 440.2,164.2 440.4,165.2 440.6,163.9 440.8,166.8 441.0,164.8 441.2,163.2 441.4,161.9 441.6,162.0 441.8,159.4 442.0,159.8 442.2,166.1 442.4,173.7 442.6,180.7 442.8,185.4 443.0,180.9 443.2,180.5 443.4,178.5 443.6,173.5 443.8,166.4 444.0,165.1 444.2,165.8 444.4,170.3 444.6,172.3 444.8,174.2 445.0,176.5 445.2,174.9 445.4,169.2 445.6,164.3 445.8,158.1 446.0,155.4 446.2,150.8 446.4,148.2 446.6,148.9 446.8,149.2 447.0,153.1 447.2,159.1 447.4,164.3 447.6,166.5 447.8,164.2 448.0,156.7 448.2,149.3 448.4,153.5 448.6,163.2 448.8,171.9 449.0,174.3 449.2,172.5 449.4,169.7 449.6,162.9 449.9,173.0 450.1,183.3 450.3,193.5 450.5,200.8 450.7,190.4 450.9,177.8 451.1,171.4 451.3,181.0 451.5,185.5 451.7,190.1 451.9,177.5 452.1,164.4 452.3,159.5 452.5,162.1 452.7,167.2 452.9,171.3 453.1,169.5 453.3,173.5 453.5,173.5 453.7,165.7 453.9,161.6 454.1,158.6 454.3,159.3 454.5,169.1 454.7,175.6 454.9,181.1 455.1,189.3 455.3,192.9 455.5,185.1 455.7,175.8 455.9,169.9 456.1,164.6 456.3,164.2 456.5,165.1 456.7,164.3 456.9,165.8 457.1,170.9 457.3,174.0 457.5,171.3 457.7,169.0 457.9,169.1 458.1,167.1 458.3,165.0 458.5,173.0 458.7,181.3 458.9,185.2 459.1,187.6 459.3,184.5 459.5,179.1 459.7,173.3 459.9,163.3 460.1,160.9 460.3,167.7 460.5,172.6 460.7,173.0 460.9,167.1 461.1,162.0 461.3,155.4 461.5,156.9 461.7,158.9 461.9,167.4 462.1,171.0 462.3,166.4 462.5,163.8 462.7,162.6 462.9,166.0 463.1,173.4 463.3,183.6 463.5,196.2 463.7,203.7 463.9,212.7 464.1,222.1 464.3,229.9 464.5,233.0 464.7,229.9 464.9,222.6 465.1,214.0 465.3,203.6 465.5,190.3 465.7,179.3 465.9,167.6 466.1,159.7 466.3,161.7 466.5,161.9 466.7,163.8 466.9,167.3 467.1,170.6 467.3,166.5 467.5,160.2 467.7,158.0 467.9,167.2 468.1,178.9 468.3,176.5 468.5,161.2 468.7,153.7 468.9,160.3 469.1,166.0 469.3,172.2 469.5,178.1 469.7,183.7 469.9,192.7 470.1,189.7 470.3,185.0 470.5,181.9 470.7,180.5 470.9,171.9 471.1,170.7 471.3,174.0 471.5,177.5 471.7,181.4 471.9,182.2 472.1,178.4 472.3,168.6 472.5,163.6 472.7,156.0 472.9,151.7 473.1,143.9 473.3,141.0 473.5,148.6 473.7,157.2 473.9,164.0 474.1,162.6 474.3,157.9 474.5,157.0 474.7,152.1 474.9,149.0 475.1,147.8 475.3,157.8 475.5,165.2 475.7,174.5 475.9,179.5 476.1,174.1 476.3,169.9 476.5,168.6 476.7,160.7 476.9,157.8 477.1,165.8 477.3,173.5 477.5,175.9 477.7,183.7 477.9,177.9 478.2,170.7 478.4,165.1 478.6,163.6 478.8,155.4 479.0,148.0 479.2,156.8 479.4,166.6 479.6,173.5 479.8,175.7 480.0,177.0 480.2,184.6 480.4,193.6 480.6,203.9 480.8,213.6 481.0,216.4 481.2,214.5 481.4,207.5 481.6,195.5 481.8,181.3 482.0,173.3 482.2,168.6 482.4,172.0 482.6,176.6 482.8,177.2 483.0,183.0 483.2,183.2 483.4,177.7 483.6,172.7 483.8,170.2 484.0,167.7 484.2,160.0 484.4,154.6 484.6,161.9 484.8,164.0 485.0,161.1 485.2,165.8 485.4,162.8 485.6,150.2 485.8,144.9 486.0,135.2 486.2,130.7 486.4,130.0 486.6,132.6 486.8,138.0 487.0,145.1 487.2,152.1 487.4,161.6 487.6,171.0 487.8,169.6 488.0,165.2 488.2,157.3 488.4,150.1 488.6,152.9 488.8,158.5 489.0,161.6 489.2,159.5 489.4,160.8 489.6,163.1 489.8,161.8 490.0,151.7 490.2,140.8 490.4,132.6 490.6,126.8 490.8,136.9 491.0,151.7 491.2,168.3 491.4,163.9 491.6,155.1 491.8,149.9 492.0,147.8 492.2,151.1 492.4,160.0 492.6,172.4 492.8,180.4 493.0,185.3 493.2,186.7 493.4,185.9 493.6,182.4 493.8,180.8 494.0,178.1 494.2,171.1 494.4,174.7 494.6,179.2 494.8,182.6 495.0,183.3 495.2,182.2 495.4,164.6 495.6,145.2 495.8,140.6 496.0,152.9 496.2,162.0 496.4,170.3 496.6,180.9 496.8,177.9 497.0,176.1 497.2,178.8 497.4,172.8 497.6,172.1 497.8,175.3 498.0,173.8 498.2,181.1 498.4,188.0 498.6,189.2 498.8,192.8 499.0,194.5 499.2,187.7 499.4,183.4 499.6,177.7 499.8,167.0 500.0,160.4 500.2,155.6 500.4,159.5 500.6,162.2 500.8,165.3 501.0,172.8 501.2,173.3 501.4,161.2 501.6,157.7 501.8,148.1 502.0,139.4 502.2,132.1 502.4,131.4 502.6,136.5 502.8,143.9 503.0,150.4 503.2,147.4 503.4,136.2 503.6,128.4 503.8,124.0 504.0,118.3 504.2,123.2 504.4,135.2 504.6,141.8 504.8,147.7 505.0,157.5 505.2,153.9 505.4,154.1 505.6,150.2 505.8,145.0 506.0,135.5 506.2,126.8 506.5,124.9 506.7,117.7 506.9,109.5 507.1,106.0 507.3,109.8 507.5,117.3 507.7,121.5 507.9,122.8 508.1,125.1 508.3,127.1 508.5,128.5 508.7,132.8 508.9,141.2 509.1,150.9 509.3,155.5 509.5,155.0 509.7,151.9 509.9,151.4 510.1,147.6 510.3,141.0 510.5,148.3 510.7,160.0 510.9,166.8 511.1,177.3 511.3,184.6 511.5,180.4 511.7,174.2 511.9,168.8 512.1,163.1 512.3,159.5 512.5,152.1 512.7,154.5 512.9,162.8 513.1,170.6 513.3,160.0 513.5,151.6 513.7,145.1 513.9,147.0 514.1,150.9 514.3,151.0 514.5,155.7 514.7,155.2 514.9,150.0 515.1,144.4 515.3,142.9 515.5,141.0 515.7,140.1 515.9,137.0 516.1,141.4 516.3,147.0 516.5,149.5 516.7,154.6 516.9,157.9 517.1,154.9 517.3,152.6 517.5,149.1 517.7,148.7 517.9,160.0 518.1,166.3 518.3,168.3 518.5,165.7 518.7,163.9 518.9,156.5 519.1,151.7 519.3,154.3 519.5,156.9 519.7,159.2 519.9,164.7 520.1,162.7 520.3,156.5 520.5,147.8"/></g>

<rect x="15.5" y="10.5" width="529.0" height="242.8" fill="none" stroke="#000" stroke-opacity="0.7" stroke-width="0.8"/>
<line x1="13.3" y1="253.30" x2="15.5" y2="253.30" stroke="#000" stroke-opacity="0.7" stroke-width="0.8"/>
<text transform="translate(11.9,255.60) scale(1,1.12)" x="0" y="0" font-size="6.0" text-anchor="end" fill="#000">0.3</text>
<line x1="13.3" y1="209.30" x2="15.5" y2="209.30" stroke="#000" stroke-opacity="0.7" stroke-width="0.8"/>
<text transform="translate(11.9,211.60) scale(1,1.12)" x="0" y="0" font-size="6.0" text-anchor="end" fill="#000">0.4</text>
<line x1="13.3" y1="165.30" x2="15.5" y2="165.30" stroke="#000" stroke-opacity="0.7" stroke-width="0.8"/>
<text transform="translate(11.9,167.60) scale(1,1.12)" x="0" y="0" font-size="6.0" text-anchor="end" fill="#000">0.5</text>
<line x1="13.3" y1="121.30" x2="15.5" y2="121.30" stroke="#000" stroke-opacity="0.7" stroke-width="0.8"/>
<text transform="translate(11.9,123.60) scale(1,1.12)" x="0" y="0" font-size="6.0" text-anchor="end" fill="#000">0.6</text>
<line x1="13.3" y1="77.30" x2="15.5" y2="77.30" stroke="#000" stroke-opacity="0.7" stroke-width="0.8"/>
<text transform="translate(11.9,79.60) scale(1,1.12)" x="0" y="0" font-size="6.0" text-anchor="end" fill="#000">0.7</text>
<line x1="13.3" y1="33.30" x2="15.5" y2="33.30" stroke="#000" stroke-opacity="0.7" stroke-width="0.8"/>
<text transform="translate(11.9,35.60) scale(1,1.12)" x="0" y="0" font-size="6.0" text-anchor="end" fill="#000">0.8</text>
<line x1="57.60" y1="253.3" x2="57.60" y2="255.5" stroke="#000" stroke-opacity="0.7" stroke-width="0.8"/>
<text transform="translate(55.20,256.7) rotate(-30)" x="0" y="4" font-size="5.7" text-anchor="end" fill="#000">1920</text>
<line x1="149.30" y1="253.3" x2="149.30" y2="255.5" stroke="#000" stroke-opacity="0.7" stroke-width="0.8"/>
<text transform="translate(146.90,256.7) rotate(-30)" x="0" y="4" font-size="5.7" text-anchor="end" fill="#000">1940</text>
<line x1="241.00" y1="253.3" x2="241.00" y2="255.5" stroke="#000" stroke-opacity="0.7" stroke-width="0.8"/>
<text transform="translate(238.60,256.7) rotate(-30)" x="0" y="4" font-size="5.7" text-anchor="end" fill="#000">1960</text>
<line x1="332.70" y1="253.3" x2="332.70" y2="255.5" stroke="#000" stroke-opacity="0.7" stroke-width="0.8"/>
<text transform="translate(330.30,256.7) rotate(-30)" x="0" y="4" font-size="5.7" text-anchor="end" fill="#000">1980</text>
<line x1="424.40" y1="253.3" x2="424.40" y2="255.5" stroke="#000" stroke-opacity="0.7" stroke-width="0.8"/>
<text transform="translate(422.00,256.7) rotate(-30)" x="0" y="4" font-size="5.7" text-anchor="end" fill="#000">2000</text>
<line x1="516.10" y1="253.3" x2="516.10" y2="255.5" stroke="#000" stroke-opacity="0.7" stroke-width="0.8"/>
<text transform="translate(513.70,256.7) rotate(-30)" x="0" y="4" font-size="5.7" text-anchor="end" fill="#000">2020</text>
<text x="280" y="8" font-size="6.9" text-anchor="middle" fill="#000">Dowjones - 350 - 10</text>
<rect x="16.8" y="180.4" width="86.3" height="70.19999999999999" rx="1.3" fill="#fff" fill-opacity="0.8" stroke="#ccc" stroke-width="0.6"/>
<line x1="19.6" y1="184.40" x2="30.8" y2="184.40" stroke="#1f77b4" stroke-width="0.9" stroke-opacity="0.75" stroke-dasharray="1.6,0.8"/>
<text x="34.4" y="186.50" font-size="5.75" fill="#000">alg_hurst_hurst</text>
<line x1="19.6" y1="192.09" x2="30.8" y2="192.09" stroke="#ff7f0e" stroke-width="0.9" stroke-opacity="0.75"/>
<text x="34.4" y="194.19" font-size="5.75" fill="#000">alg_hurst_hurst_simplified</text>
<line x1="19.6" y1="199.78" x2="30.8" y2="199.78" stroke="#2ca02c" stroke-width="1.4" stroke-opacity="0.75"/>
<text x="34.4" y="201.88" font-size="5.75" fill="#000">MLP_both</text>
<line x1="19.6" y1="207.47" x2="30.8" y2="207.47" stroke="#d62728" stroke-width="0.9" stroke-opacity="0.75" stroke-dasharray="1.6,0.8"/>
<text x="34.4" y="209.57" font-size="5.75" fill="#000">MLP_flm</text>
<line x1="19.6" y1="215.16" x2="30.8" y2="215.16" stroke="#9467bd" stroke-width="0.9" stroke-opacity="0.75"/>
<text x="34.4" y="217.26" font-size="5.75" fill="#000">MLP_fbm</text>
<line x1="19.6" y1="222.85" x2="30.8" y2="222.85" stroke="#8c564b" stroke-width="0.9" stroke-opacity="0.75" stroke-dasharray="1.6,0.8"/>
<text x="34.4" y="224.95" font-size="5.75" fill="#000">CatBoost_both</text>
<line x1="19.6" y1="230.54" x2="30.8" y2="230.54" stroke="#e377c2" stroke-width="0.9" stroke-opacity="0.75"/>
<text x="34.4" y="232.64" font-size="5.75" fill="#000">CatBoost_flm</text>
<line x1="19.6" y1="238.23" x2="30.8" y2="238.23" stroke="#7f7f7f" stroke-width="0.9" stroke-opacity="0.75" stroke-dasharray="1.6,0.8"/>
<text x="34.4" y="240.33" font-size="5.75" fill="#000">CatBoost_fbm</text>
<line x1="19.6" y1="245.92" x2="30.8" y2="245.92" stroke="#000000" stroke-width="1.7" stroke-opacity="1"/>
<text x="34.4" y="248.02" font-size="5.75" fill="#000">alg_dfa_nolds</text>
</svg></body></html>
